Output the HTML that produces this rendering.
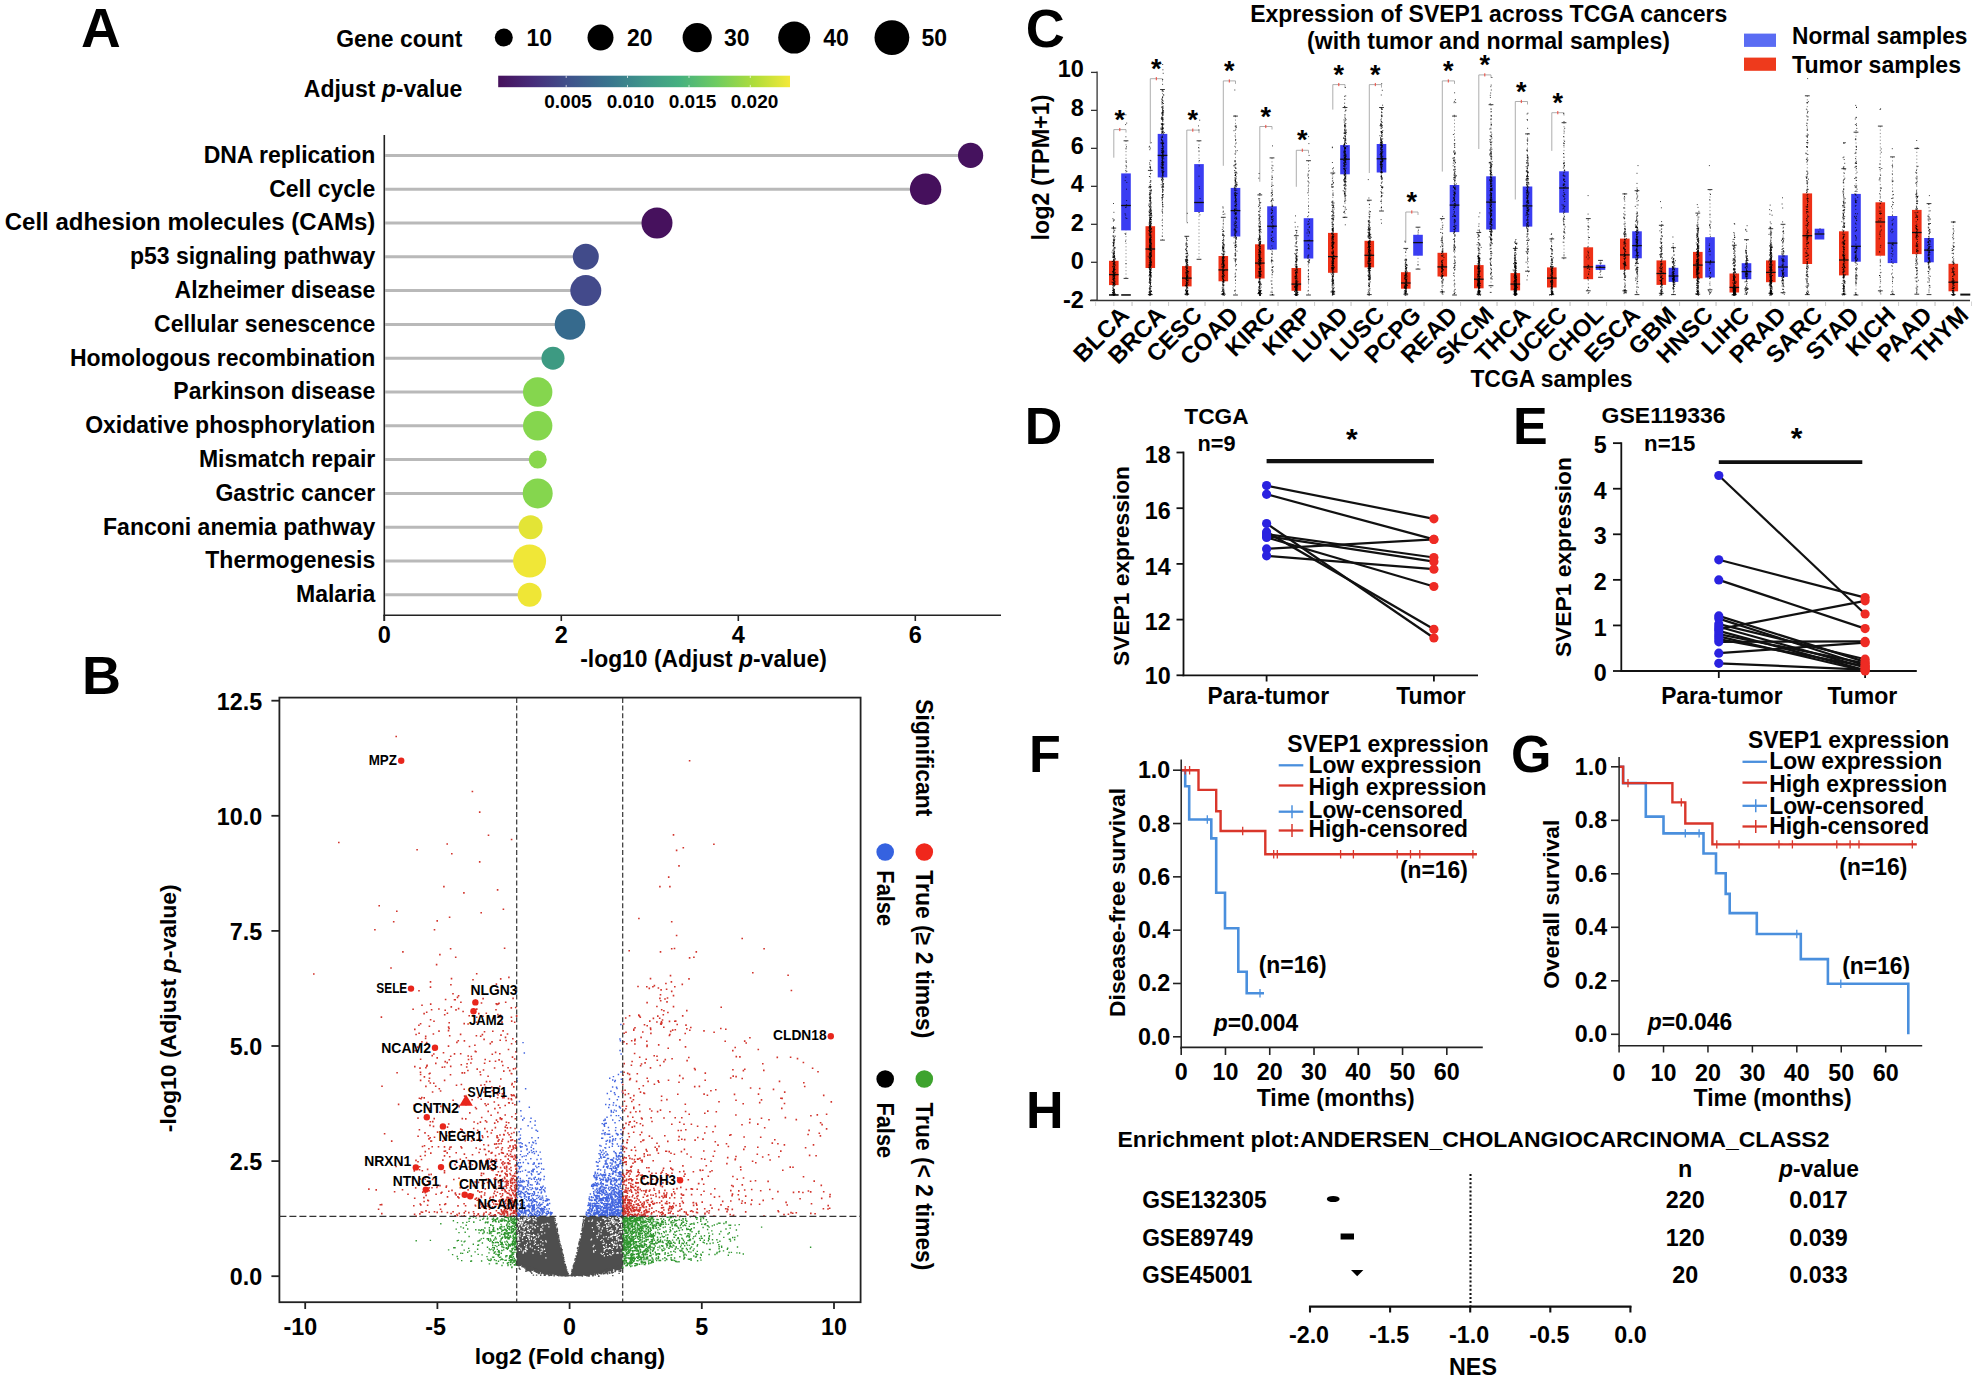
<!DOCTYPE html>
<html><head><meta charset="utf-8"><title>Figure</title>
<style>
html,body{margin:0;padding:0;background:#fff}
svg{display:block}
text{font-family:"Liberation Sans",sans-serif;font-weight:bold;fill:#000}
</style></head><body>
<svg width="1975" height="1380" viewBox="0 0 1975 1380">
<rect width="1975" height="1380" fill="#fff"/>
<text x="81" y="46.6" font-size="55">A</text>
<text x="462.3" y="47.3" font-size="23" text-anchor="end" textLength="126" lengthAdjust="spacingAndGlyphs">Gene count</text>
<circle cx="503.8" cy="37.6" r="9" fill="#000"/>
<text x="526.5" y="46" font-size="23">10</text>
<circle cx="600.5" cy="37.6" r="13" fill="#000"/>
<text x="627" y="46" font-size="23">20</text>
<circle cx="697.2" cy="37.6" r="14.6" fill="#000"/>
<text x="724" y="46" font-size="23">30</text>
<circle cx="794.2" cy="37.6" r="16" fill="#000"/>
<text x="823.3" y="46" font-size="23">40</text>
<circle cx="891.9" cy="37.6" r="17.4" fill="#000"/>
<text x="921.5" y="46" font-size="23">50</text>
<text x="462.3" y="97.2" font-size="23" text-anchor="end" textLength="158.5" lengthAdjust="spacingAndGlyphs">Adjust <tspan font-style="italic">p</tspan>-value</text>
<defs><linearGradient id="vir" x1="0" x2="1" y1="0" y2="0"><stop offset="0" stop-color="#46115c"/><stop offset="0.12" stop-color="#472d7b"/><stop offset="0.25" stop-color="#3f548c"/><stop offset="0.38" stop-color="#38758e"/><stop offset="0.5" stop-color="#3f958a"/><stop offset="0.62" stop-color="#45b080"/><stop offset="0.75" stop-color="#6fcc60"/><stop offset="0.88" stop-color="#b0dd3a"/><stop offset="1" stop-color="#f4e93a"/></linearGradient></defs>
<rect x="498.2" y="75.7" width="291.8" height="11.5" fill="url(#vir)"/>
<line x1="566.2" y1="75.7" x2="566.2" y2="78" stroke="#fff" stroke-width="1" stroke-opacity="0.7"/>
<line x1="566.2" y1="84.9" x2="566.2" y2="87.2" stroke="#fff" stroke-width="1" stroke-opacity="0.7"/>
<line x1="627.5" y1="75.7" x2="627.5" y2="78" stroke="#fff" stroke-width="1" stroke-opacity="0.7"/>
<line x1="627.5" y1="84.9" x2="627.5" y2="87.2" stroke="#fff" stroke-width="1" stroke-opacity="0.7"/>
<line x1="689" y1="75.7" x2="689" y2="78" stroke="#fff" stroke-width="1" stroke-opacity="0.7"/>
<line x1="689" y1="84.9" x2="689" y2="87.2" stroke="#fff" stroke-width="1" stroke-opacity="0.7"/>
<line x1="750.3" y1="75.7" x2="750.3" y2="78" stroke="#fff" stroke-width="1" stroke-opacity="0.7"/>
<line x1="750.3" y1="84.9" x2="750.3" y2="87.2" stroke="#fff" stroke-width="1" stroke-opacity="0.7"/>
<text x="568" y="108" font-size="19" text-anchor="middle">0.005</text>
<text x="630.5" y="108" font-size="19" text-anchor="middle">0.010</text>
<text x="692.5" y="108" font-size="19" text-anchor="middle">0.015</text>
<text x="754.5" y="108" font-size="19" text-anchor="middle">0.020</text>
<line x1="384.3" y1="135" x2="384.3" y2="621" stroke="#222" stroke-width="1.6"/>
<line x1="383.5" y1="615.3" x2="1001" y2="615.3" stroke="#222" stroke-width="1.6"/>
<line x1="384.3" y1="615" x2="384.3" y2="621" stroke="#222" stroke-width="1.6"/>
<text x="384.3" y="643" font-size="23.5" text-anchor="middle">0</text>
<line x1="561.3" y1="615" x2="561.3" y2="621" stroke="#222" stroke-width="1.6"/>
<text x="561.3" y="643" font-size="23.5" text-anchor="middle">2</text>
<line x1="738.3" y1="615" x2="738.3" y2="621" stroke="#222" stroke-width="1.6"/>
<text x="738.3" y="643" font-size="23.5" text-anchor="middle">4</text>
<line x1="915.3" y1="615" x2="915.3" y2="621" stroke="#222" stroke-width="1.6"/>
<text x="915.3" y="643" font-size="23.5" text-anchor="middle">6</text>
<text x="703.5" y="666.7" font-size="23" text-anchor="middle" textLength="246.6" lengthAdjust="spacingAndGlyphs">-log10 (Adjust <tspan font-style="italic">p</tspan>-value)</text>
<line x1="385" y1="155.4" x2="970.6" y2="155.4" stroke="#b9b9b9" stroke-width="3"/>
<circle cx="970.6" cy="155.4" r="12.6" fill="#45125e"/>
<text x="375.3" y="162.70000000000002" font-size="23" text-anchor="end">DNA replication</text>
<line x1="385" y1="189.2" x2="925.6" y2="189.2" stroke="#b9b9b9" stroke-width="3"/>
<circle cx="925.6" cy="189.2" r="15.7" fill="#45105c"/>
<text x="375.3" y="196.5" font-size="23" text-anchor="end">Cell cycle</text>
<line x1="385" y1="223.0" x2="657" y2="223.0" stroke="#b9b9b9" stroke-width="3"/>
<circle cx="657" cy="223.0" r="15.5" fill="#46115d"/>
<text x="375.3" y="230.3" font-size="23" text-anchor="end" textLength="370.5" lengthAdjust="spacingAndGlyphs">Cell adhesion molecules (CAMs)</text>
<line x1="385" y1="256.8" x2="585.8" y2="256.8" stroke="#b9b9b9" stroke-width="3"/>
<circle cx="585.8" cy="256.8" r="13" fill="#414b8a"/>
<text x="375.3" y="264.1" font-size="23" text-anchor="end">p53 signaling pathway</text>
<line x1="385" y1="290.6" x2="585.8" y2="290.6" stroke="#b9b9b9" stroke-width="3"/>
<circle cx="585.8" cy="290.6" r="15.5" fill="#434a8b"/>
<text x="375.3" y="297.90000000000003" font-size="23" text-anchor="end">Alzheimer disease</text>
<line x1="385" y1="324.4" x2="570" y2="324.4" stroke="#b9b9b9" stroke-width="3"/>
<circle cx="570" cy="324.4" r="15.3" fill="#366a8d"/>
<text x="375.3" y="331.7" font-size="23" text-anchor="end">Cellular senescence</text>
<line x1="385" y1="358.2" x2="553" y2="358.2" stroke="#b9b9b9" stroke-width="3"/>
<circle cx="553" cy="358.2" r="11.5" fill="#3d9a82"/>
<text x="375.3" y="365.5" font-size="23" text-anchor="end">Homologous recombination</text>
<line x1="385" y1="392.0" x2="537.7" y2="392.0" stroke="#b9b9b9" stroke-width="3"/>
<circle cx="537.7" cy="392.0" r="14.7" fill="#85d64e"/>
<text x="375.3" y="399.3" font-size="23" text-anchor="end">Parkinson disease</text>
<line x1="385" y1="425.79999999999995" x2="537.7" y2="425.79999999999995" stroke="#b9b9b9" stroke-width="3"/>
<circle cx="537.7" cy="425.79999999999995" r="14.7" fill="#85d64e"/>
<text x="375.3" y="433.09999999999997" font-size="23" text-anchor="end">Oxidative phosphorylation</text>
<line x1="385" y1="459.6" x2="537.7" y2="459.6" stroke="#b9b9b9" stroke-width="3"/>
<circle cx="537.7" cy="459.6" r="9" fill="#88d74c"/>
<text x="375.3" y="466.90000000000003" font-size="23" text-anchor="end">Mismatch repair</text>
<line x1="385" y1="493.4" x2="537.7" y2="493.4" stroke="#b9b9b9" stroke-width="3"/>
<circle cx="537.7" cy="493.4" r="15" fill="#85d64e"/>
<text x="375.3" y="500.7" font-size="23" text-anchor="end">Gastric cancer</text>
<line x1="385" y1="527.1999999999999" x2="530.6" y2="527.1999999999999" stroke="#b9b9b9" stroke-width="3"/>
<circle cx="530.6" cy="527.1999999999999" r="12" fill="#e3e436"/>
<text x="375.3" y="534.4999999999999" font-size="23" text-anchor="end">Fanconi anemia pathway</text>
<line x1="385" y1="561.0" x2="529.6" y2="561.0" stroke="#b9b9b9" stroke-width="3"/>
<circle cx="529.6" cy="561.0" r="16.5" fill="#f0e737"/>
<text x="375.3" y="568.3" font-size="23" text-anchor="end">Thermogenesis</text>
<line x1="385" y1="594.8" x2="529.6" y2="594.8" stroke="#b9b9b9" stroke-width="3"/>
<circle cx="529.6" cy="594.8" r="12" fill="#efe636"/>
<text x="375.3" y="602.0999999999999" font-size="23" text-anchor="end">Malaria</text>
<text x="82" y="693.5" font-size="54">B</text>
<path d="M569.6 1276.2L570.9 1273.9L572.2 1270.5L573.6 1266.5L574.9 1262.1L576.2 1257.3L577.5 1252.1L578.9 1246.7L580.2 1241.1L581.5 1235.2L582.8 1229.1L584.1 1222.9L585.5 1216.4L622.5 1216.3L622.5 1265.6L618.1 1267.1L613.7 1268.5L609.3 1269.8L604.9 1271.0L600.4 1272.0L596.0 1273.0L591.6 1273.8L587.2 1274.5L582.8 1275.1L578.4 1275.6L574.0 1276.0L569.6 1276.2z" fill="#4e4e4e"/>
<path d="M569.6 1276.2L568.3 1273.9L567.0 1270.5L565.6 1266.5L564.3 1262.1L563.0 1257.3L561.7 1252.1L560.3 1246.7L559.0 1241.1L557.7 1235.2L556.4 1229.1L555.1 1222.9L553.7 1216.4L516.7 1216.3L516.7 1265.6L521.1 1264.8L525.5 1266.6L529.9 1268.3L534.3 1269.8L538.8 1271.1L543.2 1272.3L547.6 1273.3L552.0 1274.2L556.4 1274.9L560.8 1275.5L565.2 1275.9L569.6 1276.2z" fill="#4e4e4e"/>
<path d="M605.6 1236.6h1.2M619.2 1245.2h1.2M615.6 1217.1h1.2M612.0 1218.1h1.2M605.8 1244.3h1.2M617.6 1236.3h1.2M611.7 1221.4h1.2M619.8 1219.4h1.2M604.0 1220.0h1.2M588.2 1221.2h1.2M620.6 1229.0h1.2M607.8 1248.8h1.2M614.1 1241.8h1.2M620.3 1222.5h1.2M620.5 1253.0h1.2M593.0 1231.3h1.2M617.1 1252.5h1.2M616.0 1239.1h1.2M619.0 1219.4h1.2M618.3 1239.8h1.2M616.6 1234.6h1.2M611.7 1221.7h1.2M605.4 1219.1h1.2M603.2 1218.2h1.2M612.8 1247.3h1.2M611.5 1218.9h1.2M602.4 1243.7h1.2M612.6 1221.8h1.2M609.8 1237.0h1.2M613.6 1235.1h1.2M596.3 1225.0h1.2M600.6 1253.3h1.2M611.4 1232.1h1.2M601.3 1239.5h1.2M615.1 1233.9h1.2M609.9 1225.8h1.2M606.2 1227.3h1.2M612.0 1243.4h1.2M609.9 1230.2h1.2M619.7 1240.3h1.2M611.5 1249.4h1.2M600.1 1221.6h1.2M610.8 1236.7h1.2M608.2 1222.7h1.2M611.1 1219.9h1.2M600.4 1233.8h1.2M596.7 1237.6h1.2M602.7 1216.5h1.2M621.8 1232.2h1.2M614.3 1222.9h1.2M620.6 1240.1h1.2M620.0 1229.3h1.2M603.6 1243.1h1.2M593.2 1252.2h1.2M619.6 1217.8h1.2M609.2 1254.4h1.2M616.2 1229.2h1.2M609.9 1232.9h1.2M601.6 1228.9h1.2M615.8 1225.9h1.2M621.2 1240.3h1.2M609.0 1244.5h1.2M621.2 1224.9h1.2M614.9 1234.6h1.2M612.2 1222.2h1.2M594.9 1250.4h1.2M603.8 1255.9h1.2M616.8 1245.0h1.2M621.3 1221.2h1.2M619.8 1219.1h1.2M601.6 1254.5h1.2M591.8 1227.6h1.2M604.7 1223.4h1.2M620.4 1216.3h1.2M606.6 1229.7h1.2M616.4 1236.8h1.2M618.9 1235.7h1.2M611.7 1242.2h1.2M613.0 1253.0h1.2M621.7 1232.8h1.2M615.1 1222.0h1.2M608.1 1237.3h1.2M597.2 1224.7h1.2M611.8 1223.2h1.2M607.1 1255.5h1.2M607.3 1226.8h1.2M612.0 1231.6h1.2M605.6 1222.3h1.2M597.6 1226.6h1.2M602.2 1218.1h1.2M615.2 1226.1h1.2M618.3 1217.5h1.2M615.8 1237.7h1.2M618.9 1245.4h1.2M612.0 1218.0h1.2M606.4 1252.5h1.2M615.2 1235.4h1.2M617.5 1253.2h1.2M611.5 1235.8h1.2M609.1 1247.6h1.2M603.7 1249.7h1.2M604.7 1219.5h1.2M603.0 1246.7h1.2M591.0 1239.1h1.2M619.9 1245.8h1.2M620.5 1219.7h1.2M616.3 1237.5h1.2M610.4 1255.2h1.2M606.2 1248.4h1.2M611.0 1242.7h1.2M612.0 1253.6h1.2M590.4 1239.9h1.2M596.3 1235.6h1.2M598.2 1233.0h1.2M612.2 1235.3h1.2M591.3 1221.3h1.2M621.1 1232.1h1.2M603.7 1247.3h1.2M620.0 1220.9h1.2M603.5 1226.5h1.2M615.3 1245.1h1.2M611.3 1230.5h1.2M620.5 1247.8h1.2M601.9 1228.2h1.2M611.8 1232.6h1.2M621.6 1221.5h1.2M613.3 1224.3h1.2M611.0 1220.6h1.2M615.3 1218.1h1.2M616.2 1227.2h1.2M612.6 1218.2h1.2M605.6 1246.1h1.2M598.4 1228.8h1.2M617.8 1240.8h1.2M602.9 1253.6h1.2M613.9 1220.9h1.2M602.9 1241.2h1.2M621.0 1231.6h1.2M620.9 1224.7h1.2M609.2 1219.6h1.2M617.4 1238.8h1.2M616.2 1248.2h1.2M616.5 1218.5h1.2M616.4 1228.2h1.2M619.7 1222.3h1.2M602.9 1218.4h1.2M611.8 1238.1h1.2M616.8 1247.0h1.2M614.6 1245.5h1.2M610.2 1232.7h1.2M609.6 1221.8h1.2M612.0 1251.6h1.2M612.1 1221.1h1.2M618.8 1222.5h1.2M621.3 1218.6h1.2M611.1 1228.9h1.2M604.8 1249.2h1.2M608.6 1216.8h1.2M593.4 1245.4h1.2M621.5 1219.8h1.2M621.2 1226.1h1.2M607.8 1219.0h1.2M606.2 1222.5h1.2M612.8 1220.0h1.2M598.0 1223.1h1.2M614.3 1235.5h1.2M608.2 1224.4h1.2M598.6 1223.8h1.2M616.2 1253.1h1.2M616.5 1222.1h1.2M621.0 1227.0h1.2M609.8 1217.4h1.2M619.7 1222.2h1.2M608.7 1248.3h1.2M613.6 1244.7h1.2M600.7 1231.1h1.2M612.6 1231.1h1.2M607.4 1231.4h1.2M613.3 1244.0h1.2M615.9 1242.0h1.2M606.2 1226.2h1.2M608.5 1226.0h1.2M621.7 1247.2h1.2M599.1 1227.1h1.2M610.6 1236.3h1.2M619.5 1231.8h1.2M597.8 1234.9h1.2M611.5 1221.1h1.2M610.3 1236.2h1.2M600.3 1240.5h1.2M591.9 1220.2h1.2M609.9 1248.3h1.2M619.0 1229.3h1.2M612.8 1222.6h1.2M609.0 1230.6h1.2M617.5 1227.2h1.2M592.6 1246.7h1.2M618.9 1224.6h1.2M615.1 1230.8h1.2M596.8 1222.1h1.2M593.1 1250.8h1.2M604.3 1219.1h1.2M612.9 1245.2h1.2M617.7 1223.4h1.2M621.4 1229.5h1.2M607.4 1239.1h1.2M618.1 1233.0h1.2M606.1 1225.2h1.2M603.6 1250.8h1.2M614.8 1216.6h1.2M603.1 1237.1h1.2M518.3 1240.1h1.2M534.7 1227.9h1.2M518.8 1216.6h1.2M524.1 1219.8h1.2M532.8 1219.6h1.2M520.3 1248.4h1.2M517.6 1221.6h1.2M542.2 1227.1h1.2M541.6 1230.2h1.2M531.9 1216.8h1.2M525.5 1225.8h1.2M520.0 1222.5h1.2M516.4 1227.7h1.2M534.1 1242.0h1.2M517.3 1235.3h1.2M528.5 1236.8h1.2M523.5 1221.0h1.2M534.3 1238.8h1.2M517.9 1234.7h1.2M518.8 1217.3h1.2M524.2 1224.5h1.2M543.9 1249.3h1.2M540.3 1230.0h1.2M516.6 1240.4h1.2M525.1 1248.3h1.2M528.1 1234.6h1.2M525.8 1248.9h1.2M516.4 1235.7h1.2M525.8 1239.5h1.2M516.3 1231.2h1.2M521.8 1222.0h1.2M525.0 1250.6h1.2M528.8 1231.6h1.2M542.2 1241.7h1.2M530.0 1229.4h1.2M527.6 1217.8h1.2M545.1 1240.9h1.2M535.0 1217.6h1.2M531.6 1247.9h1.2M516.4 1228.5h1.2M540.0 1230.3h1.2M525.3 1217.3h1.2M516.3 1240.4h1.2M519.1 1216.4h1.2M529.6 1247.0h1.2M521.0 1225.9h1.2M544.6 1224.2h1.2M524.7 1226.3h1.2M541.1 1225.2h1.2M525.2 1217.2h1.2M527.8 1230.7h1.2M530.9 1239.2h1.2M541.3 1248.9h1.2M523.6 1234.5h1.2M545.3 1257.9h1.2M525.2 1217.8h1.2M538.0 1247.5h1.2M518.0 1238.8h1.2M537.9 1245.0h1.2M519.2 1220.6h1.2M517.9 1244.3h1.2M518.5 1222.3h1.2M529.0 1230.0h1.2M523.9 1227.5h1.2M517.9 1217.6h1.2M517.8 1242.7h1.2M517.6 1232.7h1.2M519.4 1236.2h1.2M518.0 1217.5h1.2M527.1 1230.6h1.2M527.9 1219.7h1.2M529.1 1217.0h1.2M532.4 1253.1h1.2M517.5 1236.8h1.2M526.8 1243.2h1.2M518.0 1225.9h1.2M523.7 1217.2h1.2M518.9 1229.4h1.2M522.9 1235.6h1.2M523.2 1220.8h1.2M535.1 1224.6h1.2M523.5 1250.9h1.2M522.2 1240.7h1.2M525.2 1251.6h1.2M544.1 1233.0h1.2M525.3 1223.6h1.2M534.9 1220.0h1.2M527.7 1229.0h1.2M529.6 1218.5h1.2M518.7 1219.2h1.2M531.8 1227.2h1.2M523.7 1235.0h1.2M522.5 1231.3h1.2M520.7 1219.7h1.2M542.1 1224.3h1.2M521.4 1223.2h1.2M523.9 1216.5h1.2M526.5 1234.4h1.2M532.4 1217.8h1.2M519.0 1228.2h1.2M527.1 1236.3h1.2M521.2 1225.3h1.2M528.3 1238.1h1.2M517.9 1224.5h1.2M529.7 1224.9h1.2M516.7 1245.8h1.2M529.1 1219.6h1.2M524.0 1245.3h1.2M532.9 1235.9h1.2M521.3 1220.5h1.2M540.5 1249.0h1.2M548.2 1224.0h1.2M533.9 1219.9h1.2M538.5 1235.8h1.2M524.9 1250.3h1.2M522.4 1227.4h1.2M535.8 1237.1h1.2M523.2 1233.1h1.2M516.7 1239.4h1.2M519.8 1234.0h1.2M535.0 1240.7h1.2M548.3 1226.8h1.2M530.8 1238.0h1.2M522.7 1252.2h1.2M516.5 1217.5h1.2M546.7 1223.3h1.2M516.9 1222.2h1.2M521.4 1224.7h1.2M516.3 1220.9h1.2M528.8 1239.7h1.2M529.2 1219.7h1.2M526.9 1218.2h1.2M526.7 1220.5h1.2M539.7 1252.0h1.2M533.7 1244.3h1.2M517.6 1238.1h1.2M525.7 1246.8h1.2M531.3 1225.1h1.2M529.2 1234.9h1.2M518.8 1250.3h1.2M537.8 1237.2h1.2M520.3 1220.8h1.2M522.0 1237.3h1.2M524.6 1231.6h1.2M532.1 1231.1h1.2M542.3 1245.2h1.2M537.7 1250.4h1.2M524.2 1235.4h1.2M529.5 1242.1h1.2M522.4 1222.8h1.2M521.0 1216.7h1.2M535.5 1217.9h1.2M533.0 1235.5h1.2M516.8 1239.1h1.2M537.4 1234.2h1.2M516.3 1237.8h1.2M533.0 1234.7h1.2M523.7 1227.4h1.2M527.6 1226.3h1.2M540.4 1240.3h1.2M529.8 1246.0h1.2M525.9 1244.6h1.2M534.3 1227.7h1.2M518.6 1247.3h1.2M534.8 1243.5h1.2M534.2 1235.5h1.2M540.4 1228.6h1.2M519.2 1242.6h1.2M516.5 1230.6h1.2M516.7 1223.3h1.2M523.5 1228.9h1.2M522.5 1253.2h1.2M542.1 1249.9h1.2M545.7 1242.0h1.2M526.6 1249.4h1.2M543.9 1249.0h1.2M524.2 1219.2h1.2M531.4 1235.5h1.2M535.6 1220.8h1.2M540.2 1254.0h1.2M541.2 1251.4h1.2M524.1 1232.3h1.2M524.4 1219.0h1.2M533.3 1239.7h1.2M526.9 1227.7h1.2M527.7 1237.0h1.2M534.2 1249.7h1.2M523.1 1219.2h1.2M524.9 1219.3h1.2M525.8 1248.9h1.2M527.8 1220.6h1.2M533.5 1226.6h1.2M524.3 1232.3h1.2M519.6 1223.3h1.2M521.8 1238.0h1.2M520.7 1249.9h1.2M537.2 1226.3h1.2M532.7 1222.0h1.2M520.4 1230.8h1.2M518.0 1235.1h1.2M517.8 1217.4h1.2M527.4 1225.8h1.2M519.2 1224.6h1.2M527.5 1225.1h1.2M541.2 1233.8h1.2M540.0 1244.0h1.2M522.4 1231.3h1.2M544.7 1252.5h1.2M536.4 1245.3h1.2M516.3 1217.7h1.2" stroke="#fff" stroke-width="1.2" fill="none"/>
<path d="M618.9 1267.0h1.4M605.3 1270.8h1.4M579.0 1274.6h1.4M574.6 1258.7h1.4M606.6 1269.5h1.4M602.7 1270.7h1.4M588.5 1273.9h1.4M610.4 1268.8h1.4M591.1 1274.4h1.4M616.0 1267.1h1.4M618.4 1273.4h1.4M596.6 1273.0h1.4M613.3 1267.7h1.4M612.5 1268.2h1.4M579.5 1275.6h1.4M599.0 1273.0h1.4M581.6 1228.6h1.4M614.3 1271.1h1.4M586.7 1275.4h1.4M586.8 1275.0h1.4M593.2 1272.6h1.4M578.7 1242.6h1.4M620.3 1266.9h1.4M616.7 1266.7h1.4M588.9 1274.6h1.4M619.6 1271.3h1.4M597.8 1271.6h1.4M620.4 1267.6h1.4M605.7 1270.0h1.4M610.9 1268.7h1.4M606.5 1273.3h1.4M586.3 1273.9h1.4M598.9 1271.6h1.4M581.7 1276.0h1.4M582.3 1274.2h1.4M620.4 1267.2h1.4M577.5 1247.5h1.4M607.0 1270.7h1.4M606.3 1271.1h1.4M611.3 1270.4h1.4M605.1 1272.6h1.4M578.2 1243.3h1.4M600.6 1272.6h1.4M618.8 1265.7h1.4M586.2 1275.8h1.4M608.4 1272.5h1.4M586.0 1275.2h1.4M592.5 1273.4h1.4M590.4 1273.6h1.4M590.3 1273.5h1.4M607.0 1269.9h1.4M599.3 1271.3h1.4M617.0 1268.6h1.4M604.6 1272.3h1.4M572.2 1275.4h1.4M572.9 1266.3h1.4M588.2 1273.4h1.4M607.1 1270.8h1.4M586.0 1273.8h1.4M571.1 1275.8h1.4M584.8 1274.2h1.4M618.3 1271.1h1.4M611.0 1269.2h1.4M619.7 1267.5h1.4M610.8 1272.1h1.4M616.3 1266.7h1.4M612.9 1267.7h1.4M614.5 1270.0h1.4M584.4 1275.3h1.4M582.3 1274.8h1.4M578.4 1275.1h1.4M592.3 1274.7h1.4M618.0 1269.6h1.4M604.7 1271.1h1.4M573.2 1264.3h1.4M602.2 1272.8h1.4M604.3 1271.8h1.4M576.8 1248.2h1.4M618.9 1266.9h1.4M581.4 1275.6h1.4M618.0 1266.7h1.4M619.0 1268.6h1.4M572.6 1275.2h1.4M609.6 1269.3h1.4M606.7 1271.4h1.4M581.1 1233.9h1.4M602.8 1271.1h1.4M583.5 1274.9h1.4M616.4 1269.0h1.4M592.5 1275.5h1.4M617.5 1266.7h1.4M611.2 1268.3h1.4M615.4 1269.7h1.4M581.3 1275.2h1.4M572.0 1275.7h1.4M580.6 1236.1h1.4M609.5 1268.7h1.4M579.9 1275.0h1.4M582.7 1274.3h1.4M619.0 1265.8h1.4M620.0 1268.2h1.4M593.1 1273.3h1.4M571.5 1270.2h1.4M615.9 1267.8h1.4M611.7 1268.4h1.4M614.3 1271.5h1.4M614.7 1271.1h1.4M577.2 1275.1h1.4M571.1 1275.6h1.4M606.9 1273.9h1.4M608.7 1270.6h1.4M572.7 1267.1h1.4M611.7 1268.9h1.4M575.4 1275.2h1.4M614.5 1268.8h1.4M612.5 1272.4h1.4M583.6 1274.2h1.4M576.2 1253.0h1.4M605.8 1270.2h1.4M591.5 1273.1h1.4M574.7 1275.7h1.4M612.1 1275.6h1.4M619.7 1270.0h1.4M598.2 1276.2h1.4M580.5 1234.3h1.4M575.6 1256.7h1.4M581.2 1275.2h1.4M599.4 1272.4h1.4M588.3 1275.5h1.4M594.7 1273.6h1.4M574.4 1275.1h1.4M579.6 1239.3h1.4M607.2 1270.3h1.4M586.7 1274.9h1.4M615.6 1267.0h1.4M612.9 1268.6h1.4M621.4 1266.4h1.4M598.1 1271.6h1.4M617.1 1266.5h1.4M604.3 1271.7h1.4M577.6 1275.4h1.4M578.1 1275.5h1.4M609.8 1268.8h1.4M595.1 1273.6h1.4M591.9 1273.3h1.4M588.8 1273.7h1.4M594.9 1272.7h1.4M572.6 1267.0h1.4M614.3 1268.6h1.4M613.7 1267.5h1.4M578.3 1243.7h1.4M608.0 1269.5h1.4M612.7 1268.4h1.4M618.6 1269.2h1.4M597.8 1271.8h1.4M595.5 1272.3h1.4M597.9 1276.0h1.4M576.2 1274.9h1.4M584.8 1274.4h1.4M574.1 1275.1h1.4M587.1 1274.7h1.4M605.7 1270.0h1.4M590.6 1274.4h1.4M614.8 1267.6h1.4M620.2 1265.7h1.4M575.4 1255.9h1.4M614.2 1268.6h1.4M608.3 1269.0h1.4M600.2 1273.2h1.4M583.4 1274.4h1.4M621.5 1266.3h1.4M583.0 1217.6h1.4M578.1 1275.5h1.4M579.2 1275.0h1.4M616.4 1269.4h1.4M578.8 1244.1h1.4M615.4 1267.5h1.4M577.6 1275.1h1.4M610.7 1270.2h1.4M579.9 1274.9h1.4M608.2 1269.8h1.4M610.5 1269.7h1.4M614.1 1269.0h1.4M591.2 1273.7h1.4M591.6 1273.3h1.4M608.7 1269.2h1.4M611.4 1273.0h1.4M578.9 1274.6h1.4M584.8 1275.4h1.4M605.6 1270.1h1.4M583.4 1274.5h1.4M577.3 1249.9h1.4M615.0 1267.7h1.4M597.3 1272.3h1.4M606.3 1270.1h1.4M579.9 1275.0h1.4M606.4 1271.7h1.4M582.4 1223.3h1.4M607.0 1269.4h1.4M619.1 1266.8h1.4M581.2 1230.7h1.4M582.0 1225.3h1.4M604.2 1273.6h1.4M605.9 1272.3h1.4M615.3 1268.3h1.4M577.6 1274.8h1.4M608.4 1270.7h1.4M611.6 1269.5h1.4M614.3 1267.6h1.4M600.0 1271.7h1.4M604.6 1271.1h1.4M574.2 1260.1h1.4M605.9 1270.4h1.4M597.2 1272.7h1.4M602.6 1273.8h1.4M592.8 1274.0h1.4M577.1 1275.1h1.4M601.6 1270.8h1.4M588.3 1273.8h1.4M588.1 1275.7h1.4M616.7 1269.5h1.4M579.3 1239.2h1.4M620.0 1265.9h1.4M591.6 1272.8h1.4M596.6 1272.9h1.4M592.1 1275.7h1.4M620.9 1265.4h1.4M617.9 1269.5h1.4M594.5 1272.5h1.4M611.2 1272.0h1.4M581.9 1229.6h1.4M619.5 1265.7h1.4M587.4 1274.7h1.4M585.8 1273.9h1.4M587.7 1276.0h1.4M608.7 1270.5h1.4M578.7 1241.5h1.4M602.8 1271.7h1.4M590.8 1274.6h1.4M578.5 1275.6h1.4M588.7 1274.1h1.4M621.3 1266.1h1.4M612.2 1272.4h1.4M601.4 1271.9h1.4M607.8 1270.8h1.4M620.0 1268.3h1.4M583.9 1220.2h1.4M613.8 1268.5h1.4M601.4 1272.0h1.4M617.0 1266.6h1.4M572.1 1275.4h1.4M598.7 1273.4h1.4M577.3 1247.8h1.4M613.8 1267.6h1.4M592.2 1273.1h1.4M578.6 1243.6h1.4M584.3 1274.1h1.4M613.6 1268.3h1.4M574.7 1275.8h1.4M621.3 1266.1h1.4M611.9 1268.4h1.4M617.6 1267.1h1.4M591.6 1272.9h1.4M573.9 1263.0h1.4M587.8 1274.2h1.4M588.5 1276.0h1.4M606.4 1270.3h1.4M608.0 1269.7h1.4M599.7 1273.6h1.4M587.0 1273.7h1.4M603.7 1270.5h1.4M586.9 1273.9h1.4M586.3 1273.7h1.4M609.7 1269.1h1.4M572.1 1275.3h1.4M610.7 1269.0h1.4M583.1 1217.6h1.4M572.4 1275.3h1.4M578.2 1244.8h1.4M602.3 1271.2h1.4M588.3 1273.5h1.4M605.7 1270.2h1.4M582.0 1224.1h1.4M608.7 1269.2h1.4M597.0 1274.2h1.4M587.6 1273.8h1.4M587.0 1273.5h1.4M618.7 1268.0h1.4M616.8 1268.3h1.4M578.7 1274.9h1.4M576.3 1275.0h1.4M601.3 1271.0h1.4M596.9 1272.0h1.4M608.7 1269.0h1.4M593.8 1272.5h1.4M572.7 1275.3h1.4M576.5 1274.8h1.4M600.0 1271.4h1.4M604.4 1271.6h1.4M585.2 1274.6h1.4M620.1 1267.0h1.4M597.3 1272.1h1.4M574.3 1275.4h1.4M582.9 1274.3h1.4M609.3 1268.7h1.4M603.4 1270.6h1.4M620.6 1265.9h1.4M617.5 1268.5h1.4M583.5 1216.9h1.4M595.2 1273.7h1.4M603.0 1270.8h1.4M593.0 1273.3h1.4M581.3 1274.3h1.4M579.6 1240.3h1.4M580.4 1275.5h1.4M600.6 1273.7h1.4M616.9 1266.9h1.4M593.1 1274.1h1.4M604.5 1271.8h1.4M614.2 1268.1h1.4M608.8 1269.1h1.4M571.5 1269.4h1.4M581.8 1227.0h1.4M621.4 1267.3h1.4M580.8 1274.6h1.4M580.9 1274.4h1.4M603.4 1270.9h1.4M615.7 1267.7h1.4M621.1 1267.3h1.4M582.7 1274.2h1.4M619.3 1266.9h1.4M580.9 1274.3h1.4M604.4 1271.5h1.4M590.3 1273.7h1.4M595.1 1272.2h1.4M576.7 1252.6h1.4M600.7 1273.1h1.4M596.5 1272.8h1.4M611.1 1268.2h1.4M584.1 1274.0h1.4M571.2 1271.3h1.4M611.5 1270.8h1.4M621.3 1270.9h1.4M572.7 1265.7h1.4M587.6 1273.9h1.4M594.5 1275.0h1.4M592.8 1273.0h1.4M611.8 1270.3h1.4M584.7 1274.0h1.4M594.3 1272.3h1.4M601.6 1271.2h1.4M580.1 1234.0h1.4M587.2 1274.7h1.4M584.7 1274.9h1.4M619.8 1265.8h1.4M582.8 1221.8h1.4M604.5 1272.7h1.4M609.7 1270.4h1.4M597.7 1271.9h1.4M602.1 1272.0h1.4M611.6 1270.3h1.4M621.4 1268.9h1.4M581.4 1230.2h1.4M621.5 1268.9h1.4M610.6 1271.1h1.4M616.7 1267.0h1.4M607.7 1270.4h1.4M613.6 1267.9h1.4M583.0 1274.2h1.4M574.1 1276.1h1.4M615.5 1267.2h1.4M577.3 1250.3h1.4M598.2 1272.0h1.4M609.9 1268.7h1.4M609.8 1268.8h1.4M580.6 1233.7h1.4M594.8 1272.8h1.4M582.7 1220.0h1.4M597.2 1272.6h1.4M619.6 1267.8h1.4M609.1 1273.2h1.4M605.9 1269.7h1.4M597.7 1272.3h1.4M620.1 1267.6h1.4M608.9 1269.6h1.4M581.7 1230.9h1.4M603.5 1273.5h1.4M578.6 1274.9h1.4M619.9 1267.3h1.4M600.0 1271.9h1.4M621.7 1266.0h1.4M586.6 1273.7h1.4M578.2 1275.3h1.4M580.9 1274.3h1.4M617.9 1266.9h1.4M557.5 1236.4h1.4M556.6 1229.5h1.4M556.2 1274.7h1.4M549.0 1272.9h1.4M550.7 1274.0h1.4M558.0 1235.5h1.4M535.2 1270.7h1.4M540.4 1271.0h1.4M527.2 1267.9h1.4M564.5 1275.2h1.4M521.8 1265.5h1.4M560.0 1274.7h1.4M519.1 1264.6h1.4M541.3 1272.7h1.4M548.4 1273.3h1.4M537.4 1270.8h1.4M538.6 1272.7h1.4M561.4 1249.8h1.4M534.2 1269.4h1.4M558.4 1274.7h1.4M537.1 1271.8h1.4M536.9 1270.6h1.4M517.3 1264.3h1.4M517.5 1264.4h1.4M542.6 1272.5h1.4M532.4 1269.5h1.4M562.1 1275.0h1.4M540.9 1272.4h1.4M559.4 1244.8h1.4M561.8 1254.1h1.4M562.6 1255.3h1.4M530.3 1272.0h1.4M567.5 1273.6h1.4M560.3 1246.0h1.4M542.1 1272.0h1.4M557.1 1275.2h1.4M560.6 1275.8h1.4M557.4 1274.5h1.4M518.9 1264.3h1.4M556.7 1231.7h1.4M537.6 1270.8h1.4M518.7 1265.4h1.4M558.0 1237.6h1.4M551.6 1273.5h1.4M535.4 1270.6h1.4M522.0 1266.2h1.4M549.8 1274.3h1.4M533.0 1268.7h1.4M522.7 1267.1h1.4M519.4 1264.7h1.4M558.2 1275.7h1.4M563.8 1261.6h1.4M544.4 1275.3h1.4M558.5 1240.5h1.4M550.7 1273.9h1.4M531.5 1270.4h1.4M526.9 1269.8h1.4M526.6 1266.9h1.4M565.4 1268.1h1.4M548.7 1273.5h1.4M547.6 1272.9h1.4M554.2 1218.7h1.4M548.3 1275.6h1.4M549.8 1273.5h1.4M543.6 1275.2h1.4M557.6 1237.3h1.4M519.7 1265.2h1.4M556.9 1233.8h1.4M561.4 1253.4h1.4M560.1 1248.4h1.4M540.2 1270.9h1.4M555.9 1274.4h1.4M518.5 1264.3h1.4M518.5 1264.5h1.4M517.5 1262.8h1.4M565.0 1276.0h1.4M523.4 1265.2h1.4M522.4 1265.4h1.4M543.7 1273.4h1.4M535.2 1270.9h1.4M538.4 1273.1h1.4M553.2 1273.9h1.4M544.4 1273.1h1.4M552.7 1273.9h1.4M534.5 1271.2h1.4M549.2 1273.4h1.4M516.4 1263.0h1.4M541.7 1273.1h1.4M524.4 1268.3h1.4M542.1 1272.4h1.4M526.0 1269.1h1.4M566.3 1275.4h1.4M561.1 1251.8h1.4M518.6 1268.3h1.4M555.4 1225.9h1.4M518.1 1263.1h1.4M538.5 1270.5h1.4M560.5 1274.9h1.4M562.5 1275.0h1.4M556.7 1229.7h1.4M518.0 1263.3h1.4M560.1 1275.6h1.4M554.2 1274.5h1.4M517.0 1264.2h1.4M521.9 1264.9h1.4M565.0 1266.4h1.4M541.0 1271.2h1.4M553.4 1218.0h1.4M538.0 1270.2h1.4M545.9 1272.5h1.4M531.1 1269.0h1.4M530.9 1268.6h1.4M538.2 1273.5h1.4M516.6 1262.6h1.4M526.7 1267.9h1.4M554.4 1222.6h1.4M528.2 1268.3h1.4M535.7 1269.5h1.4M536.5 1270.9h1.4M530.6 1267.9h1.4M536.5 1271.1h1.4M517.1 1263.6h1.4M559.5 1245.1h1.4M518.0 1264.1h1.4M536.2 1269.9h1.4M519.0 1264.7h1.4M561.1 1251.5h1.4M557.7 1236.4h1.4M530.9 1270.0h1.4M561.6 1254.4h1.4M536.7 1270.4h1.4M565.1 1275.9h1.4M535.6 1269.9h1.4M519.3 1269.2h1.4M524.7 1266.2h1.4M535.3 1269.4h1.4M548.9 1273.7h1.4M549.4 1273.0h1.4M562.2 1275.3h1.4M540.4 1271.2h1.4M556.8 1275.1h1.4M519.7 1265.0h1.4M561.8 1275.3h1.4M526.6 1268.8h1.4M538.4 1270.4h1.4M520.2 1263.9h1.4M539.2 1271.2h1.4M562.7 1258.6h1.4M537.6 1270.1h1.4M541.5 1271.3h1.4M556.9 1274.4h1.4M540.5 1273.6h1.4M527.4 1267.4h1.4M539.3 1271.0h1.4M530.9 1268.5h1.4M524.8 1266.8h1.4M520.6 1264.8h1.4M524.2 1267.4h1.4M526.0 1268.4h1.4M529.0 1269.0h1.4M565.9 1275.8h1.4M516.5 1265.2h1.4M517.9 1264.4h1.4M535.1 1269.5h1.4M529.2 1270.0h1.4M540.1 1271.9h1.4M517.8 1265.5h1.4M560.2 1275.4h1.4M542.0 1271.8h1.4M534.7 1269.8h1.4M529.5 1268.0h1.4M548.9 1273.0h1.4M559.4 1244.6h1.4M526.1 1267.3h1.4M527.9 1269.7h1.4M521.3 1266.5h1.4M527.7 1270.3h1.4M550.7 1273.5h1.4M516.5 1262.7h1.4M531.1 1273.2h1.4M544.0 1272.4h1.4M528.7 1267.8h1.4M527.4 1270.3h1.4M520.8 1264.9h1.4M561.3 1252.6h1.4M558.7 1274.7h1.4M521.2 1264.4h1.4M565.4 1267.7h1.4M545.0 1272.4h1.4M533.6 1269.5h1.4M548.9 1273.1h1.4M565.9 1275.6h1.4M547.8 1274.6h1.4M536.3 1270.4h1.4M536.2 1270.7h1.4M520.1 1263.8h1.4M546.1 1274.0h1.4M531.0 1268.3h1.4M525.9 1267.0h1.4M522.3 1265.2h1.4M535.7 1272.3h1.4M560.2 1247.6h1.4M566.3 1275.4h1.4M530.2 1269.0h1.4M518.3 1265.7h1.4M553.4 1275.7h1.4M528.8 1268.1h1.4M534.4 1270.3h1.4M530.6 1268.2h1.4M529.5 1267.6h1.4M525.2 1271.3h1.4M533.7 1270.3h1.4M561.8 1275.8h1.4M555.5 1274.0h1.4M545.0 1274.0h1.4M563.0 1257.8h1.4M549.4 1275.4h1.4M528.8 1267.5h1.4M549.6 1274.8h1.4M536.6 1270.7h1.4M542.5 1271.6h1.4M533.4 1269.1h1.4M526.7 1269.8h1.4M564.0 1275.3h1.4M526.8 1269.4h1.4M555.0 1273.9h1.4M564.5 1265.2h1.4M542.0 1271.3h1.4M519.2 1263.6h1.4M546.8 1272.5h1.4M534.7 1269.4h1.4M541.6 1271.2h1.4M531.3 1268.7h1.4M566.9 1272.1h1.4M532.5 1269.6h1.4M518.3 1263.9h1.4M527.4 1268.7h1.4M519.5 1264.1h1.4M518.8 1264.2h1.4M557.4 1236.8h1.4M555.3 1274.6h1.4M556.1 1223.9h1.4M561.3 1253.3h1.4M531.6 1269.1h1.4M548.2 1273.9h1.4M568.5 1275.4h1.4M530.3 1269.7h1.4M549.9 1274.3h1.4M540.0 1271.4h1.4M554.8 1224.6h1.4M517.3 1264.4h1.4M554.1 1274.2h1.4M517.2 1262.7h1.4M563.8 1275.9h1.4M521.5 1264.5h1.4M530.1 1268.1h1.4M564.4 1275.0h1.4M534.9 1270.6h1.4M522.7 1265.1h1.4M530.5 1267.8h1.4M537.4 1271.2h1.4M561.6 1275.3h1.4M524.0 1266.4h1.4M537.1 1270.8h1.4M562.7 1274.9h1.4M528.6 1267.4h1.4M525.1 1266.4h1.4M551.0 1275.3h1.4M537.1 1270.1h1.4M561.1 1251.6h1.4M550.9 1274.1h1.4M562.3 1257.0h1.4M524.5 1265.6h1.4M529.7 1271.2h1.4M524.0 1265.5h1.4M531.8 1268.8h1.4M519.1 1265.3h1.4M560.4 1248.8h1.4M563.3 1259.9h1.4M545.2 1273.6h1.4M525.3 1266.8h1.4M538.0 1270.3h1.4M542.8 1271.7h1.4M556.3 1228.1h1.4M542.3 1271.9h1.4M529.9 1268.3h1.4M548.8 1272.9h1.4M546.0 1272.3h1.4M555.4 1224.7h1.4M520.1 1264.3h1.4M525.3 1269.5h1.4M543.4 1271.9h1.4M546.6 1272.7h1.4M526.5 1268.1h1.4M523.6 1265.6h1.4M556.9 1275.4h1.4M531.8 1269.1h1.4M532.0 1268.3h1.4M540.0 1275.3h1.4M556.5 1229.2h1.4M558.6 1274.8h1.4M554.5 1220.5h1.4M530.0 1270.0h1.4M529.0 1268.5h1.4M522.7 1265.1h1.4M545.6 1272.8h1.4M533.5 1271.0h1.4M523.5 1266.6h1.4M558.9 1241.6h1.4M529.1 1268.5h1.4M551.6 1273.6h1.4M528.7 1267.4h1.4M532.7 1275.1h1.4M522.3 1265.0h1.4M551.2 1273.4h1.4M519.4 1263.7h1.4M543.4 1272.8h1.4M539.3 1271.3h1.4M542.5 1272.8h1.4M527.2 1268.0h1.4M555.2 1274.3h1.4M543.1 1271.6h1.4M522.2 1265.3h1.4M542.6 1271.6h1.4M542.0 1271.4h1.4M566.1 1269.9h1.4M524.0 1265.7h1.4M526.2 1267.2h1.4M543.3 1273.4h1.4M528.5 1270.8h1.4M562.3 1275.0h1.4M560.6 1275.5h1.4M544.0 1271.8h1.4M562.3 1275.3h1.4M546.6 1273.6h1.4M544.3 1272.4h1.4M547.8 1273.0h1.4M546.2 1272.3h1.4M537.2 1272.8h1.4M543.0 1272.4h1.4M565.0 1275.9h1.4M533.8 1269.5h1.4M528.8 1268.4h1.4M562.2 1256.1h1.4M519.5 1264.7h1.4M567.3 1275.8h1.4M547.5 1273.8h1.4M526.4 1270.9h1.4M535.1 1270.2h1.4M544.1 1274.3h1.4M518.5 1264.2h1.4M557.6 1274.7h1.4M537.6 1271.3h1.4M550.1 1273.7h1.4M545.5 1272.2h1.4M522.1 1265.1h1.4M558.2 1239.1h1.4M529.3 1269.0h1.4M555.1 1225.7h1.4M533.4 1270.7h1.4M563.0 1275.6h1.4M516.4 1264.3h1.4M560.9 1250.3h1.4M538.1 1271.0h1.4M557.7 1274.7h1.4M549.2 1273.1h1.4M565.4 1267.1h1.4M531.3 1268.7h1.4M560.6 1248.4h1.4M562.0 1254.3h1.4M516.4 1262.1h1.4M542.9 1273.6h1.4M541.2 1271.5h1.4M541.3 1272.5h1.4M558.6 1274.8h1.4M556.6 1230.7h1.4M546.6 1273.1h1.4M561.1 1274.9h1.4M561.9 1275.6h1.4M524.7 1267.1h1.4M555.9 1229.6h1.4M535.9 1275.1h1.4M541.8 1272.6h1.4M548.3 1273.1h1.4M531.6 1269.8h1.4M559.1 1243.5h1.4M517.9 1265.3h1.4M535.1 1271.6h1.4M561.5 1253.7h1.4M522.9 1266.0h1.4M564.6 1264.4h1.4M557.2 1235.0h1.4" stroke="#4e4e4e" stroke-width="1.4" fill="none"/>
<path d="M651.9 1251.2h1.4M645.2 1248.9h1.4M701.1 1224.2h1.4M625.3 1232.3h1.4M655.9 1225.6h1.4M627.0 1235.4h1.4M625.6 1243.1h1.4M636.6 1245.5h1.4M639.1 1237.7h1.4M625.7 1238.1h1.4M624.4 1229.9h1.4M623.0 1240.4h1.4M621.9 1226.3h1.4M716.2 1239.7h1.4M642.3 1226.7h1.4M624.4 1246.8h1.4M643.4 1254.1h1.4M642.0 1245.2h1.4M626.7 1235.1h1.4M640.7 1257.1h1.4M647.1 1250.9h1.4M649.6 1246.0h1.4M663.6 1232.5h1.4M621.9 1248.0h1.4M668.8 1243.8h1.4M670.4 1221.8h1.4M707.7 1240.8h1.4M643.4 1259.0h1.4M633.3 1250.7h1.4M674.6 1224.8h1.4M654.7 1225.9h1.4M640.4 1231.9h1.4M636.3 1265.0h1.4M646.2 1221.4h1.4M644.5 1220.4h1.4M637.9 1250.5h1.4M627.5 1242.7h1.4M634.0 1259.0h1.4M634.2 1218.4h1.4M671.9 1240.1h1.4M630.6 1239.2h1.4M635.2 1233.1h1.4M632.7 1233.2h1.4M669.9 1246.5h1.4M630.1 1235.9h1.4M649.9 1221.2h1.4M677.1 1238.3h1.4M644.3 1225.3h1.4M650.1 1256.0h1.4M637.7 1258.1h1.4M658.4 1225.1h1.4M655.2 1259.1h1.4M638.9 1264.3h1.4M659.8 1226.2h1.4M629.2 1229.0h1.4M623.5 1258.4h1.4M708.1 1233.1h1.4M711.8 1239.7h1.4M640.3 1242.9h1.4M627.3 1225.9h1.4M646.1 1226.2h1.4M643.4 1250.8h1.4M631.7 1258.8h1.4M663.8 1236.6h1.4M637.9 1217.4h1.4M636.8 1245.5h1.4M630.1 1250.2h1.4M631.2 1238.4h1.4M639.8 1239.7h1.4M681.4 1243.2h1.4M652.6 1236.8h1.4M719.2 1223.3h1.4M636.6 1253.9h1.4M629.5 1224.3h1.4M625.8 1250.0h1.4M684.0 1257.6h1.4M661.9 1241.3h1.4M630.1 1218.7h1.4M686.6 1249.7h1.4M626.5 1236.7h1.4M624.3 1218.8h1.4M634.9 1247.7h1.4M623.7 1240.1h1.4M649.0 1255.8h1.4M661.6 1236.1h1.4M678.6 1219.5h1.4M689.4 1239.3h1.4M635.9 1232.3h1.4M639.1 1240.5h1.4M631.2 1257.1h1.4M625.4 1233.0h1.4M702.2 1217.0h1.4M632.0 1253.9h1.4M624.8 1260.7h1.4M678.6 1243.4h1.4M637.0 1253.7h1.4M661.6 1250.8h1.4M723.2 1223.5h1.4M639.2 1241.0h1.4M644.8 1250.5h1.4M703.8 1235.8h1.4M647.8 1221.6h1.4M657.5 1222.8h1.4M626.0 1249.5h1.4M629.7 1238.5h1.4M631.8 1220.8h1.4M629.5 1244.6h1.4M638.9 1247.2h1.4M662.6 1237.0h1.4M674.3 1243.2h1.4M681.6 1222.9h1.4M638.8 1219.0h1.4M708.6 1236.5h1.4M689.5 1248.9h1.4M688.7 1245.4h1.4M678.6 1242.0h1.4M717.1 1242.4h1.4M622.2 1233.9h1.4M649.4 1247.1h1.4M703.6 1240.2h1.4M646.7 1250.9h1.4M665.2 1235.1h1.4M627.0 1219.0h1.4M632.5 1257.6h1.4M664.2 1240.1h1.4M675.9 1239.9h1.4M648.5 1228.0h1.4M690.3 1252.1h1.4M625.7 1240.4h1.4M627.3 1225.5h1.4M635.6 1245.6h1.4M624.7 1251.1h1.4M636.7 1250.1h1.4M629.6 1250.0h1.4M664.3 1254.3h1.4M645.0 1231.2h1.4M622.5 1224.5h1.4M668.6 1248.1h1.4M623.8 1262.9h1.4M690.3 1258.8h1.4M652.7 1233.6h1.4M657.3 1239.2h1.4M641.6 1239.9h1.4M668.5 1255.4h1.4M632.1 1239.2h1.4M639.5 1233.2h1.4M638.3 1217.7h1.4M629.7 1219.8h1.4M622.3 1224.8h1.4M625.4 1250.2h1.4M640.1 1220.2h1.4M626.5 1238.9h1.4M673.5 1237.2h1.4M664.1 1216.4h1.4M675.4 1247.9h1.4M634.8 1236.4h1.4M667.6 1217.1h1.4M684.0 1225.0h1.4M652.9 1228.2h1.4M689.6 1224.2h1.4M628.0 1253.2h1.4M639.0 1217.8h1.4M634.2 1224.4h1.4M633.3 1229.2h1.4M689.7 1216.8h1.4M649.8 1233.3h1.4M627.9 1222.9h1.4M629.6 1258.7h1.4M687.0 1235.7h1.4M642.2 1253.3h1.4M706.6 1225.6h1.4M638.1 1239.3h1.4M645.5 1258.4h1.4M622.4 1235.1h1.4M636.4 1223.1h1.4M669.4 1229.6h1.4M650.0 1249.7h1.4M650.6 1230.2h1.4M631.6 1240.6h1.4M624.2 1231.2h1.4M640.5 1252.1h1.4M662.7 1224.3h1.4M629.9 1266.6h1.4M650.8 1218.3h1.4M624.8 1225.2h1.4M652.6 1228.5h1.4M622.2 1244.9h1.4M623.2 1218.7h1.4M651.6 1225.6h1.4M626.4 1217.0h1.4M637.9 1241.8h1.4M622.2 1262.6h1.4M708.0 1238.1h1.4M664.5 1227.0h1.4M641.0 1229.6h1.4M681.2 1250.2h1.4M637.9 1234.9h1.4M660.8 1233.8h1.4M622.8 1252.9h1.4M636.4 1222.1h1.4M653.5 1247.8h1.4M649.4 1247.1h1.4M734.4 1225.1h1.4M638.2 1257.2h1.4M673.1 1251.3h1.4M685.0 1225.5h1.4M687.7 1233.6h1.4M655.9 1260.6h1.4M632.6 1258.6h1.4M623.9 1238.0h1.4M623.9 1239.8h1.4M627.4 1255.4h1.4M675.1 1216.9h1.4M654.8 1232.2h1.4M628.3 1242.9h1.4M694.8 1257.1h1.4M637.5 1251.2h1.4M630.1 1257.2h1.4M665.4 1243.8h1.4M662.4 1242.6h1.4M670.4 1257.8h1.4M666.3 1244.5h1.4M622.4 1237.8h1.4M626.2 1226.1h1.4M629.8 1263.5h1.4M647.4 1233.9h1.4M655.7 1228.0h1.4M623.5 1220.6h1.4M676.3 1226.4h1.4M622.0 1250.4h1.4M629.4 1221.5h1.4M632.2 1243.9h1.4M629.5 1228.3h1.4M626.0 1241.1h1.4M668.1 1242.7h1.4M630.3 1238.5h1.4M628.7 1228.5h1.4M677.3 1248.6h1.4M623.5 1246.0h1.4M622.2 1223.2h1.4M723.1 1237.4h1.4M651.1 1243.8h1.4M647.5 1232.6h1.4M684.0 1245.7h1.4M627.0 1242.0h1.4M623.4 1249.2h1.4M645.4 1222.4h1.4M651.1 1216.9h1.4M672.6 1216.9h1.4M692.4 1244.2h1.4M628.3 1229.9h1.4M666.2 1240.7h1.4M678.6 1230.5h1.4M678.2 1261.7h1.4M682.2 1221.1h1.4M630.6 1223.4h1.4M631.9 1222.9h1.4M681.0 1223.0h1.4M625.1 1255.3h1.4M648.0 1250.1h1.4M637.6 1218.1h1.4M702.1 1252.2h1.4M627.9 1226.2h1.4M649.6 1263.1h1.4M728.4 1252.5h1.4M693.2 1223.2h1.4M625.3 1235.7h1.4M716.4 1224.1h1.4M682.2 1218.8h1.4M638.6 1228.8h1.4M685.7 1223.4h1.4M651.8 1222.9h1.4M668.6 1219.4h1.4M700.1 1221.3h1.4M628.6 1247.2h1.4M644.3 1264.5h1.4M632.8 1221.9h1.4M645.8 1257.2h1.4M647.2 1219.1h1.4M634.0 1231.5h1.4M677.8 1238.6h1.4M640.5 1228.6h1.4M628.2 1247.3h1.4M630.5 1262.4h1.4M631.0 1223.7h1.4M667.4 1240.9h1.4M625.8 1238.8h1.4M632.9 1232.8h1.4M685.9 1242.8h1.4M634.9 1223.8h1.4M686.0 1228.5h1.4M635.3 1219.5h1.4M624.0 1216.9h1.4M664.1 1257.7h1.4M627.9 1225.4h1.4M711.9 1234.1h1.4M686.2 1229.6h1.4M708.8 1249.4h1.4M624.7 1221.1h1.4M631.1 1221.7h1.4M725.3 1229.0h1.4M629.6 1238.6h1.4M626.1 1233.3h1.4M626.9 1243.0h1.4M622.6 1217.3h1.4M653.4 1244.6h1.4M630.2 1225.9h1.4M644.1 1235.0h1.4M623.2 1246.4h1.4M642.5 1223.1h1.4M629.3 1263.6h1.4M647.3 1251.3h1.4M623.1 1260.7h1.4M643.4 1241.4h1.4M632.0 1229.4h1.4M623.5 1250.1h1.4M644.4 1250.2h1.4M733.9 1239.7h1.4M721.0 1247.4h1.4M643.2 1216.7h1.4M680.6 1245.1h1.4M624.3 1219.7h1.4M633.5 1260.8h1.4M639.8 1226.5h1.4M637.1 1224.8h1.4M713.6 1225.0h1.4M651.2 1257.9h1.4M659.2 1247.9h1.4M676.4 1220.4h1.4M642.5 1228.9h1.4M623.4 1235.9h1.4M657.4 1219.6h1.4M624.2 1255.4h1.4M669.1 1231.9h1.4M641.5 1217.5h1.4M624.2 1222.1h1.4M625.7 1252.6h1.4M657.2 1258.9h1.4M669.7 1245.2h1.4M674.3 1232.4h1.4M631.5 1225.5h1.4M704.5 1224.6h1.4M625.0 1242.3h1.4M624.1 1242.1h1.4M632.7 1237.5h1.4M688.6 1226.4h1.4M673.9 1258.0h1.4M643.7 1241.9h1.4M664.5 1220.8h1.4M622.0 1222.5h1.4M635.1 1263.8h1.4M653.7 1235.7h1.4M728.7 1239.3h1.4M671.8 1220.6h1.4M645.8 1246.4h1.4M656.8 1222.3h1.4M662.9 1231.6h1.4M627.7 1228.5h1.4M652.0 1227.7h1.4M642.1 1262.3h1.4M631.5 1234.6h1.4M627.4 1248.0h1.4M639.2 1256.4h1.4M632.7 1241.3h1.4M702.4 1227.5h1.4M625.3 1244.9h1.4M676.5 1261.9h1.4M662.5 1227.5h1.4M631.3 1265.9h1.4M634.0 1247.2h1.4M657.9 1257.4h1.4M627.8 1228.8h1.4M623.1 1235.0h1.4M637.1 1246.5h1.4M639.1 1246.0h1.4M674.0 1219.7h1.4M649.7 1229.5h1.4M683.2 1255.0h1.4M642.7 1262.9h1.4M668.3 1220.5h1.4M626.6 1243.2h1.4M653.9 1235.8h1.4M623.6 1244.1h1.4M635.4 1233.9h1.4M695.6 1256.7h1.4M647.5 1239.5h1.4M637.9 1253.8h1.4M641.6 1257.4h1.4M658.9 1246.1h1.4M689.7 1248.2h1.4M629.6 1255.1h1.4M664.7 1222.6h1.4M688.9 1236.0h1.4M655.4 1243.6h1.4M647.1 1256.9h1.4M689.8 1239.9h1.4M643.4 1258.0h1.4M645.6 1252.6h1.4M636.2 1260.6h1.4M629.2 1239.0h1.4M624.1 1233.1h1.4M652.0 1225.9h1.4M635.6 1232.4h1.4M635.4 1230.0h1.4M659.6 1224.4h1.4M631.2 1263.2h1.4M645.5 1237.4h1.4M653.0 1226.1h1.4M635.2 1224.7h1.4M663.0 1248.1h1.4M630.5 1241.3h1.4M686.2 1221.2h1.4M646.8 1236.5h1.4M644.4 1227.0h1.4M622.5 1229.7h1.4M645.8 1235.0h1.4M685.6 1255.1h1.4M645.5 1218.4h1.4M631.1 1233.5h1.4M632.5 1226.5h1.4M655.5 1254.2h1.4M626.7 1247.0h1.4M641.2 1224.9h1.4M716.4 1252.4h1.4M642.1 1218.7h1.4M624.5 1242.4h1.4M632.0 1232.1h1.4M629.6 1263.8h1.4M628.6 1238.0h1.4M639.9 1223.0h1.4M629.7 1232.0h1.4M708.1 1238.5h1.4M629.5 1244.7h1.4M631.7 1227.0h1.4M631.6 1217.1h1.4M629.4 1249.4h1.4M655.4 1255.1h1.4M628.0 1247.5h1.4M657.8 1223.5h1.4M651.2 1247.3h1.4M649.2 1217.1h1.4M637.0 1258.3h1.4M623.1 1242.0h1.4M720.2 1231.5h1.4M630.5 1245.1h1.4M629.7 1242.1h1.4M670.5 1259.5h1.4M646.1 1251.5h1.4M653.7 1224.9h1.4M669.7 1243.4h1.4M696.9 1260.7h1.4M633.3 1256.9h1.4M659.8 1237.5h1.4M652.3 1259.4h1.4M625.4 1227.6h1.4M656.3 1219.5h1.4M640.6 1233.8h1.4M640.3 1221.6h1.4M633.4 1239.2h1.4M673.0 1242.2h1.4M640.6 1258.7h1.4M729.4 1239.2h1.4M627.7 1243.7h1.4M636.1 1254.3h1.4M636.7 1245.6h1.4M655.7 1257.9h1.4M622.1 1242.0h1.4M665.6 1258.9h1.4M695.0 1217.6h1.4M624.1 1248.5h1.4M735.7 1230.0h1.4M675.3 1261.5h1.4M643.3 1246.1h1.4M679.2 1256.7h1.4M658.4 1260.5h1.4M652.7 1238.4h1.4M708.4 1227.1h1.4M661.4 1242.0h1.4M651.4 1240.8h1.4M666.6 1217.3h1.4M657.3 1253.6h1.4M648.3 1236.2h1.4M696.9 1244.6h1.4M638.5 1229.6h1.4M652.4 1237.6h1.4M652.2 1250.1h1.4M624.9 1242.6h1.4M646.7 1227.7h1.4M638.5 1246.3h1.4M727.0 1248.3h1.4M685.6 1243.6h1.4M623.5 1225.5h1.4M646.5 1219.2h1.4M640.6 1262.3h1.4M638.2 1229.5h1.4M630.6 1231.6h1.4M630.3 1231.1h1.4M622.2 1229.7h1.4M629.3 1244.7h1.4M736.2 1252.9h1.4M736.9 1235.9h1.4M646.4 1239.6h1.4M655.9 1223.7h1.4M626.6 1246.5h1.4M644.9 1254.7h1.4M625.6 1232.5h1.4M634.4 1246.7h1.4M651.7 1258.1h1.4M626.4 1227.6h1.4M636.9 1231.1h1.4M627.7 1230.5h1.4M645.6 1257.3h1.4M626.3 1252.2h1.4M638.3 1236.6h1.4M718.4 1248.8h1.4M646.8 1251.0h1.4M622.0 1239.4h1.4M639.3 1231.4h1.4M645.3 1259.5h1.4M641.0 1259.0h1.4M624.4 1222.7h1.4M700.2 1218.0h1.4M665.4 1231.9h1.4M644.9 1236.9h1.4M634.4 1221.8h1.4M642.4 1220.0h1.4M636.6 1250.9h1.4M655.4 1228.4h1.4M643.8 1251.6h1.4M624.7 1233.2h1.4M626.6 1223.2h1.4M642.1 1228.1h1.4M632.2 1220.4h1.4M630.9 1216.7h1.4M624.0 1228.3h1.4M633.5 1219.0h1.4M652.4 1227.3h1.4M647.9 1226.1h1.4M632.8 1244.8h1.4M657.7 1258.3h1.4M633.0 1254.2h1.4M628.2 1251.7h1.4M622.6 1236.9h1.4M639.8 1227.5h1.4M728.6 1232.8h1.4M696.4 1217.8h1.4M641.1 1222.1h1.4M640.1 1240.1h1.4M631.5 1227.6h1.4M631.4 1248.1h1.4M641.2 1263.9h1.4M678.3 1261.8h1.4M626.5 1220.9h1.4M671.0 1260.2h1.4M630.0 1243.3h1.4M622.4 1253.5h1.4M635.8 1217.2h1.4M623.5 1230.1h1.4M629.6 1233.1h1.4M622.2 1227.6h1.4M706.9 1221.9h1.4M686.7 1245.1h1.4M643.6 1264.5h1.4M628.4 1263.2h1.4M635.7 1251.0h1.4M624.2 1263.5h1.4M628.5 1263.1h1.4M626.6 1223.6h1.4M640.1 1259.4h1.4M688.2 1251.7h1.4M630.2 1263.8h1.4M681.8 1238.9h1.4M650.5 1237.0h1.4M685.1 1220.2h1.4M675.2 1235.3h1.4M661.2 1249.5h1.4M687.5 1235.9h1.4M622.6 1248.3h1.4M719.0 1251.3h1.4M650.0 1243.9h1.4M631.7 1247.7h1.4M711.1 1230.9h1.4M653.3 1249.1h1.4M700.0 1219.6h1.4M626.7 1264.0h1.4M664.5 1252.8h1.4M688.5 1237.2h1.4M645.8 1248.5h1.4M648.6 1246.4h1.4M622.3 1238.0h1.4M689.9 1229.7h1.4M642.5 1222.7h1.4M623.4 1254.5h1.4M636.9 1264.2h1.4M624.9 1225.3h1.4M642.8 1231.1h1.4M628.5 1220.3h1.4M706.1 1243.8h1.4M629.1 1246.8h1.4M632.9 1244.5h1.4M659.9 1225.6h1.4M697.8 1231.8h1.4M678.8 1230.4h1.4M624.5 1256.7h1.4M630.7 1259.6h1.4M631.7 1231.0h1.4M666.7 1238.8h1.4M647.9 1231.4h1.4M659.9 1239.9h1.4M636.7 1237.6h1.4M650.5 1255.1h1.4M642.1 1238.1h1.4M669.1 1246.2h1.4M727.3 1234.0h1.4M644.8 1254.0h1.4M635.5 1247.9h1.4M643.2 1259.8h1.4M622.5 1216.5h1.4M622.1 1249.9h1.4M638.8 1216.9h1.4M635.6 1249.0h1.4M643.7 1232.2h1.4M690.7 1228.7h1.4M624.4 1220.7h1.4M700.6 1255.3h1.4M678.4 1219.7h1.4M682.6 1219.0h1.4M633.9 1232.4h1.4M671.6 1222.9h1.4M652.3 1221.0h1.4M657.5 1242.2h1.4M718.4 1251.9h1.4M702.5 1242.3h1.4M674.1 1220.8h1.4M672.1 1228.7h1.4M634.8 1238.3h1.4M638.3 1224.5h1.4M634.2 1241.6h1.4M671.1 1254.8h1.4M673.0 1234.3h1.4M659.2 1229.2h1.4M631.0 1221.2h1.4M653.8 1243.7h1.4M625.5 1254.7h1.4M623.0 1250.3h1.4M626.6 1265.4h1.4M623.6 1261.0h1.4M629.9 1260.5h1.4M634.0 1259.2h1.4M627.5 1235.4h1.4M637.3 1230.1h1.4M630.5 1231.9h1.4M632.7 1242.3h1.4M631.4 1260.5h1.4M621.9 1234.1h1.4M623.7 1261.0h1.4M630.3 1254.2h1.4M637.2 1246.5h1.4M634.0 1226.0h1.4M637.6 1220.6h1.4M661.8 1220.9h1.4M640.5 1246.0h1.4M650.5 1216.4h1.4M624.5 1230.8h1.4M679.4 1234.4h1.4M626.2 1216.4h1.4M634.9 1219.7h1.4M643.1 1257.2h1.4M647.0 1247.4h1.4M634.0 1221.1h1.4M698.2 1233.4h1.4M657.1 1229.9h1.4M641.5 1226.2h1.4M652.7 1216.6h1.4M675.4 1220.8h1.4M623.0 1241.2h1.4M627.2 1249.1h1.4M624.3 1222.2h1.4M641.9 1235.5h1.4M679.7 1225.5h1.4M688.7 1259.2h1.4M625.3 1240.7h1.4M650.9 1217.0h1.4M636.1 1257.1h1.4M631.1 1258.5h1.4M667.2 1234.7h1.4M631.3 1227.1h1.4M637.7 1253.6h1.4M624.3 1226.4h1.4M680.3 1227.8h1.4M727.6 1255.3h1.4M626.5 1239.2h1.4M645.8 1244.7h1.4M629.8 1250.9h1.4M639.8 1227.5h1.4M665.3 1224.2h1.4M672.4 1245.2h1.4M631.1 1238.9h1.4M666.2 1247.0h1.4M700.2 1254.3h1.4M630.5 1244.6h1.4M628.2 1258.5h1.4M634.1 1265.8h1.4M652.2 1235.2h1.4M626.9 1228.0h1.4M639.3 1236.2h1.4M693.1 1236.6h1.4M625.6 1247.8h1.4M627.3 1221.3h1.4M630.7 1261.9h1.4M641.6 1246.0h1.4M672.2 1260.1h1.4M630.1 1248.3h1.4M625.6 1238.8h1.4M696.1 1219.4h1.4M650.9 1262.7h1.4M655.3 1253.7h1.4M647.1 1232.4h1.4M718.5 1246.7h1.4M624.7 1227.5h1.4M636.2 1247.7h1.4M647.6 1230.1h1.4M652.5 1262.4h1.4M681.7 1229.8h1.4M689.1 1229.6h1.4M657.2 1247.4h1.4M635.8 1219.2h1.4M634.3 1220.2h1.4M631.7 1241.0h1.4M732.0 1237.5h1.4M622.1 1245.0h1.4M626.4 1236.2h1.4M709.4 1249.5h1.4M693.4 1227.8h1.4M627.8 1257.9h1.4M653.2 1221.6h1.4M633.7 1226.4h1.4M655.6 1254.9h1.4M662.2 1246.0h1.4M627.9 1241.3h1.4M623.0 1222.0h1.4M623.0 1217.0h1.4M651.7 1216.9h1.4M623.3 1246.1h1.4M643.0 1254.7h1.4M660.2 1223.5h1.4M641.3 1261.2h1.4M635.1 1222.5h1.4M622.2 1222.2h1.4M662.1 1258.9h1.4M644.7 1244.3h1.4M709.4 1243.5h1.4M646.7 1258.3h1.4M638.9 1247.3h1.4M628.2 1223.6h1.4M650.0 1228.0h1.4M652.5 1250.2h1.4M632.6 1254.9h1.4M654.5 1246.0h1.4M626.4 1224.3h1.4M626.4 1217.4h1.4M634.9 1230.7h1.4M691.5 1244.1h1.4M647.1 1239.9h1.4M647.5 1229.6h1.4M670.0 1241.9h1.4M661.0 1221.2h1.4M645.3 1239.3h1.4M642.4 1253.7h1.4M652.7 1248.3h1.4M637.2 1219.3h1.4M633.0 1247.0h1.4M657.2 1232.5h1.4M684.3 1254.1h1.4M631.8 1255.5h1.4M626.8 1244.6h1.4M670.2 1222.9h1.4M629.1 1229.3h1.4M628.7 1241.5h1.4M626.3 1252.8h1.4M677.4 1227.5h1.4M644.3 1221.1h1.4M625.7 1249.7h1.4M658.9 1254.3h1.4M641.4 1241.6h1.4M628.2 1250.5h1.4M631.8 1236.9h1.4M635.5 1235.4h1.4M635.0 1228.5h1.4M691.3 1231.7h1.4M681.2 1238.2h1.4M624.7 1221.0h1.4M629.1 1261.9h1.4M667.1 1255.8h1.4M645.4 1241.2h1.4M623.5 1241.9h1.4M625.8 1229.9h1.4M682.8 1240.2h1.4M648.8 1242.5h1.4M651.9 1217.6h1.4M630.7 1234.5h1.4M622.2 1220.1h1.4M623.7 1243.2h1.4M636.9 1236.4h1.4M631.3 1255.3h1.4M646.5 1224.0h1.4M736.8 1247.0h1.4M634.6 1258.4h1.4M690.1 1224.1h1.4M626.7 1220.3h1.4M644.5 1233.7h1.4M654.7 1226.5h1.4M629.7 1246.3h1.4M648.2 1231.9h1.4M664.2 1249.1h1.4M629.0 1230.9h1.4M640.1 1217.4h1.4M725.4 1221.6h1.4M693.4 1224.4h1.4M623.6 1225.5h1.4M682.3 1251.8h1.4M625.7 1220.7h1.4M628.1 1263.8h1.4M636.3 1245.9h1.4M633.7 1254.6h1.4M641.9 1222.9h1.4M623.0 1240.6h1.4M714.3 1254.5h1.4M649.6 1252.2h1.4M627.3 1222.3h1.4M703.2 1216.5h1.4M622.3 1267.2h1.4M635.4 1244.7h1.4M625.6 1220.2h1.4M642.5 1216.9h1.4M623.3 1241.2h1.4M625.4 1217.6h1.4M696.9 1254.6h1.4M636.2 1217.5h1.4M651.6 1242.0h1.4M652.9 1238.6h1.4M683.3 1256.0h1.4M650.0 1219.9h1.4M622.8 1249.3h1.4M639.6 1233.8h1.4M680.8 1234.9h1.4M624.7 1218.4h1.4M628.6 1224.9h1.4M625.7 1260.5h1.4M657.9 1241.4h1.4M683.7 1257.7h1.4M625.5 1262.0h1.4M641.4 1254.7h1.4M627.6 1241.5h1.4M671.4 1224.6h1.4M638.7 1245.7h1.4M631.7 1230.0h1.4M637.2 1229.2h1.4M625.8 1253.7h1.4M648.0 1263.7h1.4M696.9 1222.6h1.4M640.7 1258.6h1.4M637.5 1245.9h1.4M636.2 1241.6h1.4M626.9 1263.1h1.4M624.4 1258.5h1.4M629.0 1243.3h1.4M627.0 1257.9h1.4M650.5 1234.6h1.4M632.6 1229.3h1.4M646.9 1251.8h1.4M687.4 1233.7h1.4M626.8 1239.4h1.4M623.4 1249.4h1.4M693.8 1241.4h1.4M644.7 1262.2h1.4M641.0 1221.7h1.4M701.5 1238.4h1.4M760.9 1227.1h1.4M631.2 1234.1h1.4M643.2 1251.6h1.4M629.0 1217.0h1.4M689.1 1240.5h1.4M678.0 1228.3h1.4M637.3 1224.3h1.4M682.8 1243.7h1.4M703.7 1242.9h1.4M629.9 1221.2h1.4M674.5 1249.3h1.4M646.5 1254.5h1.4M670.4 1255.1h1.4M636.7 1220.1h1.4M641.7 1233.3h1.4M700.3 1260.1h1.4M622.0 1249.3h1.4M647.4 1227.3h1.4M629.2 1262.2h1.4M621.9 1268.3h1.4M629.4 1218.8h1.4M639.8 1249.7h1.4M628.5 1242.1h1.4M631.0 1253.6h1.4M641.8 1242.0h1.4M742.6 1254.0h1.4M623.8 1229.3h1.4M646.6 1233.6h1.4M726.6 1249.3h1.4M639.3 1218.3h1.4M695.6 1233.8h1.4M666.8 1245.3h1.4M642.0 1252.3h1.4M652.0 1225.2h1.4M648.9 1222.2h1.4M630.8 1225.6h1.4M662.4 1221.6h1.4M648.2 1246.8h1.4M637.8 1228.5h1.4M633.2 1217.5h1.4M661.7 1216.5h1.4M639.8 1237.8h1.4M670.8 1217.5h1.4M625.3 1221.6h1.4M712.4 1243.0h1.4M625.4 1231.1h1.4M640.4 1244.4h1.4M629.2 1223.2h1.4M623.1 1219.7h1.4M626.6 1242.3h1.4M632.0 1262.4h1.4M624.1 1260.2h1.4M622.4 1252.9h1.4M634.2 1236.1h1.4M700.5 1236.2h1.4M687.4 1240.6h1.4M682.2 1248.5h1.4M637.7 1252.0h1.4M637.4 1238.9h1.4M639.0 1248.9h1.4M665.3 1230.9h1.4M738.9 1253.0h1.4M695.8 1256.1h1.4M634.4 1248.3h1.4M630.6 1244.7h1.4M629.7 1240.1h1.4M632.3 1237.6h1.4M625.3 1257.3h1.4M629.7 1218.0h1.4M677.6 1237.8h1.4M623.2 1256.5h1.4M675.4 1223.6h1.4M635.5 1220.8h1.4M638.6 1234.0h1.4M671.5 1225.9h1.4M649.1 1245.2h1.4M627.8 1243.4h1.4M728.4 1225.2h1.4M664.4 1260.6h1.4M643.8 1217.0h1.4M645.4 1231.4h1.4M652.7 1234.6h1.4M656.8 1237.3h1.4M639.6 1218.5h1.4M637.6 1232.9h1.4M722.8 1250.9h1.4M622.1 1260.8h1.4M630.4 1239.7h1.4M622.6 1220.7h1.4M649.6 1231.3h1.4M729.8 1241.0h1.4M729.5 1228.1h1.4M632.7 1220.7h1.4M622.4 1260.4h1.4M647.8 1261.0h1.4M625.9 1217.4h1.4M635.9 1257.3h1.4M687.9 1251.6h1.4M683.6 1242.0h1.4M631.9 1224.2h1.4M630.5 1218.0h1.4M624.3 1263.6h1.4M626.9 1218.6h1.4M632.1 1252.0h1.4M636.8 1263.9h1.4M651.9 1241.1h1.4M682.9 1222.4h1.4M645.5 1233.1h1.4M717.9 1223.1h1.4M647.2 1259.1h1.4M628.1 1226.9h1.4M626.9 1226.3h1.4M682.9 1252.8h1.4M637.8 1234.0h1.4M650.4 1241.7h1.4M650.4 1218.8h1.4M696.5 1246.0h1.4M634.8 1241.6h1.4M683.5 1258.4h1.4M703.8 1224.3h1.4M643.9 1240.9h1.4M667.8 1224.4h1.4M652.3 1260.0h1.4M641.6 1247.3h1.4M642.4 1220.8h1.4M628.4 1218.3h1.4M638.3 1228.5h1.4M659.1 1225.5h1.4M668.1 1248.3h1.4M656.7 1243.1h1.4M730.7 1252.4h1.4M626.4 1265.2h1.4M625.6 1243.8h1.4M652.0 1239.6h1.4M623.9 1259.5h1.4M622.8 1234.2h1.4M632.9 1236.7h1.4M635.5 1222.1h1.4M642.5 1251.6h1.4M673.8 1237.2h1.4M653.0 1219.5h1.4M624.3 1247.4h1.4M635.9 1248.7h1.4M623.2 1246.6h1.4M666.9 1217.1h1.4M686.1 1221.4h1.4M628.9 1263.1h1.4M651.3 1217.5h1.4M623.0 1241.9h1.4M637.0 1225.6h1.4M674.4 1225.7h1.4M673.8 1260.5h1.4M662.4 1222.2h1.4M634.4 1263.6h1.4M680.7 1220.4h1.4M622.4 1236.7h1.4M633.6 1229.0h1.4M644.0 1222.5h1.4M679.2 1250.5h1.4M652.4 1254.1h1.4M625.7 1230.3h1.4M639.5 1220.8h1.4M705.0 1223.6h1.4M643.0 1256.1h1.4M634.9 1265.6h1.4M645.4 1224.9h1.4M623.0 1218.3h1.4M621.9 1217.5h1.4M634.1 1250.6h1.4M708.4 1239.3h1.4M708.4 1254.5h1.4M657.7 1256.5h1.4M649.6 1241.9h1.4M669.5 1227.5h1.4M656.5 1223.2h1.4M641.4 1247.3h1.4M624.0 1243.7h1.4M666.1 1259.5h1.4M632.7 1216.6h1.4M636.5 1218.0h1.4M663.1 1250.4h1.4M631.6 1224.9h1.4M661.6 1246.3h1.4M645.5 1229.0h1.4M658.1 1223.2h1.4M639.1 1219.2h1.4M654.8 1233.9h1.4M734.1 1237.5h1.4M623.5 1264.0h1.4M694.8 1236.0h1.4M637.9 1255.3h1.4M627.7 1244.7h1.4M643.2 1231.2h1.4M626.7 1253.9h1.4M637.3 1260.9h1.4M650.8 1222.8h1.4M698.3 1231.2h1.4M630.2 1220.2h1.4M651.1 1223.9h1.4M628.2 1263.1h1.4M626.3 1265.5h1.4M647.3 1237.1h1.4M689.6 1230.8h1.4M644.9 1263.4h1.4M698.9 1238.4h1.4M623.0 1234.6h1.4M699.7 1257.8h1.4M658.6 1233.9h1.4M621.8 1252.4h1.4M625.9 1240.8h1.4M643.0 1247.4h1.4M661.2 1222.7h1.4M622.4 1245.3h1.4M630.6 1237.9h1.4M637.1 1228.6h1.4M638.4 1255.5h1.4M670.2 1246.7h1.4M638.5 1225.8h1.4M637.3 1256.5h1.4M639.7 1257.7h1.4M648.0 1262.9h1.4M628.1 1224.5h1.4M650.7 1239.7h1.4M695.8 1254.4h1.4M631.8 1250.7h1.4M668.0 1241.7h1.4M622.9 1248.3h1.4M623.7 1260.1h1.4M638.9 1220.4h1.4M635.4 1234.2h1.4M643.7 1238.1h1.4M680.2 1251.2h1.4M626.7 1253.4h1.4M636.3 1249.1h1.4M630.1 1254.5h1.4M652.3 1243.7h1.4M654.6 1252.2h1.4M635.6 1253.9h1.4M679.9 1246.8h1.4M633.6 1258.1h1.4M649.3 1248.2h1.4M659.5 1241.5h1.4M652.1 1236.2h1.4M707.4 1226.0h1.4M628.7 1236.6h1.4M659.8 1260.5h1.4M633.9 1243.2h1.4M627.4 1227.5h1.4M625.7 1243.3h1.4M628.8 1229.4h1.4M661.0 1224.6h1.4M646.5 1233.1h1.4M699.6 1240.3h1.4M719.2 1241.2h1.4M693.1 1256.0h1.4M641.2 1228.3h1.4M651.0 1261.6h1.4M637.4 1223.8h1.4M640.8 1246.5h1.4M631.3 1227.4h1.4M623.3 1227.3h1.4M632.8 1239.7h1.4M680.6 1224.2h1.4M670.2 1251.7h1.4M626.8 1222.0h1.4M649.1 1247.6h1.4M638.8 1243.8h1.4M682.4 1225.7h1.4M640.7 1227.0h1.4M675.5 1246.7h1.4M628.8 1238.3h1.4M623.7 1228.7h1.4M635.7 1242.7h1.4M693.4 1248.9h1.4M626.0 1221.6h1.4M622.2 1220.2h1.4M650.2 1260.1h1.4M671.6 1247.1h1.4M636.2 1220.3h1.4M624.8 1247.4h1.4M708.8 1235.6h1.4M623.2 1216.6h1.4M655.2 1221.9h1.4M625.7 1258.1h1.4M632.1 1226.0h1.4M623.7 1219.4h1.4M693.8 1242.5h1.4M638.3 1232.8h1.4M649.9 1253.2h1.4M640.3 1258.0h1.4M686.5 1236.0h1.4M643.7 1243.8h1.4M688.7 1239.7h1.4M627.2 1244.6h1.4M624.7 1249.3h1.4M631.6 1218.2h1.4M642.2 1226.7h1.4M622.5 1248.9h1.4M674.2 1231.6h1.4M729.9 1225.3h1.4M627.8 1237.1h1.4M645.6 1240.1h1.4M702.8 1218.5h1.4M651.7 1218.8h1.4M633.4 1246.5h1.4M633.2 1232.7h1.4M690.4 1260.3h1.4M629.2 1265.4h1.4M628.4 1238.3h1.4M630.7 1259.1h1.4M658.8 1253.7h1.4M738.5 1224.6h1.4M705.7 1219.7h1.4M690.8 1247.0h1.4M622.1 1262.0h1.4M621.9 1247.1h1.4M640.5 1228.7h1.4M638.6 1259.8h1.4M639.0 1230.3h1.4M652.3 1261.4h1.4M639.8 1228.4h1.4M628.1 1246.5h1.4M673.1 1222.5h1.4M632.9 1261.3h1.4M630.5 1226.5h1.4M667.4 1253.2h1.4M635.2 1242.5h1.4M644.0 1245.2h1.4M623.3 1245.1h1.4M647.8 1219.8h1.4M621.9 1225.2h1.4M639.3 1252.9h1.4M675.0 1261.3h1.4M629.5 1241.4h1.4M634.2 1227.2h1.4M622.8 1238.7h1.4M625.3 1265.8h1.4M629.7 1260.1h1.4M626.1 1245.7h1.4M809.9 1247.2h1.4M638.3 1253.8h1.4M666.8 1237.6h1.4M653.7 1240.3h1.4M629.8 1257.9h1.4M627.6 1244.8h1.4M643.6 1262.3h1.4M639.8 1251.4h1.4M660.3 1218.8h1.4M640.5 1260.9h1.4M649.9 1233.5h1.4M639.5 1235.4h1.4M681.4 1248.5h1.4M636.7 1227.3h1.4M624.1 1230.6h1.4M628.0 1250.1h1.4M676.0 1225.4h1.4M639.5 1227.5h1.4M628.2 1234.1h1.4M649.1 1219.1h1.4M687.0 1235.7h1.4M630.9 1255.7h1.4M720.9 1246.1h1.4M649.2 1260.3h1.4M711.6 1225.9h1.4M641.7 1230.6h1.4M622.1 1224.2h1.4M685.9 1236.9h1.4M657.3 1249.9h1.4M633.2 1243.8h1.4M669.4 1217.8h1.4M628.4 1218.7h1.4M658.6 1253.7h1.4M673.2 1245.9h1.4M622.9 1244.3h1.4M625.5 1220.9h1.4M628.8 1252.3h1.4M624.4 1240.4h1.4M645.2 1250.8h1.4M662.9 1219.2h1.4M627.5 1251.4h1.4M629.1 1243.1h1.4M640.5 1245.3h1.4M648.5 1220.1h1.4M649.8 1255.9h1.4M644.8 1236.3h1.4M644.6 1249.7h1.4M637.6 1246.9h1.4M651.0 1216.8h1.4M641.2 1245.3h1.4M624.1 1258.7h1.4M631.2 1236.4h1.4M655.1 1242.2h1.4M678.9 1216.9h1.4M636.4 1222.9h1.4M645.9 1250.6h1.4M626.7 1240.0h1.4M659.1 1242.0h1.4M657.8 1227.6h1.4M623.3 1246.1h1.4M655.4 1224.2h1.4M626.3 1232.1h1.4M634.8 1218.4h1.4M647.7 1217.5h1.4M674.7 1235.2h1.4M634.5 1250.3h1.4M632.0 1259.7h1.4M657.1 1254.0h1.4M718.8 1234.0h1.4M629.9 1220.1h1.4M623.0 1244.1h1.4M640.2 1218.5h1.4M649.2 1235.3h1.4M640.5 1230.7h1.4M622.6 1222.2h1.4M700.8 1238.2h1.4M641.6 1237.3h1.4M649.7 1224.5h1.4M670.9 1243.3h1.4M629.7 1219.2h1.4M627.6 1227.4h1.4M646.7 1249.4h1.4M631.2 1257.5h1.4M650.8 1235.5h1.4M625.0 1237.1h1.4M626.0 1218.6h1.4M685.8 1248.5h1.4M656.7 1240.2h1.4M626.6 1233.3h1.4M725.3 1222.9h1.4M653.0 1225.4h1.4M626.0 1262.6h1.4M626.8 1227.1h1.4M696.6 1251.4h1.4M641.5 1222.2h1.4M659.6 1241.0h1.4M716.2 1253.6h1.4M651.3 1236.5h1.4M651.2 1234.9h1.4M674.0 1225.1h1.4M625.4 1220.7h1.4M643.3 1225.9h1.4M629.8 1245.6h1.4M640.7 1216.5h1.4M718.1 1244.8h1.4M639.6 1252.2h1.4M676.0 1231.2h1.4M668.9 1240.7h1.4M622.4 1247.2h1.4M632.6 1244.6h1.4M634.4 1246.3h1.4M687.7 1259.1h1.4M635.4 1235.9h1.4M633.5 1231.5h1.4M666.9 1242.9h1.4M661.0 1245.6h1.4M640.4 1224.4h1.4M625.5 1237.3h1.4M644.7 1226.3h1.4M630.3 1231.6h1.4M647.8 1221.7h1.4M691.2 1223.7h1.4M647.5 1248.0h1.4M678.8 1240.5h1.4M634.4 1246.7h1.4M695.0 1253.5h1.4M687.6 1229.2h1.4M670.0 1230.8h1.4M683.1 1259.1h1.4M645.6 1228.6h1.4M633.2 1220.1h1.4M626.0 1243.0h1.4M627.6 1232.1h1.4M674.7 1252.1h1.4M692.3 1238.5h1.4M689.1 1234.1h1.4M666.0 1245.0h1.4M639.1 1243.7h1.4M706.9 1229.5h1.4M660.4 1218.9h1.4M684.4 1233.6h1.4M622.6 1218.3h1.4M690.2 1229.8h1.4M635.4 1263.7h1.4M652.2 1219.1h1.4M629.3 1257.9h1.4M633.1 1221.6h1.4M684.9 1218.5h1.4M658.5 1233.2h1.4M649.3 1236.2h1.4M642.9 1221.7h1.4M626.4 1224.3h1.4M643.1 1225.5h1.4M692.5 1250.5h1.4M623.8 1224.0h1.4M622.3 1236.0h1.4M513.5 1244.4h1.4M498.2 1222.2h1.4M493.0 1242.7h1.4M483.4 1231.2h1.4M489.2 1232.4h1.4M515.7 1222.4h1.4M504.6 1237.2h1.4M492.8 1218.2h1.4M506.1 1237.9h1.4M502.5 1244.9h1.4M514.1 1223.7h1.4M512.4 1260.7h1.4M515.4 1227.9h1.4M505.4 1229.5h1.4M501.5 1230.2h1.4M488.7 1263.9h1.4M510.7 1251.4h1.4M508.0 1262.6h1.4M477.8 1245.0h1.4M499.8 1259.9h1.4M501.1 1231.5h1.4M515.4 1261.8h1.4M506.8 1227.2h1.4M513.4 1239.4h1.4M515.7 1238.1h1.4M467.0 1252.2h1.4M504.2 1242.0h1.4M514.5 1260.0h1.4M499.8 1244.4h1.4M501.4 1250.6h1.4M509.2 1255.8h1.4M494.0 1220.0h1.4M477.1 1245.4h1.4M513.9 1217.6h1.4M460.8 1241.1h1.4M494.1 1231.3h1.4M467.0 1229.0h1.4M515.0 1242.9h1.4M515.7 1223.7h1.4M493.0 1257.2h1.4M505.9 1225.5h1.4M508.9 1237.3h1.4M515.4 1238.0h1.4M515.6 1219.3h1.4M480.6 1238.9h1.4M447.9 1249.9h1.4M429.7 1240.4h1.4M468.4 1221.4h1.4M493.5 1249.1h1.4M514.7 1222.5h1.4M503.8 1234.8h1.4M508.5 1232.6h1.4M511.1 1226.5h1.4M500.3 1224.4h1.4M507.2 1232.6h1.4M510.0 1264.9h1.4M510.7 1243.9h1.4M512.4 1241.1h1.4M506.7 1263.2h1.4M515.8 1241.8h1.4M500.8 1259.3h1.4M512.3 1248.5h1.4M505.5 1260.2h1.4M476.9 1249.2h1.4M492.2 1229.7h1.4M486.7 1232.9h1.4M506.1 1237.4h1.4M512.5 1221.9h1.4M514.5 1237.3h1.4M506.3 1224.2h1.4M506.4 1236.7h1.4M496.7 1249.4h1.4M512.6 1231.3h1.4M511.8 1255.0h1.4M473.1 1222.0h1.4M511.9 1252.8h1.4M458.3 1232.6h1.4M505.9 1233.7h1.4M512.4 1236.3h1.4M461.4 1245.0h1.4M510.4 1233.0h1.4M496.9 1228.8h1.4M500.5 1238.6h1.4M485.0 1222.3h1.4M513.6 1258.5h1.4M512.5 1218.5h1.4M510.7 1222.3h1.4M511.4 1253.9h1.4M509.9 1264.5h1.4M490.6 1231.8h1.4M511.6 1244.0h1.4M499.6 1220.1h1.4M499.2 1236.0h1.4M514.1 1234.3h1.4M485.4 1222.2h1.4M510.2 1261.1h1.4M512.3 1219.5h1.4M496.9 1218.3h1.4M498.2 1250.6h1.4M502.6 1230.3h1.4M503.3 1219.3h1.4M511.4 1244.8h1.4M481.7 1243.0h1.4M507.0 1228.2h1.4M510.9 1227.1h1.4M500.6 1221.3h1.4M497.9 1250.6h1.4M468.4 1236.5h1.4M515.5 1246.5h1.4M481.4 1254.9h1.4M515.2 1237.6h1.4M497.1 1229.6h1.4M514.3 1229.9h1.4M472.6 1244.3h1.4M468.7 1250.9h1.4M509.3 1245.4h1.4M490.3 1233.5h1.4M512.7 1221.5h1.4M515.7 1223.8h1.4M503.5 1226.7h1.4M504.6 1220.4h1.4M451.9 1254.6h1.4M488.7 1233.5h1.4M515.3 1249.7h1.4M514.0 1260.6h1.4M511.8 1263.0h1.4M510.5 1244.0h1.4M506.4 1231.1h1.4M503.9 1220.2h1.4M514.7 1241.9h1.4M454.3 1247.8h1.4M514.4 1238.3h1.4M501.6 1237.7h1.4M512.6 1221.3h1.4M498.9 1232.8h1.4M513.4 1226.2h1.4M494.7 1221.4h1.4M509.8 1259.7h1.4M488.7 1230.0h1.4M511.8 1231.8h1.4M510.1 1256.0h1.4M478.5 1232.9h1.4M497.2 1254.7h1.4M515.5 1225.4h1.4M501.4 1219.2h1.4M510.1 1218.8h1.4M512.7 1243.9h1.4M492.9 1229.5h1.4M512.8 1237.2h1.4M498.8 1257.4h1.4M492.5 1220.9h1.4M509.5 1256.6h1.4M515.5 1235.4h1.4M511.8 1226.0h1.4M508.3 1229.2h1.4M505.2 1233.9h1.4M510.3 1257.2h1.4M512.4 1240.6h1.4M511.7 1223.3h1.4M460.2 1226.9h1.4M497.8 1261.2h1.4M502.2 1259.6h1.4M513.3 1244.3h1.4M482.2 1233.5h1.4M515.1 1240.0h1.4M497.4 1232.8h1.4M472.8 1217.0h1.4M470.7 1256.0h1.4M456.8 1222.6h1.4M470.1 1261.2h1.4M493.6 1247.8h1.4M477.5 1254.4h1.4M504.3 1236.7h1.4M505.5 1217.3h1.4M512.6 1240.1h1.4M484.2 1228.0h1.4M515.2 1223.8h1.4M513.0 1222.8h1.4M477.3 1241.1h1.4M509.0 1256.6h1.4M487.3 1222.0h1.4M495.9 1219.0h1.4M508.5 1260.5h1.4M492.2 1235.6h1.4M509.0 1226.5h1.4M504.0 1236.9h1.4M495.3 1254.2h1.4M495.5 1260.6h1.4M514.0 1249.8h1.4M499.5 1241.2h1.4M497.7 1256.1h1.4M490.7 1231.7h1.4M502.6 1247.3h1.4M509.7 1217.0h1.4M514.3 1216.6h1.4M509.2 1250.9h1.4M491.8 1242.8h1.4M514.1 1244.3h1.4M509.7 1246.0h1.4M508.7 1237.9h1.4M515.5 1265.0h1.4M468.4 1218.7h1.4M507.5 1248.3h1.4M509.9 1262.2h1.4M508.7 1224.0h1.4M468.0 1248.4h1.4M505.4 1255.8h1.4M501.5 1242.5h1.4M506.4 1230.8h1.4M490.5 1259.9h1.4M486.8 1219.0h1.4M492.9 1227.7h1.4M512.1 1219.3h1.4M500.8 1234.3h1.4M512.0 1232.5h1.4M510.7 1220.2h1.4M478.5 1230.1h1.4M494.8 1220.7h1.4M498.6 1254.7h1.4M494.7 1251.9h1.4M486.8 1247.3h1.4M462.2 1222.7h1.4M492.8 1219.9h1.4M511.8 1221.4h1.4M484.7 1222.8h1.4M490.0 1224.6h1.4M489.6 1238.9h1.4M463.4 1241.9h1.4M492.4 1225.8h1.4M512.7 1256.8h1.4M478.1 1230.0h1.4M510.5 1227.2h1.4M504.8 1230.0h1.4M505.9 1220.7h1.4M486.3 1256.6h1.4M491.3 1235.7h1.4M515.1 1247.8h1.4M487.8 1240.2h1.4M513.0 1239.7h1.4M514.2 1260.6h1.4M511.1 1267.5h1.4M506.1 1224.9h1.4M492.8 1228.3h1.4M486.6 1216.4h1.4M509.5 1235.8h1.4M498.5 1252.7h1.4M497.6 1242.7h1.4M512.5 1248.1h1.4M456.6 1240.7h1.4M499.1 1228.3h1.4M510.6 1256.9h1.4M470.8 1261.0h1.4M508.1 1220.1h1.4M504.2 1229.7h1.4M503.9 1234.3h1.4M513.6 1226.0h1.4M511.0 1229.0h1.4M456.5 1256.5h1.4M489.7 1260.6h1.4M513.7 1233.5h1.4M488.8 1231.1h1.4M512.5 1223.6h1.4M511.7 1241.6h1.4M464.3 1241.1h1.4M511.6 1250.0h1.4M511.8 1221.1h1.4M510.0 1264.7h1.4M515.5 1227.6h1.4M501.3 1238.3h1.4M512.2 1228.7h1.4M479.1 1216.5h1.4M511.2 1229.9h1.4M508.3 1239.1h1.4M510.9 1259.8h1.4M489.4 1249.7h1.4M516.0 1254.9h1.4M510.8 1260.2h1.4M501.1 1250.5h1.4M507.6 1235.2h1.4M474.4 1251.9h1.4M509.3 1246.0h1.4M503.5 1234.3h1.4M515.3 1229.1h1.4M514.1 1219.2h1.4M505.9 1245.1h1.4M507.2 1238.7h1.4M504.9 1237.6h1.4M510.2 1237.1h1.4M494.1 1238.9h1.4M492.0 1225.9h1.4M507.4 1235.0h1.4M492.0 1245.3h1.4M492.0 1221.6h1.4M507.1 1262.9h1.4M510.9 1232.3h1.4M481.0 1229.8h1.4M496.8 1233.5h1.4M507.6 1226.3h1.4M487.0 1218.1h1.4M483.4 1232.5h1.4M501.0 1244.7h1.4M497.2 1229.5h1.4M457.7 1240.4h1.4M508.3 1238.4h1.4M504.3 1260.4h1.4M496.5 1242.3h1.4M499.5 1227.6h1.4M514.7 1219.0h1.4M479.4 1220.2h1.4M510.7 1231.1h1.4M493.8 1259.8h1.4M513.9 1219.8h1.4M486.6 1218.9h1.4M500.4 1239.7h1.4M501.2 1218.7h1.4M509.2 1257.3h1.4M480.9 1261.0h1.4M496.2 1246.5h1.4M487.0 1222.8h1.4M513.9 1242.6h1.4M502.6 1262.9h1.4M486.5 1238.7h1.4M508.3 1245.5h1.4M513.2 1221.8h1.4M466.1 1222.4h1.4M514.1 1223.0h1.4M514.3 1247.2h1.4M492.6 1231.3h1.4M513.5 1261.2h1.4M502.1 1220.6h1.4M503.2 1247.5h1.4M511.3 1231.7h1.4M502.7 1234.4h1.4M504.2 1235.7h1.4M494.5 1245.6h1.4M507.8 1237.5h1.4M505.9 1231.0h1.4M507.5 1238.2h1.4M504.9 1216.7h1.4M513.0 1244.6h1.4M490.2 1225.2h1.4M515.8 1237.5h1.4M496.3 1263.5h1.4M488.6 1248.9h1.4M483.0 1218.1h1.4M503.8 1232.8h1.4M500.4 1229.0h1.4M511.9 1223.2h1.4M507.2 1222.7h1.4M495.0 1242.5h1.4M482.8 1238.4h1.4M507.3 1264.6h1.4M513.3 1262.2h1.4M501.2 1227.0h1.4M516.0 1216.5h1.4M501.4 1258.9h1.4M505.1 1244.2h1.4M510.5 1218.6h1.4M440.1 1223.7h1.4M475.1 1229.8h1.4M513.7 1264.7h1.4M513.8 1233.8h1.4M488.7 1227.8h1.4M511.8 1242.6h1.4M515.4 1252.4h1.4M500.0 1257.1h1.4M514.3 1247.9h1.4M495.5 1263.5h1.4M505.6 1247.8h1.4M514.4 1260.3h1.4M498.0 1245.3h1.4M506.8 1227.5h1.4M511.9 1248.7h1.4M510.5 1217.7h1.4M487.6 1238.7h1.4M513.7 1230.0h1.4M500.1 1221.0h1.4M495.6 1238.9h1.4M515.0 1249.9h1.4M511.3 1232.6h1.4M491.6 1219.3h1.4M515.3 1244.0h1.4M500.9 1226.2h1.4M493.4 1253.4h1.4M513.6 1222.2h1.4M507.4 1234.8h1.4M515.5 1223.6h1.4M509.1 1229.8h1.4M514.7 1229.1h1.4M510.4 1255.2h1.4M508.0 1217.0h1.4M501.3 1265.5h1.4M515.0 1225.3h1.4M505.1 1244.2h1.4M475.4 1218.1h1.4M457.1 1258.7h1.4M508.9 1221.2h1.4M492.6 1250.5h1.4M482.1 1219.3h1.4M465.5 1225.3h1.4M515.2 1263.7h1.4M478.6 1240.9h1.4M509.0 1228.1h1.4M501.2 1246.8h1.4M507.8 1244.0h1.4M461.9 1253.4h1.4M506.0 1241.1h1.4M482.6 1229.9h1.4M490.2 1240.2h1.4M510.3 1251.9h1.4M460.1 1253.2h1.4M488.2 1260.3h1.4M511.5 1252.5h1.4M462.7 1228.0h1.4M504.2 1217.2h1.4M514.1 1227.3h1.4M502.0 1237.2h1.4M510.7 1244.5h1.4M514.0 1265.1h1.4M498.0 1221.1h1.4M513.3 1241.3h1.4M499.5 1227.0h1.4M512.1 1245.5h1.4M506.6 1217.5h1.4M513.1 1224.1h1.4M491.1 1249.1h1.4M500.8 1243.3h1.4M514.6 1247.2h1.4M514.6 1232.2h1.4M490.3 1258.9h1.4M507.7 1221.8h1.4M501.0 1220.8h1.4M515.3 1235.2h1.4M463.5 1250.1h1.4M492.1 1247.4h1.4M491.6 1241.6h1.4M504.0 1229.3h1.4M504.0 1221.0h1.4M506.3 1255.8h1.4M508.0 1233.1h1.4M508.2 1233.6h1.4M515.8 1264.5h1.4M486.6 1238.9h1.4M512.5 1235.3h1.4M515.6 1262.5h1.4M506.4 1248.3h1.4M510.4 1261.8h1.4M505.5 1248.4h1.4M494.9 1219.8h1.4M491.9 1257.1h1.4M505.1 1256.9h1.4M509.6 1232.9h1.4M515.1 1260.1h1.4M461.0 1260.6h1.4M511.3 1257.5h1.4M493.7 1252.2h1.4M514.0 1220.4h1.4M493.0 1240.3h1.4M496.8 1218.0h1.4M495.3 1221.7h1.4M512.9 1228.6h1.4M515.9 1221.0h1.4M455.5 1229.1h1.4M498.7 1251.9h1.4M480.0 1230.5h1.4M415.5 1240.7h1.4M515.9 1227.9h1.4M515.1 1241.2h1.4M514.6 1234.6h1.4M512.0 1259.2h1.4M508.6 1258.2h1.4M497.5 1251.9h1.4M486.9 1259.1h1.4M513.3 1243.3h1.4M469.3 1218.2h1.4M514.3 1238.1h1.4M494.8 1237.2h1.4M507.7 1218.7h1.4M515.3 1233.3h1.4M515.6 1219.5h1.4M473.1 1222.4h1.4M506.7 1249.3h1.4M504.6 1238.3h1.4M507.6 1246.1h1.4M488.3 1252.9h1.4M510.5 1251.3h1.4M506.8 1242.2h1.4M500.1 1242.4h1.4M464.5 1232.2h1.4M511.3 1216.5h1.4M501.2 1221.3h1.4M511.2 1248.7h1.4M506.6 1233.7h1.4M510.1 1219.9h1.4M512.3 1238.4h1.4M496.8 1219.1h1.4M489.2 1241.4h1.4M491.0 1231.7h1.4M511.3 1267.0h1.4M479.2 1240.3h1.4M503.0 1249.9h1.4M452.7 1220.7h1.4M513.9 1237.8h1.4M514.0 1245.9h1.4M507.4 1221.6h1.4M453.1 1247.7h1.4M513.4 1252.3h1.4M507.3 1265.6h1.4M507.7 1247.1h1.4M504.5 1233.2h1.4M508.9 1244.8h1.4M515.3 1236.1h1.4M512.9 1254.0h1.4M505.4 1232.1h1.4M505.4 1237.4h1.4M500.6 1253.3h1.4M513.0 1230.1h1.4M501.6 1243.6h1.4" stroke="#309730" stroke-width="1.4" fill="none"/>
<path d="M605.7 1180.4h1.45M611.5 1216.0h1.45M590.8 1196.7h1.45M605.6 1191.5h1.45M610.6 1188.0h1.45M597.7 1212.0h1.45M610.8 1196.4h1.45M615.0 1162.8h1.45M605.5 1123.2h1.45M617.3 1202.8h1.45M610.9 1181.5h1.45M618.1 1179.0h1.45M611.3 1164.6h1.45M598.1 1184.4h1.45M600.7 1207.0h1.45M616.4 1206.7h1.45M614.6 1152.7h1.45M595.5 1177.0h1.45M621.5 1213.0h1.45M602.8 1157.2h1.45M593.1 1175.8h1.45M618.8 1215.3h1.45M597.8 1175.4h1.45M620.2 1211.2h1.45M592.4 1203.5h1.45M602.6 1212.2h1.45M596.1 1206.0h1.45M612.2 1208.7h1.45M621.5 1203.1h1.45M602.9 1192.2h1.45M588.1 1216.3h1.45M604.0 1172.2h1.45M607.8 1179.0h1.45M606.5 1185.1h1.45M621.4 1192.5h1.45M591.6 1205.7h1.45M602.1 1198.8h1.45M595.7 1195.5h1.45M617.9 1189.0h1.45M605.5 1141.2h1.45M600.8 1203.3h1.45M589.7 1208.8h1.45M612.7 1076.6h1.45M611.0 1168.8h1.45M595.1 1185.4h1.45M594.5 1173.2h1.45M601.6 1200.0h1.45M615.1 1127.6h1.45M589.5 1215.8h1.45M614.7 1161.6h1.45M618.6 1213.4h1.45M609.2 1215.8h1.45M611.3 1196.3h1.45M611.0 1170.3h1.45M617.9 1212.3h1.45M590.2 1214.5h1.45M609.5 1194.9h1.45M587.9 1202.9h1.45M591.6 1210.3h1.45M606.8 1203.5h1.45M615.5 1111.0h1.45M617.8 1146.3h1.45M611.5 1215.9h1.45M604.5 1132.8h1.45M610.3 1184.0h1.45M595.7 1205.4h1.45M599.5 1155.1h1.45M607.4 1201.8h1.45M613.3 1178.2h1.45M604.1 1205.8h1.45M604.2 1206.6h1.45M612.9 1157.9h1.45M607.7 1127.5h1.45M616.6 1159.9h1.45M620.1 1024.4h1.45M618.4 1210.4h1.45M612.8 1191.0h1.45M620.9 1191.2h1.45M614.3 1166.3h1.45M591.8 1208.2h1.45M611.6 1203.0h1.45M604.1 1169.9h1.45M619.5 1156.5h1.45M617.5 1167.1h1.45M617.4 1134.5h1.45M588.0 1212.1h1.45M614.3 1187.3h1.45M595.6 1208.4h1.45M616.4 1207.6h1.45M608.5 1209.5h1.45M611.0 1198.3h1.45M619.8 1191.0h1.45M611.8 1160.2h1.45M614.5 1162.5h1.45M619.8 1201.8h1.45M616.5 1134.0h1.45M615.8 1213.7h1.45M589.8 1205.3h1.45M616.8 1196.6h1.45M609.7 1197.6h1.45M616.4 1211.3h1.45M598.4 1189.2h1.45M599.9 1183.8h1.45M617.7 1209.5h1.45M614.9 1172.1h1.45M614.8 1130.5h1.45M607.5 1166.0h1.45M592.4 1188.6h1.45M607.7 1188.7h1.45M596.5 1185.9h1.45M608.0 1178.2h1.45M611.4 1159.4h1.45M606.8 1158.5h1.45M595.0 1197.1h1.45M595.1 1213.4h1.45M604.4 1195.1h1.45M589.4 1203.7h1.45M609.9 1205.2h1.45M595.9 1201.4h1.45M606.2 1203.7h1.45M620.4 1203.2h1.45M617.9 1166.0h1.45M610.6 1111.9h1.45M599.6 1150.5h1.45M596.1 1205.6h1.45M605.4 1192.7h1.45M603.3 1156.9h1.45M588.8 1199.9h1.45M621.3 1199.6h1.45M618.5 1194.9h1.45M600.7 1158.1h1.45M603.7 1211.3h1.45M615.8 1180.6h1.45M587.9 1210.0h1.45M614.4 1196.5h1.45M601.8 1176.0h1.45M618.6 1196.3h1.45M613.1 1178.4h1.45M585.9 1215.6h1.45M598.1 1215.8h1.45M600.6 1174.9h1.45M617.6 1164.6h1.45M597.6 1212.9h1.45M614.3 1122.7h1.45M593.8 1200.2h1.45M601.4 1202.8h1.45M599.4 1208.3h1.45M592.1 1184.4h1.45M607.4 1180.5h1.45M613.6 1206.0h1.45M619.3 1198.7h1.45M590.2 1216.3h1.45M610.4 1193.3h1.45M620.3 1174.5h1.45M597.1 1183.3h1.45M595.9 1209.6h1.45M621.1 1180.3h1.45M601.8 1198.1h1.45M599.8 1154.3h1.45M608.4 1130.6h1.45M596.1 1211.2h1.45M604.9 1198.9h1.45M613.3 1192.7h1.45M604.2 1201.6h1.45M621.8 1196.1h1.45M595.1 1203.6h1.45M608.6 1173.8h1.45M602.8 1208.5h1.45M603.6 1208.5h1.45M612.0 1144.1h1.45M600.5 1213.5h1.45M593.9 1184.4h1.45M595.1 1212.7h1.45M603.2 1216.3h1.45M614.3 1183.1h1.45M599.8 1202.1h1.45M599.8 1209.4h1.45M594.3 1204.5h1.45M595.7 1161.7h1.45M598.5 1191.9h1.45M596.9 1190.7h1.45M618.6 1173.7h1.45M604.7 1207.7h1.45M606.1 1206.8h1.45M601.9 1212.8h1.45M606.6 1093.5h1.45M618.7 1191.8h1.45M602.2 1187.0h1.45M607.8 1207.1h1.45M614.5 1200.7h1.45M595.9 1201.6h1.45M596.7 1203.0h1.45M603.8 1215.2h1.45M620.2 1193.4h1.45M613.2 1202.5h1.45M609.5 1206.0h1.45M614.0 1209.6h1.45M596.2 1179.3h1.45M613.4 1209.6h1.45M602.4 1130.4h1.45M612.3 1205.7h1.45M608.6 1204.2h1.45M593.2 1214.6h1.45M606.4 1134.1h1.45M598.3 1153.6h1.45M596.3 1185.0h1.45M617.1 1166.8h1.45M606.2 1166.6h1.45M618.9 1153.3h1.45M607.1 1154.7h1.45M608.9 1134.2h1.45M616.7 1210.6h1.45M590.9 1186.3h1.45M603.4 1133.5h1.45M594.5 1172.3h1.45M611.1 1211.8h1.45M602.3 1150.3h1.45M604.9 1180.3h1.45M611.9 1201.7h1.45M621.4 1149.0h1.45M615.0 1202.7h1.45M612.3 1200.7h1.45M615.8 1207.0h1.45M620.4 1054.0h1.45M596.6 1208.6h1.45M587.3 1213.0h1.45M603.3 1189.5h1.45M618.1 1173.0h1.45M600.3 1191.6h1.45M604.9 1185.1h1.45M601.5 1123.6h1.45M609.2 1209.4h1.45M619.5 1178.8h1.45M614.7 1188.5h1.45M602.7 1167.2h1.45M620.1 1183.0h1.45M612.6 1161.4h1.45M610.2 1091.2h1.45M611.1 1199.1h1.45M612.5 1173.6h1.45M593.0 1193.4h1.45M620.5 1181.0h1.45M610.0 1196.8h1.45M611.8 1141.1h1.45M617.2 1176.2h1.45M604.5 1120.1h1.45M615.6 1215.2h1.45M613.8 1177.9h1.45M610.9 1181.2h1.45M609.3 1141.1h1.45M608.8 1193.7h1.45M612.5 1105.1h1.45M614.6 1197.1h1.45M615.8 1213.7h1.45M620.9 1198.0h1.45M616.1 1204.6h1.45M613.4 1171.7h1.45M589.8 1203.1h1.45M615.6 1155.1h1.45M619.3 1050.4h1.45M614.0 1215.7h1.45M618.5 1155.5h1.45M598.9 1193.4h1.45M619.7 1200.1h1.45M620.6 1079.3h1.45M611.3 1163.2h1.45M620.5 1205.2h1.45M620.6 1200.0h1.45M611.6 1143.5h1.45M588.4 1198.7h1.45M593.6 1195.3h1.45M608.5 1209.6h1.45M609.0 1078.2h1.45M607.9 1195.4h1.45M601.0 1215.0h1.45M615.3 1199.7h1.45M620.3 1133.8h1.45M608.5 1175.7h1.45M614.8 1211.4h1.45M615.5 1214.6h1.45M609.3 1137.3h1.45M592.9 1191.6h1.45M606.4 1199.6h1.45M599.9 1174.0h1.45M590.8 1197.4h1.45M612.1 1140.0h1.45M598.6 1196.0h1.45M618.9 1201.3h1.45M609.3 1168.5h1.45M615.3 1153.4h1.45M599.5 1188.7h1.45M606.5 1153.9h1.45M594.3 1177.7h1.45M607.3 1194.9h1.45M608.0 1107.4h1.45M621.2 1207.5h1.45M615.2 1195.4h1.45M602.3 1150.4h1.45M611.9 1178.3h1.45M606.7 1215.9h1.45M587.1 1210.2h1.45M598.1 1196.5h1.45M615.7 1181.9h1.45M587.2 1205.4h1.45M614.7 1207.4h1.45M610.1 1159.6h1.45M614.6 1080.5h1.45M607.8 1198.7h1.45M591.4 1200.2h1.45M620.3 1190.8h1.45M605.2 1200.3h1.45M599.6 1199.1h1.45M609.6 1216.0h1.45M611.7 1197.8h1.45M604.5 1216.2h1.45M588.1 1204.8h1.45M595.6 1178.5h1.45M592.2 1186.8h1.45M610.2 1187.0h1.45M615.0 1170.7h1.45M606.5 1213.2h1.45M608.0 1207.5h1.45M620.4 1172.3h1.45M606.1 1211.5h1.45M604.1 1157.3h1.45M593.8 1213.4h1.45M602.5 1178.0h1.45M605.2 1155.2h1.45M616.9 1135.1h1.45M590.9 1209.1h1.45M605.6 1180.9h1.45M601.8 1215.9h1.45M602.9 1203.7h1.45M590.2 1199.9h1.45M618.5 1206.4h1.45M614.6 1185.4h1.45M611.6 1200.2h1.45M613.2 1209.3h1.45M617.6 1201.5h1.45M621.7 1182.1h1.45M613.7 1193.4h1.45M605.8 1160.1h1.45M611.9 1184.9h1.45M603.0 1207.6h1.45M600.1 1156.8h1.45M613.7 1110.1h1.45M620.0 1163.4h1.45M617.8 1184.3h1.45M600.9 1185.9h1.45M614.4 1191.6h1.45M605.3 1179.3h1.45M604.3 1177.4h1.45M619.9 1202.9h1.45M600.6 1212.9h1.45M620.3 1210.1h1.45M595.9 1178.9h1.45M621.0 1215.9h1.45M611.8 1214.7h1.45M597.2 1211.0h1.45M606.5 1216.3h1.45M605.4 1208.1h1.45M618.6 1120.6h1.45M607.2 1194.6h1.45M614.4 1195.0h1.45M611.3 1213.8h1.45M613.4 1202.2h1.45M606.7 1197.9h1.45M601.6 1213.8h1.45M610.2 1215.4h1.45M597.2 1195.7h1.45M586.0 1215.0h1.45M607.0 1204.8h1.45M617.2 1215.0h1.45M606.0 1207.1h1.45M598.5 1212.2h1.45M620.0 1174.8h1.45M609.8 1206.7h1.45M588.7 1205.4h1.45M603.8 1126.3h1.45M614.4 1094.4h1.45M615.3 1196.3h1.45M620.0 1206.3h1.45M606.8 1203.6h1.45M602.3 1174.8h1.45M592.4 1184.5h1.45M597.6 1208.3h1.45M608.9 1141.9h1.45M603.9 1214.2h1.45M621.6 1143.8h1.45M588.4 1209.5h1.45M599.0 1178.3h1.45M611.5 1214.4h1.45M599.6 1187.4h1.45M594.5 1214.1h1.45M602.5 1210.1h1.45M609.2 1210.8h1.45M591.1 1210.7h1.45M587.9 1213.5h1.45M610.8 1198.0h1.45M619.5 1212.6h1.45M614.0 1180.0h1.45M612.0 1210.2h1.45M592.7 1213.4h1.45M621.6 1206.4h1.45M603.1 1120.4h1.45M615.1 1167.7h1.45M594.2 1210.6h1.45M595.8 1161.9h1.45M616.3 1185.7h1.45M600.5 1184.0h1.45M603.4 1153.2h1.45M616.8 1213.5h1.45M607.7 1197.2h1.45M609.8 1194.6h1.45M599.9 1169.9h1.45M594.8 1213.0h1.45M617.1 1210.6h1.45M605.4 1205.7h1.45M601.4 1194.5h1.45M616.7 1211.7h1.45M621.1 1190.5h1.45M613.7 1092.8h1.45M609.5 1207.2h1.45M608.3 1207.8h1.45M604.4 1164.0h1.45M608.7 1190.3h1.45M618.2 1192.0h1.45M590.6 1211.8h1.45M614.5 1140.1h1.45M609.0 1199.0h1.45M596.2 1203.4h1.45M619.3 1213.2h1.45M620.4 1194.4h1.45M615.1 1207.1h1.45M609.0 1215.5h1.45M609.7 1209.3h1.45M620.4 1196.6h1.45M605.4 1210.0h1.45M620.2 1207.4h1.45M605.4 1187.8h1.45M597.7 1192.9h1.45M599.6 1180.2h1.45M612.2 1201.8h1.45M608.3 1214.7h1.45M621.3 1215.1h1.45M604.6 1160.9h1.45M604.1 1177.3h1.45M587.5 1216.3h1.45M601.9 1210.2h1.45M612.0 1080.0h1.45M597.2 1166.0h1.45M600.4 1215.3h1.45M606.7 1181.7h1.45M598.0 1201.1h1.45M617.9 1209.8h1.45M599.4 1206.3h1.45M604.8 1190.4h1.45M590.4 1212.1h1.45M611.7 1212.4h1.45M615.0 1180.3h1.45M599.8 1216.2h1.45M592.7 1186.0h1.45M613.6 1189.9h1.45M606.5 1209.5h1.45M620.1 1161.0h1.45M611.4 1194.1h1.45M595.1 1205.7h1.45M591.4 1209.5h1.45M618.3 1194.3h1.45M601.0 1210.1h1.45M586.1 1214.3h1.45M618.9 1196.6h1.45M611.9 1086.9h1.45M613.0 1168.1h1.45M611.4 1212.8h1.45M611.6 1215.9h1.45M613.3 1215.6h1.45M610.1 1208.1h1.45M617.9 1115.6h1.45M599.4 1215.2h1.45M605.2 1151.7h1.45M598.1 1203.6h1.45M606.0 1204.0h1.45M603.4 1203.9h1.45M605.8 1163.9h1.45M605.6 1203.6h1.45M598.4 1216.3h1.45M593.8 1185.4h1.45M589.5 1213.7h1.45M606.0 1215.8h1.45M617.5 1192.3h1.45M601.0 1138.2h1.45M596.5 1210.2h1.45M614.0 1081.4h1.45M590.8 1200.4h1.45M598.6 1188.3h1.45M605.2 1210.9h1.45M607.0 1167.9h1.45M596.1 1189.5h1.45M610.3 1115.4h1.45M600.2 1208.2h1.45M602.7 1200.3h1.45M594.1 1174.9h1.45M603.1 1166.2h1.45M614.6 1168.4h1.45M608.7 1098.9h1.45M615.8 1165.0h1.45M604.8 1174.3h1.45M604.3 1188.2h1.45M612.2 1199.5h1.45M609.5 1163.0h1.45M598.9 1214.9h1.45M599.1 1200.2h1.45M611.9 1174.3h1.45M605.4 1161.9h1.45M613.6 1215.1h1.45M618.9 1174.4h1.45M604.8 1213.0h1.45M618.1 1195.0h1.45M606.9 1203.8h1.45M613.0 1198.9h1.45M588.9 1209.9h1.45M593.5 1176.8h1.45M612.8 1194.5h1.45M620.2 1149.1h1.45M621.1 1165.8h1.45M610.2 1195.3h1.45M618.9 1190.8h1.45M606.0 1196.5h1.45M621.3 1206.2h1.45M593.7 1215.2h1.45M605.7 1181.7h1.45M598.8 1161.3h1.45M596.5 1208.9h1.45M620.2 1160.3h1.45M603.2 1174.4h1.45M600.8 1152.3h1.45M610.2 1206.8h1.45M614.0 1200.1h1.45M618.3 1207.0h1.45M616.6 1144.0h1.45M599.2 1211.2h1.45M600.6 1190.1h1.45M592.1 1207.2h1.45M615.8 1168.3h1.45M611.4 1187.3h1.45M596.0 1201.7h1.45M617.2 1212.9h1.45M621.2 1119.2h1.45M621.3 1213.1h1.45M593.9 1203.3h1.45M601.5 1192.3h1.45M609.2 1174.1h1.45M618.9 1215.5h1.45M601.1 1195.0h1.45M615.3 1201.4h1.45M605.4 1144.0h1.45M611.9 1204.2h1.45M602.7 1211.9h1.45M589.0 1210.9h1.45M591.8 1215.5h1.45M594.4 1195.7h1.45M619.7 1040.8h1.45M612.9 1102.7h1.45M613.6 1212.9h1.45M612.1 1213.3h1.45M618.4 1193.1h1.45M618.4 1190.5h1.45M616.6 1099.8h1.45M615.9 1181.1h1.45M611.1 1192.4h1.45M600.7 1200.6h1.45M610.0 1166.0h1.45M607.2 1203.9h1.45M597.2 1166.3h1.45M605.5 1181.8h1.45M620.3 1072.0h1.45M599.6 1208.1h1.45M597.5 1205.8h1.45M610.0 1176.5h1.45M605.2 1203.7h1.45M589.7 1194.0h1.45M617.4 1156.9h1.45M615.5 1179.2h1.45M620.3 1149.3h1.45M621.4 1110.6h1.45M618.9 1163.4h1.45M601.7 1214.4h1.45M606.8 1167.2h1.45M602.6 1193.0h1.45M620.4 1152.2h1.45M621.4 1215.1h1.45M608.7 1104.7h1.45M601.3 1199.4h1.45M619.5 1203.2h1.45M592.5 1207.7h1.45M609.9 1183.8h1.45M621.4 1167.9h1.45M594.3 1185.3h1.45M612.0 1204.8h1.45M619.1 1171.8h1.45M607.4 1201.8h1.45M621.6 1163.2h1.45M594.3 1214.4h1.45M611.7 1136.2h1.45M600.3 1179.3h1.45M607.0 1197.2h1.45M615.6 1133.4h1.45M588.6 1213.2h1.45M619.6 1214.1h1.45M603.1 1124.5h1.45M604.9 1148.0h1.45M598.4 1200.1h1.45M615.2 1210.3h1.45M620.8 1197.9h1.45M602.2 1189.2h1.45M614.1 1211.7h1.45M607.3 1177.8h1.45M611.6 1146.2h1.45M602.8 1215.7h1.45M615.5 1192.2h1.45M600.0 1188.0h1.45M618.4 1179.8h1.45M596.3 1213.9h1.45M601.1 1199.2h1.45M619.0 1159.1h1.45M588.8 1210.3h1.45M611.2 1206.0h1.45M610.6 1192.2h1.45M612.7 1112.3h1.45M606.6 1210.5h1.45M592.9 1183.9h1.45M602.5 1190.2h1.45M615.8 1156.7h1.45M603.8 1198.0h1.45M593.7 1195.0h1.45M603.3 1216.1h1.45M608.7 1213.8h1.45M595.7 1207.3h1.45M617.0 1186.4h1.45M621.0 1181.5h1.45M601.0 1191.1h1.45M619.1 1192.3h1.45M617.3 1214.1h1.45M604.4 1197.6h1.45M595.5 1192.0h1.45M610.6 1203.0h1.45M609.9 1189.1h1.45M603.2 1197.9h1.45M607.0 1208.8h1.45M601.7 1206.7h1.45M603.5 1175.4h1.45M610.1 1210.1h1.45M611.3 1202.4h1.45M616.1 1210.0h1.45M598.4 1208.0h1.45M609.3 1213.3h1.45M610.0 1179.1h1.45M602.5 1184.4h1.45M598.5 1158.6h1.45M613.4 1151.5h1.45M617.5 1172.6h1.45M613.1 1180.9h1.45M611.2 1201.1h1.45M621.5 1092.1h1.45M618.8 1176.6h1.45M620.2 1129.8h1.45M617.8 1194.9h1.45M605.9 1167.1h1.45M616.1 1169.7h1.45M615.9 1210.5h1.45M618.9 1195.2h1.45M602.4 1183.6h1.45M613.2 1151.5h1.45M613.5 1203.6h1.45M620.4 1146.8h1.45M596.2 1188.5h1.45M598.4 1175.1h1.45M605.1 1212.2h1.45M614.8 1213.1h1.45M612.2 1172.0h1.45M616.0 1188.9h1.45M610.3 1168.4h1.45M619.6 1186.3h1.45M620.0 1204.4h1.45M617.2 1207.5h1.45M600.3 1186.8h1.45M606.5 1212.4h1.45M607.2 1180.2h1.45M611.1 1210.7h1.45M589.8 1206.8h1.45M613.0 1216.3h1.45M593.9 1199.5h1.45M615.6 1115.6h1.45M597.6 1192.5h1.45M614.3 1194.1h1.45M599.3 1188.4h1.45M598.2 1214.8h1.45M613.5 1189.6h1.45M609.4 1179.7h1.45M594.0 1210.1h1.45M593.7 1210.6h1.45M598.6 1197.9h1.45M599.1 1145.4h1.45M608.8 1212.7h1.45M603.9 1171.9h1.45M615.5 1159.0h1.45M615.2 1185.3h1.45M620.7 1210.0h1.45M614.4 1208.2h1.45M591.0 1185.1h1.45M608.2 1187.3h1.45M608.5 1209.9h1.45M610.4 1209.4h1.45M602.0 1183.6h1.45M610.5 1203.0h1.45M601.6 1203.1h1.45M596.7 1193.5h1.45M607.8 1158.5h1.45M592.9 1213.7h1.45M604.7 1215.0h1.45M599.1 1190.6h1.45M600.0 1157.5h1.45M619.2 1153.0h1.45M618.2 1195.0h1.45M602.4 1179.7h1.45M621.5 1210.9h1.45M617.5 1199.9h1.45M606.0 1200.9h1.45M610.1 1204.4h1.45M588.3 1216.2h1.45M595.3 1206.5h1.45M621.3 1216.1h1.45M595.2 1212.8h1.45M617.0 1193.7h1.45M590.7 1212.1h1.45M611.5 1190.7h1.45M621.0 1191.7h1.45M615.2 1172.4h1.45M606.4 1208.0h1.45M620.4 1175.8h1.45M617.7 1074.5h1.45M612.0 1120.0h1.45M605.5 1197.9h1.45M606.6 1163.9h1.45M603.6 1124.8h1.45M610.7 1213.0h1.45M620.7 1156.2h1.45M613.7 1215.8h1.45M591.5 1204.0h1.45M597.3 1207.3h1.45M609.4 1210.6h1.45M619.6 1108.0h1.45M606.6 1215.8h1.45M596.0 1175.1h1.45M612.9 1187.7h1.45M620.9 1196.5h1.45M620.6 1210.7h1.45M619.1 1197.6h1.45M593.0 1203.6h1.45M618.2 1203.0h1.45M597.6 1212.5h1.45M619.2 1173.2h1.45M591.0 1211.2h1.45M612.2 1204.7h1.45M620.2 1188.2h1.45M594.9 1200.6h1.45M614.3 1191.8h1.45M601.3 1133.7h1.45M615.6 1207.5h1.45M621.4 1176.9h1.45M614.0 1207.0h1.45M606.6 1214.3h1.45M607.5 1134.3h1.45M604.4 1119.3h1.45M610.5 1160.1h1.45M599.4 1200.0h1.45M597.1 1212.0h1.45M593.3 1212.2h1.45M594.6 1200.6h1.45M599.2 1198.4h1.45M604.0 1203.8h1.45M601.2 1210.2h1.45M602.8 1204.7h1.45M612.4 1167.0h1.45M608.9 1203.9h1.45M613.6 1205.4h1.45M619.4 1206.1h1.45M614.9 1138.6h1.45M597.4 1162.6h1.45M619.6 1138.7h1.45M600.4 1146.1h1.45M600.0 1214.1h1.45M595.5 1208.1h1.45M611.4 1187.9h1.45M601.5 1179.7h1.45M608.4 1204.5h1.45M606.9 1193.1h1.45M606.5 1199.1h1.45M599.0 1214.6h1.45M606.3 1117.2h1.45M616.3 1088.5h1.45M617.9 1216.3h1.45M618.2 1199.8h1.45M589.5 1215.6h1.45M620.2 1176.6h1.45M620.8 1206.4h1.45M611.7 1199.4h1.45M596.3 1198.7h1.45M595.9 1198.1h1.45M597.1 1210.5h1.45M601.8 1213.8h1.45M609.9 1182.5h1.45M605.7 1194.6h1.45M612.7 1189.4h1.45M621.5 1215.0h1.45M608.4 1200.8h1.45M606.5 1215.2h1.45M605.2 1185.5h1.45M615.3 1175.1h1.45M616.5 1210.2h1.45M621.4 1137.6h1.45M612.4 1214.9h1.45M611.0 1199.4h1.45M615.4 1214.4h1.45M617.2 1204.3h1.45M619.9 1197.0h1.45M604.6 1194.7h1.45M621.6 1193.9h1.45M616.9 1214.5h1.45M613.9 1184.3h1.45M616.5 1165.1h1.45M605.6 1192.1h1.45M621.6 1156.3h1.45M617.6 1197.4h1.45M610.6 1184.2h1.45M606.6 1205.5h1.45M620.2 1194.7h1.45M603.2 1207.8h1.45M601.8 1215.0h1.45M620.4 1145.9h1.45M605.7 1203.9h1.45M597.5 1211.8h1.45M610.9 1202.0h1.45M595.8 1183.8h1.45M616.3 1193.2h1.45M611.1 1207.5h1.45M609.5 1214.2h1.45M604.5 1194.4h1.45M618.6 1202.4h1.45M603.7 1193.4h1.45M606.8 1212.0h1.45M594.7 1182.8h1.45M611.7 1173.7h1.45M620.2 1174.4h1.45M608.0 1175.6h1.45M616.4 1203.0h1.45M617.9 1158.9h1.45M592.5 1197.5h1.45M601.9 1138.3h1.45M616.7 1180.1h1.45M603.9 1211.3h1.45M620.1 1190.7h1.45M601.0 1200.7h1.45M615.5 1204.9h1.45M600.5 1214.6h1.45M606.6 1200.6h1.45M606.2 1198.4h1.45M620.9 1082.4h1.45M601.1 1186.0h1.45M619.2 1038.9h1.45M621.2 1134.6h1.45M602.1 1154.8h1.45M596.4 1177.3h1.45M615.5 1195.4h1.45M619.2 1163.8h1.45M598.4 1212.4h1.45M602.8 1191.6h1.45M617.4 1165.3h1.45M612.2 1212.5h1.45M619.1 1184.5h1.45M612.9 1171.1h1.45M595.2 1199.2h1.45M616.0 1189.6h1.45M588.3 1212.9h1.45M610.2 1181.5h1.45M616.1 1215.1h1.45M597.1 1192.5h1.45M621.0 1205.2h1.45M604.2 1123.4h1.45M618.7 1206.5h1.45M600.6 1213.8h1.45M595.1 1199.7h1.45M606.7 1140.5h1.45M608.6 1147.3h1.45M593.1 1191.8h1.45M599.9 1193.6h1.45M618.6 1106.4h1.45M599.7 1199.3h1.45M617.8 1204.0h1.45M597.8 1213.5h1.45M602.7 1180.0h1.45M613.0 1168.1h1.45M618.5 1174.7h1.45M593.7 1206.2h1.45M602.6 1214.6h1.45M596.9 1213.3h1.45M617.8 1096.7h1.45M604.2 1147.6h1.45M615.8 1155.9h1.45M609.9 1210.6h1.45M595.4 1179.8h1.45M600.6 1198.8h1.45M615.4 1105.4h1.45M600.1 1182.8h1.45M614.7 1204.6h1.45M590.9 1210.3h1.45M596.8 1173.3h1.45M620.5 1206.7h1.45M600.3 1210.0h1.45M596.4 1196.9h1.45M596.2 1206.2h1.45M617.8 1205.7h1.45M616.7 1209.8h1.45M606.4 1197.1h1.45M612.5 1139.0h1.45M621.2 1153.4h1.45M585.7 1212.2h1.45M597.7 1207.9h1.45M619.8 1117.8h1.45M611.0 1180.2h1.45M610.5 1110.5h1.45M618.8 1107.0h1.45M617.6 1199.4h1.45M588.7 1197.0h1.45M612.9 1212.0h1.45M589.0 1207.8h1.45M617.9 1187.2h1.45M604.2 1134.6h1.45M621.7 1206.1h1.45M604.7 1208.2h1.45M621.3 1165.8h1.45M617.8 1203.4h1.45M601.9 1216.1h1.45M605.3 1198.5h1.45M605.0 1104.4h1.45M599.2 1205.5h1.45M607.8 1196.5h1.45M613.2 1213.9h1.45M618.8 1197.0h1.45M601.6 1211.9h1.45M617.0 1198.8h1.45M593.3 1205.8h1.45M596.9 1169.6h1.45M600.6 1182.0h1.45M612.2 1160.1h1.45M613.9 1179.8h1.45M619.5 1156.7h1.45M603.2 1208.6h1.45M585.4 1214.0h1.45M605.8 1204.3h1.45M617.9 1155.8h1.45M596.8 1198.7h1.45M595.8 1212.3h1.45M604.8 1175.2h1.45M594.4 1190.1h1.45M620.4 1184.3h1.45M596.4 1165.9h1.45M604.2 1212.5h1.45M606.7 1185.3h1.45M597.9 1169.2h1.45M617.6 1199.4h1.45M609.1 1140.3h1.45M619.1 1191.3h1.45M619.7 1201.2h1.45M591.1 1186.2h1.45M602.8 1211.6h1.45M619.5 1161.7h1.45M603.6 1187.4h1.45M603.9 1210.9h1.45M614.9 1200.3h1.45M615.8 1087.3h1.45M605.2 1163.0h1.45M613.2 1213.4h1.45M609.9 1183.0h1.45M596.5 1213.0h1.45M595.7 1212.5h1.45M600.1 1187.2h1.45M604.7 1161.0h1.45M602.7 1197.5h1.45M619.0 1216.2h1.45M616.6 1198.4h1.45M539.2 1206.0h1.45M525.7 1196.9h1.45M517.4 1212.4h1.45M531.5 1211.5h1.45M542.9 1208.6h1.45M539.5 1152.1h1.45M522.0 1119.9h1.45M518.6 1168.7h1.45M544.6 1200.7h1.45M523.7 1194.3h1.45M530.0 1215.7h1.45M543.6 1176.5h1.45M532.9 1200.1h1.45M517.5 1209.5h1.45M538.5 1212.2h1.45M532.3 1171.8h1.45M538.0 1204.4h1.45M516.9 1172.6h1.45M531.8 1198.3h1.45M531.7 1206.8h1.45M528.3 1210.8h1.45M533.4 1194.5h1.45M547.3 1205.0h1.45M524.8 1186.7h1.45M520.5 1181.8h1.45M538.7 1214.2h1.45M523.6 1052.9h1.45M516.3 1197.7h1.45M546.1 1205.2h1.45M526.4 1206.1h1.45M530.7 1213.2h1.45M528.5 1142.7h1.45M521.4 1206.9h1.45M533.8 1193.5h1.45M524.6 1216.3h1.45M548.9 1203.5h1.45M543.8 1190.5h1.45M518.1 1139.3h1.45M533.5 1163.7h1.45M517.3 1214.4h1.45M533.5 1205.5h1.45M528.6 1211.2h1.45M542.5 1200.3h1.45M537.9 1197.5h1.45M530.8 1203.2h1.45M520.7 1166.4h1.45M520.4 1206.7h1.45M539.9 1205.1h1.45M516.0 1160.6h1.45M520.7 1191.4h1.45M520.6 1199.5h1.45M547.5 1211.3h1.45M530.4 1189.6h1.45M543.0 1169.3h1.45M535.3 1143.5h1.45M519.1 1182.4h1.45M524.5 1207.8h1.45M547.7 1213.3h1.45M540.5 1193.0h1.45M527.8 1196.9h1.45M518.8 1214.4h1.45M537.5 1192.4h1.45M530.7 1150.5h1.45M541.2 1204.3h1.45M545.4 1213.2h1.45M521.0 1212.9h1.45M526.4 1210.7h1.45M518.8 1167.0h1.45M529.1 1213.5h1.45M523.4 1211.9h1.45M528.1 1178.4h1.45M519.0 1216.2h1.45M536.3 1159.5h1.45M519.6 1212.0h1.45M527.7 1214.8h1.45M536.8 1216.3h1.45M539.5 1213.1h1.45M544.2 1191.8h1.45M532.8 1142.7h1.45M527.4 1125.8h1.45M527.0 1153.8h1.45M535.8 1204.1h1.45M519.6 1138.3h1.45M529.5 1212.5h1.45M536.9 1182.1h1.45M539.9 1172.5h1.45M539.4 1180.5h1.45M549.8 1212.1h1.45M536.3 1205.6h1.45M520.2 1184.9h1.45M524.2 1208.8h1.45M527.9 1183.0h1.45M542.8 1210.7h1.45M536.4 1213.2h1.45M536.2 1167.5h1.45M523.1 1208.1h1.45M524.6 1192.0h1.45M541.7 1196.1h1.45M536.7 1216.2h1.45M540.8 1192.0h1.45M527.5 1205.4h1.45M531.5 1193.8h1.45M530.5 1199.8h1.45M531.2 1137.7h1.45M535.4 1201.6h1.45M518.5 1131.7h1.45M538.6 1184.1h1.45M533.7 1193.0h1.45M543.8 1207.7h1.45M546.9 1204.3h1.45M545.6 1200.8h1.45M528.6 1196.8h1.45M519.7 1135.1h1.45M551.3 1212.6h1.45M532.4 1164.2h1.45M531.4 1215.4h1.45M518.7 1139.4h1.45M537.1 1210.4h1.45M535.1 1214.5h1.45M524.9 1088.7h1.45M532.2 1201.9h1.45M518.7 1101.4h1.45M536.6 1211.3h1.45M518.7 1214.8h1.45M542.0 1198.0h1.45M537.9 1178.5h1.45M521.7 1202.4h1.45M545.4 1215.4h1.45M541.2 1214.3h1.45M528.2 1204.4h1.45M542.8 1209.1h1.45M517.7 1176.8h1.45M519.1 1191.2h1.45M547.0 1203.9h1.45M525.2 1210.8h1.45M525.1 1212.5h1.45M519.1 1196.2h1.45M532.0 1142.1h1.45M535.2 1212.1h1.45M546.4 1211.5h1.45M533.4 1162.8h1.45M536.1 1215.9h1.45M540.0 1178.9h1.45M538.1 1204.9h1.45M546.2 1213.8h1.45M541.6 1187.2h1.45M531.2 1145.1h1.45M523.9 1198.3h1.45M527.8 1198.4h1.45M523.4 1118.2h1.45M526.9 1184.5h1.45M530.9 1203.5h1.45M536.8 1131.2h1.45M516.3 1183.6h1.45M531.0 1174.7h1.45M517.6 1194.5h1.45M532.8 1206.3h1.45M516.2 1208.5h1.45M524.4 1194.6h1.45M538.0 1179.0h1.45M523.3 1207.6h1.45M547.2 1211.3h1.45M543.5 1216.1h1.45M530.1 1158.7h1.45M534.4 1199.8h1.45M549.7 1213.3h1.45M516.5 1192.3h1.45M516.2 1078.2h1.45M533.4 1211.1h1.45M529.4 1206.9h1.45M517.6 1184.8h1.45M531.1 1203.7h1.45M533.0 1191.6h1.45M533.0 1151.6h1.45M521.3 1212.1h1.45M545.5 1196.1h1.45M522.3 1189.6h1.45M536.1 1198.5h1.45M518.6 1214.2h1.45M523.9 1210.5h1.45M534.7 1215.1h1.45M520.2 1211.0h1.45M540.4 1197.9h1.45M517.7 1171.4h1.45M521.3 1146.8h1.45M525.1 1214.0h1.45M532.6 1215.4h1.45M539.0 1212.0h1.45M527.2 1163.1h1.45M533.7 1153.4h1.45M517.7 1181.8h1.45M528.6 1172.0h1.45M548.3 1199.8h1.45M534.6 1177.2h1.45M537.9 1163.8h1.45M537.6 1137.7h1.45M524.9 1213.2h1.45M516.8 1213.5h1.45M523.4 1156.1h1.45M525.8 1146.1h1.45M516.7 1178.5h1.45M526.7 1193.5h1.45M543.5 1206.8h1.45M527.7 1163.6h1.45M525.5 1155.7h1.45M541.0 1208.3h1.45M547.1 1199.2h1.45M518.4 1209.6h1.45M521.3 1207.9h1.45M541.0 1169.0h1.45M531.5 1188.0h1.45M530.8 1179.3h1.45M519.9 1147.3h1.45M533.0 1208.8h1.45M532.8 1148.8h1.45M535.6 1151.4h1.45M534.1 1209.5h1.45M524.8 1207.5h1.45M518.8 1211.0h1.45M530.7 1214.9h1.45M517.0 1203.8h1.45M551.1 1213.2h1.45M545.8 1199.0h1.45M532.4 1206.5h1.45M546.7 1200.6h1.45M519.8 1186.0h1.45M518.2 1194.0h1.45M530.9 1170.9h1.45M521.4 1211.0h1.45M534.8 1187.9h1.45M521.7 1171.1h1.45M524.8 1170.2h1.45M519.7 1211.6h1.45M522.0 1119.8h1.45M518.4 1142.9h1.45M538.4 1215.3h1.45M539.0 1196.1h1.45M527.0 1193.6h1.45M537.6 1155.3h1.45M521.6 1192.6h1.45M519.2 1201.1h1.45M542.0 1208.7h1.45M519.9 1196.7h1.45M541.2 1210.2h1.45M542.8 1189.8h1.45M540.0 1187.2h1.45M542.5 1186.1h1.45M529.7 1121.8h1.45M519.5 1214.4h1.45M532.5 1170.4h1.45M533.6 1204.6h1.45M519.9 1196.5h1.45M538.9 1202.9h1.45M528.6 1152.3h1.45M534.7 1140.8h1.45M520.5 1116.1h1.45M531.3 1185.0h1.45M525.1 1159.6h1.45M517.6 1216.3h1.45M545.0 1200.9h1.45M528.0 1209.8h1.45M518.8 1191.1h1.45M531.4 1152.5h1.45M522.6 1162.5h1.45M526.9 1210.4h1.45M542.1 1213.4h1.45M550.4 1214.2h1.45M524.5 1207.3h1.45M541.9 1213.6h1.45M517.9 1191.3h1.45M528.1 1216.3h1.45M537.6 1215.3h1.45M531.3 1209.9h1.45M516.3 1172.5h1.45M521.5 1143.8h1.45M540.2 1189.8h1.45M516.7 1163.9h1.45M528.2 1204.0h1.45M526.2 1149.8h1.45M534.7 1181.6h1.45M540.0 1204.8h1.45M520.5 1181.9h1.45M538.4 1163.5h1.45M538.6 1174.0h1.45M539.1 1212.0h1.45M539.0 1189.8h1.45M533.1 1205.3h1.45M519.6 1162.7h1.45M537.3 1211.5h1.45M523.9 1208.4h1.45M531.2 1128.1h1.45M519.5 1146.2h1.45M519.1 1215.1h1.45M527.7 1181.0h1.45M543.2 1179.4h1.45M529.2 1187.6h1.45M533.2 1200.3h1.45M523.4 1212.4h1.45M537.3 1207.3h1.45M522.8 1187.0h1.45M518.2 1187.9h1.45M531.7 1201.3h1.45M546.4 1214.6h1.45M526.4 1149.0h1.45M544.0 1209.6h1.45M523.1 1213.2h1.45M527.4 1182.0h1.45M542.4 1202.4h1.45M519.6 1193.9h1.45M537.0 1195.5h1.45M529.7 1184.8h1.45M520.8 1197.3h1.45M530.9 1195.7h1.45M535.4 1195.6h1.45M540.6 1163.5h1.45M516.3 1213.6h1.45M516.2 1157.2h1.45M546.0 1209.1h1.45M532.2 1209.2h1.45M521.8 1209.6h1.45M533.6 1206.0h1.45M523.2 1189.1h1.45M527.7 1206.6h1.45M540.4 1199.6h1.45M518.9 1167.9h1.45M517.3 1204.8h1.45M519.7 1154.6h1.45M534.7 1214.7h1.45M526.5 1210.2h1.45M519.3 1167.1h1.45M539.2 1199.2h1.45M523.6 1181.4h1.45M533.8 1214.4h1.45M518.9 1186.0h1.45M549.8 1215.0h1.45M534.0 1201.3h1.45M528.8 1200.7h1.45M519.7 1205.2h1.45M532.8 1208.0h1.45M534.0 1214.5h1.45M531.0 1205.4h1.45M516.3 1080.9h1.45M531.1 1203.0h1.45M520.9 1206.6h1.45M522.3 1042.6h1.45M518.3 1185.0h1.45M523.1 1188.2h1.45M519.0 1159.8h1.45M519.6 1178.4h1.45M529.2 1205.7h1.45M518.8 1191.1h1.45M522.2 1180.5h1.45M536.0 1184.2h1.45M516.7 1197.6h1.45M520.5 1204.5h1.45M520.1 1128.9h1.45M548.0 1212.7h1.45M529.2 1178.1h1.45M536.7 1182.5h1.45M521.6 1202.3h1.45M541.4 1208.9h1.45M535.6 1215.4h1.45M516.0 1163.7h1.45M516.8 1214.0h1.45M526.3 1188.8h1.45M519.9 1193.0h1.45M530.6 1173.5h1.45M521.0 1212.4h1.45M534.3 1125.2h1.45M535.0 1166.1h1.45M523.6 1205.3h1.45M533.4 1169.2h1.45M528.6 1207.5h1.45M541.7 1209.6h1.45M536.3 1171.8h1.45M517.3 1189.8h1.45M522.4 1188.0h1.45M537.5 1174.3h1.45M532.7 1195.2h1.45M522.0 1182.0h1.45M520.1 1142.7h1.45M521.5 1156.8h1.45M533.6 1213.3h1.45M519.9 1203.7h1.45M530.5 1147.3h1.45M527.6 1210.6h1.45M520.1 1110.7h1.45M536.9 1183.6h1.45M525.8 1180.6h1.45M523.5 1202.4h1.45M517.0 1178.0h1.45M523.1 1187.4h1.45M527.2 1186.0h1.45M522.0 1207.7h1.45M535.4 1130.2h1.45M517.7 1162.7h1.45M526.3 1200.8h1.45M524.8 1212.1h1.45M544.4 1187.9h1.45M541.2 1211.6h1.45M520.4 1151.2h1.45M548.5 1208.8h1.45M517.5 1185.5h1.45M530.0 1200.2h1.45M517.8 1216.3h1.45M524.2 1196.0h1.45M533.6 1207.8h1.45M527.9 1199.7h1.45M539.7 1208.7h1.45M532.2 1205.8h1.45M520.0 1208.2h1.45M540.9 1188.6h1.45M527.6 1193.8h1.45M527.6 1215.9h1.45M516.4 1182.3h1.45M536.8 1188.9h1.45M525.5 1199.6h1.45M538.0 1166.6h1.45M530.3 1200.4h1.45M540.2 1159.0h1.45M532.2 1169.4h1.45M533.2 1178.1h1.45M544.5 1207.0h1.45M522.9 1193.3h1.45M541.7 1216.2h1.45M543.4 1212.2h1.45M527.8 1189.7h1.45M530.3 1118.3h1.45M519.0 1208.5h1.45M531.3 1208.4h1.45M526.6 1205.6h1.45M516.5 1164.8h1.45M536.0 1208.5h1.45M532.0 1208.0h1.45M538.2 1208.0h1.45M523.9 1209.4h1.45M535.4 1189.5h1.45M519.6 1171.8h1.45M526.9 1192.9h1.45M520.0 1194.1h1.45M536.1 1179.8h1.45M536.7 1188.2h1.45M540.0 1209.9h1.45M532.6 1199.2h1.45M528.5 1194.3h1.45M519.9 1180.5h1.45M539.3 1208.6h1.45M531.5 1214.5h1.45M517.6 1192.0h1.45M525.7 1191.4h1.45M529.3 1193.6h1.45M521.5 1212.6h1.45M533.7 1179.2h1.45M531.8 1216.3h1.45M536.3 1202.2h1.45M526.1 1175.5h1.45M533.9 1201.1h1.45M517.2 1215.7h1.45M517.8 1166.3h1.45M524.8 1145.2h1.45M533.7 1191.9h1.45M533.2 1210.2h1.45M541.7 1212.3h1.45M523.6 1196.2h1.45M519.6 1211.5h1.45M527.4 1172.1h1.45M521.3 1186.0h1.45M522.5 1215.1h1.45M517.9 1181.0h1.45M528.4 1198.6h1.45M517.2 1189.0h1.45M518.4 1213.6h1.45M528.6 1107.2h1.45M534.5 1121.0h1.45M531.9 1188.6h1.45M539.9 1215.7h1.45" stroke="#4366e0" stroke-width="1.45" fill="none"/>
<path d="M636.0 1209.4h1.6M645.8 1210.2h1.6M622.2 1075.3h1.6M635.8 1176.2h1.6M690.9 1210.8h1.6M640.8 1190.8h1.6M642.6 1214.6h1.6M667.9 1210.4h1.6M662.1 1182.9h1.6M711.2 1208.1h1.6M688.0 1057.5h1.6M720.2 1204.9h1.6M636.4 1210.5h1.6M748.9 1122.6h1.6M674.0 1021.3h1.6M623.4 1063.6h1.6M631.8 1179.8h1.6M672.7 1189.2h1.6M657.4 1080.9h1.6M661.2 1205.2h1.6M692.6 1171.8h1.6M700.4 1194.8h1.6M622.1 1206.3h1.6M684.8 1111.5h1.6M647.3 1184.1h1.6M633.0 1029.4h1.6M633.4 1207.4h1.6M629.1 1200.1h1.6M670.6 1208.3h1.6M635.5 1204.3h1.6M635.1 1111.7h1.6M751.0 1200.1h1.6M622.6 1215.2h1.6M659.6 1212.8h1.6M670.5 1206.7h1.6M655.3 1173.2h1.6M624.3 1090.3h1.6M712.2 1131.7h1.6M755.0 1162.7h1.6M729.9 1078.0h1.6M637.2 1205.1h1.6M646.9 1195.6h1.6M630.3 1178.9h1.6M624.4 1190.1h1.6M640.2 1175.2h1.6M651.0 1212.9h1.6M665.3 1195.9h1.6M656.1 1022.0h1.6M669.4 1212.9h1.6M726.7 1209.0h1.6M624.1 1162.1h1.6M646.1 1196.2h1.6M714.5 1126.4h1.6M622.4 1210.4h1.6M623.7 1180.9h1.6M680.6 1151.6h1.6M732.0 1050.6h1.6M658.9 1018.2h1.6M624.1 1192.1h1.6M639.4 1189.4h1.6M657.9 1211.7h1.6M629.7 1208.9h1.6M643.0 1093.0h1.6M627.2 1209.5h1.6M643.1 1207.4h1.6M645.3 1212.6h1.6M625.9 1170.4h1.6M708.1 1213.0h1.6M769.3 1160.0h1.6M640.1 1141.7h1.6M629.5 1178.9h1.6M655.8 1180.4h1.6M670.5 1208.7h1.6M680.0 1187.4h1.6M642.5 1085.7h1.6M632.0 1184.5h1.6M738.4 1199.4h1.6M626.9 1202.9h1.6M703.3 1094.1h1.6M732.4 1076.1h1.6M717.2 1145.1h1.6M625.2 1191.7h1.6M731.5 1209.4h1.6M808.3 1130.4h1.6M657.9 1044.9h1.6M632.6 1099.8h1.6M820.5 1185.4h1.6M637.0 1214.8h1.6M729.4 1214.5h1.6M674.9 1021.1h1.6M628.5 1190.7h1.6M639.8 1065.8h1.6M739.1 1056.9h1.6M706.6 1095.2h1.6M627.6 1200.1h1.6M637.0 1192.1h1.6M648.6 1209.0h1.6M706.3 1211.6h1.6M808.8 1155.4h1.6M623.6 1200.5h1.6M626.0 1204.8h1.6M704.5 1073.1h1.6M632.0 1117.2h1.6M682.1 1165.9h1.6M777.8 1211.8h1.6M730.0 1201.0h1.6M659.9 1000.8h1.6M630.3 1187.1h1.6M643.5 1156.4h1.6M646.4 1078.2h1.6M643.4 1202.9h1.6M634.0 1040.6h1.6M758.9 1102.6h1.6M622.8 1024.0h1.6M643.8 1175.7h1.6M783.9 1092.1h1.6M637.1 1189.6h1.6M628.7 1201.8h1.6M624.9 1018.0h1.6M733.7 1094.4h1.6M670.0 1168.1h1.6M646.0 1041.2h1.6M651.9 1179.2h1.6M759.9 1137.3h1.6M685.4 1212.4h1.6M744.9 1196.1h1.6M622.0 1206.9h1.6M628.4 1212.1h1.6M626.8 1200.1h1.6M623.0 1214.5h1.6M689.8 1211.3h1.6M622.0 1201.7h1.6M698.6 1086.4h1.6M652.0 1203.6h1.6M741.5 1201.0h1.6M625.6 1180.7h1.6M623.2 1041.8h1.6M643.3 1177.0h1.6M661.0 1214.8h1.6M697.8 1183.6h1.6M637.5 1213.7h1.6M649.9 1029.4h1.6M815.3 1155.8h1.6M631.0 1186.9h1.6M629.1 1158.4h1.6M638.4 1211.8h1.6M625.4 1197.6h1.6M621.9 1066.2h1.6M625.7 1204.6h1.6M811.8 1068.3h1.6M786.4 1205.0h1.6M658.2 1146.4h1.6M646.6 1216.3h1.6M625.1 1198.0h1.6M676.9 1177.9h1.6M791.9 1213.2h1.6M622.0 1198.5h1.6M656.2 1143.2h1.6M622.6 1174.3h1.6M625.8 1179.3h1.6M649.7 1067.9h1.6M622.2 1179.1h1.6M802.7 1176.8h1.6M673.0 1203.4h1.6M627.1 1199.5h1.6M665.5 1173.7h1.6M767.8 1154.8h1.6M639.5 1017.2h1.6M659.4 1065.5h1.6M698.0 1183.5h1.6M667.6 1175.4h1.6M657.6 988.0h1.6M783.6 1144.9h1.6M639.4 1210.0h1.6M681.9 1015.9h1.6M626.8 1215.1h1.6M696.0 1205.1h1.6M632.8 1187.6h1.6M666.6 1174.9h1.6M667.0 1182.0h1.6M630.5 1171.7h1.6M763.0 1070.4h1.6M656.1 1202.8h1.6M744.4 1202.9h1.6M731.7 1216.3h1.6M662.6 1207.5h1.6M769.0 1189.5h1.6M641.3 1161.9h1.6M738.0 1190.9h1.6M656.4 1216.0h1.6M690.6 1124.3h1.6M807.3 1134.5h1.6M749.1 1119.3h1.6M626.9 1073.4h1.6M622.4 1174.9h1.6M629.5 1170.8h1.6M663.2 1118.0h1.6M783.7 1103.5h1.6M649.2 1190.0h1.6M634.5 1210.1h1.6M630.5 1210.4h1.6M750.9 1189.5h1.6M626.6 1211.1h1.6M825.8 1114.2h1.6M760.7 1099.9h1.6M626.5 1205.9h1.6M760.7 1118.3h1.6M643.4 1153.9h1.6M689.0 1030.2h1.6M652.6 1018.4h1.6M812.7 1144.9h1.6M672.0 1206.1h1.6M624.7 1196.3h1.6M713.8 1151.2h1.6M705.5 1165.7h1.6M623.8 1176.9h1.6M819.6 1135.9h1.6M743.9 1190.0h1.6M634.6 1214.2h1.6M683.6 1149.4h1.6M650.5 1198.5h1.6M677.5 1130.5h1.6M637.7 1159.0h1.6M784.6 1117.6h1.6M732.1 1069.7h1.6M628.8 1015.8h1.6M707.0 1111.1h1.6M697.0 1137.5h1.6M679.0 1210.4h1.6M664.1 1190.4h1.6M650.1 1033.4h1.6M735.1 1115.0h1.6M628.6 1197.0h1.6M632.9 1132.3h1.6M713.7 1197.1h1.6M777.1 1143.8h1.6M634.0 1147.3h1.6M816.5 1114.9h1.6M625.1 1108.8h1.6M750.3 1204.4h1.6M623.9 1199.3h1.6M703.0 1151.0h1.6M767.3 1181.4h1.6M713.8 1216.2h1.6M734.4 1047.5h1.6M778.1 1156.8h1.6M684.2 1174.1h1.6M694.4 1069.6h1.6M749.8 1088.0h1.6M702.0 1170.3h1.6M649.8 1174.9h1.6M680.7 1209.1h1.6M643.9 1210.8h1.6M656.1 1006.5h1.6M637.6 1211.1h1.6M735.2 1156.5h1.6M809.9 1191.9h1.6M628.1 1182.9h1.6M621.8 1042.5h1.6M660.8 1207.9h1.6M721.9 1201.4h1.6M624.3 1212.5h1.6M626.7 1193.2h1.6M681.6 1201.4h1.6M627.7 1093.8h1.6M702.2 1139.1h1.6M621.8 1090.9h1.6M635.4 1200.8h1.6M645.1 1209.6h1.6M644.3 1062.9h1.6M640.9 1215.0h1.6M742.6 1070.6h1.6M622.1 1124.9h1.6M822.9 1095.4h1.6M625.4 1164.4h1.6M631.5 1214.9h1.6M658.5 1192.7h1.6M727.1 1209.8h1.6M757.5 1049.5h1.6M626.7 1215.8h1.6M810.0 1213.4h1.6M668.9 1206.4h1.6M645.4 1149.6h1.6M621.8 1189.3h1.6M741.2 1124.7h1.6M633.7 1211.4h1.6M635.2 1190.5h1.6M633.0 1030.3h1.6M623.1 1205.6h1.6M708.5 1210.7h1.6M669.1 1034.5h1.6M656.5 1060.3h1.6M751.8 1161.2h1.6M626.4 1142.7h1.6M635.0 1182.6h1.6M630.9 1040.8h1.6M626.2 1207.8h1.6M796.7 1058.6h1.6M627.1 1213.9h1.6M661.0 1022.9h1.6M622.7 1128.8h1.6M742.7 1178.0h1.6M704.4 1080.3h1.6M679.7 1216.3h1.6M638.6 1205.5h1.6M653.1 1211.9h1.6M745.4 1043.0h1.6M633.8 1053.5h1.6M636.7 1175.7h1.6M627.5 1209.5h1.6M642.5 1197.3h1.6M623.9 1180.5h1.6M622.5 1140.9h1.6M654.4 1147.2h1.6M632.7 1216.0h1.6M678.9 1122.2h1.6M656.2 1056.2h1.6M635.9 1207.4h1.6M625.3 1205.4h1.6M648.2 1211.6h1.6M648.6 1136.1h1.6M663.6 1195.3h1.6M677.3 1211.2h1.6M762.0 1063.8h1.6M629.7 1112.4h1.6M744.9 1211.9h1.6M639.7 1207.9h1.6M744.0 1069.2h1.6M648.5 1191.1h1.6M632.4 1207.3h1.6M715.5 1111.8h1.6M631.6 1187.2h1.6M624.9 1196.4h1.6M822.9 1191.8h1.6M622.7 1205.4h1.6M776.5 1057.4h1.6M652.4 1160.8h1.6M660.7 1100.5h1.6M625.4 1161.9h1.6M633.8 1198.2h1.6M656.2 1150.4h1.6M644.3 1215.8h1.6M631.7 1216.1h1.6M632.9 1204.9h1.6M726.9 1157.6h1.6M660.8 1201.1h1.6M633.9 1162.0h1.6M621.9 1206.4h1.6M631.9 1179.7h1.6M666.0 1201.6h1.6M695.5 1203.4h1.6M781.0 1108.4h1.6M633.6 1214.2h1.6M655.0 1184.9h1.6M631.3 1180.7h1.6M718.2 1101.8h1.6M628.5 1203.9h1.6M634.4 1155.5h1.6M645.0 1191.1h1.6M714.5 1141.8h1.6M646.0 1167.8h1.6M814.3 1213.8h1.6M660.2 1173.4h1.6M636.5 1073.7h1.6M691.6 1189.1h1.6M661.1 1212.4h1.6M621.8 1212.9h1.6M692.7 1202.6h1.6M622.2 1203.5h1.6M640.6 1182.4h1.6M626.2 1191.0h1.6M630.6 1065.2h1.6M622.1 1160.2h1.6M671.0 1195.4h1.6M626.9 1199.5h1.6M643.1 1190.7h1.6M686.3 1154.0h1.6M680.6 1194.1h1.6M639.0 1111.4h1.6M621.8 1213.0h1.6M659.8 1185.8h1.6M661.9 1213.6h1.6M710.2 1161.2h1.6M629.3 1174.0h1.6M665.6 1194.8h1.6M666.1 1099.6h1.6M643.5 1213.1h1.6M731.7 1194.1h1.6M622.4 1196.9h1.6M634.5 1161.7h1.6M710.1 1090.8h1.6M621.8 1106.2h1.6M672.3 1213.7h1.6M653.6 1184.1h1.6M633.7 1209.9h1.6M654.9 1193.8h1.6M777.3 1210.8h1.6M661.2 1196.3h1.6M731.3 1195.6h1.6M647.0 1211.8h1.6M664.4 1214.9h1.6M671.0 1124.2h1.6M681.6 1195.3h1.6M640.7 1064.0h1.6M623.0 1202.1h1.6M759.9 1190.8h1.6M704.2 1213.4h1.6M628.6 1122.3h1.6M679.0 1203.7h1.6M772.7 1089.4h1.6M666.2 1001.9h1.6M646.7 1202.5h1.6M830.5 1101.9h1.6M622.6 1202.5h1.6M688.4 1114.2h1.6M622.7 1162.7h1.6M787.6 1214.2h1.6M643.3 1202.0h1.6M658.4 1191.0h1.6M692.2 1211.8h1.6M724.4 1041.2h1.6M735.3 1076.6h1.6M715.0 1089.7h1.6M795.5 1212.7h1.6M627.1 1116.4h1.6M637.9 1211.3h1.6M652.1 986.7h1.6M683.9 1139.6h1.6M661.6 1186.6h1.6M634.3 1039.4h1.6M641.5 1175.0h1.6M628.2 1155.7h1.6M646.1 1216.2h1.6M633.6 1121.2h1.6M637.5 1182.9h1.6M622.6 1158.6h1.6M762.4 1200.4h1.6M783.2 1214.6h1.6M641.4 1160.4h1.6M630.9 1166.2h1.6M729.0 1135.2h1.6M623.7 1211.9h1.6M709.3 1171.7h1.6M651.6 1201.3h1.6M638.2 1200.1h1.6M631.0 1192.3h1.6M633.7 1126.4h1.6M735.2 1100.2h1.6M637.2 1195.6h1.6M703.9 1208.7h1.6M668.6 1208.2h1.6M725.0 1029.3h1.6M634.1 1189.7h1.6M640.3 1037.4h1.6M828.9 1208.3h1.6M626.1 1142.5h1.6M802.6 1062.5h1.6M628.3 1199.8h1.6M699.3 1170.0h1.6M639.2 1158.2h1.6M659.9 1024.0h1.6M735.5 1056.6h1.6M631.6 1207.0h1.6M774.0 1139.8h1.6M640.9 1132.4h1.6M660.5 1024.1h1.6M627.6 1213.1h1.6M623.6 1209.6h1.6M668.4 1151.6h1.6M701.4 1179.5h1.6M754.7 1180.7h1.6M625.3 1196.9h1.6M643.5 1178.4h1.6M638.4 1088.8h1.6M625.3 1206.3h1.6M643.2 1204.5h1.6M635.2 1193.4h1.6M704.0 1133.0h1.6M624.5 1212.5h1.6M622.5 1213.7h1.6M727.5 1206.8h1.6M639.6 1202.1h1.6M780.0 1151.1h1.6M633.1 1095.6h1.6M692.4 1202.7h1.6M628.5 1136.8h1.6M696.8 1126.3h1.6M758.9 1088.5h1.6M627.3 1202.2h1.6M658.9 1216.2h1.6M631.0 1101.5h1.6M625.6 1106.3h1.6M633.6 1159.6h1.6M653.4 1055.7h1.6M684.5 1104.3h1.6M636.1 1196.6h1.6M668.6 1202.9h1.6M781.3 1098.4h1.6M829.3 1194.5h1.6M681.0 1139.2h1.6M625.7 1192.3h1.6M699.7 1170.5h1.6M625.3 1157.9h1.6M810.1 1115.7h1.6M625.9 1197.6h1.6M653.6 1190.2h1.6M792.7 1192.4h1.6M650.6 1213.9h1.6M631.4 1206.4h1.6M677.0 1094.2h1.6M628.7 1074.4h1.6M700.8 1158.8h1.6M627.8 1172.0h1.6M622.3 1212.2h1.6M636.5 1182.9h1.6M649.2 1155.0h1.6M626.2 1209.3h1.6M651.2 1121.5h1.6M671.9 1030.1h1.6M667.8 1209.2h1.6M631.5 1196.8h1.6M630.4 1203.2h1.6M634.1 1044.0h1.6M643.2 1211.2h1.6M655.5 1210.7h1.6M634.8 1186.3h1.6M664.5 1059.6h1.6M757.0 1147.2h1.6M648.2 1204.5h1.6M622.2 1210.9h1.6M647.3 1081.4h1.6M622.8 1202.7h1.6M631.0 1180.6h1.6M725.7 1143.8h1.6M683.0 1171.4h1.6M643.9 1214.0h1.6M622.5 1205.7h1.6M643.8 1194.4h1.6M822.6 1208.8h1.6M789.4 1167.1h1.6M627.3 1211.1h1.6M649.3 1204.9h1.6M686.0 1028.7h1.6M634.9 1150.5h1.6M636.1 1179.1h1.6M623.2 1191.8h1.6M672.5 1207.4h1.6M813.4 1181.1h1.6M687.5 1179.7h1.6M679.3 1206.1h1.6M621.8 1173.4h1.6M628.9 1079.6h1.6M631.3 1061.5h1.6M660.2 1023.4h1.6M622.3 1215.7h1.6M677.0 1215.6h1.6M644.3 1184.5h1.6M645.4 1059.3h1.6M625.0 1212.1h1.6M761.9 1157.0h1.6M639.1 1215.0h1.6M625.7 1148.4h1.6M820.9 1198.4h1.6M640.7 1118.0h1.6M740.0 1169.8h1.6M641.3 1118.9h1.6M742.4 1103.8h1.6M630.0 1189.5h1.6M626.0 1043.7h1.6M637.6 1187.4h1.6M676.4 1024.5h1.6M658.1 1082.2h1.6M714.0 1188.8h1.6M623.0 1200.8h1.6M671.2 1173.3h1.6M644.4 1215.3h1.6M642.2 1205.7h1.6M632.1 1208.1h1.6M639.7 1092.1h1.6M790.2 1212.6h1.6M635.3 1215.6h1.6M623.7 1101.2h1.6M664.7 1203.4h1.6M628.7 1212.3h1.6M626.9 1215.9h1.6M678.2 1082.3h1.6M626.4 1170.5h1.6M737.5 1194.8h1.6M625.7 1207.0h1.6M632.2 1163.3h1.6M651.1 1208.1h1.6M635.8 1081.4h1.6M631.4 1207.1h1.6M646.3 1045.4h1.6M702.9 1184.2h1.6M679.1 1039.9h1.6M650.5 1184.1h1.6M624.5 1094.6h1.6M668.7 1021.4h1.6M632.1 1195.3h1.6M635.5 1183.2h1.6M624.5 1196.1h1.6M709.8 1205.1h1.6M768.2 1119.8h1.6M650.9 1111.0h1.6M628.2 1206.7h1.6M703.2 1191.2h1.6M690.2 1157.0h1.6M629.9 1203.4h1.6M727.6 1146.5h1.6M756.5 1154.3h1.6M625.2 1187.9h1.6M641.6 1206.6h1.6M720.0 1028.5h1.6M624.4 1213.8h1.6M734.6 1159.0h1.6M701.4 1202.1h1.6M649.0 1021.1h1.6M658.6 1197.4h1.6M659.7 1110.1h1.6M630.9 1214.5h1.6M669.4 1161.2h1.6M625.3 1185.4h1.6M630.0 1170.2h1.6M636.5 1198.7h1.6M628.0 1124.6h1.6M639.4 1134.8h1.6M690.4 1188.9h1.6M649.1 1109.0h1.6M623.5 1181.7h1.6M683.2 1124.3h1.6M637.5 1170.0h1.6M622.4 1215.3h1.6M743.9 1041.1h1.6M685.5 1189.5h1.6M630.1 1200.1h1.6M653.1 1188.5h1.6M758.8 1204.2h1.6M646.4 1025.8h1.6M704.0 1113.3h1.6M622.3 1149.0h1.6M667.4 1048.2h1.6M684.4 1033.5h1.6M645.5 1206.9h1.6M678.9 1075.6h1.6M639.6 1123.7h1.6M629.4 1214.3h1.6M671.3 1058.7h1.6M648.5 988.4h1.6M652.4 1195.3h1.6M718.6 1196.5h1.6M632.3 1208.2h1.6M633.0 1211.3h1.6M636.6 1215.9h1.6M635.4 1215.4h1.6M804.8 1147.8h1.6M730.1 1134.7h1.6M694.3 1140.1h1.6M622.2 1146.4h1.6M662.4 1197.8h1.6M707.5 1176.2h1.6M651.2 1138.3h1.6M686.0 1010.6h1.6M646.2 1151.2h1.6M643.7 1093.5h1.6M778.7 1081.4h1.6M626.4 1195.8h1.6M629.4 1205.8h1.6M638.7 1016.1h1.6M674.4 1117.7h1.6M829.1 1196.6h1.6M666.2 1203.8h1.6M642.1 1215.2h1.6M653.8 1203.3h1.6M628.8 1202.6h1.6M638.9 1057.2h1.6M695.8 1212.4h1.6M682.2 1078.4h1.6M732.4 1186.4h1.6M780.1 1098.2h1.6M627.9 1179.6h1.6M631.9 1207.9h1.6M640.9 1204.7h1.6M663.1 1061.6h1.6M637.8 1174.8h1.6M704.0 1159.3h1.6M704.1 1213.9h1.6M678.9 1171.8h1.6M713.3 1032.2h1.6M741.5 1184.9h1.6M624.9 1197.8h1.6M724.9 1208.7h1.6M684.7 1046.9h1.6M669.9 1031.4h1.6M629.1 1199.7h1.6M678.3 1136.6h1.6M624.5 1200.4h1.6M726.2 1211.6h1.6M638.1 1209.9h1.6M638.7 1210.3h1.6M665.7 1151.3h1.6M648.1 1183.4h1.6M621.8 1133.6h1.6M634.2 1027.8h1.6M740.9 1203.2h1.6M627.2 1213.5h1.6M629.7 1097.9h1.6M732.1 1176.5h1.6M655.3 1196.4h1.6M623.6 1127.9h1.6M637.4 1171.9h1.6M683.6 1211.9h1.6M741.4 1078.5h1.6M701.3 1178.8h1.6M629.1 1208.5h1.6M625.1 1198.2h1.6M736.4 1179.3h1.6M623.6 1110.6h1.6M662.2 1170.3h1.6M671.1 1169.3h1.6M680.3 1130.5h1.6M674.5 1029.8h1.6M661.4 1212.1h1.6M665.4 1197.1h1.6M622.9 1206.7h1.6M771.8 1198.8h1.6M630.0 1185.8h1.6M669.1 1111.7h1.6M625.5 1190.4h1.6M622.0 1084.5h1.6M648.9 1206.3h1.6M668.6 1035.5h1.6M628.4 1215.5h1.6M623.8 1147.4h1.6M696.4 1209.1h1.6M798.1 1191.9h1.6M622.4 1184.2h1.6M648.3 1171.5h1.6M642.1 1140.4h1.6M632.5 1210.1h1.6M637.3 1203.7h1.6M641.9 1178.7h1.6M630.4 1167.3h1.6M671.5 1208.6h1.6M622.2 1093.1h1.6M685.2 1025.1h1.6M807.6 1191.0h1.6M682.5 1202.9h1.6M681.0 1117.8h1.6M771.5 1143.1h1.6M628.3 1176.3h1.6M672.7 1006.6h1.6M645.6 1200.6h1.6M624.3 1208.3h1.6M653.6 1084.3h1.6M670.9 1194.0h1.6M692.8 1205.4h1.6M657.0 1016.1h1.6M686.3 1060.6h1.6M726.1 1163.6h1.6M757.7 1094.1h1.6M638.8 1208.0h1.6M661.7 1020.0h1.6M717.9 1209.6h1.6M623.6 1151.7h1.6M630.5 1191.1h1.6M631.3 1159.0h1.6M647.1 1216.1h1.6M710.1 1090.8h1.6M711.2 1170.8h1.6M661.5 1207.8h1.6M703.2 1030.9h1.6M646.0 1211.5h1.6M629.4 1121.8h1.6M627.2 1188.8h1.6M645.1 1192.1h1.6M673.8 1197.7h1.6M622.4 1214.8h1.6M645.6 1190.3h1.6M636.8 1187.8h1.6M789.8 1057.3h1.6M647.3 1200.1h1.6M763.2 1216.0h1.6M670.2 1153.2h1.6M623.5 1175.8h1.6M663.1 1010.7h1.6M660.8 1096.3h1.6M662.8 1168.3h1.6M673.6 1154.3h1.6M782.0 1170.2h1.6M696.4 1189.2h1.6M660.7 1021.8h1.6M636.8 1159.1h1.6M646.7 1212.4h1.6M663.1 1210.0h1.6M648.1 1167.7h1.6M622.0 1196.1h1.6M675.3 1205.5h1.6M650.0 1195.0h1.6M625.9 1208.2h1.6M821.3 1124.6h1.6M663.5 1216.3h1.6M642.0 1032.0h1.6M803.9 1086.5h1.6M640.3 1160.3h1.6M732.8 1215.3h1.6M622.2 1131.6h1.6M665.0 1151.2h1.6M662.4 1213.4h1.6M623.3 1072.3h1.6M825.8 1128.9h1.6M626.9 1208.1h1.6M656.1 1148.7h1.6M690.0 1027.5h1.6M634.0 1202.0h1.6M634.1 1207.5h1.6M763.9 1127.8h1.6M666.0 1193.0h1.6M629.9 1209.4h1.6M690.8 1194.6h1.6M651.1 1173.4h1.6M631.3 1201.1h1.6M637.5 1192.8h1.6M628.0 1215.4h1.6M638.0 1015.1h1.6M685.0 1129.7h1.6M673.0 1191.8h1.6M627.0 1202.8h1.6M626.3 1172.7h1.6M687.0 1214.9h1.6M818.5 1133.2h1.6M705.8 1126.8h1.6M630.7 1150.1h1.6M664.0 1135.8h1.6M734.4 1159.7h1.6M757.0 1124.1h1.6M663.0 1027.2h1.6M710.1 1194.0h1.6M629.9 1167.0h1.6M657.6 1153.2h1.6M660.3 989.9h1.6M730.0 1190.6h1.6M633.0 1108.4h1.6M739.8 1167.1h1.6M638.6 1104.7h1.6M637.2 1172.1h1.6M670.3 1211.3h1.6M624.2 1210.6h1.6M621.8 1174.4h1.6M658.9 1202.7h1.6M743.3 1137.0h1.6M696.7 1212.7h1.6M819.8 1122.7h1.6M624.5 1199.9h1.6M642.0 1125.5h1.6M683.3 1176.3h1.6M628.3 1207.2h1.6M633.0 1107.2h1.6M802.1 1192.5h1.6M730.9 1185.5h1.6M810.7 1203.8h1.6M712.5 1156.3h1.6M663.2 1193.4h1.6M827.2 1209.0h1.6M749.8 1181.2h1.6M657.1 1179.1h1.6M660.8 1177.9h1.6M712.8 1216.3h1.6M676.2 1188.6h1.6M626.9 1205.2h1.6M656.8 1111.6h1.6M685.6 1213.9h1.6M641.7 1183.3h1.6M661.2 1172.1h1.6M667.7 1080.3h1.6M623.1 1202.7h1.6M633.5 1216.2h1.6M693.0 1216.0h1.6M777.1 1191.6h1.6M623.1 1208.4h1.6M631.4 1127.1h1.6M682.7 1195.1h1.6M635.9 1122.8h1.6M631.1 1211.6h1.6M693.7 1068.5h1.6M663.6 1196.9h1.6M669.0 1198.0h1.6M660.9 1009.7h1.6M649.7 1028.0h1.6M626.8 1205.3h1.6M799.3 1198.7h1.6M827.4 1205.6h1.6M643.7 1024.7h1.6M625.2 1213.3h1.6M645.5 1190.4h1.6M744.3 1146.8h1.6M662.5 1014.7h1.6M629.6 1078.6h1.6M621.9 1177.8h1.6M622.1 1182.1h1.6M643.0 1140.0h1.6M621.8 1197.2h1.6M646.2 1046.4h1.6M641.4 1203.5h1.6M625.2 1032.3h1.6M623.5 1157.4h1.6M625.6 1174.3h1.6M667.1 1012.5h1.6M633.1 1215.7h1.6M680.5 1198.0h1.6M626.7 1139.9h1.6M629.2 1179.0h1.6M649.0 1205.1h1.6M630.1 1183.6h1.6M667.7 1213.1h1.6M625.2 1123.4h1.6M659.7 994.7h1.6M817.2 1071.8h1.6M640.6 1212.6h1.6M627.7 1133.5h1.6M650.3 1117.8h1.6M795.5 1119.6h1.6M647.0 1155.1h1.6M792.2 1167.3h1.6M641.0 1215.9h1.6M629.9 1209.9h1.6M667.0 1141.4h1.6M650.7 1202.2h1.6M652.9 1204.3h1.6M627.5 1188.4h1.6M677.8 1140.2h1.6M749.1 1037.7h1.6M693.9 1086.6h1.6M628.1 1170.7h1.6M674.0 1193.6h1.6M803.0 1082.8h1.6M785.3 1202.4h1.6M638.5 1172.7h1.6M623.3 1184.5h1.6M623.1 1199.3h1.6M624.4 1202.6h1.6M671.9 1169.6h1.6M630.3 1205.3h1.6M623.3 1033.2h1.6M743.0 1149.4h1.6M471.6 1164.8h1.6M505.8 1188.0h1.6M490.3 1215.7h1.6M507.2 1216.0h1.6M436.9 1185.7h1.6M467.1 1070.5h1.6M438.5 1088.7h1.6M512.0 1038.8h1.6M514.0 1176.2h1.6M492.5 1196.6h1.6M463.4 1215.9h1.6M511.1 1084.7h1.6M515.0 1189.9h1.6M453.4 1135.5h1.6M514.0 1187.5h1.6M511.1 1116.7h1.6M462.3 1011.5h1.6M459.5 1139.5h1.6M510.4 1170.5h1.6M443.5 1151.2h1.6M509.8 1181.6h1.6M476.9 1123.5h1.6M483.7 1031.7h1.6M505.3 1181.5h1.6M432.7 1126.4h1.6M477.4 1097.5h1.6M503.7 1209.8h1.6M439.8 1209.3h1.6M460.2 1146.8h1.6M419.8 1080.4h1.6M516.0 1173.2h1.6M433.7 1137.2h1.6M498.2 1201.0h1.6M393.8 1191.7h1.6M443.7 1155.9h1.6M501.2 1022.1h1.6M514.5 1180.7h1.6M506.1 1171.1h1.6M495.0 1216.1h1.6M443.8 1080.4h1.6M497.0 1121.7h1.6M483.8 1063.3h1.6M510.8 1099.7h1.6M504.9 1156.4h1.6M511.0 1156.2h1.6M501.7 1198.9h1.6M465.5 1157.8h1.6M495.3 1148.0h1.6M510.0 1198.4h1.6M499.0 1053.7h1.6M494.1 1169.2h1.6M480.9 1117.5h1.6M508.5 1190.5h1.6M505.1 1208.6h1.6M512.2 1202.7h1.6M448.5 1059.8h1.6M507.7 1049.5h1.6M513.4 1213.2h1.6M510.5 1094.8h1.6M472.6 1185.8h1.6M512.5 1178.3h1.6M432.0 1121.6h1.6M437.7 1146.7h1.6M480.4 1175.2h1.6M448.7 1149.1h1.6M492.8 1184.8h1.6M498.3 1154.0h1.6M478.0 1013.6h1.6M417.2 1161.7h1.6M497.6 1182.2h1.6M467.6 1160.5h1.6M501.6 1212.4h1.6M506.5 1127.9h1.6M514.6 1157.8h1.6M507.6 1141.6h1.6M505.6 1212.8h1.6M512.7 1201.2h1.6M513.0 1147.8h1.6M448.0 1191.3h1.6M489.1 1168.8h1.6M464.8 1205.8h1.6M504.9 1207.4h1.6M426.8 1169.4h1.6M443.8 1067.0h1.6M449.7 1074.7h1.6M500.7 1214.6h1.6M509.6 1214.5h1.6M506.4 1174.6h1.6M515.6 1199.2h1.6M489.1 1165.9h1.6M507.5 1203.9h1.6M497.3 1141.1h1.6M467.4 1056.0h1.6M479.9 1036.2h1.6M454.3 1215.9h1.6M491.8 1202.2h1.6M420.0 1204.9h1.6M423.3 1013.6h1.6M439.2 1185.6h1.6M485.9 1122.0h1.6M444.4 1010.3h1.6M430.8 1009.7h1.6M418.9 1166.8h1.6M507.3 1204.8h1.6M500.8 1171.6h1.6M424.5 1151.6h1.6M442.7 1052.7h1.6M458.7 1194.1h1.6M498.1 1213.0h1.6M479.3 1149.3h1.6M475.9 1017.3h1.6M511.8 1202.4h1.6M506.6 1211.6h1.6M464.4 1140.6h1.6M471.7 1154.7h1.6M426.3 1065.4h1.6M515.1 1041.7h1.6M472.7 1211.8h1.6M428.1 1081.0h1.6M482.3 998.6h1.6M458.4 1213.4h1.6M515.1 1169.1h1.6M424.2 1132.9h1.6M496.8 1204.2h1.6M493.5 1102.0h1.6M443.9 1204.5h1.6M463.3 1203.8h1.6M484.2 1088.8h1.6M474.5 1051.4h1.6M483.1 1092.1h1.6M429.2 1073.2h1.6M448.4 1022.7h1.6M479.4 1208.2h1.6M445.4 1187.1h1.6M510.1 1140.4h1.6M428.4 1212.2h1.6M504.9 1203.4h1.6M476.0 1009.1h1.6M501.2 1163.1h1.6M493.9 1123.1h1.6M491.3 1164.1h1.6M510.2 1185.9h1.6M424.8 1038.5h1.6M484.8 1087.3h1.6M500.2 1035.1h1.6M457.0 1196.8h1.6M510.3 1213.5h1.6M465.9 1067.0h1.6M431.4 1146.7h1.6M495.7 1161.2h1.6M473.3 1122.0h1.6M427.0 1200.3h1.6M413.5 1170.9h1.6M477.1 1190.9h1.6M507.9 1122.8h1.6M504.4 1191.6h1.6M423.7 1145.8h1.6M447.8 1108.3h1.6M507.7 1162.7h1.6M480.3 1204.6h1.6M510.9 1021.1h1.6M494.7 1186.9h1.6M423.1 1197.6h1.6M510.3 1151.5h1.6M502.1 1164.8h1.6M480.4 1099.3h1.6M512.7 1095.1h1.6M501.7 1179.0h1.6M508.4 1207.9h1.6M459.9 1129.1h1.6M447.7 1030.6h1.6M489.1 1081.5h1.6M494.8 1052.4h1.6M485.0 1154.6h1.6M469.4 1193.7h1.6M483.3 1039.4h1.6M459.8 1034.4h1.6M487.0 1136.8h1.6M446.6 1013.3h1.6M500.8 1211.4h1.6M513.9 1059.0h1.6M496.2 1137.4h1.6M512.3 1212.7h1.6M502.4 1180.8h1.6M503.5 1163.5h1.6M489.0 1096.0h1.6M505.4 1211.1h1.6M454.5 1193.6h1.6M509.9 1137.1h1.6M440.3 1193.1h1.6M498.6 1093.2h1.6M511.4 1198.3h1.6M491.5 1184.7h1.6M412.3 1009.2h1.6M509.5 1209.2h1.6M495.6 1159.5h1.6M484.4 1059.5h1.6M515.5 1200.1h1.6M514.4 1188.9h1.6M512.8 1211.6h1.6M430.4 1174.4h1.6M503.2 1092.9h1.6M496.4 1174.9h1.6M479.8 1074.8h1.6M499.9 1204.4h1.6M478.9 1192.1h1.6M493.8 1068.0h1.6M510.1 1209.8h1.6M416.8 1047.1h1.6M446.6 1212.5h1.6M467.0 1186.1h1.6M503.6 1201.7h1.6M426.8 1205.2h1.6M513.5 1095.6h1.6M504.5 1211.6h1.6M461.2 1181.1h1.6M429.2 1125.4h1.6M510.4 1195.8h1.6M515.0 1190.4h1.6M428.2 1138.9h1.6M423.3 1201.5h1.6M507.1 1185.2h1.6M501.1 1118.7h1.6M486.7 1182.5h1.6M515.3 1171.9h1.6M510.0 1208.4h1.6M436.4 1212.4h1.6M514.8 1068.4h1.6M507.4 1183.5h1.6M474.5 1205.3h1.6M468.0 1212.6h1.6M503.0 1071.1h1.6M438.2 1031.1h1.6M511.3 1200.6h1.6M483.5 1183.5h1.6M428.8 1108.4h1.6M508.0 1193.4h1.6M506.8 1209.3h1.6M514.4 1206.0h1.6M468.7 1046.5h1.6M419.7 1072.2h1.6M501.7 1152.9h1.6M475.6 1035.7h1.6M458.8 1166.0h1.6M443.9 1151.2h1.6M489.8 1197.3h1.6M381.2 1086.3h1.6M429.5 1083.0h1.6M472.3 1194.6h1.6M487.4 1111.4h1.6M450.3 1213.5h1.6M478.3 1152.5h1.6M489.4 1097.1h1.6M484.3 1103.7h1.6M448.3 1028.5h1.6M456.7 1215.8h1.6M507.3 1067.7h1.6M496.5 1166.7h1.6M497.8 1182.6h1.6M502.3 1030.9h1.6M500.4 1143.5h1.6M472.8 1002.2h1.6M508.9 1160.7h1.6M513.1 1205.3h1.6M419.7 1156.3h1.6M512.3 1208.5h1.6M515.6 1207.7h1.6M467.3 1024.0h1.6M486.2 1206.1h1.6M472.9 1128.5h1.6M509.2 1163.8h1.6M470.2 1132.2h1.6M515.2 1097.8h1.6M512.7 1148.8h1.6M506.1 1180.4h1.6M502.0 1065.5h1.6M501.2 1141.1h1.6M474.8 1000.2h1.6M510.7 1203.2h1.6M509.5 1202.3h1.6M457.2 1196.9h1.6M484.5 1188.9h1.6M485.7 1081.6h1.6M428.7 1078.2h1.6M463.6 1040.9h1.6M487.9 1167.6h1.6M506.2 1216.0h1.6M418.6 1129.8h1.6M515.3 1213.9h1.6M444.8 1203.9h1.6M431.8 1179.5h1.6M504.7 1207.0h1.6M514.7 1165.0h1.6M420.2 1098.7h1.6M445.7 1186.0h1.6M461.3 1130.4h1.6M490.9 1170.0h1.6M497.1 1014.6h1.6M425.9 1012.3h1.6M483.4 1207.3h1.6M428.2 1174.6h1.6M507.4 1181.5h1.6M458.1 1197.9h1.6M479.6 1122.1h1.6M438.1 1009.0h1.6M510.8 1043.8h1.6M507.1 1133.0h1.6M463.8 1096.1h1.6M483.2 1213.4h1.6M503.5 1189.8h1.6M449.2 1147.3h1.6M503.3 1134.9h1.6M425.1 1086.4h1.6M461.0 1216.3h1.6M470.8 1141.0h1.6M497.6 1003.9h1.6M504.4 1190.3h1.6M485.4 1208.8h1.6M375.4 1189.9h1.6M380.9 1204.6h1.6M511.7 1176.0h1.6M515.4 1146.1h1.6M450.3 1147.0h1.6M515.8 1185.1h1.6M511.6 1139.9h1.6M513.5 1182.5h1.6M505.6 1199.5h1.6M497.7 1105.1h1.6M505.3 1040.5h1.6M481.7 1203.2h1.6M504.3 1173.3h1.6M514.2 1140.9h1.6M456.1 1042.4h1.6M514.1 1155.4h1.6M487.6 1145.4h1.6M480.9 1090.1h1.6M514.9 1199.7h1.6M470.1 1063.0h1.6M511.1 1198.8h1.6M509.6 1214.9h1.6M428.3 1190.6h1.6M494.4 1214.8h1.6M461.3 1129.8h1.6M501.8 1213.7h1.6M494.0 1191.2h1.6M494.1 1108.6h1.6M431.4 1055.6h1.6M492.9 1204.0h1.6M463.7 1072.9h1.6M451.2 1190.4h1.6M509.7 1180.0h1.6M451.4 1131.4h1.6M510.5 1007.9h1.6M513.1 1205.9h1.6M505.9 1167.1h1.6M482.8 1173.6h1.6M478.0 1198.5h1.6M443.7 1146.9h1.6M424.3 1155.5h1.6M476.0 1215.8h1.6M425.9 1042.5h1.6M478.6 1139.2h1.6M513.0 1086.9h1.6M506.3 1197.6h1.6M497.3 1095.0h1.6M488.9 1061.3h1.6M429.9 1004.1h1.6M504.4 1115.0h1.6M481.5 1135.8h1.6M509.8 1174.7h1.6M470.9 1059.0h1.6M415.4 1216.2h1.6M507.8 1164.0h1.6M492.2 1170.4h1.6M503.0 1212.3h1.6M514.9 1198.1h1.6M419.8 1074.5h1.6M515.9 1186.4h1.6M463.5 1212.9h1.6M499.0 1086.3h1.6M499.9 1159.7h1.6M505.7 1169.0h1.6M424.5 1192.7h1.6M499.8 1167.6h1.6M487.7 1178.8h1.6M422.0 1192.1h1.6M502.5 1199.2h1.6M454.6 1193.1h1.6M515.0 1184.7h1.6M497.0 1137.8h1.6M478.0 1139.2h1.6M494.7 1061.3h1.6M430.0 1153.1h1.6M477.6 1213.9h1.6M508.1 1150.7h1.6M471.0 1194.7h1.6M486.4 1159.5h1.6M475.4 1148.0h1.6M379.5 1204.7h1.6M512.5 1193.9h1.6M498.5 1201.3h1.6M474.4 1199.1h1.6M414.0 1066.6h1.6M514.1 1180.0h1.6M510.5 1098.9h1.6M486.0 1163.8h1.6M499.3 1193.7h1.6M513.5 1206.4h1.6M480.9 1191.8h1.6M466.3 1063.7h1.6M428.1 1148.8h1.6M435.0 1063.4h1.6M502.5 1212.9h1.6M465.2 1104.6h1.6M503.6 1210.3h1.6M495.1 1195.5h1.6M494.7 1155.6h1.6M475.7 1198.1h1.6M487.9 1151.4h1.6M491.7 1206.7h1.6M495.6 1204.6h1.6M478.7 1207.7h1.6M505.0 1174.4h1.6M501.3 1205.3h1.6M511.1 1190.7h1.6M484.0 1193.0h1.6M499.2 1107.8h1.6M500.8 1152.6h1.6M512.1 1204.9h1.6M509.2 1146.8h1.6M449.9 1066.4h1.6M439.0 1204.8h1.6M443.7 1172.7h1.6M464.7 1211.3h1.6M454.3 1164.6h1.6M497.3 1212.8h1.6M491.7 1200.7h1.6M452.3 1100.2h1.6M431.8 1092.0h1.6M479.2 1141.1h1.6M441.1 1192.3h1.6M514.8 1209.9h1.6M515.6 1208.6h1.6M513.7 1195.1h1.6M515.1 1193.7h1.6M499.4 1040.2h1.6M506.1 1181.6h1.6M434.9 1086.3h1.6M423.6 1076.9h1.6M515.5 1096.7h1.6M421.2 1005.3h1.6M498.4 1185.7h1.6M514.6 1156.4h1.6M507.5 1201.0h1.6M499.6 1175.5h1.6M508.0 1155.7h1.6M461.4 1072.9h1.6M420.7 1159.5h1.6M474.3 1182.0h1.6M496.8 1097.8h1.6M488.2 1151.2h1.6M421.7 1146.5h1.6M500.2 1196.7h1.6M418.3 1033.2h1.6M499.6 1015.3h1.6M495.1 1204.1h1.6M444.7 1151.0h1.6M499.5 1117.7h1.6M491.2 1152.6h1.6M480.7 1003.0h1.6M480.7 1173.3h1.6M515.2 1051.9h1.6M433.2 1021.2h1.6M499.2 1135.0h1.6M418.7 1169.7h1.6M515.7 1210.9h1.6M515.7 1210.6h1.6M439.8 1091.0h1.6M475.6 1022.3h1.6M485.5 1013.3h1.6M488.4 1166.1h1.6M488.7 1209.2h1.6M501.9 1139.2h1.6M395.3 1166.5h1.6M463.4 1089.2h1.6M470.5 1056.5h1.6M511.5 1190.4h1.6M492.4 1197.4h1.6M494.1 1162.7h1.6M494.1 1214.9h1.6M504.4 1156.5h1.6M476.8 1132.8h1.6M487.3 1076.2h1.6M424.9 1036.4h1.6M516.0 1178.8h1.6M489.5 1043.6h1.6M421.5 1170.7h1.6M421.0 1097.5h1.6M444.8 999.5h1.6M468.4 1015.8h1.6M513.1 1202.2h1.6M455.7 1085.2h1.6M506.8 1163.0h1.6M512.5 1216.1h1.6M513.2 1190.6h1.6M455.4 1195.0h1.6M498.2 1143.7h1.6M501.9 1097.6h1.6M419.8 1023.7h1.6M424.5 1179.2h1.6M509.1 1194.6h1.6M509.2 1145.9h1.6M467.3 1189.9h1.6M414.4 1050.7h1.6M514.4 1191.7h1.6M505.5 1184.4h1.6M448.6 1136.6h1.6M461.5 1118.6h1.6M489.0 1198.4h1.6M515.6 1186.4h1.6M490.4 1153.1h1.6M413.4 1105.4h1.6M515.8 1215.1h1.6M499.4 1118.6h1.6M485.0 1161.4h1.6M510.2 1156.5h1.6M449.9 1056.2h1.6M498.3 1059.9h1.6M490.5 1133.0h1.6M491.2 1041.9h1.6M428.6 1026.2h1.6M515.7 1168.3h1.6M498.8 1200.1h1.6M514.1 1173.5h1.6M481.2 1206.8h1.6M513.2 1132.5h1.6M417.3 1136.3h1.6M506.5 1154.1h1.6M510.9 1073.8h1.6M515.2 1212.8h1.6M509.9 1208.6h1.6M433.4 1118.6h1.6M514.5 1118.8h1.6M515.5 1182.7h1.6M501.5 1171.0h1.6M504.5 1127.1h1.6M495.0 1200.7h1.6M468.7 1163.3h1.6M433.0 1054.0h1.6M415.3 1034.5h1.6M515.0 1148.1h1.6M458.4 1106.8h1.6M510.8 1133.5h1.6M502.9 1134.5h1.6M502.3 1187.0h1.6M501.8 1193.7h1.6M507.2 1197.9h1.6M495.2 1009.7h1.6M495.4 1003.7h1.6M510.3 1200.3h1.6M500.0 1079.0h1.6M429.6 1121.7h1.6M448.9 1156.7h1.6M417.2 1118.1h1.6M513.1 1159.1h1.6M433.0 1083.2h1.6M498.2 1003.2h1.6M390.9 1141.1h1.6M396.3 1072.8h1.6M439.1 1112.3h1.6M453.7 1053.9h1.6M513.8 1185.5h1.6M501.6 1147.7h1.6M506.7 1213.1h1.6M444.4 1061.6h1.6M511.7 1207.2h1.6M504.7 1037.4h1.6M510.0 1183.0h1.6M421.1 1041.9h1.6M453.0 1179.5h1.6M501.1 1061.6h1.6M483.6 1149.4h1.6M495.3 1195.7h1.6M452.3 1211.7h1.6M483.0 1144.7h1.6M505.5 1125.2h1.6M426.4 1185.1h1.6M474.8 1206.0h1.6M494.7 1159.5h1.6M511.3 1180.0h1.6M464.0 1136.3h1.6M509.7 1154.3h1.6M455.2 1009.9h1.6M502.3 1161.7h1.6M509.6 1207.6h1.6M506.8 1208.5h1.6M501.6 1181.3h1.6M435.3 1178.8h1.6M515.8 1211.2h1.6M514.7 1211.1h1.6M503.2 1215.6h1.6M491.0 1087.0h1.6M381.0 1213.6h1.6M474.1 1045.2h1.6M495.6 1210.8h1.6M368.1 1189.1h1.6M504.3 1186.2h1.6M480.7 1175.5h1.6M485.7 1179.2h1.6M484.0 1128.6h1.6M511.1 1149.8h1.6M502.6 1211.3h1.6M511.8 1103.2h1.6M505.0 1200.6h1.6M502.1 1213.0h1.6M428.5 1073.7h1.6M516.0 1203.7h1.6M480.3 1160.4h1.6M415.2 1160.4h1.6M513.4 1212.0h1.6M446.4 1062.6h1.6M515.8 1016.1h1.6M504.2 1201.3h1.6M476.4 1069.1h1.6M486.7 1203.8h1.6M506.5 1197.3h1.6M482.0 1137.4h1.6M511.7 1178.7h1.6M491.5 1090.8h1.6M447.7 1046.1h1.6M477.7 1182.4h1.6M477.3 1214.3h1.6M446.7 1127.1h1.6M514.9 1007.5h1.6M506.3 1182.7h1.6M495.7 1120.1h1.6M495.8 1179.5h1.6M491.9 1161.2h1.6M512.2 1213.5h1.6M492.4 1169.3h1.6M425.1 1067.8h1.6M500.8 1149.6h1.6M419.1 1213.9h1.6M465.6 1180.0h1.6M481.6 1034.6h1.6M475.2 1051.8h1.6M515.8 1214.8h1.6M440.9 1211.6h1.6M433.0 1049.7h1.6M512.8 1211.2h1.6M510.1 1167.5h1.6M505.0 1173.8h1.6M505.3 1191.7h1.6M427.9 1182.9h1.6M505.8 1166.3h1.6M492.6 1018.4h1.6M497.6 1171.7h1.6M414.9 1187.9h1.6M515.3 1160.2h1.6M515.6 1188.9h1.6M440.0 1106.4h1.6M418.1 1025.2h1.6M427.6 1200.7h1.6M483.8 1084.8h1.6M488.3 1214.5h1.6M511.6 1157.0h1.6M498.2 1139.8h1.6M455.7 1160.5h1.6M513.9 1187.3h1.6M383.8 1133.8h1.6M485.4 1105.5h1.6M506.3 1176.2h1.6M492.5 1215.5h1.6M448.9 1035.7h1.6M511.4 1083.5h1.6M512.7 1068.9h1.6M448.1 1132.7h1.6M496.4 1093.7h1.6M419.2 1068.1h1.6M488.9 1205.2h1.6M431.2 1187.7h1.6M514.3 1128.5h1.6M506.9 1214.2h1.6M436.4 1057.9h1.6M490.3 1115.2h1.6M427.4 1102.2h1.6M503.8 1177.4h1.6M481.8 1165.9h1.6M436.1 1187.4h1.6M478.5 1216.0h1.6M482.2 1016.2h1.6M506.7 1034.0h1.6M459.5 1159.3h1.6M507.7 1098.6h1.6M512.5 1147.5h1.6M510.6 1210.4h1.6M507.4 1159.1h1.6M498.3 1088.4h1.6M446.7 1196.9h1.6M512.4 1204.7h1.6M430.7 1141.0h1.6M473.4 1138.9h1.6M446.4 1152.9h1.6M510.7 1186.1h1.6M511.2 1202.8h1.6M491.5 1054.2h1.6M428.3 1187.9h1.6M476.9 1130.3h1.6M508.7 1169.0h1.6M501.6 1195.5h1.6M465.0 1118.9h1.6M430.1 1141.1h1.6M503.9 1168.2h1.6M467.7 1059.5h1.6M496.3 1135.8h1.6M377.8 1209.3h1.6M427.6 1135.8h1.6M441.5 1067.3h1.6M509.8 1127.8h1.6M494.5 1177.9h1.6M482.7 1070.0h1.6M509.8 1207.4h1.6M503.6 1213.9h1.6M506.1 1185.3h1.6M499.0 1175.9h1.6M460.6 1084.5h1.6M463.6 1154.1h1.6M513.4 1195.5h1.6M471.3 1099.7h1.6M401.7 1189.8h1.6M508.3 1198.8h1.6M502.5 1153.2h1.6M514.5 1197.0h1.6M484.2 1149.5h1.6M508.3 1134.7h1.6M454.4 999.7h1.6M473.3 1213.7h1.6M512.0 1192.8h1.6M513.5 1205.7h1.6M479.3 1072.0h1.6M510.5 1189.1h1.6M463.4 1023.6h1.6M420.5 1212.0h1.6M470.9 1135.7h1.6M465.7 1099.9h1.6M503.7 1167.0h1.6M495.6 1189.0h1.6M513.8 1179.8h1.6M514.2 1145.0h1.6M490.2 1161.2h1.6M511.1 1207.2h1.6M513.1 1175.6h1.6M486.4 1131.6h1.6M507.6 1148.0h1.6M515.1 1195.2h1.6M472.1 1195.4h1.6M504.4 1181.7h1.6M380.6 1017.1h1.6M497.1 1112.6h1.6M493.2 1161.4h1.6M511.7 1057.1h1.6M453.7 999.8h1.6M465.4 1195.8h1.6M458.2 1105.6h1.6M508.7 1203.6h1.6M498.0 1212.7h1.6M468.5 1167.0h1.6M499.4 1202.8h1.6M506.2 1205.6h1.6M481.7 1185.5h1.6M459.5 1187.8h1.6M501.3 1190.1h1.6M500.4 1209.8h1.6M504.9 1002.2h1.6M513.0 1215.9h1.6M493.9 1144.1h1.6M490.8 1159.5h1.6M421.7 1212.3h1.6M457.8 995.7h1.6M496.6 1192.2h1.6M425.9 1066.2h1.6M510.5 1073.5h1.6M515.1 1145.1h1.6M445.9 1135.7h1.6M413.9 1198.2h1.6M495.7 1143.9h1.6M423.5 1183.8h1.6M476.4 1200.2h1.6M505.6 1122.2h1.6M484.7 1120.8h1.6M457.5 1040.7h1.6M443.8 1137.6h1.6M450.5 1006.9h1.6M443.9 1014.8h1.6M479.3 1202.8h1.6M507.9 1197.6h1.6M425.3 1195.4h1.6M432.6 1034.0h1.6M514.3 1166.0h1.6M499.4 1214.0h1.6M474.7 1107.5h1.6M506.5 1193.1h1.6M458.2 1178.2h1.6M504.1 1178.8h1.6M508.4 1102.9h1.6M509.2 1173.5h1.6M499.2 1017.3h1.6M513.2 1205.0h1.6M482.8 1215.1h1.6M491.4 1130.3h1.6M460.5 1064.7h1.6M498.9 1185.7h1.6M443.7 1170.9h1.6M511.7 1183.6h1.6M482.0 1205.2h1.6M485.3 1212.1h1.6M447.8 1027.1h1.6M447.9 1124.0h1.6M512.3 1146.0h1.6M429.8 1019.7h1.6M508.9 1070.6h1.6M500.7 1119.5h1.6M419.4 1204.0h1.6M423.4 1097.9h1.6M509.2 1209.6h1.6M493.5 1178.7h1.6M514.1 1104.7h1.6M493.8 1216.3h1.6M425.2 1210.9h1.6M435.3 1194.2h1.6M407.2 1194.2h1.6M495.4 1201.3h1.6M475.6 1108.7h1.6M464.3 1192.9h1.6M504.1 1163.0h1.6M480.6 1197.4h1.6M442.1 1160.1h1.6M487.3 1104.3h1.6M457.8 1008.6h1.6M469.0 1112.9h1.6M457.2 1205.9h1.6M513.0 1210.9h1.6M483.7 1195.0h1.6M515.9 1015.9h1.6M509.6 1187.8h1.6M510.6 1178.3h1.6M473.1 1215.8h1.6M510.7 1208.0h1.6M413.8 1214.4h1.6M506.5 1215.5h1.6M512.7 1202.5h1.6M510.2 1195.3h1.6M514.9 1176.2h1.6M480.4 1196.0h1.6M414.0 1029.4h1.6M507.9 1102.8h1.6M510.6 1017.3h1.6M436.8 1132.1h1.6M489.7 1213.4h1.6M433.7 1211.7h1.6M495.4 1174.7h1.6M489.6 1212.7h1.6M480.2 1085.3h1.6M501.6 1093.9h1.6M514.4 1199.9h1.6M513.9 1022.3h1.6M442.1 1141.1h1.6M511.9 1156.6h1.6M494.6 1127.6h1.6M479.0 1201.5h1.6M497.2 1147.3h1.6M511.7 1182.6h1.6M505.4 1186.2h1.6M493.3 1193.4h1.6M504.4 1105.5h1.6M397.8 1104.4h1.6M511.4 1206.9h1.6M502.8 1206.9h1.6M456.2 1214.5h1.6M503.2 1097.7h1.6M459.9 1053.8h1.6M460.9 1147.9h1.6M429.4 1137.8h1.6M504.5 1130.6h1.6M418.6 1098.2h1.6M419.8 1059.2h1.6M496.5 989.7h1.6M484.2 1208.3h1.6M419.4 1179.0h1.6M455.4 1152.7h1.6M514.9 1113.8h1.6M488.3 1159.0h1.6M465.2 1135.5h1.6M492.0 1031.3h1.6M511.1 1095.6h1.6M413.0 1205.7h1.6M514.1 1081.7h1.6M395.4 736.5h1.6M471.6 791.5h1.6M478.9 812.1h1.6M487.7 835.2h1.6M510.8 839.5h1.6M338.0 842.5h1.6M416.3 849.8h1.6M446.4 844.0h1.6M451.0 853.7h1.6M478.9 861.9h1.6M443.1 886.6h1.6M463.1 892.9h1.6M496.8 889.9h1.6M378.4 905.7h1.6M396.0 911.2h1.6M502.6 909.3h1.6M480.4 912.7h1.6M448.8 917.2h1.6M436.4 920.9h1.6M392.9 921.8h1.6M374.1 929.7h1.6M433.7 929.7h1.6M503.8 948.2h1.6M449.8 948.8h1.6M402.1 951.9h1.6M439.1 954.6h1.6M454.9 957.3h1.6M435.8 964.6h1.6M390.2 968.0h1.6M313.0 974.0h1.6M475.9 973.7h1.6M450.7 978.6h1.6M472.2 979.8h1.6M508.1 977.4h1.6M499.9 978.9h1.6M495.6 984.1h1.6M429.7 981.9h1.6M450.1 984.7h1.6M418.2 990.8h1.6M429.7 987.1h1.6M452.2 993.8h1.6M456.7 997.4h1.6M460.1 1002.3h1.6M512.3 998.4h1.6M496.2 1004.4h1.6M688.8 760.8h1.6M672.7 834.9h1.6M682.5 847.7h1.6M713.1 844.3h1.6M675.8 850.4h1.6M678.2 865.9h1.6M667.9 877.1h1.6M659.1 886.6h1.6M669.1 886.6h1.6M638.1 918.5h1.6M670.9 921.8h1.6M675.8 935.5h1.6M741.4 938.5h1.6M763.3 948.8h1.6M628.4 950.7h1.6M659.7 951.9h1.6M670.9 948.8h1.6M673.7 948.5h1.6M695.5 951.9h1.6M688.8 957.9h1.6M693.1 957.3h1.6M752.0 972.8h1.6M787.3 975.3h1.6M649.7 978.6h1.6M669.7 975.6h1.6M688.2 978.9h1.6M665.1 983.5h1.6M670.6 981.9h1.6M681.5 984.4h1.6M637.2 986.5h1.6M646.0 986.8h1.6M653.6 985.6h1.6M674.0 986.8h1.6M665.8 989.2h1.6M670.9 991.4h1.6M790.6 990.5h1.6M672.7 995.6h1.6M659.1 998.4h1.6M664.2 999.0h1.6M666.7 998.0h1.6M646.3 1002.6h1.6M720.4 1007.2h1.6" stroke="#d2342c" stroke-width="1.6" fill="none"/>
<rect x="279.4" y="697.6" width="581.2" height="604.6" fill="none" stroke="#222" stroke-width="1.8"/>
<line x1="516.7" y1="698" x2="516.7" y2="1302" stroke="#333" stroke-width="1.2" stroke-dasharray="5 2.6"/>
<line x1="622.7" y1="698" x2="622.7" y2="1302" stroke="#333" stroke-width="1.2" stroke-dasharray="5 2.6"/>
<line x1="279.4" y1="1216.3" x2="860.6" y2="1216.3" stroke="#333" stroke-width="1.2" stroke-dasharray="7 3"/>
<line x1="271.4" y1="700.7" x2="279.4" y2="700.7" stroke="#222" stroke-width="1.8"/>
<text x="262.2" y="709.9000000000001" font-size="23.3" text-anchor="end">12.5</text>
<line x1="271.4" y1="815.8000000000001" x2="279.4" y2="815.8000000000001" stroke="#222" stroke-width="1.8"/>
<text x="262.2" y="825.0000000000001" font-size="23.3" text-anchor="end">10.0</text>
<line x1="271.4" y1="930.9000000000001" x2="279.4" y2="930.9000000000001" stroke="#222" stroke-width="1.8"/>
<text x="262.2" y="940.1000000000001" font-size="23.3" text-anchor="end">7.5</text>
<line x1="271.4" y1="1046.0" x2="279.4" y2="1046.0" stroke="#222" stroke-width="1.8"/>
<text x="262.2" y="1055.2" font-size="23.3" text-anchor="end">5.0</text>
<line x1="271.4" y1="1161.1000000000001" x2="279.4" y2="1161.1000000000001" stroke="#222" stroke-width="1.8"/>
<text x="262.2" y="1170.3000000000002" font-size="23.3" text-anchor="end">2.5</text>
<line x1="271.4" y1="1276.2" x2="279.4" y2="1276.2" stroke="#222" stroke-width="1.8"/>
<text x="262.2" y="1285.4" font-size="23.3" text-anchor="end">0.0</text>
<line x1="305.2" y1="1302" x2="305.2" y2="1309" stroke="#222" stroke-width="1.8"/>
<text x="300.4" y="1334.5" font-size="23.3" text-anchor="middle">-10</text>
<line x1="437.4" y1="1302" x2="437.4" y2="1309" stroke="#222" stroke-width="1.8"/>
<text x="435.5" y="1334.5" font-size="23.3" text-anchor="middle">-5</text>
<line x1="569.6" y1="1302" x2="569.6" y2="1309" stroke="#222" stroke-width="1.8"/>
<text x="569.6" y="1334.5" font-size="23.3" text-anchor="middle">0</text>
<line x1="701.8000000000001" y1="1302" x2="701.8000000000001" y2="1309" stroke="#222" stroke-width="1.8"/>
<text x="701.8000000000001" y="1334.5" font-size="23.3" text-anchor="middle">5</text>
<line x1="834.0" y1="1302" x2="834.0" y2="1309" stroke="#222" stroke-width="1.8"/>
<text x="834.0" y="1334.5" font-size="23.3" text-anchor="middle">10</text>
<text x="570" y="1363.5" font-size="22.5" text-anchor="middle" textLength="190.4" lengthAdjust="spacingAndGlyphs">log2 (Fold chang)</text>
<text x="0" y="0" font-size="22.5" text-anchor="middle" textLength="248" lengthAdjust="spacingAndGlyphs" transform="translate(176,1008.2) rotate(-90)">-log10 (Adjust <tspan font-style="italic">p</tspan>-value)</text>
<circle cx="401.2" cy="760.8" r="3.2" fill="#e8261c"/>
<circle cx="411" cy="988.6" r="3.2" fill="#e8261c"/>
<circle cx="475.4" cy="1002.4" r="3.2" fill="#e8261c"/>
<circle cx="473.5" cy="1011.2" r="3.2" fill="#e8261c"/>
<circle cx="435" cy="1047.7" r="3.2" fill="#e8261c"/>
<circle cx="426.8" cy="1117.3" r="3.2" fill="#e8261c"/>
<circle cx="442.9" cy="1126.4" r="3.2" fill="#e8261c"/>
<circle cx="415.8" cy="1167.4" r="3.2" fill="#e8261c"/>
<circle cx="441" cy="1167.1" r="3.2" fill="#e8261c"/>
<circle cx="425.8" cy="1189.6" r="3.2" fill="#e8261c"/>
<circle cx="464.7" cy="1194.7" r="3.2" fill="#e8261c"/>
<circle cx="470.2" cy="1196.3" r="3.2" fill="#e8261c"/>
<circle cx="680.1" cy="1180.2" r="3.2" fill="#e8261c"/>
<circle cx="830.8" cy="1036.2" r="3.2" fill="#e8261c"/>
<path d="M466 1094.6L459.4 1105.8H472.8z" fill="#e8261c"/>
<text x="368.7" y="765.3" font-size="14" textLength="28.3" lengthAdjust="spacingAndGlyphs">MPZ</text>
<text x="376.3" y="993.2" font-size="14" textLength="31" lengthAdjust="spacingAndGlyphs">SELE</text>
<text x="470.5" y="995.3" font-size="14" textLength="47.1" lengthAdjust="spacingAndGlyphs">NLGN3</text>
<text x="469" y="1024.9" font-size="14" textLength="34.9" lengthAdjust="spacingAndGlyphs">JAM2</text>
<text x="381.2" y="1052.6" font-size="14" textLength="49.8" lengthAdjust="spacingAndGlyphs">NCAM2</text>
<text x="412.8" y="1113" font-size="14" textLength="46.2" lengthAdjust="spacingAndGlyphs">CNTN2</text>
<text x="438.6" y="1140.7" font-size="14" textLength="44.1" lengthAdjust="spacingAndGlyphs">NEGR1</text>
<text x="364.2" y="1165.6" font-size="14" textLength="47.1" lengthAdjust="spacingAndGlyphs">NRXN1</text>
<text x="448.6" y="1169.5" font-size="14" textLength="48.6" lengthAdjust="spacingAndGlyphs">CADM3</text>
<text x="392.7" y="1185.9" font-size="14" textLength="46.8" lengthAdjust="spacingAndGlyphs">NTNG1</text>
<text x="459" y="1189" font-size="14" textLength="45.5" lengthAdjust="spacingAndGlyphs">CNTN1</text>
<text x="477.2" y="1209" font-size="14" textLength="48.6" lengthAdjust="spacingAndGlyphs">NCAM1</text>
<text x="639.7" y="1184.7" font-size="14" textLength="36.2" lengthAdjust="spacingAndGlyphs">CDH3</text>
<text x="773.1" y="1040.4" font-size="14" textLength="53.5" lengthAdjust="spacingAndGlyphs">CLDN18</text>
<text x="467.5" y="1096.6" font-size="14" textLength="39.5" lengthAdjust="spacingAndGlyphs">SVEP1</text>
<text x="0" y="0" font-size="23.5" textLength="117.4" lengthAdjust="spacingAndGlyphs" transform="translate(915.5,699.1) rotate(90)">Significant</text>
<text x="0" y="0" font-size="23.5" textLength="168" lengthAdjust="spacingAndGlyphs" transform="translate(915.5,870.3) rotate(90)">True (≥ 2 times)</text>
<text x="0" y="0" font-size="23.5" textLength="55.8" lengthAdjust="spacingAndGlyphs" transform="translate(877.4,870.3) rotate(90)">False</text>
<text x="0" y="0" font-size="23.5" textLength="168" lengthAdjust="spacingAndGlyphs" transform="translate(915.5,1102.4) rotate(90)">True (&lt; 2 times)</text>
<text x="0" y="0" font-size="23.5" textLength="55.8" lengthAdjust="spacingAndGlyphs" transform="translate(877.4,1102.4) rotate(90)">False</text>
<circle cx="924.3" cy="852" r="8.8" fill="#f0271c"/>
<circle cx="885.2" cy="852" r="8.8" fill="#3562e0"/>
<circle cx="924.3" cy="1079" r="8.8" fill="#3ea32e"/>
<circle cx="885.2" cy="1079" r="8.8" fill="#000"/>
<text x="1025.8" y="46.8" font-size="54">C</text>
<text x="1488.7" y="21.7" font-size="23.5" text-anchor="middle" textLength="477" lengthAdjust="spacingAndGlyphs">Expression of SVEP1 across TCGA cancers</text>
<text x="1488.5" y="49.4" font-size="23.5" text-anchor="middle" textLength="363" lengthAdjust="spacingAndGlyphs">(with tumor and normal samples)</text>
<rect x="1744" y="33.6" width="32" height="13.3" fill="#5a6cf3"/>
<rect x="1744" y="57.6" width="32" height="13.2" fill="#ee3a1c"/>
<text x="1792" y="44.4" font-size="24" textLength="175.5" lengthAdjust="spacingAndGlyphs">Normal samples</text>
<text x="1792" y="73.4" font-size="24" textLength="169" lengthAdjust="spacingAndGlyphs">Tumor samples</text>
<line x1="1097.1" y1="71.5" x2="1097.1" y2="301" stroke="#333" stroke-width="1.3"/>
<line x1="1090" y1="300.6" x2="1970" y2="300.6" stroke="#333" stroke-width="1.5"/>
<line x1="1091" y1="72.4" x2="1097" y2="72.4" stroke="#333" stroke-width="1.3"/>
<text x="1083.8" y="77.10000000000001" font-size="23.5" text-anchor="end">10</text>
<line x1="1091" y1="110.38" x2="1097" y2="110.38" stroke="#333" stroke-width="1.3"/>
<text x="1083.8" y="115.49999999999999" font-size="23.5" text-anchor="end">8</text>
<line x1="1091" y1="148.36" x2="1097" y2="148.36" stroke="#333" stroke-width="1.3"/>
<text x="1083.8" y="153.9" font-size="23.5" text-anchor="end">6</text>
<line x1="1091" y1="186.34" x2="1097" y2="186.34" stroke="#333" stroke-width="1.3"/>
<text x="1083.8" y="192.29999999999998" font-size="23.5" text-anchor="end">4</text>
<line x1="1091" y1="224.32" x2="1097" y2="224.32" stroke="#333" stroke-width="1.3"/>
<text x="1083.8" y="230.7" font-size="23.5" text-anchor="end">2</text>
<line x1="1091" y1="262.29999999999995" x2="1097" y2="262.29999999999995" stroke="#333" stroke-width="1.3"/>
<text x="1083.8" y="269.09999999999997" font-size="23.5" text-anchor="end">0</text>
<line x1="1091" y1="300.28" x2="1097" y2="300.28" stroke="#333" stroke-width="1.3"/>
<text x="1083.8" y="307.5" font-size="23.5" text-anchor="end">-2</text>
<text x="0" y="0" font-size="23.5" text-anchor="middle" textLength="146" lengthAdjust="spacingAndGlyphs" transform="translate(1049.4,167.5) rotate(-90)">log2 (TPM+1)</text>
<text x="1551.4" y="386.5" font-size="23.5" text-anchor="middle" textLength="162" lengthAdjust="spacingAndGlyphs">TCGA samples</text>
<line x1="1113.8" y1="228.1" x2="1113.8" y2="294.6" stroke="#777" stroke-width="0.8" stroke-dasharray="1.2 2.2"/>
<line x1="1111.3999999999999" y1="228.1" x2="1116.2" y2="228.1" stroke="#222" stroke-width="0.9"/>
<line x1="1111.3999999999999" y1="294.6" x2="1116.2" y2="294.6" stroke="#222" stroke-width="0.9"/>
<rect x="1109.0" y="260.8" width="9.6" height="24.3" fill="#ee3016"/>
<line x1="1109.0" y1="274.6" x2="1118.6" y2="274.6" stroke="#111" stroke-width="1.3"/>
<line x1="1126.0" y1="140.8" x2="1126.0" y2="278.4" stroke="#777" stroke-width="0.8" stroke-dasharray="1.2 2.2"/>
<line x1="1123.6" y1="140.8" x2="1128.4" y2="140.8" stroke="#222" stroke-width="0.9"/>
<line x1="1123.6" y1="278.4" x2="1128.4" y2="278.4" stroke="#222" stroke-width="0.9"/>
<rect x="1121.2" y="173.4" width="9.6" height="57.0" fill="#3a3df2"/>
<line x1="1121.2" y1="205.5" x2="1130.8" y2="205.5" stroke="#111" stroke-width="1.3"/>
<line x1="1121.2" y1="294.9628" x2="1130.8" y2="294.9628" stroke="#111" stroke-width="1.6"/>
<line x1="1109.0" y1="294.9628" x2="1118.6" y2="294.9628" stroke="#111" stroke-width="1.6"/>
<path d="M1113.8 157.7V129.6H1126.0V132.6" fill="none" stroke="#999" stroke-width="0.8"/>
<line x1="1119.8" y1="127.9599" x2="1119.8" y2="131.1599" stroke="#f0453a" stroke-width="1"/>
<text x="1119.8" y="128.6599" font-size="27" text-anchor="middle">*</text>
<line x1="1095.6" y1="301.5" x2="1095.6" y2="306" stroke="#ccc" stroke-width="0.8"/>
<line x1="1113.8" y1="301.5" x2="1113.8" y2="306" stroke="#ccc" stroke-width="0.8"/>
<line x1="1132.0" y1="301.5" x2="1132.0" y2="306" stroke="#ccc" stroke-width="0.8"/>
<text font-size="24" text-anchor="end" transform="translate(1130.4,316.6) rotate(-45)">BLCA</text>
<line x1="1150.3" y1="170.4" x2="1150.3" y2="294.6" stroke="#777" stroke-width="0.8" stroke-dasharray="1.2 2.2"/>
<line x1="1147.8999999999999" y1="170.4" x2="1152.7" y2="170.4" stroke="#222" stroke-width="0.9"/>
<line x1="1147.8999999999999" y1="294.6" x2="1152.7" y2="294.6" stroke="#222" stroke-width="0.9"/>
<rect x="1145.5" y="226.2" width="9.6" height="41.8" fill="#ee3016"/>
<line x1="1145.5" y1="249.0" x2="1155.1" y2="249.0" stroke="#111" stroke-width="1.3"/>
<line x1="1162.5" y1="89.5" x2="1162.5" y2="240.1" stroke="#777" stroke-width="0.8" stroke-dasharray="1.2 2.2"/>
<line x1="1160.1" y1="89.5" x2="1164.9" y2="89.5" stroke="#222" stroke-width="0.9"/>
<line x1="1160.1" y1="240.1" x2="1164.9" y2="240.1" stroke="#222" stroke-width="0.9"/>
<rect x="1157.7" y="133.9" width="9.6" height="43.5" fill="#3a3df2"/>
<line x1="1157.7" y1="155.4" x2="1167.3" y2="155.4" stroke="#111" stroke-width="1.3"/>
<path d="M1150.3 143.8V78.7H1162.5V81.7" fill="none" stroke="#999" stroke-width="0.8"/>
<line x1="1156.3" y1="77.06670000000001" x2="1156.3" y2="80.2667" stroke="#f0453a" stroke-width="1"/>
<text x="1156.3" y="77.7667" font-size="27" text-anchor="middle">*</text>
<line x1="1132.1" y1="301.5" x2="1132.1" y2="306" stroke="#ccc" stroke-width="0.8"/>
<line x1="1150.3" y1="301.5" x2="1150.3" y2="306" stroke="#ccc" stroke-width="0.8"/>
<line x1="1168.5" y1="301.5" x2="1168.5" y2="306" stroke="#ccc" stroke-width="0.8"/>
<text font-size="24" text-anchor="end" transform="translate(1166.9,316.6) rotate(-45)">BRCA</text>
<line x1="1186.8" y1="236.3" x2="1186.8" y2="294.2" stroke="#777" stroke-width="0.8" stroke-dasharray="1.2 2.2"/>
<line x1="1184.3999999999999" y1="236.3" x2="1189.2" y2="236.3" stroke="#222" stroke-width="0.9"/>
<line x1="1184.3999999999999" y1="294.2" x2="1189.2" y2="294.2" stroke="#222" stroke-width="0.9"/>
<rect x="1182.0" y="266.1" width="9.6" height="20.3" fill="#ee3016"/>
<line x1="1182.0" y1="278.1" x2="1191.6" y2="278.1" stroke="#111" stroke-width="1.3"/>
<line x1="1199.0" y1="140.8" x2="1199.0" y2="259.3" stroke="#777" stroke-width="0.8" stroke-dasharray="1.2 2.2"/>
<line x1="1196.6" y1="140.8" x2="1201.4" y2="140.8" stroke="#222" stroke-width="0.9"/>
<line x1="1196.6" y1="259.3" x2="1201.4" y2="259.3" stroke="#222" stroke-width="0.9"/>
<rect x="1194.2" y="164.1" width="9.6" height="47.9" fill="#3a3df2"/>
<line x1="1194.2" y1="202.5" x2="1203.8" y2="202.5" stroke="#111" stroke-width="1.3"/>
<path d="M1186.8 222.0V130.1H1199.0V133.1" fill="none" stroke="#999" stroke-width="0.8"/>
<line x1="1192.8" y1="128.52960000000002" x2="1192.8" y2="131.7296" stroke="#f0453a" stroke-width="1"/>
<text x="1192.8" y="129.2296" font-size="27" text-anchor="middle">*</text>
<line x1="1168.6" y1="301.5" x2="1168.6" y2="306" stroke="#ccc" stroke-width="0.8"/>
<line x1="1186.8" y1="301.5" x2="1186.8" y2="306" stroke="#ccc" stroke-width="0.8"/>
<line x1="1205.0" y1="301.5" x2="1205.0" y2="306" stroke="#ccc" stroke-width="0.8"/>
<text font-size="24" text-anchor="end" transform="translate(1203.4,316.6) rotate(-45)">CESC</text>
<line x1="1223.3" y1="217.3" x2="1223.3" y2="294.2" stroke="#777" stroke-width="0.8" stroke-dasharray="1.2 2.2"/>
<line x1="1220.8999999999999" y1="217.3" x2="1225.7" y2="217.3" stroke="#222" stroke-width="0.9"/>
<line x1="1220.8999999999999" y1="294.2" x2="1225.7" y2="294.2" stroke="#222" stroke-width="0.9"/>
<rect x="1218.5" y="256.0" width="9.6" height="25.3" fill="#ee3016"/>
<line x1="1218.5" y1="269.9" x2="1228.1" y2="269.9" stroke="#111" stroke-width="1.3"/>
<line x1="1235.5" y1="116.1" x2="1235.5" y2="295.0" stroke="#777" stroke-width="0.8" stroke-dasharray="1.2 2.2"/>
<line x1="1233.1" y1="116.1" x2="1237.9" y2="116.1" stroke="#222" stroke-width="0.9"/>
<line x1="1233.1" y1="295.0" x2="1237.9" y2="295.0" stroke="#222" stroke-width="0.9"/>
<rect x="1230.7" y="187.9" width="9.6" height="48.6" fill="#3a3df2"/>
<line x1="1230.7" y1="210.6" x2="1240.3" y2="210.6" stroke="#111" stroke-width="1.3"/>
<path d="M1223.3 165.8V80.9H1235.5V83.9" fill="none" stroke="#999" stroke-width="0.8"/>
<line x1="1229.3" y1="79.3455" x2="1229.3" y2="82.54549999999999" stroke="#f0453a" stroke-width="1"/>
<text x="1229.3" y="80.04549999999999" font-size="27" text-anchor="middle">*</text>
<line x1="1205.1" y1="301.5" x2="1205.1" y2="306" stroke="#ccc" stroke-width="0.8"/>
<line x1="1223.3" y1="301.5" x2="1223.3" y2="306" stroke="#ccc" stroke-width="0.8"/>
<line x1="1241.5" y1="301.5" x2="1241.5" y2="306" stroke="#ccc" stroke-width="0.8"/>
<text font-size="24" text-anchor="end" transform="translate(1239.9,316.6) rotate(-45)">COAD</text>
<line x1="1259.8" y1="194.9" x2="1259.8" y2="293.6" stroke="#777" stroke-width="0.8" stroke-dasharray="1.2 2.2"/>
<line x1="1257.3999999999999" y1="194.9" x2="1262.2" y2="194.9" stroke="#222" stroke-width="0.9"/>
<line x1="1257.3999999999999" y1="293.6" x2="1262.2" y2="293.6" stroke="#222" stroke-width="0.9"/>
<rect x="1255.0" y="244.3" width="9.6" height="34.2" fill="#ee3016"/>
<line x1="1255.0" y1="263.1" x2="1264.6" y2="263.1" stroke="#111" stroke-width="1.3"/>
<line x1="1272.0" y1="157.9" x2="1272.0" y2="295.0" stroke="#777" stroke-width="0.8" stroke-dasharray="1.2 2.2"/>
<line x1="1269.6" y1="157.9" x2="1274.4" y2="157.9" stroke="#222" stroke-width="0.9"/>
<line x1="1269.6" y1="295.0" x2="1274.4" y2="295.0" stroke="#222" stroke-width="0.9"/>
<rect x="1267.2" y="206.3" width="9.6" height="43.3" fill="#3a3df2"/>
<line x1="1267.2" y1="226.2" x2="1276.8" y2="226.2" stroke="#111" stroke-width="1.3"/>
<path d="M1259.8 181.8V126.5H1272.0V129.5" fill="none" stroke="#999" stroke-width="0.8"/>
<line x1="1265.8" y1="124.92150000000001" x2="1265.8" y2="128.1215" stroke="#f0453a" stroke-width="1"/>
<text x="1265.8" y="125.6215" font-size="27" text-anchor="middle">*</text>
<line x1="1241.6" y1="301.5" x2="1241.6" y2="306" stroke="#ccc" stroke-width="0.8"/>
<line x1="1259.8" y1="301.5" x2="1259.8" y2="306" stroke="#ccc" stroke-width="0.8"/>
<line x1="1278.0" y1="301.5" x2="1278.0" y2="306" stroke="#ccc" stroke-width="0.8"/>
<text font-size="24" text-anchor="end" transform="translate(1276.4,316.6) rotate(-45)">KIRC</text>
<line x1="1296.3" y1="235.7" x2="1296.3" y2="294.6" stroke="#777" stroke-width="0.8" stroke-dasharray="1.2 2.2"/>
<line x1="1293.8999999999999" y1="235.7" x2="1298.7" y2="235.7" stroke="#222" stroke-width="0.9"/>
<line x1="1293.8999999999999" y1="294.6" x2="1298.7" y2="294.6" stroke="#222" stroke-width="0.9"/>
<rect x="1291.5" y="268.0" width="9.6" height="22.8" fill="#ee3016"/>
<line x1="1291.5" y1="284.1" x2="1301.1" y2="284.1" stroke="#111" stroke-width="1.3"/>
<line x1="1308.5" y1="160.7" x2="1308.5" y2="295.0" stroke="#777" stroke-width="0.8" stroke-dasharray="1.2 2.2"/>
<line x1="1306.1" y1="160.7" x2="1310.9" y2="160.7" stroke="#222" stroke-width="0.9"/>
<line x1="1306.1" y1="295.0" x2="1310.9" y2="295.0" stroke="#222" stroke-width="0.9"/>
<rect x="1303.7" y="218.2" width="9.6" height="40.3" fill="#3a3df2"/>
<line x1="1303.7" y1="240.8" x2="1313.3" y2="240.8" stroke="#111" stroke-width="1.3"/>
<path d="M1296.3 186.8V150.3H1308.5V153.3" fill="none" stroke="#999" stroke-width="0.8"/>
<line x1="1302.3" y1="148.659" x2="1302.3" y2="151.85899999999998" stroke="#f0453a" stroke-width="1"/>
<text x="1302.3" y="149.35899999999998" font-size="27" text-anchor="middle">*</text>
<line x1="1278.1" y1="301.5" x2="1278.1" y2="306" stroke="#ccc" stroke-width="0.8"/>
<line x1="1296.3" y1="301.5" x2="1296.3" y2="306" stroke="#ccc" stroke-width="0.8"/>
<line x1="1314.5" y1="301.5" x2="1314.5" y2="306" stroke="#ccc" stroke-width="0.8"/>
<text font-size="24" text-anchor="end" transform="translate(1312.9,316.6) rotate(-45)">KIRP</text>
<line x1="1332.8" y1="173.0" x2="1332.8" y2="291.9" stroke="#777" stroke-width="0.8" stroke-dasharray="1.2 2.2"/>
<line x1="1330.3999999999999" y1="173.0" x2="1335.2" y2="173.0" stroke="#222" stroke-width="0.9"/>
<line x1="1330.3999999999999" y1="291.9" x2="1335.2" y2="291.9" stroke="#222" stroke-width="0.9"/>
<rect x="1328.0" y="232.9" width="9.6" height="39.9" fill="#ee3016"/>
<line x1="1328.0" y1="256.6" x2="1337.6" y2="256.6" stroke="#111" stroke-width="1.3"/>
<line x1="1345.0" y1="107.5" x2="1345.0" y2="217.3" stroke="#777" stroke-width="0.8" stroke-dasharray="1.2 2.2"/>
<line x1="1342.6" y1="107.5" x2="1347.4" y2="107.5" stroke="#222" stroke-width="0.9"/>
<line x1="1342.6" y1="217.3" x2="1347.4" y2="217.3" stroke="#222" stroke-width="0.9"/>
<rect x="1340.2" y="145.1" width="9.6" height="29.2" fill="#3a3df2"/>
<line x1="1340.2" y1="159.2" x2="1349.8" y2="159.2" stroke="#111" stroke-width="1.3"/>
<path d="M1332.8 109.6V84.6H1345.0V87.6" fill="none" stroke="#999" stroke-width="0.8"/>
<line x1="1338.8" y1="82.95360000000002" x2="1338.8" y2="86.15360000000001" stroke="#f0453a" stroke-width="1"/>
<text x="1338.8" y="83.65360000000001" font-size="27" text-anchor="middle">*</text>
<line x1="1314.6" y1="301.5" x2="1314.6" y2="306" stroke="#ccc" stroke-width="0.8"/>
<line x1="1332.8" y1="301.5" x2="1332.8" y2="306" stroke="#ccc" stroke-width="0.8"/>
<line x1="1351.0" y1="301.5" x2="1351.0" y2="306" stroke="#ccc" stroke-width="0.8"/>
<text font-size="24" text-anchor="end" transform="translate(1349.4,316.6) rotate(-45)">LUAD</text>
<line x1="1369.3" y1="200.2" x2="1369.3" y2="294.6" stroke="#777" stroke-width="0.8" stroke-dasharray="1.2 2.2"/>
<line x1="1366.8999999999999" y1="200.2" x2="1371.7" y2="200.2" stroke="#222" stroke-width="0.9"/>
<line x1="1366.8999999999999" y1="294.6" x2="1371.7" y2="294.6" stroke="#222" stroke-width="0.9"/>
<rect x="1364.5" y="240.8" width="9.6" height="26.6" fill="#ee3016"/>
<line x1="1364.5" y1="255.3" x2="1374.1" y2="255.3" stroke="#111" stroke-width="1.3"/>
<line x1="1381.5" y1="107.5" x2="1381.5" y2="211.0" stroke="#777" stroke-width="0.8" stroke-dasharray="1.2 2.2"/>
<line x1="1379.1" y1="107.5" x2="1383.9" y2="107.5" stroke="#222" stroke-width="0.9"/>
<line x1="1379.1" y1="211.0" x2="1383.9" y2="211.0" stroke="#222" stroke-width="0.9"/>
<rect x="1376.7" y="144.0" width="9.6" height="28.5" fill="#3a3df2"/>
<line x1="1376.7" y1="158.8" x2="1386.3" y2="158.8" stroke="#111" stroke-width="1.3"/>
<path d="M1369.3 173.0V84.6H1381.5V87.6" fill="none" stroke="#999" stroke-width="0.8"/>
<line x1="1375.3" y1="82.95360000000002" x2="1375.3" y2="86.15360000000001" stroke="#f0453a" stroke-width="1"/>
<text x="1375.3" y="83.65360000000001" font-size="27" text-anchor="middle">*</text>
<line x1="1351.1" y1="301.5" x2="1351.1" y2="306" stroke="#ccc" stroke-width="0.8"/>
<line x1="1369.3" y1="301.5" x2="1369.3" y2="306" stroke="#ccc" stroke-width="0.8"/>
<line x1="1387.5" y1="301.5" x2="1387.5" y2="306" stroke="#ccc" stroke-width="0.8"/>
<text font-size="24" text-anchor="end" transform="translate(1385.9,316.6) rotate(-45)">LUSC</text>
<line x1="1405.8" y1="248.4" x2="1405.8" y2="294.2" stroke="#777" stroke-width="0.8" stroke-dasharray="1.2 2.2"/>
<line x1="1403.3999999999999" y1="248.4" x2="1408.2" y2="248.4" stroke="#222" stroke-width="0.9"/>
<line x1="1403.3999999999999" y1="294.2" x2="1408.2" y2="294.2" stroke="#222" stroke-width="0.9"/>
<rect x="1401.0" y="272.2" width="9.6" height="16.5" fill="#ee3016"/>
<line x1="1401.0" y1="283.0" x2="1410.6" y2="283.0" stroke="#111" stroke-width="1.3"/>
<line x1="1418.0" y1="227.2" x2="1418.0" y2="269.1" stroke="#777" stroke-width="0.8" stroke-dasharray="1.2 2.2"/>
<line x1="1415.6" y1="227.2" x2="1420.4" y2="227.2" stroke="#222" stroke-width="0.9"/>
<line x1="1415.6" y1="269.1" x2="1420.4" y2="269.1" stroke="#222" stroke-width="0.9"/>
<rect x="1413.2" y="234.8" width="9.6" height="20.9" fill="#3a3df2"/>
<line x1="1413.2" y1="242.6" x2="1422.8" y2="242.6" stroke="#111" stroke-width="1.3"/>
<path d="M1405.8 242.5V212.0H1418.0V215.0" fill="none" stroke="#999" stroke-width="0.8"/>
<line x1="1411.8" y1="210.3765" x2="1411.8" y2="213.57649999999998" stroke="#f0453a" stroke-width="1"/>
<text x="1411.8" y="211.07649999999998" font-size="27" text-anchor="middle">*</text>
<line x1="1387.6" y1="301.5" x2="1387.6" y2="306" stroke="#ccc" stroke-width="0.8"/>
<line x1="1405.8" y1="301.5" x2="1405.8" y2="306" stroke="#ccc" stroke-width="0.8"/>
<line x1="1424.0" y1="301.5" x2="1424.0" y2="306" stroke="#ccc" stroke-width="0.8"/>
<text font-size="24" text-anchor="end" transform="translate(1422.4,316.6) rotate(-45)">PCPG</text>
<line x1="1442.3" y1="218.6" x2="1442.3" y2="291.9" stroke="#777" stroke-width="0.8" stroke-dasharray="1.2 2.2"/>
<line x1="1439.8999999999999" y1="218.6" x2="1444.7" y2="218.6" stroke="#222" stroke-width="0.9"/>
<line x1="1439.8999999999999" y1="291.9" x2="1444.7" y2="291.9" stroke="#222" stroke-width="0.9"/>
<rect x="1437.5" y="252.8" width="9.6" height="23.7" fill="#ee3016"/>
<line x1="1437.5" y1="266.9" x2="1447.1" y2="266.9" stroke="#111" stroke-width="1.3"/>
<line x1="1454.5" y1="116.1" x2="1454.5" y2="295.0" stroke="#777" stroke-width="0.8" stroke-dasharray="1.2 2.2"/>
<line x1="1452.1" y1="116.1" x2="1456.9" y2="116.1" stroke="#222" stroke-width="0.9"/>
<line x1="1452.1" y1="295.0" x2="1456.9" y2="295.0" stroke="#222" stroke-width="0.9"/>
<rect x="1449.7" y="185.0" width="9.6" height="47.1" fill="#3a3df2"/>
<line x1="1449.7" y1="205.1" x2="1459.3" y2="205.1" stroke="#111" stroke-width="1.3"/>
<path d="M1442.3 171.6V80.9H1454.5V83.9" fill="none" stroke="#999" stroke-width="0.8"/>
<line x1="1448.3" y1="79.3455" x2="1448.3" y2="82.54549999999999" stroke="#f0453a" stroke-width="1"/>
<text x="1448.3" y="80.04549999999999" font-size="27" text-anchor="middle">*</text>
<line x1="1424.1" y1="301.5" x2="1424.1" y2="306" stroke="#ccc" stroke-width="0.8"/>
<line x1="1442.3" y1="301.5" x2="1442.3" y2="306" stroke="#ccc" stroke-width="0.8"/>
<line x1="1460.5" y1="301.5" x2="1460.5" y2="306" stroke="#ccc" stroke-width="0.8"/>
<text font-size="24" text-anchor="end" transform="translate(1458.9,316.6) rotate(-45)">READ</text>
<line x1="1478.8" y1="232.5" x2="1478.8" y2="294.2" stroke="#777" stroke-width="0.8" stroke-dasharray="1.2 2.2"/>
<line x1="1476.3999999999999" y1="232.5" x2="1481.2" y2="232.5" stroke="#222" stroke-width="0.9"/>
<line x1="1476.3999999999999" y1="294.2" x2="1481.2" y2="294.2" stroke="#222" stroke-width="0.9"/>
<rect x="1474.0" y="265.1" width="9.6" height="23.2" fill="#ee3016"/>
<line x1="1474.0" y1="279.2" x2="1483.6" y2="279.2" stroke="#111" stroke-width="1.3"/>
<line x1="1491.0" y1="104.7" x2="1491.0" y2="285.7" stroke="#777" stroke-width="0.8" stroke-dasharray="1.2 2.2"/>
<line x1="1488.6" y1="104.7" x2="1493.4" y2="104.7" stroke="#222" stroke-width="0.9"/>
<line x1="1488.6" y1="285.7" x2="1493.4" y2="285.7" stroke="#222" stroke-width="0.9"/>
<rect x="1486.2" y="176.3" width="9.6" height="53.2" fill="#3a3df2"/>
<line x1="1486.2" y1="202.1" x2="1495.8" y2="202.1" stroke="#111" stroke-width="1.3"/>
<path d="M1478.8 149.0V74.9H1491.0V77.9" fill="none" stroke="#999" stroke-width="0.8"/>
<line x1="1484.8" y1="73.26870000000002" x2="1484.8" y2="76.46870000000001" stroke="#f0453a" stroke-width="1"/>
<text x="1484.8" y="73.96870000000001" font-size="27" text-anchor="middle">*</text>
<line x1="1460.6" y1="301.5" x2="1460.6" y2="306" stroke="#ccc" stroke-width="0.8"/>
<line x1="1478.8" y1="301.5" x2="1478.8" y2="306" stroke="#ccc" stroke-width="0.8"/>
<line x1="1497.0" y1="301.5" x2="1497.0" y2="306" stroke="#ccc" stroke-width="0.8"/>
<text font-size="24" text-anchor="end" transform="translate(1495.4,316.6) rotate(-45)">SKCM</text>
<line x1="1515.3" y1="248.4" x2="1515.3" y2="294.2" stroke="#777" stroke-width="0.8" stroke-dasharray="1.2 2.2"/>
<line x1="1512.8999999999999" y1="248.4" x2="1517.7" y2="248.4" stroke="#222" stroke-width="0.9"/>
<line x1="1512.8999999999999" y1="294.2" x2="1517.7" y2="294.2" stroke="#222" stroke-width="0.9"/>
<rect x="1510.5" y="273.1" width="9.6" height="17.3" fill="#ee3016"/>
<line x1="1510.5" y1="284.1" x2="1520.1" y2="284.1" stroke="#111" stroke-width="1.3"/>
<line x1="1527.5" y1="133.9" x2="1527.5" y2="271.2" stroke="#777" stroke-width="0.8" stroke-dasharray="1.2 2.2"/>
<line x1="1525.1" y1="133.9" x2="1529.9" y2="133.9" stroke="#222" stroke-width="0.9"/>
<line x1="1525.1" y1="271.2" x2="1529.9" y2="271.2" stroke="#222" stroke-width="0.9"/>
<rect x="1522.7" y="186.5" width="9.6" height="40.1" fill="#3a3df2"/>
<line x1="1522.7" y1="205.9" x2="1532.3" y2="205.9" stroke="#111" stroke-width="1.3"/>
<path d="M1515.3 199.5V101.5H1527.5V104.5" fill="none" stroke="#999" stroke-width="0.8"/>
<line x1="1521.3" y1="99.8547" x2="1521.3" y2="103.05469999999998" stroke="#f0453a" stroke-width="1"/>
<text x="1521.3" y="100.55469999999998" font-size="27" text-anchor="middle">*</text>
<line x1="1497.1" y1="301.5" x2="1497.1" y2="306" stroke="#ccc" stroke-width="0.8"/>
<line x1="1515.3" y1="301.5" x2="1515.3" y2="306" stroke="#ccc" stroke-width="0.8"/>
<line x1="1533.5" y1="301.5" x2="1533.5" y2="306" stroke="#ccc" stroke-width="0.8"/>
<text font-size="24" text-anchor="end" transform="translate(1531.9,316.6) rotate(-45)">THCA</text>
<line x1="1551.8" y1="238.9" x2="1551.8" y2="294.6" stroke="#777" stroke-width="0.8" stroke-dasharray="1.2 2.2"/>
<line x1="1549.3999999999999" y1="238.9" x2="1554.2" y2="238.9" stroke="#222" stroke-width="0.9"/>
<line x1="1549.3999999999999" y1="294.6" x2="1554.2" y2="294.6" stroke="#222" stroke-width="0.9"/>
<rect x="1547.0" y="267.4" width="9.6" height="20.1" fill="#ee3016"/>
<line x1="1547.0" y1="278.1" x2="1556.6" y2="278.1" stroke="#111" stroke-width="1.3"/>
<line x1="1564.0" y1="122.7" x2="1564.0" y2="257.9" stroke="#777" stroke-width="0.8" stroke-dasharray="1.2 2.2"/>
<line x1="1561.6" y1="122.7" x2="1566.4" y2="122.7" stroke="#222" stroke-width="0.9"/>
<line x1="1561.6" y1="257.9" x2="1566.4" y2="257.9" stroke="#222" stroke-width="0.9"/>
<rect x="1559.2" y="171.3" width="9.6" height="41.4" fill="#3a3df2"/>
<line x1="1559.2" y1="188.0" x2="1568.8" y2="188.0" stroke="#111" stroke-width="1.3"/>
<path d="M1551.8 150.9V112.7H1564.0V115.7" fill="none" stroke="#999" stroke-width="0.8"/>
<line x1="1557.8" y1="111.05880000000002" x2="1557.8" y2="114.25880000000001" stroke="#f0453a" stroke-width="1"/>
<text x="1557.8" y="111.75880000000001" font-size="27" text-anchor="middle">*</text>
<line x1="1533.6" y1="301.5" x2="1533.6" y2="306" stroke="#ccc" stroke-width="0.8"/>
<line x1="1551.8" y1="301.5" x2="1551.8" y2="306" stroke="#ccc" stroke-width="0.8"/>
<line x1="1570.0" y1="301.5" x2="1570.0" y2="306" stroke="#ccc" stroke-width="0.8"/>
<text font-size="24" text-anchor="end" transform="translate(1568.4,316.6) rotate(-45)">UCEC</text>
<line x1="1588.3" y1="218.6" x2="1588.3" y2="290.8" stroke="#777" stroke-width="0.8" stroke-dasharray="1.2 2.2"/>
<line x1="1585.8999999999999" y1="218.6" x2="1590.7" y2="218.6" stroke="#222" stroke-width="0.9"/>
<line x1="1585.8999999999999" y1="290.8" x2="1590.7" y2="290.8" stroke="#222" stroke-width="0.9"/>
<rect x="1583.5" y="247.3" width="9.6" height="31.9" fill="#ee3016"/>
<line x1="1583.5" y1="266.9" x2="1593.1" y2="266.9" stroke="#111" stroke-width="1.3"/>
<line x1="1600.5" y1="260.4" x2="1600.5" y2="277.3" stroke="#777" stroke-width="0.8" stroke-dasharray="1.2 2.2"/>
<line x1="1598.1" y1="260.4" x2="1602.9" y2="260.4" stroke="#222" stroke-width="0.9"/>
<line x1="1598.1" y1="277.3" x2="1602.9" y2="277.3" stroke="#222" stroke-width="0.9"/>
<rect x="1595.7" y="264.8" width="9.6" height="5.1" fill="#3a3df2"/>
<line x1="1595.7" y1="267.4" x2="1605.3" y2="267.4" stroke="#111" stroke-width="1.3"/>
<line x1="1570.1" y1="301.5" x2="1570.1" y2="306" stroke="#ccc" stroke-width="0.8"/>
<line x1="1588.3" y1="301.5" x2="1588.3" y2="306" stroke="#ccc" stroke-width="0.8"/>
<line x1="1606.5" y1="301.5" x2="1606.5" y2="306" stroke="#ccc" stroke-width="0.8"/>
<text font-size="24" text-anchor="end" transform="translate(1604.9,316.6) rotate(-45)">CHOL</text>
<line x1="1624.8" y1="193.9" x2="1624.8" y2="290.8" stroke="#777" stroke-width="0.8" stroke-dasharray="1.2 2.2"/>
<line x1="1622.3999999999999" y1="193.9" x2="1627.2" y2="193.9" stroke="#222" stroke-width="0.9"/>
<line x1="1622.3999999999999" y1="290.8" x2="1627.2" y2="290.8" stroke="#222" stroke-width="0.9"/>
<rect x="1620.0" y="238.6" width="9.6" height="31.1" fill="#ee3016"/>
<line x1="1620.0" y1="254.9" x2="1629.6" y2="254.9" stroke="#111" stroke-width="1.3"/>
<line x1="1637.0" y1="190.7" x2="1637.0" y2="294.6" stroke="#777" stroke-width="0.8" stroke-dasharray="1.2 2.2"/>
<line x1="1634.6" y1="190.7" x2="1639.4" y2="190.7" stroke="#222" stroke-width="0.9"/>
<line x1="1634.6" y1="294.6" x2="1639.4" y2="294.6" stroke="#222" stroke-width="0.9"/>
<rect x="1632.2" y="231.3" width="9.6" height="27.0" fill="#3a3df2"/>
<line x1="1632.2" y1="245.6" x2="1641.8" y2="245.6" stroke="#111" stroke-width="1.3"/>
<line x1="1606.6" y1="301.5" x2="1606.6" y2="306" stroke="#ccc" stroke-width="0.8"/>
<line x1="1624.8" y1="301.5" x2="1624.8" y2="306" stroke="#ccc" stroke-width="0.8"/>
<line x1="1643.0" y1="301.5" x2="1643.0" y2="306" stroke="#ccc" stroke-width="0.8"/>
<text font-size="24" text-anchor="end" transform="translate(1641.4,316.6) rotate(-45)">ESCA</text>
<line x1="1661.3" y1="225.3" x2="1661.3" y2="293.3" stroke="#777" stroke-width="0.8" stroke-dasharray="1.2 2.2"/>
<line x1="1658.8999999999999" y1="225.3" x2="1663.7" y2="225.3" stroke="#222" stroke-width="0.9"/>
<line x1="1658.8999999999999" y1="293.3" x2="1663.7" y2="293.3" stroke="#222" stroke-width="0.9"/>
<rect x="1656.5" y="260.4" width="9.6" height="24.5" fill="#ee3016"/>
<line x1="1656.5" y1="273.5" x2="1666.1" y2="273.5" stroke="#111" stroke-width="1.3"/>
<line x1="1673.5" y1="247.7" x2="1673.5" y2="294.6" stroke="#777" stroke-width="0.8" stroke-dasharray="1.2 2.2"/>
<line x1="1671.1" y1="247.7" x2="1675.9" y2="247.7" stroke="#222" stroke-width="0.9"/>
<line x1="1671.1" y1="294.6" x2="1675.9" y2="294.6" stroke="#222" stroke-width="0.9"/>
<rect x="1668.7" y="267.8" width="9.6" height="14.1" fill="#3a3df2"/>
<line x1="1668.7" y1="276.0" x2="1678.3" y2="276.0" stroke="#111" stroke-width="1.3"/>
<line x1="1643.1" y1="301.5" x2="1643.1" y2="306" stroke="#ccc" stroke-width="0.8"/>
<line x1="1661.3" y1="301.5" x2="1661.3" y2="306" stroke="#ccc" stroke-width="0.8"/>
<line x1="1679.5" y1="301.5" x2="1679.5" y2="306" stroke="#ccc" stroke-width="0.8"/>
<text font-size="24" text-anchor="end" transform="translate(1677.9,316.6) rotate(-45)">GBM</text>
<line x1="1697.8" y1="213.1" x2="1697.8" y2="294.2" stroke="#777" stroke-width="0.8" stroke-dasharray="1.2 2.2"/>
<line x1="1695.3999999999999" y1="213.1" x2="1700.2" y2="213.1" stroke="#222" stroke-width="0.9"/>
<line x1="1695.3999999999999" y1="294.2" x2="1700.2" y2="294.2" stroke="#222" stroke-width="0.9"/>
<rect x="1693.0" y="251.9" width="9.6" height="26.4" fill="#ee3016"/>
<line x1="1693.0" y1="265.1" x2="1702.6" y2="265.1" stroke="#111" stroke-width="1.3"/>
<line x1="1710.0" y1="189.6" x2="1710.0" y2="289.8" stroke="#777" stroke-width="0.8" stroke-dasharray="1.2 2.2"/>
<line x1="1707.6" y1="189.6" x2="1712.4" y2="189.6" stroke="#222" stroke-width="0.9"/>
<line x1="1707.6" y1="289.8" x2="1712.4" y2="289.8" stroke="#222" stroke-width="0.9"/>
<rect x="1705.2" y="237.2" width="9.6" height="40.3" fill="#3a3df2"/>
<line x1="1705.2" y1="262.1" x2="1714.8" y2="262.1" stroke="#111" stroke-width="1.3"/>
<line x1="1679.6" y1="301.5" x2="1679.6" y2="306" stroke="#ccc" stroke-width="0.8"/>
<line x1="1697.8" y1="301.5" x2="1697.8" y2="306" stroke="#ccc" stroke-width="0.8"/>
<line x1="1716.0" y1="301.5" x2="1716.0" y2="306" stroke="#ccc" stroke-width="0.8"/>
<text font-size="24" text-anchor="end" transform="translate(1714.4,316.6) rotate(-45)">HNSC</text>
<line x1="1734.3" y1="245.2" x2="1734.3" y2="294.6" stroke="#777" stroke-width="0.8" stroke-dasharray="1.2 2.2"/>
<line x1="1731.8999999999999" y1="245.2" x2="1736.7" y2="245.2" stroke="#222" stroke-width="0.9"/>
<line x1="1731.8999999999999" y1="294.6" x2="1736.7" y2="294.6" stroke="#222" stroke-width="0.9"/>
<rect x="1729.5" y="273.5" width="9.6" height="19.0" fill="#ee3016"/>
<line x1="1729.5" y1="287.4" x2="1739.1" y2="287.4" stroke="#111" stroke-width="1.3"/>
<line x1="1746.5" y1="239.7" x2="1746.5" y2="288.9" stroke="#777" stroke-width="0.8" stroke-dasharray="1.2 2.2"/>
<line x1="1744.1" y1="239.7" x2="1748.9" y2="239.7" stroke="#222" stroke-width="0.9"/>
<line x1="1744.1" y1="288.9" x2="1748.9" y2="288.9" stroke="#222" stroke-width="0.9"/>
<rect x="1741.7" y="263.2" width="9.6" height="16.0" fill="#3a3df2"/>
<line x1="1741.7" y1="271.6" x2="1751.3" y2="271.6" stroke="#111" stroke-width="1.3"/>
<line x1="1716.1" y1="301.5" x2="1716.1" y2="306" stroke="#ccc" stroke-width="0.8"/>
<line x1="1734.3" y1="301.5" x2="1734.3" y2="306" stroke="#ccc" stroke-width="0.8"/>
<line x1="1752.5" y1="301.5" x2="1752.5" y2="306" stroke="#ccc" stroke-width="0.8"/>
<text font-size="24" text-anchor="end" transform="translate(1750.9,316.6) rotate(-45)">LIHC</text>
<line x1="1770.8" y1="228.7" x2="1770.8" y2="293.3" stroke="#777" stroke-width="0.8" stroke-dasharray="1.2 2.2"/>
<line x1="1768.3999999999999" y1="228.7" x2="1773.2" y2="228.7" stroke="#222" stroke-width="0.9"/>
<line x1="1768.3999999999999" y1="293.3" x2="1773.2" y2="293.3" stroke="#222" stroke-width="0.9"/>
<rect x="1766.0" y="260.4" width="9.6" height="21.8" fill="#ee3016"/>
<line x1="1766.0" y1="272.4" x2="1775.6" y2="272.4" stroke="#111" stroke-width="1.3"/>
<line x1="1783.0" y1="224.3" x2="1783.0" y2="292.7" stroke="#777" stroke-width="0.8" stroke-dasharray="1.2 2.2"/>
<line x1="1780.6" y1="224.3" x2="1785.4" y2="224.3" stroke="#222" stroke-width="0.9"/>
<line x1="1780.6" y1="292.7" x2="1785.4" y2="292.7" stroke="#222" stroke-width="0.9"/>
<rect x="1778.2" y="255.3" width="9.6" height="21.6" fill="#3a3df2"/>
<line x1="1778.2" y1="267.0" x2="1787.8" y2="267.0" stroke="#111" stroke-width="1.3"/>
<line x1="1752.6" y1="301.5" x2="1752.6" y2="306" stroke="#ccc" stroke-width="0.8"/>
<line x1="1770.8" y1="301.5" x2="1770.8" y2="306" stroke="#ccc" stroke-width="0.8"/>
<line x1="1789.0" y1="301.5" x2="1789.0" y2="306" stroke="#ccc" stroke-width="0.8"/>
<text font-size="24" text-anchor="end" transform="translate(1787.4,316.6) rotate(-45)">PRAD</text>
<line x1="1807.3" y1="95.8" x2="1807.3" y2="294.6" stroke="#777" stroke-width="0.8" stroke-dasharray="1.2 2.2"/>
<line x1="1804.8999999999999" y1="95.8" x2="1809.7" y2="95.8" stroke="#222" stroke-width="0.9"/>
<line x1="1804.8999999999999" y1="294.6" x2="1809.7" y2="294.6" stroke="#222" stroke-width="0.9"/>
<rect x="1802.5" y="193.4" width="9.6" height="70.6" fill="#ee3016"/>
<line x1="1802.5" y1="235.7" x2="1812.1" y2="235.7" stroke="#111" stroke-width="1.3"/>
<rect x="1814.7" y="228.7" width="9.6" height="10.8" fill="#3a3df2"/>
<line x1="1814.7" y1="234.0" x2="1824.3" y2="234.0" stroke="#111" stroke-width="1.3"/>
<line x1="1789.1" y1="301.5" x2="1789.1" y2="306" stroke="#ccc" stroke-width="0.8"/>
<line x1="1807.3" y1="301.5" x2="1807.3" y2="306" stroke="#ccc" stroke-width="0.8"/>
<line x1="1825.5" y1="301.5" x2="1825.5" y2="306" stroke="#ccc" stroke-width="0.8"/>
<text font-size="24" text-anchor="end" transform="translate(1823.9,316.6) rotate(-45)">SARC</text>
<line x1="1843.8" y1="168.7" x2="1843.8" y2="294.2" stroke="#777" stroke-width="0.8" stroke-dasharray="1.2 2.2"/>
<line x1="1841.3999999999999" y1="168.7" x2="1846.2" y2="168.7" stroke="#222" stroke-width="0.9"/>
<line x1="1841.3999999999999" y1="294.2" x2="1846.2" y2="294.2" stroke="#222" stroke-width="0.9"/>
<rect x="1839.0" y="231.3" width="9.6" height="44.1" fill="#ee3016"/>
<line x1="1839.0" y1="260.0" x2="1848.6" y2="260.0" stroke="#111" stroke-width="1.3"/>
<line x1="1856.0" y1="132.2" x2="1856.0" y2="295.0" stroke="#777" stroke-width="0.8" stroke-dasharray="1.2 2.2"/>
<line x1="1853.6" y1="132.2" x2="1858.4" y2="132.2" stroke="#222" stroke-width="0.9"/>
<line x1="1853.6" y1="295.0" x2="1858.4" y2="295.0" stroke="#222" stroke-width="0.9"/>
<rect x="1851.2" y="193.9" width="9.6" height="67.8" fill="#3a3df2"/>
<line x1="1851.2" y1="246.3" x2="1860.8" y2="246.3" stroke="#111" stroke-width="1.3"/>
<line x1="1825.6" y1="301.5" x2="1825.6" y2="306" stroke="#ccc" stroke-width="0.8"/>
<line x1="1843.8" y1="301.5" x2="1843.8" y2="306" stroke="#ccc" stroke-width="0.8"/>
<line x1="1862.0" y1="301.5" x2="1862.0" y2="306" stroke="#ccc" stroke-width="0.8"/>
<text font-size="24" text-anchor="end" transform="translate(1860.4,316.6) rotate(-45)">STAD</text>
<line x1="1880.3" y1="126.1" x2="1880.3" y2="290.8" stroke="#777" stroke-width="0.8" stroke-dasharray="1.2 2.2"/>
<line x1="1877.8999999999999" y1="126.1" x2="1882.7" y2="126.1" stroke="#222" stroke-width="0.9"/>
<line x1="1877.8999999999999" y1="290.8" x2="1882.7" y2="290.8" stroke="#222" stroke-width="0.9"/>
<rect x="1875.5" y="202.3" width="9.6" height="53.4" fill="#ee3016"/>
<line x1="1875.5" y1="222.0" x2="1885.1" y2="222.0" stroke="#111" stroke-width="1.3"/>
<line x1="1892.5" y1="156.9" x2="1892.5" y2="294.6" stroke="#777" stroke-width="0.8" stroke-dasharray="1.2 2.2"/>
<line x1="1890.1" y1="156.9" x2="1894.9" y2="156.9" stroke="#222" stroke-width="0.9"/>
<line x1="1890.1" y1="294.6" x2="1894.9" y2="294.6" stroke="#222" stroke-width="0.9"/>
<rect x="1887.7" y="216.0" width="9.6" height="47.1" fill="#3a3df2"/>
<line x1="1887.7" y1="243.1" x2="1897.3" y2="243.1" stroke="#111" stroke-width="1.3"/>
<line x1="1862.1" y1="301.5" x2="1862.1" y2="306" stroke="#ccc" stroke-width="0.8"/>
<line x1="1880.3" y1="301.5" x2="1880.3" y2="306" stroke="#ccc" stroke-width="0.8"/>
<line x1="1898.5" y1="301.5" x2="1898.5" y2="306" stroke="#ccc" stroke-width="0.8"/>
<text font-size="24" text-anchor="end" transform="translate(1896.9,316.6) rotate(-45)">KICH</text>
<line x1="1916.8" y1="148.4" x2="1916.8" y2="294.2" stroke="#777" stroke-width="0.8" stroke-dasharray="1.2 2.2"/>
<line x1="1914.3999999999999" y1="148.4" x2="1919.2" y2="148.4" stroke="#222" stroke-width="0.9"/>
<line x1="1914.3999999999999" y1="294.2" x2="1919.2" y2="294.2" stroke="#222" stroke-width="0.9"/>
<rect x="1912.0" y="209.9" width="9.6" height="44.2" fill="#ee3016"/>
<line x1="1912.0" y1="232.5" x2="1921.6" y2="232.5" stroke="#111" stroke-width="1.3"/>
<line x1="1929.0" y1="203.6" x2="1929.0" y2="294.6" stroke="#777" stroke-width="0.8" stroke-dasharray="1.2 2.2"/>
<line x1="1926.6" y1="203.6" x2="1931.4" y2="203.6" stroke="#222" stroke-width="0.9"/>
<line x1="1926.6" y1="294.6" x2="1931.4" y2="294.6" stroke="#222" stroke-width="0.9"/>
<rect x="1924.2" y="238.0" width="9.6" height="24.3" fill="#3a3df2"/>
<line x1="1924.2" y1="250.1" x2="1933.8" y2="250.1" stroke="#111" stroke-width="1.3"/>
<line x1="1898.6" y1="301.5" x2="1898.6" y2="306" stroke="#ccc" stroke-width="0.8"/>
<line x1="1916.8" y1="301.5" x2="1916.8" y2="306" stroke="#ccc" stroke-width="0.8"/>
<line x1="1935.0" y1="301.5" x2="1935.0" y2="306" stroke="#ccc" stroke-width="0.8"/>
<text font-size="24" text-anchor="end" transform="translate(1933.4,316.6) rotate(-45)">PAAD</text>
<line x1="1953.3" y1="222.0" x2="1953.3" y2="294.6" stroke="#777" stroke-width="0.8" stroke-dasharray="1.2 2.2"/>
<line x1="1950.8999999999999" y1="222.0" x2="1955.7" y2="222.0" stroke="#222" stroke-width="0.9"/>
<line x1="1950.8999999999999" y1="294.6" x2="1955.7" y2="294.6" stroke="#222" stroke-width="0.9"/>
<rect x="1948.5" y="263.8" width="9.6" height="27.5" fill="#ee3016"/>
<line x1="1948.5" y1="282.2" x2="1958.1" y2="282.2" stroke="#111" stroke-width="1.3"/>
<line x1="1960.3" y1="294.58299999999997" x2="1970.3" y2="294.58299999999997" stroke="#111" stroke-width="2"/>
<line x1="1935.1" y1="301.5" x2="1935.1" y2="306" stroke="#ccc" stroke-width="0.8"/>
<line x1="1953.3" y1="301.5" x2="1953.3" y2="306" stroke="#ccc" stroke-width="0.8"/>
<line x1="1971.5" y1="301.5" x2="1971.5" y2="306" stroke="#ccc" stroke-width="0.8"/>
<text font-size="24" text-anchor="end" transform="translate(1969.9,316.6) rotate(-45)">THYM</text>
<path d="M1113.6 278.6h1M1113.6 251.8h1M1113.1 259.8h1M1112.3 271.5h1M1113.4 257.1h1M1112.7 246.1h1M1114.5 281.9h1M1113.5 262.9h1M1113.5 266.5h1M1112.9 283.6h1M1113.5 286.1h1M1113.0 271.9h1M1112.7 289.5h1M1113.6 283.4h1M1112.1 292.6h1M1112.9 279.6h1M1112.4 218.7h1M1113.1 257.6h1M1113.4 274.2h1M1112.9 294.8h1M1112.7 245.4h1M1114.0 282.9h1M1114.2 280.6h1M1114.5 262.7h1M1112.6 275.9h1M1113.4 254.1h1M1113.4 269.3h1M1113.6 264.0h1M1113.1 268.8h1M1112.9 291.2h1M1113.9 277.5h1M1112.3 236.0h1M1113.7 268.0h1M1113.4 295.2h1M1113.3 253.2h1M1112.7 292.9h1M1114.2 239.4h1M1113.5 290.6h1M1114.0 289.4h1M1113.5 252.9h1M1113.7 247.5h1M1113.2 274.6h1M1113.0 271.1h1M1113.0 280.4h1M1114.4 258.6h1M1113.5 293.0h1M1113.2 269.7h1M1114.8 236.2h1M1113.8 267.3h1M1113.0 203.5h1M1112.8 278.6h1M1114.2 257.0h1M1112.8 271.3h1M1111.6 252.2h1M1112.2 261.5h1M1114.0 271.0h1M1113.3 269.8h1M1114.3 276.0h1M1113.8 290.8h1M1113.6 281.9h1M1113.7 270.1h1M1112.6 242.7h1M1112.4 290.6h1M1112.1 292.8h1M1112.6 274.6h1M1112.8 270.1h1M1113.2 254.3h1M1113.0 243.4h1M1113.6 266.4h1M1113.0 270.6h1M1113.2 244.8h1M1114.2 269.1h1M1113.9 278.7h1M1113.5 281.3h1M1113.2 284.1h1M1113.3 259.9h1M1113.8 253.2h1M1112.1 282.4h1M1113.9 291.4h1M1113.2 283.7h1M1113.3 275.1h1M1113.6 273.0h1M1112.8 254.1h1M1112.3 279.4h1M1112.9 283.9h1M1113.4 279.0h1M1113.4 292.9h1M1112.6 292.4h1M1112.6 275.3h1M1114.2 267.2h1M1113.7 283.3h1M1114.4 278.9h1M1113.8 285.0h1M1113.5 273.8h1M1112.4 287.8h1M1114.1 256.2h1M1114.3 248.1h1M1114.8 265.0h1M1113.5 294.6h1M1113.6 291.6h1M1113.8 268.6h1M1113.4 248.7h1M1113.4 256.3h1M1113.3 280.3h1M1111.7 261.5h1M1113.5 275.1h1M1113.6 275.7h1M1112.7 242.4h1M1114.4 247.4h1M1113.1 260.3h1M1113.0 228.8h1M1113.1 271.9h1M1113.8 237.2h1M1114.0 285.1h1M1113.6 275.6h1M1113.6 273.9h1M1113.4 261.5h1M1114.3 283.5h1M1113.3 284.3h1M1113.2 271.6h1M1111.9 294.1h1M1113.6 267.1h1M1113.6 289.6h1M1112.6 288.0h1M1113.1 291.4h1M1113.6 293.7h1M1112.8 273.1h1M1113.5 270.2h1M1112.6 253.6h1M1113.8 273.8h1M1113.9 262.4h1M1112.9 221.1h1M1114.9 272.8h1M1113.3 275.1h1M1113.4 292.7h1M1113.3 276.2h1M1113.8 255.8h1M1112.6 272.2h1M1112.8 284.4h1M1112.9 295.2h1M1113.9 263.0h1M1114.4 248.0h1M1112.6 264.0h1M1113.8 292.7h1M1113.9 255.4h1M1114.0 292.6h1M1113.3 289.3h1M1113.1 269.5h1M1112.5 267.2h1M1113.0 282.5h1M1112.3 257.5h1M1113.3 293.8h1M1113.7 243.9h1M1113.5 260.2h1M1114.3 265.3h1M1113.3 289.9h1M1112.3 285.3h1M1113.1 278.5h1M1114.3 275.3h1M1113.2 272.4h1M1113.1 244.1h1M1112.6 286.1h1M1113.6 269.6h1M1113.4 281.0h1M1114.0 275.8h1M1113.7 294.1h1M1113.0 226.6h1M1113.6 278.8h1M1112.0 277.1h1M1113.5 276.4h1M1113.4 231.0h1M1112.8 274.4h1M1113.0 269.3h1M1114.3 259.7h1M1114.3 274.3h1M1113.7 242.5h1M1111.5 282.1h1M1112.9 227.6h1M1113.6 258.0h1M1113.0 271.8h1M1113.2 227.7h1M1112.2 250.2h1M1113.6 237.9h1M1114.0 294.9h1M1114.3 281.8h1M1113.3 264.4h1M1113.6 295.1h1M1113.0 278.2h1M1113.8 260.3h1M1113.1 276.4h1M1113.5 249.7h1M1113.9 264.0h1M1115.0 284.8h1M1113.4 294.7h1M1113.7 266.3h1M1112.1 266.4h1M1112.8 288.4h1M1112.9 263.6h1M1114.9 258.9h1M1113.8 257.5h1M1113.0 265.3h1M1113.9 274.4h1M1113.0 236.3h1M1113.3 269.4h1M1112.9 256.2h1M1113.3 254.1h1M1112.2 256.1h1M1113.6 274.5h1M1113.2 291.9h1M1112.5 290.5h1M1113.2 278.8h1M1114.7 269.6h1M1113.6 277.3h1M1112.6 290.4h1M1113.6 252.0h1M1113.6 283.1h1M1113.3 257.3h1M1113.1 246.0h1M1113.4 285.8h1M1113.1 243.5h1M1113.4 250.7h1M1113.5 285.1h1M1113.0 263.3h1M1113.7 256.4h1M1112.9 239.8h1M1112.9 275.0h1M1113.5 239.4h1M1114.0 240.4h1M1113.4 280.0h1M1113.6 253.6h1M1113.7 277.4h1M1113.5 220.5h1M1114.3 272.3h1M1114.7 293.8h1M1113.9 275.2h1M1114.2 230.3h1M1112.9 268.6h1M1113.8 261.5h1M1113.6 274.3h1M1113.5 276.8h1M1113.6 256.0h1M1113.4 241.4h1M1113.1 262.9h1M1113.2 270.6h1M1113.5 219.5h1M1113.3 273.0h1M1113.0 240.6h1M1112.9 260.7h1M1113.1 282.7h1M1111.9 271.9h1M1113.4 212.3h1M1113.9 251.4h1M1112.6 279.0h1M1113.8 264.4h1M1113.8 240.8h1M1113.1 293.8h1M1113.7 257.0h1M1113.3 268.1h1M1113.1 245.3h1M1113.1 232.3h1M1125.8 207.0h1M1125.5 263.6h1M1126.1 200.6h1M1124.6 233.6h1M1125.2 215.1h1M1126.3 218.5h1M1125.1 207.4h1M1125.9 204.7h1M1125.2 234.4h1M1125.5 148.9h1M1124.7 180.6h1M1125.9 162.3h1M1125.4 114.8h1M1126.3 182.4h1M1124.6 213.8h1M1125.4 136.8h1M1126.2 123.1h1M1125.6 166.0h1M1125.6 160.8h1M1125.3 170.5h1M1126.3 171.4h1M1126.0 189.2h1M1126.0 146.8h1M1125.3 177.1h1M1125.3 217.9h1M1125.0 241.2h1M1125.1 124.6h1M1126.1 166.9h1M1149.7 249.6h1M1149.4 198.6h1M1149.2 234.2h1M1149.0 240.5h1M1150.5 261.8h1M1149.5 224.0h1M1148.4 249.5h1M1148.7 257.5h1M1149.9 245.4h1M1150.5 232.4h1M1149.5 196.8h1M1149.3 210.2h1M1150.7 217.3h1M1150.5 294.0h1M1150.2 239.3h1M1149.7 276.5h1M1150.8 248.0h1M1150.0 207.0h1M1150.1 186.3h1M1149.3 277.9h1M1150.4 259.2h1M1150.2 285.9h1M1149.9 254.7h1M1149.8 269.6h1M1149.1 242.0h1M1149.8 262.2h1M1149.9 260.2h1M1149.8 257.1h1M1150.3 201.2h1M1149.8 258.4h1M1150.9 291.3h1M1149.8 194.1h1M1151.4 215.9h1M1149.4 176.5h1M1149.8 160.4h1M1149.6 265.6h1M1148.4 187.6h1M1149.7 249.9h1M1150.2 209.0h1M1150.7 244.1h1M1150.3 265.5h1M1148.9 197.3h1M1150.4 256.7h1M1150.0 274.7h1M1149.4 257.9h1M1149.6 269.5h1M1149.1 146.3h1M1150.3 204.8h1M1149.4 229.8h1M1148.4 292.2h1M1150.3 245.7h1M1148.5 211.3h1M1149.9 253.8h1M1149.8 193.8h1M1150.2 224.1h1M1149.4 281.5h1M1149.3 271.8h1M1149.6 225.7h1M1150.3 209.3h1M1149.2 242.1h1M1149.9 200.5h1M1150.5 272.9h1M1149.4 198.3h1M1149.7 240.7h1M1149.8 224.8h1M1150.1 253.4h1M1149.2 254.7h1M1149.9 270.1h1M1149.7 265.1h1M1150.0 238.9h1M1148.9 194.5h1M1150.0 294.3h1M1150.1 246.6h1M1149.9 219.3h1M1148.7 267.4h1M1150.6 252.6h1M1149.1 239.2h1M1148.5 294.8h1M1149.7 244.7h1M1150.8 244.1h1M1149.2 249.6h1M1150.2 258.9h1M1149.1 278.5h1M1149.7 211.3h1M1148.6 267.0h1M1149.0 254.8h1M1150.1 169.0h1M1150.7 142.7h1M1150.7 222.0h1M1149.5 235.6h1M1149.5 201.8h1M1148.8 223.2h1M1150.3 186.7h1M1149.7 233.9h1M1149.9 242.2h1M1149.0 230.8h1M1149.4 264.7h1M1150.4 202.5h1M1149.8 192.8h1M1149.4 221.5h1M1148.6 227.1h1M1150.4 250.3h1M1149.9 242.3h1M1149.4 274.7h1M1150.8 253.6h1M1150.2 215.2h1M1149.9 248.8h1M1148.7 249.4h1M1149.2 245.8h1M1149.7 247.9h1M1150.0 168.0h1M1150.5 197.9h1M1150.0 218.4h1M1149.4 291.3h1M1148.8 268.0h1M1149.9 205.3h1M1149.7 253.1h1M1148.9 176.5h1M1149.1 200.7h1M1149.8 238.9h1M1149.6 289.6h1M1149.3 231.6h1M1148.8 288.5h1M1150.3 227.2h1M1149.8 222.2h1M1149.5 227.0h1M1149.8 294.6h1M1150.1 218.9h1M1150.8 223.5h1M1150.1 256.1h1M1150.9 252.1h1M1149.4 254.1h1M1150.1 240.1h1M1150.4 234.7h1M1149.5 241.8h1M1149.5 280.1h1M1149.0 244.7h1M1149.1 217.7h1M1149.4 230.2h1M1150.6 237.4h1M1150.4 282.3h1M1149.3 283.0h1M1150.3 240.6h1M1149.6 228.7h1M1149.2 287.7h1M1149.0 231.8h1M1150.2 221.7h1M1149.2 204.0h1M1150.6 223.8h1M1150.1 239.0h1M1149.1 294.9h1M1148.9 264.9h1M1149.2 252.1h1M1150.0 252.9h1M1149.8 199.3h1M1149.7 263.4h1M1149.7 239.9h1M1149.0 245.7h1M1149.8 224.0h1M1150.5 225.0h1M1150.0 261.7h1M1150.5 275.7h1M1149.3 206.5h1M1150.0 272.7h1M1149.1 162.9h1M1149.3 288.9h1M1150.6 243.4h1M1150.1 203.7h1M1149.8 266.9h1M1150.8 213.4h1M1149.8 248.1h1M1149.0 220.4h1M1148.9 228.1h1M1150.9 189.9h1M1149.9 226.7h1M1149.7 264.2h1M1149.5 166.8h1M1150.1 249.0h1M1150.9 243.0h1M1150.9 207.0h1M1150.9 213.9h1M1148.9 239.2h1M1148.6 233.7h1M1149.1 261.2h1M1150.3 294.1h1M1150.1 247.2h1M1150.0 213.6h1M1149.8 282.0h1M1149.7 246.5h1M1150.0 284.5h1M1149.3 231.3h1M1149.7 236.0h1M1149.7 253.5h1M1148.5 275.8h1M1149.7 208.9h1M1149.7 241.9h1M1149.4 267.1h1M1150.3 270.3h1M1149.4 246.0h1M1150.2 280.6h1M1150.9 263.1h1M1149.8 271.4h1M1149.7 200.3h1M1150.3 261.0h1M1149.3 283.2h1M1150.0 196.6h1M1149.7 257.6h1M1149.8 227.1h1M1149.2 281.0h1M1149.3 209.8h1M1149.1 279.4h1M1149.4 257.2h1M1150.1 295.1h1M1150.0 245.1h1M1149.3 206.7h1M1148.8 222.8h1M1150.3 250.2h1M1150.4 261.5h1M1149.7 238.6h1M1149.9 232.5h1M1149.2 295.3h1M1150.3 277.6h1M1149.7 210.9h1M1150.3 210.0h1M1149.7 240.5h1M1150.9 262.1h1M1150.8 213.1h1M1149.8 243.0h1M1148.8 235.0h1M1149.0 215.4h1M1149.1 279.6h1M1149.6 225.4h1M1149.1 240.3h1M1150.7 213.3h1M1150.9 215.2h1M1150.0 218.9h1M1150.2 288.3h1M1149.2 239.6h1M1149.3 269.1h1M1148.3 230.6h1M1150.8 229.0h1M1149.4 256.2h1M1150.2 208.9h1M1148.6 282.3h1M1149.5 218.3h1M1150.0 284.1h1M1150.4 243.9h1M1149.2 293.4h1M1150.1 187.3h1M1149.2 219.4h1M1148.9 212.6h1M1149.5 222.3h1M1149.4 291.8h1M1149.6 226.6h1M1149.2 262.8h1M1150.8 250.4h1M1149.9 260.7h1M1149.4 245.6h1M1149.0 192.9h1M1149.9 286.2h1M1150.2 241.4h1M1150.4 272.7h1M1150.4 245.4h1M1149.1 249.5h1M1149.3 285.7h1M1150.0 263.9h1M1150.3 247.9h1M1149.7 273.3h1M1150.8 190.4h1M1150.3 264.9h1M1150.2 237.7h1M1149.9 239.5h1M1149.3 223.3h1M1149.7 238.6h1M1150.0 260.4h1M1150.6 250.6h1M1149.6 200.6h1M1149.9 264.8h1M1149.8 246.8h1M1150.8 217.5h1M1148.9 228.0h1M1149.8 166.3h1M1148.9 293.9h1M1149.6 274.8h1M1149.4 225.7h1M1150.4 246.6h1M1149.4 241.1h1M1150.1 173.5h1M1149.3 186.9h1M1150.3 225.5h1M1149.3 190.4h1M1150.0 273.5h1M1149.9 288.2h1M1150.0 247.0h1M1149.7 263.9h1M1150.4 252.0h1M1151.0 256.1h1M1150.4 229.6h1M1149.6 235.3h1M1150.3 181.8h1M1150.5 239.7h1M1150.2 249.9h1M1149.7 167.6h1M1149.3 149.7h1M1149.3 230.1h1M1149.8 247.7h1M1149.7 266.8h1M1149.6 228.8h1M1150.1 235.2h1M1150.5 211.1h1M1149.7 224.8h1M1149.5 226.3h1M1150.7 294.4h1M1149.8 227.0h1M1149.2 258.4h1M1149.7 193.2h1M1148.6 248.7h1M1150.3 239.0h1M1150.1 190.3h1M1150.6 221.1h1M1149.5 247.8h1M1150.3 250.4h1M1149.0 292.0h1M1148.7 147.0h1M1149.8 282.8h1M1149.8 254.6h1M1150.2 245.5h1M1149.7 167.6h1M1149.3 186.3h1M1149.7 292.4h1M1150.3 180.5h1M1149.7 221.5h1M1150.3 232.1h1M1150.3 214.7h1M1150.4 213.8h1M1149.3 194.7h1M1149.2 226.3h1M1149.9 253.5h1M1149.5 274.3h1M1150.3 217.9h1M1150.5 291.3h1M1150.2 235.5h1M1149.4 257.6h1M1150.4 268.9h1M1150.1 233.8h1M1150.0 246.6h1M1150.8 291.5h1M1149.4 219.8h1M1149.4 258.8h1M1149.4 207.1h1M1149.7 278.8h1M1150.3 254.6h1M1150.4 216.0h1M1149.8 271.2h1M1149.7 264.6h1M1150.2 229.9h1M1150.2 254.0h1M1149.5 292.6h1M1149.5 260.1h1M1150.0 283.4h1M1149.9 272.8h1M1150.5 241.8h1M1149.8 252.7h1M1149.5 232.9h1M1149.8 272.0h1M1150.8 262.7h1M1150.3 186.5h1M1150.0 218.0h1M1149.5 250.2h1M1149.5 195.4h1M1150.3 262.7h1M1149.0 289.9h1M1149.7 294.9h1M1149.1 246.7h1M1148.5 265.1h1M1149.8 246.8h1M1149.4 277.4h1M1149.5 275.4h1M1149.2 216.8h1M1150.0 278.8h1M1150.4 256.5h1M1150.2 267.6h1M1149.2 225.7h1M1150.3 237.4h1M1149.4 282.1h1M1149.5 222.8h1M1148.5 204.1h1M1150.6 191.2h1M1150.7 236.2h1M1150.5 272.3h1M1149.6 249.4h1M1149.3 274.7h1M1149.5 263.7h1M1149.4 279.8h1M1148.7 224.7h1M1149.1 275.0h1M1150.4 246.0h1M1150.0 249.6h1M1150.9 264.8h1M1150.8 256.1h1M1150.6 203.1h1M1150.1 293.3h1M1149.4 225.7h1M1149.2 249.6h1M1150.7 276.9h1M1150.4 160.9h1M1149.4 164.4h1M1149.6 187.8h1M1149.3 265.2h1M1147.7 256.3h1M1149.5 267.9h1M1149.8 239.9h1M1150.2 262.4h1M1148.9 212.9h1M1149.9 148.1h1M1150.7 268.7h1M1150.2 236.1h1M1149.3 212.2h1M1150.4 231.0h1M1149.0 272.7h1M1151.2 231.6h1M1149.3 227.7h1M1149.5 182.5h1M1148.3 205.7h1M1149.0 246.7h1M1149.3 214.6h1M1149.9 184.7h1M1149.5 269.3h1M1149.6 232.1h1M1149.2 207.0h1M1150.1 254.9h1M1149.5 242.1h1M1149.7 228.6h1M1149.3 221.4h1M1150.6 219.5h1M1151.0 255.6h1M1150.2 294.6h1M1150.6 276.2h1M1149.7 226.7h1M1149.8 269.2h1M1150.5 213.0h1M1149.3 212.7h1M1150.6 247.9h1M1149.6 237.0h1M1149.7 270.6h1M1150.4 279.9h1M1150.4 259.4h1M1150.9 219.8h1M1149.5 256.1h1M1150.4 270.4h1M1150.0 222.3h1M1150.5 211.3h1M1150.6 291.2h1M1149.5 237.4h1M1150.0 198.9h1M1150.3 266.3h1M1149.4 255.7h1M1150.5 272.7h1M1150.7 193.1h1M1150.0 232.5h1M1149.7 229.9h1M1149.5 242.5h1M1148.9 262.5h1M1148.9 268.1h1M1151.0 228.6h1M1149.8 248.6h1M1149.6 239.2h1M1150.6 254.5h1M1150.7 210.5h1M1149.6 273.0h1M1150.0 275.5h1M1150.4 269.2h1M1149.4 258.8h1M1149.3 292.1h1M1149.2 229.1h1M1149.7 291.7h1M1150.1 198.3h1M1150.6 251.5h1M1149.2 271.9h1M1150.0 219.4h1M1150.3 240.2h1M1148.9 260.2h1M1150.5 246.9h1M1149.6 220.1h1M1149.6 235.0h1M1150.8 275.0h1M1149.4 247.6h1M1149.4 274.5h1M1149.5 240.9h1M1149.7 218.2h1M1149.5 227.0h1M1149.2 243.7h1M1149.9 242.7h1M1149.8 246.8h1M1150.6 260.8h1M1149.1 253.5h1M1149.7 246.5h1M1149.3 250.0h1M1149.5 280.2h1M1149.9 266.6h1M1150.1 242.9h1M1149.0 269.0h1M1150.3 290.6h1M1149.8 197.4h1M1150.0 274.0h1M1149.2 271.0h1M1149.8 257.5h1M1149.0 239.2h1M1151.0 286.6h1M1149.4 287.1h1M1149.6 248.9h1M1150.1 254.6h1M1149.9 217.7h1M1150.2 243.9h1M1148.8 186.4h1M1149.2 240.8h1M1149.2 266.9h1M1150.4 265.0h1M1148.6 215.3h1M1150.4 257.6h1M1162.3 167.8h1M1162.6 171.6h1M1161.3 101.8h1M1161.8 112.4h1M1162.3 110.9h1M1162.8 167.8h1M1162.1 202.2h1M1162.4 69.8h1M1162.8 110.9h1M1161.4 131.5h1M1161.4 171.9h1M1162.6 168.4h1M1162.9 94.8h1M1162.6 114.3h1M1161.2 133.4h1M1161.7 152.7h1M1161.8 162.4h1M1162.6 162.4h1M1161.1 140.1h1M1163.4 171.6h1M1162.9 91.2h1M1162.7 119.5h1M1162.1 84.3h1M1162.4 172.9h1M1162.8 147.1h1M1161.7 151.3h1M1162.7 107.9h1M1160.7 184.7h1M1162.5 183.5h1M1162.1 109.6h1M1162.4 204.6h1M1162.9 133.9h1M1161.8 137.4h1M1161.7 211.5h1M1161.6 112.8h1M1162.6 143.3h1M1162.9 143.5h1M1161.5 118.8h1M1161.7 164.4h1M1161.1 143.3h1M1162.1 167.3h1M1162.4 157.1h1M1162.1 124.9h1M1162.4 163.7h1M1161.6 200.2h1M1161.0 152.6h1M1162.5 115.2h1M1162.7 142.3h1M1162.5 132.8h1M1162.2 197.4h1M1162.1 157.6h1M1162.1 158.7h1M1162.0 145.7h1M1161.6 167.8h1M1162.0 180.9h1M1161.7 236.1h1M1162.2 115.5h1M1161.2 117.2h1M1161.6 176.0h1M1160.8 137.2h1M1161.5 167.0h1M1161.3 157.9h1M1162.6 179.8h1M1162.2 128.6h1M1161.9 119.0h1M1162.5 154.4h1M1162.1 152.9h1M1162.2 189.4h1M1161.8 126.9h1M1160.6 129.5h1M1162.7 179.7h1M1162.4 175.9h1M1161.3 117.6h1M1162.2 112.4h1M1162.4 164.4h1M1162.4 170.9h1M1161.9 152.6h1M1162.3 177.4h1M1161.8 114.2h1M1162.8 172.7h1M1160.8 118.6h1M1162.3 165.0h1M1161.7 220.3h1M1161.8 135.9h1M1161.1 155.6h1M1161.8 114.9h1M1161.6 150.4h1M1162.0 123.3h1M1161.6 98.6h1M1162.0 144.6h1M1161.5 160.1h1M1162.3 145.6h1M1162.6 106.1h1M1161.8 197.7h1M1161.3 179.8h1M1161.5 156.8h1M1160.9 150.8h1M1160.3 143.0h1M1162.7 162.4h1M1162.1 152.5h1M1161.1 187.0h1M1162.0 132.5h1M1162.1 149.0h1M1162.3 120.5h1M1163.3 124.0h1M1162.3 143.6h1M1162.1 141.5h1M1161.1 179.4h1M1162.2 155.1h1M1162.2 189.9h1M1162.8 164.3h1M1162.1 137.1h1M1160.8 164.1h1M1161.7 117.1h1M1161.9 172.1h1M1162.3 121.5h1M1161.4 104.0h1M1162.7 73.3h1M1161.9 102.5h1M1161.9 102.6h1M1162.3 127.4h1M1161.4 167.7h1M1162.3 176.0h1M1161.3 170.4h1M1162.5 112.8h1M1162.0 97.5h1M1162.1 148.6h1M1162.6 156.1h1M1162.5 113.2h1M1161.3 113.3h1M1163.3 95.1h1M1163.1 146.9h1M1161.8 158.8h1M1162.7 151.5h1M1162.2 64.5h1M1162.5 128.6h1M1162.2 173.9h1M1162.8 124.2h1M1162.4 132.8h1M1161.7 129.6h1M1161.7 90.8h1M1162.4 158.3h1M1162.1 146.8h1M1162.4 190.3h1M1162.1 106.9h1M1161.8 195.1h1M1161.9 91.0h1M1162.3 178.5h1M1161.9 124.3h1M1162.2 170.7h1M1162.0 111.8h1M1162.9 156.7h1M1162.4 154.2h1M1161.1 124.6h1M1162.3 108.7h1M1161.4 180.4h1M1162.0 154.0h1M1161.4 132.4h1M1162.0 132.1h1M1161.4 156.7h1M1162.5 186.7h1M1161.5 168.1h1M1161.9 177.8h1M1163.4 162.1h1M1161.3 162.4h1M1162.3 152.2h1M1161.9 194.6h1M1161.6 146.3h1M1161.4 140.0h1M1160.8 123.8h1M1162.2 125.3h1M1161.7 148.6h1M1162.3 155.5h1M1161.3 142.7h1M1162.3 128.2h1M1161.4 167.5h1M1161.0 139.3h1M1161.5 168.7h1M1162.6 153.0h1M1162.1 159.9h1M1161.9 165.6h1M1161.5 160.6h1M1163.2 152.3h1M1161.1 197.8h1M1162.5 206.7h1M1162.1 162.2h1M1162.7 190.0h1M1162.5 194.9h1M1162.5 174.7h1M1161.8 136.9h1M1161.4 162.9h1M1162.2 161.4h1M1162.5 184.4h1M1161.4 107.1h1M1162.3 175.4h1M1162.5 184.0h1M1160.8 177.8h1M1162.0 159.9h1M1161.3 128.6h1M1160.9 148.8h1M1162.2 153.1h1M1162.2 144.4h1M1161.9 165.5h1M1161.8 100.3h1M1163.1 187.1h1M1162.3 156.1h1M1163.9 132.6h1M1162.0 151.8h1M1162.5 127.9h1M1161.8 187.6h1M1162.7 150.4h1M1162.0 199.1h1M1161.9 108.8h1M1162.2 192.3h1M1162.8 194.5h1M1161.7 124.8h1M1161.5 119.3h1M1162.1 166.9h1M1162.3 181.4h1M1162.6 196.8h1M1162.6 169.5h1M1163.2 143.3h1M1161.8 129.8h1M1161.6 119.3h1M1162.0 204.3h1M1162.4 161.6h1M1163.1 112.0h1M1162.2 143.9h1M1161.8 124.0h1M1163.3 158.8h1M1162.2 149.3h1M1162.3 96.9h1M1162.8 150.8h1M1161.9 172.9h1M1163.1 183.6h1M1160.3 128.2h1M1162.1 124.9h1M1162.8 148.7h1M1162.2 206.8h1M1161.7 162.3h1M1163.0 103.5h1M1161.7 119.2h1M1162.8 186.8h1M1161.9 142.7h1M1161.4 127.2h1M1162.2 140.5h1M1161.3 107.2h1M1161.9 148.1h1M1161.9 126.7h1M1161.8 161.2h1M1162.1 178.8h1M1163.0 131.2h1M1162.3 118.5h1M1161.7 210.0h1M1162.0 163.7h1M1162.5 117.8h1M1161.7 182.3h1M1161.7 165.5h1M1161.8 128.7h1M1161.5 129.9h1M1162.7 101.0h1M1162.0 195.9h1M1162.1 174.6h1M1162.0 186.6h1M1162.2 173.5h1M1163.3 151.3h1M1161.9 151.1h1M1162.1 213.1h1M1161.6 164.2h1M1161.4 123.6h1M1162.2 131.5h1M1162.1 164.1h1M1161.9 112.8h1M1160.6 166.7h1M1161.4 99.5h1M1161.5 143.9h1M1162.6 128.9h1M1162.4 167.7h1M1161.8 142.8h1M1162.3 172.3h1M1161.2 139.0h1M1162.2 79.5h1M1162.2 191.5h1M1161.7 225.6h1M1162.6 171.8h1M1161.9 202.8h1M1162.9 185.0h1M1162.8 165.8h1M1162.8 110.6h1M1162.3 185.8h1M1186.8 293.7h1M1187.0 293.9h1M1187.5 281.8h1M1186.3 247.0h1M1186.5 244.2h1M1184.9 259.5h1M1186.1 276.3h1M1186.6 290.0h1M1186.1 291.4h1M1186.6 273.9h1M1186.9 287.7h1M1186.3 272.4h1M1187.0 253.1h1M1185.9 288.9h1M1186.9 274.3h1M1185.9 285.6h1M1187.3 280.6h1M1185.3 290.0h1M1186.1 279.5h1M1186.8 272.4h1M1186.6 283.8h1M1185.5 293.0h1M1186.1 257.8h1M1187.4 265.6h1M1186.3 278.4h1M1186.1 259.7h1M1186.9 278.1h1M1185.9 293.6h1M1185.7 244.2h1M1186.7 256.0h1M1186.1 261.8h1M1185.9 286.2h1M1185.1 290.1h1M1186.8 213.3h1M1185.3 294.3h1M1186.2 268.5h1M1186.6 270.3h1M1185.9 242.3h1M1185.5 256.6h1M1186.1 259.6h1M1185.7 248.5h1M1185.6 281.6h1M1187.2 293.5h1M1186.2 282.6h1M1186.8 267.7h1M1185.0 294.7h1M1186.3 280.6h1M1186.8 285.6h1M1187.9 273.1h1M1185.8 284.6h1M1186.0 238.4h1M1186.3 260.9h1M1186.8 260.3h1M1186.9 280.3h1M1185.6 285.4h1M1186.9 294.4h1M1185.4 253.7h1M1186.2 284.7h1M1185.8 261.4h1M1186.2 279.9h1M1185.6 259.3h1M1187.5 294.2h1M1186.6 257.8h1M1185.7 283.6h1M1186.6 266.4h1M1186.1 253.4h1M1185.7 275.3h1M1185.7 278.6h1M1185.8 272.4h1M1185.7 262.9h1M1185.1 291.0h1M1186.5 280.5h1M1186.3 292.6h1M1186.8 291.4h1M1185.4 260.5h1M1187.1 262.6h1M1186.3 291.8h1M1185.5 267.0h1M1187.0 259.3h1M1185.4 261.8h1M1186.4 292.0h1M1185.5 265.8h1M1186.2 293.6h1M1186.3 282.6h1M1186.6 276.8h1M1186.6 240.5h1M1186.1 276.3h1M1186.6 268.3h1M1186.8 284.0h1M1187.4 271.7h1M1185.3 260.9h1M1185.6 267.7h1M1185.6 243.6h1M1186.0 288.9h1M1186.1 285.6h1M1186.3 246.0h1M1186.8 222.7h1M1186.1 263.5h1M1186.5 291.3h1M1186.6 261.3h1M1185.9 250.9h1M1186.5 273.6h1M1185.8 264.9h1M1187.2 290.8h1M1186.7 287.6h1M1185.5 245.2h1M1185.9 284.7h1M1187.1 265.1h1M1186.5 279.3h1M1187.3 294.4h1M1186.4 283.6h1M1187.2 260.6h1M1186.2 239.0h1M1186.5 294.8h1M1186.0 291.7h1M1186.4 278.1h1M1184.9 285.5h1M1186.7 291.5h1M1186.5 264.0h1M1187.5 255.1h1M1186.1 276.1h1M1186.1 276.9h1M1185.4 279.1h1M1186.4 292.3h1M1186.1 265.3h1M1186.6 272.5h1M1185.5 269.6h1M1186.1 287.1h1M1187.0 275.6h1M1185.8 271.4h1M1186.1 292.3h1M1187.0 291.1h1M1188.1 271.5h1M1186.9 275.7h1M1185.5 266.8h1M1186.4 270.4h1M1186.4 269.8h1M1185.6 237.1h1M1186.3 291.0h1M1186.0 277.4h1M1186.1 250.5h1M1186.0 274.3h1M1187.0 253.5h1M1186.3 277.0h1M1185.9 292.4h1M1187.0 246.6h1M1186.2 270.6h1M1187.5 276.7h1M1186.0 273.0h1M1186.5 275.7h1M1187.1 259.9h1M1187.1 280.4h1M1186.5 262.1h1M1186.0 282.7h1M1185.0 249.6h1M1186.6 295.3h1M1185.7 274.1h1M1185.6 286.8h1M1187.2 264.7h1M1187.3 288.2h1M1187.2 290.4h1M1185.1 272.9h1M1186.9 262.7h1M1186.3 282.8h1M1186.2 263.1h1M1187.2 271.0h1M1186.4 280.2h1M1186.2 291.8h1M1186.7 264.8h1M1186.8 276.4h1M1186.5 283.3h1M1187.2 292.8h1M1185.9 257.8h1M1186.7 286.6h1M1185.8 279.6h1M1185.2 290.5h1M1186.6 256.5h1M1186.0 279.2h1M1187.3 274.9h1M1186.3 267.0h1M1185.4 285.4h1M1185.8 277.8h1M1186.5 251.3h1M1187.9 280.0h1M1185.8 293.3h1M1186.4 253.0h1M1186.5 276.8h1M1187.2 271.3h1M1186.3 281.7h1M1186.1 285.8h1M1185.4 260.9h1M1186.8 268.3h1M1187.4 282.7h1M1187.0 271.7h1M1186.7 294.0h1M1186.8 277.4h1M1186.1 256.2h1M1187.7 284.7h1M1185.8 249.1h1M1186.4 291.2h1M1199.6 198.6h1M1199.2 120.2h1M1198.0 125.9h1M1198.5 150.9h1M1198.5 129.9h1M1198.6 212.5h1M1198.1 147.5h1M1199.4 214.8h1M1198.5 176.2h1M1199.0 188.6h1M1198.8 160.5h1M1198.7 186.7h1M1198.7 165.9h1M1221.4 264.7h1M1223.2 260.6h1M1221.6 263.6h1M1223.0 283.0h1M1222.3 276.3h1M1223.1 271.8h1M1222.7 278.7h1M1222.8 223.4h1M1222.6 276.5h1M1222.6 257.2h1M1222.4 261.9h1M1222.2 242.7h1M1222.9 247.0h1M1222.7 281.9h1M1222.2 289.3h1M1221.4 253.5h1M1222.3 257.6h1M1223.2 263.8h1M1222.7 263.0h1M1222.9 248.3h1M1223.8 257.6h1M1222.6 250.5h1M1222.9 220.0h1M1222.9 289.9h1M1222.9 294.3h1M1222.4 262.9h1M1222.9 281.6h1M1223.4 277.4h1M1222.7 271.7h1M1222.4 206.9h1M1221.9 278.1h1M1222.8 280.0h1M1223.0 259.5h1M1221.7 260.9h1M1223.2 267.5h1M1222.5 285.8h1M1222.2 246.8h1M1222.7 254.2h1M1222.9 274.5h1M1222.9 266.8h1M1224.4 280.6h1M1223.2 288.1h1M1222.0 259.4h1M1223.1 258.5h1M1222.2 290.8h1M1223.0 267.0h1M1222.6 279.6h1M1223.3 270.3h1M1222.8 261.0h1M1222.3 293.5h1M1222.9 211.2h1M1221.9 276.1h1M1222.5 235.0h1M1223.5 293.4h1M1222.5 227.0h1M1222.2 271.4h1M1222.5 268.8h1M1223.2 239.6h1M1223.5 254.1h1M1222.3 257.1h1M1222.4 277.3h1M1223.7 265.0h1M1221.7 266.5h1M1223.3 231.4h1M1222.3 290.7h1M1222.7 291.7h1M1221.8 254.9h1M1222.5 289.4h1M1222.6 208.0h1M1223.2 255.0h1M1223.3 266.0h1M1224.3 214.0h1M1222.4 287.8h1M1222.2 248.4h1M1223.0 258.2h1M1223.5 267.0h1M1222.7 254.3h1M1222.4 233.6h1M1223.5 249.8h1M1223.6 235.5h1M1223.5 290.1h1M1221.7 259.1h1M1222.6 279.3h1M1221.8 257.8h1M1223.3 244.6h1M1223.1 261.2h1M1223.4 247.2h1M1223.4 270.8h1M1222.6 270.6h1M1223.3 266.8h1M1222.0 278.3h1M1223.3 264.9h1M1223.2 270.6h1M1221.6 264.7h1M1222.5 234.5h1M1222.6 212.1h1M1222.8 247.4h1M1222.3 231.6h1M1223.1 266.5h1M1222.7 285.8h1M1222.6 295.0h1M1223.3 284.6h1M1222.4 275.8h1M1222.9 293.6h1M1223.3 292.4h1M1223.2 252.0h1M1223.0 270.7h1M1222.6 260.8h1M1222.8 247.2h1M1222.6 294.9h1M1223.3 264.2h1M1223.0 264.5h1M1223.5 244.9h1M1222.5 263.7h1M1222.1 267.9h1M1223.1 258.9h1M1223.1 258.1h1M1222.0 235.3h1M1222.6 242.9h1M1223.0 294.7h1M1224.3 251.9h1M1222.3 262.6h1M1223.5 270.5h1M1223.8 245.9h1M1223.7 254.0h1M1223.4 261.7h1M1222.9 230.8h1M1223.3 292.9h1M1223.0 274.4h1M1222.4 282.0h1M1223.1 256.3h1M1222.1 260.5h1M1222.8 254.3h1M1223.4 282.5h1M1223.0 291.8h1M1221.9 281.8h1M1222.3 243.1h1M1222.1 273.6h1M1223.0 237.2h1M1222.8 276.3h1M1224.0 295.3h1M1222.3 257.6h1M1223.1 264.8h1M1222.8 293.7h1M1223.9 260.4h1M1223.0 263.9h1M1223.0 266.6h1M1223.3 248.2h1M1223.4 292.3h1M1222.7 281.6h1M1222.5 284.4h1M1223.2 273.4h1M1221.7 287.9h1M1223.0 248.6h1M1223.7 251.1h1M1222.9 276.6h1M1221.9 272.2h1M1223.4 256.4h1M1222.9 256.2h1M1222.8 285.3h1M1223.5 291.2h1M1222.4 270.8h1M1222.3 293.9h1M1222.1 240.5h1M1223.8 275.7h1M1221.8 229.5h1M1223.5 281.2h1M1223.2 281.3h1M1222.8 281.7h1M1223.9 265.6h1M1221.4 291.5h1M1223.3 272.6h1M1222.1 247.1h1M1222.7 257.0h1M1222.5 248.7h1M1223.6 236.2h1M1222.3 270.0h1M1222.8 280.3h1M1222.6 258.5h1M1221.8 275.0h1M1222.3 273.2h1M1222.7 263.9h1M1223.1 264.0h1M1221.9 294.2h1M1222.3 262.6h1M1222.9 239.8h1M1222.4 258.3h1M1222.9 279.6h1M1222.5 261.4h1M1222.1 247.6h1M1221.3 267.1h1M1223.1 265.6h1M1222.9 243.8h1M1223.4 262.9h1M1222.3 273.4h1M1222.5 261.2h1M1222.7 262.5h1M1222.7 270.7h1M1223.4 285.6h1M1222.6 278.1h1M1222.7 244.9h1M1223.5 293.6h1M1222.6 293.9h1M1222.2 283.7h1M1223.8 275.1h1M1223.3 240.8h1M1222.2 266.9h1M1222.4 269.4h1M1222.3 249.4h1M1222.2 284.7h1M1222.8 251.5h1M1221.9 250.2h1M1222.7 235.4h1M1223.3 251.7h1M1223.0 265.1h1M1222.5 265.9h1M1223.0 254.8h1M1221.5 276.8h1M1222.4 291.0h1M1223.0 280.0h1M1222.3 257.1h1M1222.1 245.9h1M1222.9 268.3h1M1222.6 266.9h1M1223.2 275.9h1M1223.4 244.3h1M1222.2 272.9h1M1223.0 261.7h1M1222.7 214.5h1M1223.1 280.0h1M1235.7 185.0h1M1235.7 195.6h1M1234.4 203.0h1M1234.5 229.9h1M1236.2 231.2h1M1234.7 237.1h1M1234.3 218.6h1M1234.0 170.6h1M1235.0 214.7h1M1235.5 259.5h1M1234.4 216.0h1M1234.6 135.9h1M1235.6 225.7h1M1234.4 161.3h1M1233.3 165.8h1M1235.9 237.5h1M1234.8 227.9h1M1235.0 241.3h1M1235.7 143.0h1M1235.8 176.8h1M1234.5 173.1h1M1234.9 197.4h1M1235.3 188.9h1M1234.5 185.4h1M1236.0 213.2h1M1235.4 178.4h1M1235.9 199.7h1M1236.0 269.8h1M1235.0 175.0h1M1234.0 190.2h1M1234.5 188.2h1M1235.1 229.6h1M1235.8 126.1h1M1235.6 214.2h1M1235.0 175.3h1M1235.0 180.7h1M1234.3 90.0h1M1234.9 202.2h1M1235.1 245.5h1M1235.3 193.8h1M1234.8 195.8h1M1233.9 193.3h1M1235.4 201.0h1M1233.7 224.8h1M1234.5 277.1h1M1234.7 245.3h1M1235.3 205.3h1M1235.1 265.1h1M1236.4 173.2h1M1234.7 231.2h1M1235.2 255.2h1M1234.5 194.7h1M1234.0 209.5h1M1235.7 232.3h1M1236.7 150.6h1M1233.6 237.7h1M1234.5 260.1h1M1235.3 200.4h1M1235.9 222.2h1M1234.7 161.9h1M1234.7 165.1h1M1234.3 177.9h1M1234.7 236.3h1M1234.6 115.8h1M1235.9 219.2h1M1234.4 167.1h1M1234.6 290.9h1M1235.2 139.4h1M1234.9 181.9h1M1235.0 175.6h1M1235.1 140.1h1M1236.2 190.3h1M1235.5 163.9h1M1235.6 242.1h1M1236.1 218.8h1M1235.8 184.5h1M1235.4 174.8h1M1236.9 184.9h1M1234.4 245.9h1M1234.9 249.7h1M1235.4 258.6h1M1235.2 227.9h1M1235.1 194.5h1M1234.3 232.1h1M1234.9 232.8h1M1235.2 164.5h1M1234.5 209.6h1M1235.3 209.8h1M1235.4 237.0h1M1235.9 201.9h1M1235.2 254.0h1M1235.5 183.4h1M1234.6 195.7h1M1233.5 243.0h1M1235.3 217.5h1M1235.8 186.8h1M1235.1 242.8h1M1235.5 201.7h1M1234.8 256.0h1M1234.9 220.1h1M1234.8 197.1h1M1234.7 255.5h1M1236.1 246.4h1M1235.6 198.5h1M1235.3 206.0h1M1235.0 180.1h1M1234.6 223.6h1M1234.4 226.0h1M1235.3 172.4h1M1234.9 197.1h1M1235.0 235.7h1M1235.0 280.3h1M1234.5 153.9h1M1235.6 186.1h1M1234.1 233.9h1M1235.0 200.5h1M1234.7 205.4h1M1235.3 168.5h1M1235.8 244.8h1M1234.5 217.9h1M1235.0 213.7h1M1233.8 222.1h1M1236.0 172.2h1M1235.4 185.9h1M1235.0 200.7h1M1233.5 130.7h1M1234.4 160.7h1M1234.1 290.8h1M1234.8 233.9h1M1235.1 245.2h1M1234.9 261.6h1M1235.7 218.4h1M1235.4 260.0h1M1234.9 240.8h1M1234.0 229.8h1M1236.4 210.1h1M1235.4 233.1h1M1233.9 228.8h1M1234.6 213.8h1M1235.4 231.2h1M1234.0 209.0h1M1236.1 204.6h1M1234.2 235.0h1M1235.2 212.6h1M1235.3 126.0h1M1233.6 258.7h1M1235.6 206.7h1M1234.0 195.0h1M1235.4 231.3h1M1233.7 229.9h1M1234.5 186.1h1M1236.5 251.2h1M1235.4 195.6h1M1234.6 192.4h1M1234.6 183.0h1M1234.4 206.0h1M1234.6 180.8h1M1234.5 180.0h1M1235.8 127.5h1M1235.8 239.4h1M1235.1 208.1h1M1234.7 235.1h1M1233.9 165.1h1M1234.6 253.6h1M1235.1 181.4h1M1234.6 247.3h1M1235.5 203.9h1M1236.0 264.6h1M1235.0 185.7h1M1235.8 208.8h1M1235.3 152.0h1M1236.1 218.6h1M1235.0 199.4h1M1235.9 204.1h1M1234.3 187.3h1M1234.7 205.8h1M1234.3 210.0h1M1235.4 179.0h1M1235.0 195.7h1M1235.5 238.4h1M1235.9 225.2h1M1235.0 190.2h1M1235.0 247.6h1M1236.2 193.2h1M1235.7 237.7h1M1235.3 214.1h1M1235.2 223.5h1M1234.9 244.1h1M1234.5 193.4h1M1234.8 179.8h1M1235.8 184.5h1M1235.2 247.5h1M1234.3 201.4h1M1235.3 129.1h1M1234.7 126.2h1M1235.1 250.8h1M1234.8 190.9h1M1235.6 238.5h1M1234.5 175.5h1M1235.5 212.6h1M1235.4 181.7h1M1234.2 188.9h1M1234.6 225.8h1M1235.4 222.4h1M1234.6 254.1h1M1235.4 182.8h1M1234.9 260.8h1M1236.0 217.1h1M1235.2 221.5h1M1234.9 230.4h1M1233.9 211.5h1M1233.8 187.2h1M1235.5 226.2h1M1235.2 197.1h1M1235.4 168.1h1M1235.4 195.5h1M1234.4 146.3h1M1235.0 174.3h1M1236.4 227.6h1M1234.6 213.7h1M1234.6 172.5h1M1234.7 198.5h1M1235.2 276.2h1M1236.5 182.8h1M1233.8 213.0h1M1234.4 223.7h1M1236.5 193.5h1M1235.0 205.5h1M1234.7 274.0h1M1234.9 192.5h1M1260.1 292.9h1M1258.2 211.6h1M1259.2 264.8h1M1259.7 284.0h1M1258.7 250.5h1M1259.4 260.1h1M1258.8 251.3h1M1258.6 245.9h1M1259.1 271.4h1M1260.5 274.9h1M1258.3 281.4h1M1257.9 289.2h1M1259.7 239.9h1M1259.7 251.4h1M1259.5 272.9h1M1259.1 276.2h1M1259.1 286.9h1M1259.2 260.4h1M1259.5 260.6h1M1259.0 288.7h1M1258.8 258.4h1M1260.1 258.1h1M1258.7 220.9h1M1258.3 290.5h1M1260.0 274.7h1M1259.6 262.8h1M1259.6 263.2h1M1259.8 263.1h1M1260.1 290.9h1M1259.2 239.2h1M1259.7 251.3h1M1259.3 295.2h1M1258.9 286.5h1M1259.1 205.1h1M1259.5 285.8h1M1258.7 247.6h1M1260.0 292.2h1M1259.0 286.7h1M1260.1 262.0h1M1259.6 239.6h1M1259.3 258.5h1M1258.4 292.7h1M1259.7 247.0h1M1258.9 265.2h1M1258.8 200.7h1M1259.1 254.2h1M1259.0 250.6h1M1258.2 215.1h1M1259.3 274.8h1M1260.3 271.6h1M1259.6 256.0h1M1259.0 237.8h1M1258.8 255.8h1M1258.9 193.7h1M1258.9 255.1h1M1258.5 226.9h1M1259.4 234.0h1M1259.6 257.9h1M1259.3 274.0h1M1258.7 281.3h1M1259.7 266.0h1M1259.2 273.2h1M1259.8 259.4h1M1259.2 272.9h1M1259.7 271.0h1M1259.9 248.1h1M1259.2 259.8h1M1259.3 262.2h1M1259.6 251.7h1M1259.6 231.4h1M1259.4 284.4h1M1259.0 261.9h1M1259.1 236.2h1M1259.0 245.2h1M1259.2 291.5h1M1258.8 230.9h1M1259.1 254.3h1M1260.3 241.8h1M1259.3 237.4h1M1258.3 249.4h1M1258.2 263.9h1M1260.6 232.2h1M1259.7 268.8h1M1259.0 269.2h1M1258.6 273.0h1M1259.6 295.0h1M1259.0 273.8h1M1259.2 273.1h1M1259.9 273.0h1M1259.2 243.7h1M1259.9 269.3h1M1258.6 268.7h1M1258.9 232.5h1M1258.9 281.8h1M1260.3 264.5h1M1258.1 271.7h1M1259.3 251.6h1M1259.7 291.4h1M1258.8 275.4h1M1259.7 259.3h1M1259.5 292.2h1M1259.4 248.8h1M1259.9 238.5h1M1259.6 226.4h1M1259.1 279.7h1M1260.0 242.2h1M1260.5 260.8h1M1260.9 258.7h1M1259.3 262.9h1M1259.1 256.9h1M1259.3 292.2h1M1258.0 240.1h1M1260.2 202.5h1M1258.2 240.5h1M1258.6 272.7h1M1259.9 243.4h1M1259.5 275.0h1M1258.8 292.5h1M1258.8 218.0h1M1260.6 287.1h1M1259.6 242.9h1M1258.9 226.6h1M1258.9 218.4h1M1259.5 294.8h1M1258.5 293.4h1M1258.1 282.6h1M1259.8 241.7h1M1258.6 173.5h1M1258.5 252.5h1M1259.2 257.5h1M1258.0 261.5h1M1259.9 226.7h1M1259.3 295.2h1M1258.6 239.3h1M1258.9 238.5h1M1259.5 228.9h1M1259.4 248.7h1M1259.8 290.8h1M1258.6 243.8h1M1259.3 235.7h1M1259.1 269.2h1M1259.8 281.9h1M1259.9 226.8h1M1259.1 272.3h1M1258.0 206.6h1M1259.7 208.1h1M1260.7 271.6h1M1259.0 246.4h1M1259.7 276.9h1M1258.9 278.3h1M1259.0 230.6h1M1258.5 198.8h1M1260.1 254.3h1M1258.8 269.3h1M1259.4 284.1h1M1259.5 264.3h1M1260.2 268.7h1M1259.3 255.3h1M1259.1 235.8h1M1258.9 289.9h1M1259.6 230.1h1M1258.9 292.9h1M1259.7 246.1h1M1259.4 231.3h1M1257.8 264.8h1M1259.6 260.2h1M1259.5 282.4h1M1259.5 266.7h1M1259.1 250.7h1M1259.5 291.7h1M1259.8 288.8h1M1259.5 290.9h1M1258.4 198.8h1M1259.9 224.2h1M1258.4 291.8h1M1260.3 283.4h1M1260.2 276.5h1M1258.6 242.1h1M1260.1 263.4h1M1258.3 225.9h1M1258.4 274.2h1M1258.3 254.6h1M1259.6 244.5h1M1259.5 294.8h1M1260.3 290.4h1M1259.8 221.3h1M1259.1 267.8h1M1258.2 287.0h1M1259.3 268.5h1M1260.4 260.6h1M1258.6 255.7h1M1259.7 243.9h1M1260.3 270.6h1M1259.7 271.5h1M1258.8 279.9h1M1258.6 204.9h1M1258.8 294.1h1M1259.7 236.8h1M1259.8 246.6h1M1259.4 285.3h1M1258.9 242.0h1M1258.5 287.6h1M1258.9 273.5h1M1260.0 268.9h1M1258.6 211.4h1M1259.5 291.0h1M1258.3 292.5h1M1259.3 256.8h1M1258.8 251.6h1M1260.3 252.5h1M1259.5 275.9h1M1259.0 264.2h1M1259.9 258.2h1M1258.7 292.3h1M1258.5 244.8h1M1259.9 266.6h1M1259.0 265.7h1M1258.6 254.6h1M1259.3 278.5h1M1257.7 238.8h1M1259.4 237.3h1M1258.7 254.1h1M1259.4 222.9h1M1258.6 214.7h1M1259.7 193.6h1M1258.7 271.4h1M1258.4 223.8h1M1260.0 274.0h1M1258.4 257.1h1M1260.0 267.6h1M1259.7 256.1h1M1259.6 291.5h1M1258.8 290.5h1M1259.1 276.8h1M1258.6 276.3h1M1259.6 242.7h1M1259.2 260.6h1M1258.5 230.0h1M1259.7 268.3h1M1260.2 274.1h1M1258.5 260.6h1M1259.2 236.0h1M1258.7 256.5h1M1259.1 269.4h1M1258.3 245.6h1M1260.3 275.0h1M1259.3 252.1h1M1258.8 262.9h1M1259.2 293.2h1M1258.5 292.8h1M1259.1 284.3h1M1258.7 239.3h1M1259.8 226.3h1M1259.3 223.0h1M1259.3 276.0h1M1260.4 229.5h1M1259.0 291.8h1M1260.8 290.7h1M1259.8 241.4h1M1259.9 253.6h1M1259.5 210.6h1M1259.4 203.5h1M1259.6 259.8h1M1259.6 250.2h1M1259.0 284.9h1M1259.1 293.7h1M1258.8 220.1h1M1259.4 283.2h1M1258.7 234.3h1M1259.2 214.9h1M1259.6 279.1h1M1259.1 281.4h1M1257.7 275.9h1M1259.3 227.1h1M1259.6 269.5h1M1259.8 252.4h1M1258.4 218.9h1M1259.5 294.7h1M1259.8 216.6h1M1259.8 271.6h1M1259.6 268.6h1M1259.6 272.7h1M1259.5 267.2h1M1259.6 294.9h1M1259.2 265.8h1M1258.4 282.7h1M1259.1 217.0h1M1258.6 252.7h1M1259.0 202.2h1M1259.0 262.3h1M1260.8 284.6h1M1259.0 281.8h1M1259.9 295.3h1M1259.5 274.3h1M1259.1 227.1h1M1259.4 248.4h1M1258.9 264.1h1M1258.8 230.0h1M1259.8 243.5h1M1259.6 262.0h1M1259.8 263.2h1M1258.6 243.0h1M1259.3 275.8h1M1259.0 258.3h1M1259.5 278.8h1M1259.5 295.0h1M1258.8 237.3h1M1259.0 260.6h1M1259.2 241.8h1M1258.0 259.4h1M1259.2 257.4h1M1259.5 291.9h1M1259.4 228.9h1M1259.8 276.7h1M1259.4 294.8h1M1259.3 250.2h1M1258.0 292.9h1M1258.8 282.7h1M1259.3 288.3h1M1258.7 292.8h1M1258.8 250.0h1M1258.8 271.1h1M1259.4 251.1h1M1258.8 260.3h1M1259.0 244.4h1M1258.3 178.2h1M1260.0 268.8h1M1259.8 208.0h1M1259.8 261.9h1M1258.6 254.0h1M1272.6 220.8h1M1271.3 217.1h1M1271.4 179.5h1M1271.7 219.8h1M1272.0 177.3h1M1271.7 292.4h1M1272.0 194.3h1M1272.9 226.0h1M1271.8 210.8h1M1271.3 253.8h1M1271.1 219.0h1M1272.8 266.7h1M1272.2 248.3h1M1272.0 267.2h1M1271.6 231.2h1M1271.4 245.9h1M1270.6 281.0h1M1272.3 227.6h1M1271.1 222.7h1M1272.0 294.4h1M1271.8 212.3h1M1272.1 272.5h1M1271.6 260.6h1M1271.1 200.7h1M1273.2 226.6h1M1270.9 240.3h1M1272.5 185.5h1M1270.8 238.4h1M1271.9 221.3h1M1271.3 167.9h1M1271.9 224.0h1M1270.8 209.7h1M1272.0 226.0h1M1272.4 261.1h1M1270.3 249.3h1M1271.6 219.5h1M1272.3 228.4h1M1271.2 257.7h1M1271.4 177.0h1M1272.0 145.9h1M1271.2 217.7h1M1272.5 271.3h1M1271.7 210.3h1M1271.4 184.1h1M1272.0 231.8h1M1271.5 217.4h1M1271.8 239.3h1M1271.3 206.0h1M1270.8 261.1h1M1272.6 200.4h1M1271.9 216.1h1M1271.6 269.7h1M1271.6 190.6h1M1272.0 232.1h1M1271.9 194.8h1M1271.4 208.3h1M1271.7 241.6h1M1271.2 260.4h1M1271.8 251.8h1M1270.9 200.4h1M1270.6 201.5h1M1270.8 196.0h1M1272.4 165.8h1M1271.7 254.4h1M1271.5 270.1h1M1271.2 212.8h1M1272.3 199.0h1M1271.9 198.8h1M1272.1 294.7h1M1271.1 186.5h1M1271.8 206.6h1M1271.2 259.7h1M1271.5 204.2h1M1270.5 292.1h1M1270.9 192.8h1M1272.3 237.4h1M1271.9 267.4h1M1272.6 216.3h1M1270.8 213.1h1M1271.2 240.6h1M1271.8 231.5h1M1270.8 216.5h1M1271.7 274.8h1M1272.6 218.9h1M1272.1 205.3h1M1272.1 206.1h1M1270.9 226.8h1M1273.1 241.6h1M1271.0 238.7h1M1271.6 288.0h1M1270.9 193.2h1M1271.1 284.1h1M1271.5 222.8h1M1270.8 235.2h1M1272.0 210.3h1M1271.0 213.5h1M1271.3 232.5h1M1271.9 192.1h1M1272.5 170.5h1M1271.0 262.0h1M1294.8 277.1h1M1295.6 230.6h1M1296.2 260.3h1M1296.3 266.5h1M1294.4 253.5h1M1295.9 283.2h1M1296.1 256.6h1M1295.1 290.0h1M1296.8 289.1h1M1295.1 286.6h1M1296.0 284.8h1M1295.5 288.9h1M1295.0 250.1h1M1295.8 290.3h1M1294.0 286.4h1M1295.8 261.8h1M1295.6 288.1h1M1297.0 293.9h1M1297.2 256.2h1M1295.6 280.2h1M1294.0 287.2h1M1296.2 265.7h1M1295.5 295.2h1M1295.6 266.5h1M1296.4 292.4h1M1295.4 237.8h1M1295.7 282.1h1M1295.6 266.9h1M1295.6 290.4h1M1295.6 286.7h1M1296.2 250.8h1M1296.0 278.2h1M1295.1 276.0h1M1295.5 230.4h1M1296.5 286.0h1M1294.9 286.0h1M1296.2 294.7h1M1295.0 215.9h1M1296.4 287.1h1M1295.1 289.1h1M1296.1 267.2h1M1296.1 283.9h1M1296.6 270.6h1M1295.8 295.3h1M1295.4 295.3h1M1296.2 276.8h1M1295.5 278.2h1M1296.5 279.8h1M1296.3 288.0h1M1296.3 271.4h1M1296.8 292.0h1M1296.3 257.1h1M1295.7 274.3h1M1295.3 288.7h1M1295.1 293.1h1M1295.0 289.5h1M1296.4 273.7h1M1294.6 222.3h1M1296.2 287.5h1M1295.3 284.7h1M1295.8 260.3h1M1296.1 294.4h1M1294.8 227.0h1M1296.6 278.3h1M1295.9 275.2h1M1295.9 286.2h1M1295.5 288.6h1M1296.6 292.4h1M1295.7 291.6h1M1295.8 266.0h1M1295.5 255.3h1M1296.6 252.8h1M1295.2 257.8h1M1297.2 285.7h1M1295.7 285.5h1M1296.3 295.2h1M1295.7 293.9h1M1296.4 230.5h1M1297.4 281.4h1M1295.8 256.9h1M1296.6 285.0h1M1296.1 259.3h1M1296.8 295.3h1M1295.3 258.8h1M1296.2 284.9h1M1295.7 246.7h1M1294.7 278.4h1M1295.7 242.9h1M1295.7 274.5h1M1296.3 281.0h1M1295.8 275.7h1M1297.3 226.8h1M1295.1 287.7h1M1296.3 289.4h1M1294.6 290.2h1M1295.0 261.5h1M1296.2 258.5h1M1296.7 272.3h1M1295.5 272.7h1M1296.2 288.6h1M1295.4 292.7h1M1296.4 272.5h1M1296.0 294.6h1M1296.3 267.6h1M1294.4 276.8h1M1295.3 278.1h1M1295.8 294.1h1M1295.9 283.5h1M1296.0 289.1h1M1296.5 249.6h1M1296.4 282.1h1M1295.8 283.7h1M1296.3 283.3h1M1296.3 259.4h1M1295.9 295.3h1M1296.1 233.0h1M1296.3 241.5h1M1296.2 264.5h1M1295.4 270.0h1M1295.9 293.5h1M1296.7 282.3h1M1295.4 281.4h1M1296.1 287.9h1M1294.7 265.1h1M1295.6 267.0h1M1295.4 287.5h1M1296.5 249.6h1M1296.2 271.4h1M1295.2 292.0h1M1295.4 283.9h1M1296.2 275.5h1M1296.1 264.5h1M1295.6 286.5h1M1296.5 259.9h1M1296.7 266.9h1M1295.2 264.2h1M1296.4 290.6h1M1294.7 287.4h1M1295.9 288.9h1M1297.4 292.3h1M1296.0 290.8h1M1295.9 253.8h1M1295.6 242.7h1M1295.5 295.2h1M1295.9 290.6h1M1294.3 291.5h1M1295.7 282.5h1M1295.3 279.9h1M1295.6 285.9h1M1295.3 283.2h1M1295.2 276.5h1M1296.6 286.0h1M1295.7 280.6h1M1295.8 262.3h1M1296.1 295.3h1M1295.3 272.1h1M1295.0 270.2h1M1295.3 272.5h1M1295.7 294.5h1M1295.0 278.5h1M1295.2 283.0h1M1295.4 289.2h1M1296.2 289.5h1M1296.3 280.9h1M1295.8 272.4h1M1295.6 281.5h1M1294.8 276.3h1M1296.7 246.9h1M1295.2 273.5h1M1295.9 291.7h1M1295.8 287.3h1M1295.2 262.1h1M1296.4 268.2h1M1296.1 269.5h1M1295.1 286.1h1M1294.6 246.0h1M1296.2 238.0h1M1296.1 283.3h1M1295.5 293.6h1M1296.6 260.0h1M1296.9 290.9h1M1295.3 234.9h1M1295.7 267.3h1M1297.1 292.9h1M1296.3 288.3h1M1295.9 268.0h1M1295.9 290.3h1M1296.7 284.3h1M1296.2 261.7h1M1295.8 287.3h1M1296.3 276.7h1M1295.2 273.2h1M1295.7 239.1h1M1296.3 258.4h1M1296.8 292.8h1M1295.7 272.3h1M1297.0 250.2h1M1296.1 288.0h1M1295.5 290.6h1M1296.4 287.0h1M1295.9 260.2h1M1295.7 256.2h1M1297.0 285.9h1M1294.5 270.6h1M1295.8 285.0h1M1295.1 294.8h1M1296.2 232.1h1M1295.2 272.8h1M1295.4 286.8h1M1296.2 287.7h1M1294.2 291.6h1M1295.3 294.5h1M1295.8 288.4h1M1295.5 286.1h1M1294.9 254.4h1M1295.8 277.2h1M1296.0 255.6h1M1295.5 243.9h1M1297.0 269.7h1M1295.7 295.0h1M1307.8 245.2h1M1307.9 262.3h1M1308.2 255.0h1M1308.3 279.4h1M1308.9 226.7h1M1308.7 231.4h1M1307.3 256.1h1M1306.6 233.0h1M1308.6 223.3h1M1307.5 240.4h1M1308.9 262.7h1M1308.9 260.5h1M1307.6 230.9h1M1308.4 143.6h1M1308.1 224.2h1M1307.9 255.9h1M1307.4 181.1h1M1307.8 235.8h1M1307.5 229.5h1M1308.7 170.7h1M1307.1 224.2h1M1307.7 276.9h1M1308.4 248.5h1M1307.3 192.8h1M1308.5 182.9h1M1307.7 264.9h1M1308.8 240.1h1M1308.6 155.4h1M1307.5 258.4h1M1307.9 276.0h1M1308.0 206.3h1M1307.9 221.4h1M1308.5 249.0h1M1307.9 244.5h1M1308.7 227.5h1M1307.2 216.7h1M1308.1 279.3h1M1308.9 219.7h1M1309.1 259.6h1M1307.9 282.0h1M1307.9 190.1h1M1308.8 233.2h1M1308.3 261.7h1M1307.5 257.7h1M1307.9 269.9h1M1308.1 177.7h1M1307.5 290.9h1M1307.3 175.9h1M1308.0 273.7h1M1308.2 212.3h1M1307.8 270.8h1M1308.9 232.4h1M1307.5 174.1h1M1308.7 246.1h1M1308.2 247.4h1M1307.7 186.1h1M1308.1 136.6h1M1307.6 248.6h1M1307.4 261.5h1M1308.4 261.0h1M1331.4 240.4h1M1332.8 236.2h1M1332.7 270.2h1M1333.0 259.2h1M1332.9 239.6h1M1332.8 206.9h1M1332.1 294.2h1M1332.6 286.1h1M1332.5 288.2h1M1333.0 227.8h1M1332.5 289.0h1M1332.5 244.8h1M1332.1 225.0h1M1331.7 230.0h1M1332.6 281.3h1M1333.0 261.6h1M1332.6 244.1h1M1332.6 193.0h1M1333.2 261.8h1M1332.3 242.3h1M1331.7 219.8h1M1331.8 242.1h1M1332.4 259.1h1M1331.7 239.1h1M1331.8 230.1h1M1332.1 229.9h1M1333.0 268.8h1M1331.7 268.5h1M1333.0 263.4h1M1331.4 263.4h1M1332.5 241.9h1M1332.7 247.5h1M1333.4 284.9h1M1332.7 256.0h1M1331.6 269.6h1M1331.4 237.0h1M1331.7 283.9h1M1332.6 228.5h1M1332.9 280.5h1M1331.1 246.0h1M1332.8 276.5h1M1332.6 252.0h1M1332.2 291.2h1M1333.5 215.8h1M1331.7 186.7h1M1332.0 278.7h1M1332.3 247.6h1M1331.2 238.9h1M1331.9 278.7h1M1332.5 265.5h1M1332.2 207.4h1M1331.2 243.8h1M1332.5 263.0h1M1332.4 229.0h1M1332.8 171.1h1M1332.3 268.3h1M1332.1 223.9h1M1332.9 220.9h1M1332.2 277.8h1M1332.6 234.5h1M1331.9 276.2h1M1331.9 253.2h1M1332.8 252.0h1M1333.2 212.6h1M1333.9 258.6h1M1332.4 249.3h1M1331.9 262.1h1M1333.0 252.9h1M1332.2 235.5h1M1331.6 270.7h1M1332.0 282.0h1M1333.2 205.4h1M1331.9 284.2h1M1333.8 267.6h1M1332.7 268.0h1M1332.5 289.1h1M1332.6 281.6h1M1332.4 290.1h1M1332.4 228.9h1M1332.1 248.3h1M1332.6 253.7h1M1331.7 267.4h1M1331.8 292.8h1M1332.5 280.6h1M1332.9 215.3h1M1331.5 253.5h1M1332.5 243.9h1M1331.4 205.1h1M1331.2 256.8h1M1332.0 242.4h1M1332.2 295.0h1M1333.5 272.1h1M1332.5 271.5h1M1331.7 262.8h1M1332.3 260.3h1M1333.1 263.7h1M1332.5 253.2h1M1333.3 217.2h1M1332.4 229.5h1M1332.8 242.8h1M1332.5 273.0h1M1332.8 224.2h1M1332.7 218.9h1M1331.4 257.7h1M1332.1 268.5h1M1331.9 147.1h1M1332.9 242.3h1M1332.3 278.6h1M1331.8 275.8h1M1332.1 228.4h1M1332.6 269.2h1M1332.9 230.7h1M1333.8 258.7h1M1333.3 236.1h1M1332.3 243.6h1M1332.1 259.4h1M1331.7 245.1h1M1333.5 209.1h1M1333.4 266.6h1M1331.9 281.8h1M1332.4 259.1h1M1331.8 233.7h1M1332.4 202.9h1M1331.4 265.7h1M1332.1 258.2h1M1332.0 279.7h1M1332.3 263.2h1M1331.4 260.9h1M1331.6 267.3h1M1333.0 250.8h1M1331.9 238.0h1M1332.5 266.5h1M1333.0 182.4h1M1332.2 283.3h1M1332.1 257.7h1M1331.4 265.2h1M1333.0 255.0h1M1331.1 202.1h1M1333.2 269.2h1M1332.1 246.7h1M1333.4 255.9h1M1332.6 290.6h1M1332.1 212.2h1M1331.7 268.2h1M1332.3 273.3h1M1331.3 218.5h1M1331.6 267.4h1M1332.2 258.1h1M1332.2 233.1h1M1332.5 232.7h1M1332.5 194.9h1M1331.9 238.3h1M1332.8 274.7h1M1332.0 291.4h1M1332.3 229.0h1M1331.9 244.6h1M1331.9 263.4h1M1332.8 186.8h1M1332.1 293.2h1M1331.8 276.9h1M1332.6 205.1h1M1332.5 237.0h1M1333.2 255.6h1M1332.3 201.6h1M1333.2 292.8h1M1332.8 258.3h1M1332.1 259.4h1M1331.6 222.3h1M1333.3 294.5h1M1332.5 258.9h1M1332.5 265.8h1M1331.8 295.0h1M1331.8 252.8h1M1331.2 233.2h1M1332.2 283.1h1M1333.1 234.4h1M1333.3 293.6h1M1332.8 283.7h1M1333.0 256.4h1M1332.3 229.8h1M1332.0 262.4h1M1332.5 261.7h1M1333.0 206.3h1M1332.6 195.3h1M1331.9 268.4h1M1332.4 247.1h1M1333.7 242.6h1M1332.4 241.6h1M1333.0 224.9h1M1333.0 251.9h1M1331.7 222.3h1M1332.1 262.7h1M1331.6 248.8h1M1332.4 294.0h1M1331.1 252.2h1M1332.5 262.9h1M1331.7 216.0h1M1331.8 269.3h1M1332.2 291.6h1M1332.1 267.5h1M1331.7 226.3h1M1331.9 162.5h1M1332.9 292.4h1M1332.5 262.6h1M1332.5 276.4h1M1331.3 279.9h1M1333.2 243.8h1M1332.3 277.0h1M1332.1 253.6h1M1332.9 238.0h1M1332.3 218.9h1M1333.5 203.0h1M1332.7 246.6h1M1332.2 270.4h1M1331.9 269.3h1M1332.9 243.0h1M1332.3 237.0h1M1333.1 173.8h1M1331.3 234.2h1M1332.5 256.1h1M1332.5 236.7h1M1331.8 202.1h1M1332.2 236.2h1M1333.1 288.4h1M1331.5 245.9h1M1332.5 260.2h1M1331.6 261.4h1M1332.8 247.6h1M1331.5 224.1h1M1332.1 257.6h1M1333.4 258.4h1M1331.7 218.6h1M1331.2 186.1h1M1332.9 275.3h1M1331.9 211.0h1M1331.7 184.4h1M1332.0 263.9h1M1332.3 241.2h1M1332.8 291.3h1M1332.4 226.5h1M1333.1 279.9h1M1332.1 264.6h1M1331.2 242.4h1M1332.3 214.9h1M1333.7 287.7h1M1332.0 168.8h1M1332.0 265.5h1M1332.3 293.6h1M1331.4 215.9h1M1333.2 291.7h1M1332.9 252.5h1M1332.5 240.1h1M1332.4 263.7h1M1332.8 268.1h1M1332.6 264.8h1M1331.9 237.0h1M1331.5 290.8h1M1332.4 244.9h1M1333.1 213.4h1M1333.0 265.6h1M1332.4 239.9h1M1332.5 265.3h1M1333.0 167.9h1M1332.4 236.4h1M1331.2 268.1h1M1331.9 181.1h1M1331.7 267.8h1M1332.8 260.5h1M1331.7 236.9h1M1332.7 231.8h1M1332.2 292.8h1M1332.7 272.1h1M1331.7 254.3h1M1332.1 237.0h1M1331.8 174.8h1M1331.1 211.5h1M1332.2 250.8h1M1331.4 281.4h1M1332.7 219.5h1M1331.9 262.4h1M1332.2 230.2h1M1332.1 205.5h1M1332.6 280.0h1M1332.5 231.2h1M1332.0 229.6h1M1331.8 292.0h1M1332.4 273.6h1M1331.9 147.7h1M1330.6 273.1h1M1331.3 274.5h1M1331.5 187.5h1M1332.5 261.6h1M1333.1 283.4h1M1332.0 272.4h1M1332.7 260.4h1M1332.1 248.1h1M1333.1 243.6h1M1332.5 238.9h1M1333.3 207.5h1M1331.7 251.8h1M1332.9 211.1h1M1334.0 291.3h1M1331.3 233.3h1M1332.3 294.3h1M1332.4 215.8h1M1331.9 178.3h1M1332.3 267.9h1M1332.3 271.0h1M1332.4 234.4h1M1332.3 237.4h1M1331.8 248.5h1M1332.4 230.8h1M1332.1 247.1h1M1331.2 184.4h1M1332.5 218.2h1M1332.6 237.7h1M1332.2 267.9h1M1332.9 183.0h1M1332.6 294.4h1M1332.7 257.0h1M1331.9 280.5h1M1332.2 277.1h1M1332.2 245.9h1M1333.1 219.3h1M1331.5 228.8h1M1331.9 284.9h1M1331.8 246.1h1M1332.2 245.3h1M1331.9 209.2h1M1331.7 287.6h1M1332.5 254.1h1M1332.4 268.4h1M1332.8 258.4h1M1331.6 285.9h1M1332.6 280.8h1M1333.1 282.6h1M1333.2 267.8h1M1332.3 203.1h1M1334.1 294.1h1M1333.2 274.1h1M1345.6 130.0h1M1345.1 162.5h1M1343.8 153.7h1M1343.5 185.4h1M1344.6 154.1h1M1344.2 185.0h1M1345.8 158.7h1M1343.9 133.4h1M1344.2 201.1h1M1344.2 129.8h1M1345.3 130.3h1M1344.0 126.7h1M1343.9 158.5h1M1344.3 157.7h1M1344.1 191.8h1M1343.9 188.1h1M1343.3 179.5h1M1344.4 184.8h1M1345.0 161.5h1M1344.2 166.7h1M1344.5 195.7h1M1344.6 138.9h1M1345.4 110.0h1M1344.5 164.5h1M1345.3 176.2h1M1344.5 177.0h1M1343.8 169.5h1M1344.3 165.9h1M1344.6 197.0h1M1345.5 185.3h1M1344.4 160.6h1M1344.7 182.6h1M1344.8 170.5h1M1344.4 164.4h1M1344.3 143.7h1M1344.2 178.4h1M1344.5 148.3h1M1345.1 148.4h1M1344.8 87.5h1M1344.9 157.5h1M1344.3 142.7h1M1343.7 217.5h1M1343.5 144.9h1M1344.7 189.1h1M1344.2 149.5h1M1344.4 153.1h1M1343.4 162.5h1M1344.5 125.3h1M1344.1 174.8h1M1343.0 138.4h1M1346.5 146.5h1M1344.7 177.4h1M1344.4 135.9h1M1344.9 178.3h1M1344.3 124.8h1M1343.3 137.4h1M1343.9 151.6h1M1344.5 126.0h1M1344.5 155.8h1M1343.6 152.6h1M1344.5 169.0h1M1343.8 157.5h1M1343.8 151.1h1M1344.6 195.8h1M1345.4 179.0h1M1344.0 169.3h1M1344.1 125.6h1M1345.0 173.5h1M1344.7 133.6h1M1345.0 118.8h1M1344.5 125.8h1M1343.9 158.8h1M1343.5 133.1h1M1345.2 154.2h1M1345.0 176.4h1M1344.4 130.1h1M1344.3 148.3h1M1345.1 181.5h1M1344.0 160.4h1M1345.3 186.1h1M1342.9 206.3h1M1344.5 114.9h1M1343.6 185.0h1M1345.7 209.4h1M1343.3 165.4h1M1344.8 178.0h1M1345.6 119.7h1M1344.2 161.9h1M1344.9 174.0h1M1344.6 174.9h1M1344.1 143.6h1M1344.5 178.3h1M1344.1 157.5h1M1344.3 165.7h1M1343.8 144.7h1M1344.4 132.8h1M1343.7 155.5h1M1343.2 168.6h1M1344.3 106.6h1M1345.2 200.2h1M1344.5 161.8h1M1344.9 184.3h1M1345.4 132.0h1M1344.7 159.2h1M1345.3 162.3h1M1345.0 151.1h1M1344.1 172.6h1M1344.7 155.5h1M1344.4 138.7h1M1344.4 166.4h1M1344.7 171.6h1M1345.5 156.1h1M1344.0 193.6h1M1344.1 181.9h1M1344.8 181.1h1M1343.8 175.5h1M1343.9 211.7h1M1343.8 150.6h1M1344.0 130.1h1M1344.5 156.8h1M1344.8 170.2h1M1344.6 131.4h1M1343.9 144.3h1M1344.7 120.4h1M1344.7 181.0h1M1345.0 137.1h1M1344.8 147.9h1M1345.4 175.0h1M1344.8 148.9h1M1344.5 193.4h1M1345.9 143.4h1M1343.9 144.3h1M1344.1 96.3h1M1344.7 152.1h1M1344.7 198.4h1M1344.4 117.1h1M1344.3 188.4h1M1343.6 145.7h1M1345.2 159.7h1M1344.4 162.7h1M1344.6 171.7h1M1344.1 193.9h1M1344.3 99.4h1M1344.5 148.4h1M1344.9 154.3h1M1344.4 136.1h1M1344.5 158.5h1M1345.0 136.3h1M1345.1 147.6h1M1343.2 163.5h1M1345.2 110.6h1M1343.7 181.5h1M1344.3 150.1h1M1343.8 122.1h1M1344.8 184.0h1M1344.6 138.8h1M1344.3 148.2h1M1344.3 141.1h1M1344.2 181.6h1M1343.0 146.2h1M1345.8 132.4h1M1343.7 146.8h1M1345.6 168.2h1M1344.4 132.7h1M1344.2 140.8h1M1344.1 103.2h1M1344.7 194.5h1M1345.4 154.8h1M1345.5 134.1h1M1344.8 160.2h1M1345.3 139.1h1M1345.4 195.6h1M1343.8 154.7h1M1343.7 191.7h1M1345.4 188.9h1M1344.9 170.3h1M1345.0 133.2h1M1343.0 166.2h1M1345.3 160.4h1M1345.7 181.8h1M1344.3 174.7h1M1344.3 161.1h1M1344.1 168.3h1M1345.1 142.3h1M1342.7 190.7h1M1344.3 173.9h1M1344.8 164.9h1M1344.8 156.2h1M1345.2 126.3h1M1343.5 119.9h1M1343.4 212.5h1M1344.4 152.7h1M1344.3 168.1h1M1344.2 179.8h1M1345.3 156.1h1M1344.8 139.6h1M1344.2 163.4h1M1343.7 171.0h1M1343.3 168.7h1M1344.5 153.4h1M1345.2 140.4h1M1344.5 151.4h1M1344.9 158.5h1M1344.3 180.0h1M1345.0 157.1h1M1344.4 192.7h1M1343.5 151.6h1M1345.8 164.2h1M1344.8 224.8h1M1345.4 156.2h1M1345.2 95.9h1M1344.2 187.7h1M1345.0 170.3h1M1343.6 152.7h1M1344.8 207.9h1M1345.2 177.3h1M1344.7 127.6h1M1344.3 201.7h1M1344.2 175.2h1M1343.9 164.4h1M1343.5 156.2h1M1343.0 160.6h1M1343.5 174.3h1M1344.2 144.3h1M1343.7 211.8h1M1343.9 155.2h1M1343.9 194.0h1M1344.2 147.5h1M1344.8 151.4h1M1344.7 133.3h1M1345.2 191.1h1M1344.3 163.1h1M1344.5 147.0h1M1345.1 140.7h1M1343.4 180.5h1M1344.1 106.3h1M1344.4 123.9h1M1345.2 172.2h1M1345.3 123.5h1M1344.2 178.4h1M1369.3 279.0h1M1367.6 263.6h1M1369.0 204.6h1M1368.2 246.7h1M1368.9 232.7h1M1368.8 252.2h1M1368.1 229.1h1M1369.2 270.6h1M1369.4 259.0h1M1369.5 253.4h1M1368.8 261.4h1M1368.6 267.1h1M1368.6 271.3h1M1368.6 249.7h1M1369.2 232.8h1M1369.3 276.6h1M1369.0 257.9h1M1368.2 234.4h1M1369.2 267.5h1M1368.2 291.6h1M1369.6 270.6h1M1369.0 286.3h1M1368.4 265.6h1M1369.2 258.7h1M1367.8 260.0h1M1368.9 261.0h1M1369.8 256.4h1M1368.9 259.5h1M1368.1 255.5h1M1368.1 246.0h1M1368.8 233.6h1M1369.2 214.4h1M1368.6 267.8h1M1368.9 269.8h1M1368.0 267.9h1M1368.8 245.3h1M1369.4 258.6h1M1368.6 247.2h1M1368.5 265.2h1M1369.2 290.7h1M1368.8 262.0h1M1368.2 246.0h1M1368.7 258.6h1M1368.5 258.7h1M1368.4 245.0h1M1369.4 268.2h1M1370.0 278.1h1M1368.8 235.9h1M1369.7 279.3h1M1368.4 260.1h1M1370.2 260.2h1M1368.6 228.8h1M1368.3 294.8h1M1368.1 242.8h1M1369.7 229.5h1M1368.4 264.4h1M1368.7 270.9h1M1367.9 250.8h1M1368.2 261.2h1M1368.3 228.8h1M1368.8 260.8h1M1368.1 241.3h1M1368.7 253.8h1M1369.6 255.4h1M1368.0 285.4h1M1368.9 252.7h1M1368.8 246.5h1M1369.3 254.8h1M1368.4 249.7h1M1367.7 261.0h1M1368.7 295.3h1M1368.8 245.7h1M1368.6 250.1h1M1368.8 220.3h1M1369.3 259.2h1M1367.8 275.8h1M1368.4 237.3h1M1369.2 235.2h1M1368.7 225.7h1M1368.8 257.4h1M1368.5 264.8h1M1369.8 275.6h1M1368.2 251.7h1M1370.1 268.3h1M1369.1 217.9h1M1368.1 263.5h1M1367.5 232.3h1M1367.8 227.1h1M1369.2 248.3h1M1369.0 265.1h1M1368.8 246.6h1M1368.6 232.3h1M1368.9 284.4h1M1369.7 250.3h1M1369.8 238.6h1M1369.1 269.0h1M1369.7 274.2h1M1368.3 242.7h1M1369.3 271.2h1M1369.8 263.8h1M1369.5 264.5h1M1368.1 257.0h1M1368.9 254.1h1M1368.9 268.6h1M1368.9 238.3h1M1368.2 221.0h1M1369.5 242.2h1M1368.9 293.7h1M1368.8 251.2h1M1369.7 277.9h1M1368.6 257.4h1M1368.8 250.7h1M1367.5 271.0h1M1369.3 264.5h1M1369.0 240.8h1M1369.2 272.6h1M1369.3 265.8h1M1368.5 257.2h1M1367.8 268.4h1M1368.7 236.1h1M1368.5 278.6h1M1368.8 247.6h1M1368.1 252.0h1M1369.1 258.5h1M1370.0 250.8h1M1370.0 244.3h1M1368.4 262.6h1M1367.8 236.3h1M1368.8 247.1h1M1368.0 276.9h1M1370.5 254.2h1M1368.5 276.3h1M1369.2 258.3h1M1368.8 261.0h1M1367.9 221.4h1M1368.2 228.3h1M1369.3 254.6h1M1368.9 229.4h1M1368.9 225.1h1M1368.5 284.2h1M1368.5 260.7h1M1369.9 265.9h1M1369.6 211.5h1M1368.7 267.9h1M1368.4 280.0h1M1369.1 283.8h1M1367.5 200.8h1M1368.6 235.6h1M1368.5 243.7h1M1368.8 254.5h1M1368.0 258.8h1M1368.4 236.8h1M1368.4 229.3h1M1370.2 267.1h1M1368.7 264.9h1M1368.0 227.0h1M1369.4 240.0h1M1368.1 232.6h1M1368.3 230.5h1M1368.9 267.0h1M1368.8 266.6h1M1368.9 274.6h1M1368.3 244.0h1M1368.8 235.3h1M1368.5 242.6h1M1369.1 250.2h1M1367.8 242.5h1M1368.4 198.0h1M1368.2 244.3h1M1369.1 241.4h1M1370.1 263.7h1M1368.6 244.9h1M1368.3 246.0h1M1368.9 229.1h1M1369.3 251.3h1M1369.8 237.7h1M1369.0 263.6h1M1369.1 257.7h1M1368.6 268.6h1M1367.4 261.8h1M1368.6 266.2h1M1368.5 268.7h1M1368.8 260.5h1M1369.0 264.0h1M1368.3 276.3h1M1368.1 279.4h1M1367.8 220.8h1M1368.1 242.6h1M1369.4 242.2h1M1367.5 242.8h1M1368.1 241.8h1M1368.8 243.3h1M1369.2 250.5h1M1369.3 216.3h1M1369.1 235.7h1M1369.5 222.2h1M1368.0 266.2h1M1369.0 253.3h1M1369.3 266.1h1M1368.5 242.3h1M1368.6 268.7h1M1369.3 255.8h1M1367.9 263.7h1M1369.4 234.0h1M1369.9 236.4h1M1369.2 244.1h1M1369.1 247.3h1M1369.9 268.7h1M1367.8 179.6h1M1368.5 238.2h1M1368.5 241.2h1M1368.6 242.4h1M1368.0 251.7h1M1369.1 273.2h1M1370.0 260.9h1M1368.1 224.6h1M1368.8 255.6h1M1367.4 229.8h1M1370.2 263.3h1M1369.8 281.9h1M1368.3 261.7h1M1369.2 248.4h1M1368.6 269.4h1M1369.6 227.6h1M1368.8 246.5h1M1369.0 279.9h1M1370.0 246.6h1M1367.5 235.9h1M1369.4 270.5h1M1368.4 252.3h1M1369.0 276.8h1M1368.8 256.1h1M1368.6 248.4h1M1368.1 283.2h1M1367.8 290.0h1M1368.6 270.3h1M1367.9 258.6h1M1369.5 276.7h1M1369.1 254.2h1M1369.2 246.9h1M1369.3 268.2h1M1368.7 277.7h1M1368.5 286.9h1M1368.8 272.0h1M1369.1 253.1h1M1369.0 233.8h1M1369.5 228.2h1M1368.3 268.9h1M1368.5 259.2h1M1369.8 258.0h1M1369.0 254.4h1M1369.1 243.3h1M1369.0 234.4h1M1367.8 268.6h1M1369.0 258.4h1M1368.8 238.3h1M1368.6 247.6h1M1368.3 233.4h1M1368.9 248.7h1M1368.7 259.9h1M1368.8 254.7h1M1369.2 276.4h1M1368.2 263.6h1M1368.3 269.3h1M1368.7 278.8h1M1368.9 276.1h1M1367.5 293.0h1M1368.6 216.5h1M1369.2 259.1h1M1369.1 272.4h1M1368.9 278.6h1M1368.0 270.6h1M1369.0 255.2h1M1368.2 263.7h1M1367.4 247.6h1M1368.3 257.1h1M1368.2 249.7h1M1369.2 279.6h1M1368.9 246.5h1M1368.7 273.4h1M1369.5 252.3h1M1368.7 273.2h1M1370.2 234.4h1M1368.8 247.6h1M1369.7 249.9h1M1369.4 267.0h1M1369.6 234.9h1M1369.4 240.7h1M1367.6 275.3h1M1368.5 247.1h1M1369.3 264.8h1M1368.5 292.9h1M1370.8 237.3h1M1367.9 266.2h1M1367.5 253.2h1M1368.7 235.1h1M1369.0 235.5h1M1369.9 241.2h1M1369.1 226.2h1M1368.5 274.6h1M1369.1 273.2h1M1368.2 243.8h1M1368.9 230.7h1M1369.8 211.8h1M1367.6 268.2h1M1368.9 252.2h1M1369.3 230.9h1M1368.5 254.2h1M1368.2 272.3h1M1368.7 258.1h1M1368.9 286.3h1M1369.4 288.8h1M1368.6 212.9h1M1367.8 249.2h1M1368.7 261.9h1M1369.3 264.6h1M1368.0 244.1h1M1368.4 255.9h1M1368.2 279.6h1M1368.7 222.4h1M1368.4 274.9h1M1369.8 266.4h1M1368.6 223.4h1M1369.4 277.5h1M1368.4 222.0h1M1369.0 256.2h1M1367.5 237.1h1M1368.8 253.9h1M1368.4 285.7h1M1367.4 263.0h1M1380.2 185.6h1M1380.5 120.9h1M1381.5 132.1h1M1381.1 116.5h1M1381.1 172.2h1M1380.5 119.4h1M1381.2 145.4h1M1381.5 126.2h1M1381.6 145.6h1M1382.0 160.3h1M1380.6 164.5h1M1380.1 149.4h1M1380.6 153.4h1M1380.5 156.8h1M1380.5 131.8h1M1381.8 146.1h1M1380.7 154.6h1M1380.7 140.8h1M1380.5 167.3h1M1380.3 162.9h1M1380.9 168.1h1M1381.4 162.2h1M1380.3 166.1h1M1380.4 169.1h1M1381.1 158.2h1M1380.4 165.5h1M1381.4 167.1h1M1380.6 147.2h1M1381.1 169.2h1M1380.6 219.6h1M1380.7 144.7h1M1380.7 154.9h1M1382.1 105.2h1M1379.4 135.7h1M1381.1 140.8h1M1380.5 124.8h1M1380.8 154.5h1M1381.4 142.2h1M1381.4 172.9h1M1382.4 187.1h1M1380.4 172.5h1M1381.6 122.5h1M1379.6 154.6h1M1381.9 172.3h1M1381.0 207.5h1M1381.6 159.6h1M1381.8 145.2h1M1381.1 145.2h1M1380.9 142.5h1M1381.5 159.5h1M1379.8 164.4h1M1380.3 144.9h1M1381.2 124.8h1M1381.2 143.0h1M1381.1 145.4h1M1381.8 164.8h1M1381.7 164.3h1M1380.9 167.4h1M1381.0 109.1h1M1380.9 171.2h1M1381.9 161.4h1M1379.6 125.6h1M1380.8 176.8h1M1381.0 153.5h1M1380.9 176.7h1M1380.8 124.0h1M1381.8 90.3h1M1381.3 139.6h1M1381.3 109.3h1M1380.8 136.0h1M1380.8 165.8h1M1379.9 158.9h1M1380.7 163.3h1M1381.0 164.6h1M1381.5 136.1h1M1382.3 130.6h1M1380.2 161.8h1M1380.8 153.3h1M1381.8 153.1h1M1380.8 144.7h1M1380.5 128.3h1M1381.7 181.9h1M1380.6 161.4h1M1381.6 115.3h1M1381.1 146.0h1M1380.5 151.1h1M1380.8 172.2h1M1381.2 168.5h1M1380.5 161.9h1M1380.5 166.8h1M1380.7 207.9h1M1381.7 159.1h1M1381.0 156.0h1M1381.3 149.1h1M1381.0 223.2h1M1382.0 187.9h1M1381.6 116.6h1M1381.0 147.2h1M1380.9 183.1h1M1381.1 193.0h1M1380.9 131.8h1M1381.8 134.8h1M1380.6 144.1h1M1380.6 152.3h1M1380.3 140.7h1M1381.1 121.6h1M1381.6 157.1h1M1380.1 137.6h1M1380.7 164.3h1M1381.0 157.8h1M1381.3 150.8h1M1380.8 164.4h1M1381.2 170.1h1M1380.9 177.4h1M1381.4 142.8h1M1381.4 136.4h1M1380.8 167.8h1M1380.6 148.2h1M1382.0 161.2h1M1380.5 126.7h1M1380.5 191.5h1M1380.9 167.9h1M1381.5 166.3h1M1380.1 139.3h1M1380.9 155.7h1M1381.7 152.2h1M1381.1 172.0h1M1382.0 187.6h1M1381.3 168.1h1M1379.9 145.4h1M1380.8 178.4h1M1381.6 147.1h1M1380.3 142.3h1M1380.8 140.2h1M1380.6 163.6h1M1380.2 201.3h1M1380.9 192.6h1M1379.8 143.4h1M1381.3 169.4h1M1380.1 138.8h1M1381.4 154.3h1M1382.3 159.0h1M1381.6 150.8h1M1380.9 155.4h1M1381.1 162.9h1M1380.9 115.4h1M1380.0 125.2h1M1380.2 162.7h1M1380.2 164.6h1M1382.2 138.8h1M1381.4 195.6h1M1381.5 179.4h1M1382.2 156.8h1M1380.7 142.5h1M1380.2 123.9h1M1380.3 142.2h1M1381.7 149.4h1M1380.9 152.7h1M1382.2 156.0h1M1380.6 157.4h1M1380.9 147.6h1M1380.8 95.0h1M1380.6 172.8h1M1380.7 108.2h1M1381.0 126.2h1M1381.7 178.7h1M1381.8 177.8h1M1381.2 158.0h1M1381.9 141.7h1M1381.0 141.1h1M1380.1 161.4h1M1381.9 132.5h1M1380.9 171.6h1M1382.7 160.8h1M1381.3 112.7h1M1382.3 193.0h1M1381.0 150.0h1M1380.9 172.7h1M1380.9 162.8h1M1380.3 171.1h1M1382.1 143.3h1M1380.7 156.6h1M1380.0 164.3h1M1381.4 147.3h1M1381.2 161.1h1M1380.6 176.4h1M1380.9 132.4h1M1380.8 175.1h1M1381.2 196.3h1M1380.5 145.4h1M1381.1 187.4h1M1381.7 127.6h1M1382.1 161.2h1M1381.3 187.6h1M1381.7 125.5h1M1380.5 139.1h1M1381.2 195.4h1M1380.6 196.9h1M1381.3 161.2h1M1380.8 153.3h1M1380.8 131.5h1M1381.3 112.5h1M1381.4 131.4h1M1381.1 152.7h1M1381.8 158.6h1M1381.2 83.7h1M1381.4 172.0h1M1380.9 176.6h1M1381.6 132.8h1M1381.1 143.6h1M1381.7 161.2h1M1381.3 159.7h1M1380.7 154.3h1M1380.3 148.2h1M1380.5 124.3h1M1381.7 166.0h1M1380.3 142.4h1M1380.9 201.3h1M1381.3 149.5h1M1382.0 109.2h1M1380.3 151.6h1M1382.3 151.7h1M1381.6 186.5h1M1381.0 133.6h1M1380.4 148.2h1M1381.1 176.0h1M1380.4 155.9h1M1381.3 162.1h1M1380.0 153.5h1M1381.7 146.9h1M1404.5 278.4h1M1405.5 280.4h1M1405.4 270.8h1M1404.4 287.0h1M1405.1 271.4h1M1405.7 272.7h1M1405.1 262.6h1M1405.8 249.9h1M1404.9 281.7h1M1405.9 270.1h1M1404.9 295.1h1M1405.8 269.9h1M1405.5 290.7h1M1406.0 264.4h1M1404.5 287.6h1M1406.6 271.3h1M1405.4 289.3h1M1405.2 266.7h1M1405.9 267.6h1M1405.8 281.6h1M1404.8 288.4h1M1406.3 265.3h1M1404.7 278.8h1M1404.8 265.0h1M1405.2 291.8h1M1405.2 268.4h1M1404.5 260.4h1M1405.6 291.0h1M1405.7 280.2h1M1405.9 285.9h1M1405.3 285.2h1M1405.3 285.8h1M1404.8 263.7h1M1406.1 259.7h1M1405.1 275.3h1M1404.6 275.6h1M1404.5 285.3h1M1405.5 286.7h1M1405.0 284.9h1M1405.5 268.0h1M1405.4 268.5h1M1405.3 277.8h1M1405.3 283.3h1M1404.9 266.6h1M1404.9 293.5h1M1405.4 274.4h1M1404.9 286.7h1M1404.2 290.6h1M1405.2 288.6h1M1403.9 287.6h1M1405.6 282.3h1M1405.9 280.4h1M1404.9 286.3h1M1405.4 275.3h1M1406.0 282.1h1M1404.9 277.4h1M1404.8 287.8h1M1405.6 275.0h1M1405.8 279.2h1M1405.0 287.2h1M1404.6 286.5h1M1404.6 279.7h1M1405.6 259.2h1M1405.6 283.9h1M1404.9 268.9h1M1404.9 276.2h1M1405.0 274.1h1M1405.0 266.4h1M1405.0 252.1h1M1406.7 265.2h1M1406.5 278.1h1M1405.2 290.7h1M1406.8 273.0h1M1404.2 283.6h1M1405.8 279.6h1M1403.9 287.8h1M1405.6 284.6h1M1406.0 287.0h1M1405.5 288.5h1M1405.1 291.5h1M1405.8 291.5h1M1404.9 293.6h1M1405.3 292.6h1M1405.6 265.0h1M1405.5 271.9h1M1404.7 295.3h1M1405.7 264.3h1M1405.5 289.1h1M1406.4 279.8h1M1404.5 285.4h1M1406.2 285.3h1M1405.1 274.9h1M1405.5 274.6h1M1403.9 286.7h1M1405.8 273.5h1M1406.1 285.0h1M1405.7 276.9h1M1404.7 290.8h1M1404.4 241.2h1M1406.4 295.1h1M1404.5 277.1h1M1405.1 272.0h1M1404.7 259.4h1M1406.0 279.8h1M1405.6 292.2h1M1405.4 292.1h1M1405.8 275.2h1M1406.9 285.4h1M1404.6 293.6h1M1405.3 273.7h1M1405.7 286.2h1M1405.7 293.6h1M1405.5 284.4h1M1404.8 242.1h1M1405.7 268.8h1M1405.5 279.7h1M1405.8 260.2h1M1405.3 277.8h1M1406.4 267.3h1M1406.1 268.4h1M1405.9 274.8h1M1405.7 267.5h1M1405.3 282.2h1M1405.6 264.7h1M1406.7 293.9h1M1404.6 288.7h1M1403.8 291.9h1M1404.8 275.2h1M1404.3 292.3h1M1406.0 276.8h1M1404.9 279.6h1M1404.0 278.3h1M1404.4 293.9h1M1405.8 287.7h1M1406.0 284.6h1M1406.0 288.8h1M1405.5 260.4h1M1404.5 277.0h1M1404.6 271.1h1M1404.9 274.0h1M1406.3 281.5h1M1404.4 275.6h1M1405.5 287.6h1M1405.3 261.6h1M1405.1 292.6h1M1405.6 290.8h1M1405.0 272.7h1M1406.8 276.1h1M1405.3 284.3h1M1405.3 284.4h1M1417.5 264.6h1M1417.7 232.9h1M1418.0 230.1h1M1440.9 255.6h1M1441.4 266.4h1M1442.0 292.4h1M1440.4 229.1h1M1441.5 238.4h1M1441.5 291.6h1M1442.2 266.7h1M1442.8 269.6h1M1442.1 233.6h1M1441.8 275.9h1M1441.1 239.0h1M1441.9 275.3h1M1441.0 267.7h1M1442.4 294.2h1M1441.3 272.4h1M1442.2 282.8h1M1441.4 274.3h1M1441.5 237.9h1M1441.5 276.1h1M1442.6 279.1h1M1442.5 243.9h1M1442.1 264.4h1M1441.5 266.9h1M1441.0 268.8h1M1442.1 275.8h1M1442.5 254.1h1M1442.5 285.6h1M1442.5 260.0h1M1442.2 270.7h1M1442.3 276.0h1M1442.4 265.7h1M1442.0 265.3h1M1441.5 251.2h1M1441.9 276.4h1M1441.2 242.2h1M1440.6 240.7h1M1441.5 271.2h1M1441.2 260.8h1M1442.0 268.3h1M1442.1 246.4h1M1441.6 276.9h1M1441.5 282.9h1M1442.4 255.8h1M1442.1 273.5h1M1441.7 276.0h1M1441.6 293.7h1M1442.0 242.3h1M1442.3 249.2h1M1442.6 280.8h1M1441.9 260.7h1M1441.3 281.3h1M1442.6 279.6h1M1441.7 277.0h1M1441.8 267.9h1M1440.1 246.8h1M1441.1 271.6h1M1441.2 271.2h1M1442.4 245.8h1M1441.4 265.4h1M1441.6 271.8h1M1441.4 240.4h1M1441.4 289.5h1M1441.1 278.4h1M1440.9 261.8h1M1441.3 245.0h1M1442.1 269.4h1M1443.4 257.4h1M1441.5 252.0h1M1441.5 278.1h1M1441.6 271.8h1M1442.3 248.3h1M1442.6 275.5h1M1441.0 253.5h1M1441.7 264.4h1M1442.1 216.4h1M1440.2 232.5h1M1441.7 263.4h1M1441.2 261.4h1M1441.1 264.3h1M1442.0 262.4h1M1441.7 276.0h1M1442.1 251.3h1M1442.4 252.1h1M1441.5 256.3h1M1441.0 219.9h1M1441.6 269.1h1M1441.6 268.3h1M1442.2 251.7h1M1441.3 262.4h1M1441.9 240.8h1M1442.4 225.2h1M1441.8 237.1h1M1442.3 250.4h1M1441.5 286.0h1M1441.9 268.2h1M1441.9 252.3h1M1442.1 291.4h1M1442.1 227.6h1M1441.4 275.2h1M1441.6 268.6h1M1441.5 291.9h1M1441.1 277.9h1M1440.4 276.7h1M1441.7 281.9h1M1441.7 265.2h1M1442.2 266.5h1M1442.1 255.9h1M1441.6 270.4h1M1441.2 266.3h1M1442.6 270.1h1M1454.3 188.5h1M1454.7 169.2h1M1454.0 240.2h1M1453.5 249.1h1M1453.3 177.9h1M1453.5 232.9h1M1453.4 169.9h1M1453.1 194.6h1M1453.5 263.5h1M1453.7 244.9h1M1454.6 152.2h1M1453.0 267.9h1M1453.5 226.4h1M1454.9 162.5h1M1454.3 263.9h1M1453.6 204.2h1M1454.8 221.2h1M1453.7 205.7h1M1455.1 189.1h1M1453.8 143.8h1M1454.2 194.1h1M1452.3 216.5h1M1453.9 241.9h1M1454.1 203.6h1M1454.4 143.7h1M1453.7 229.3h1M1454.0 293.6h1M1453.8 183.4h1M1454.7 180.3h1M1454.5 203.6h1M1454.0 166.6h1M1453.9 229.5h1M1454.1 192.8h1M1454.6 189.9h1M1454.0 212.2h1M1454.4 220.8h1M1454.4 231.1h1M1453.2 160.1h1M1454.2 177.2h1M1454.0 180.3h1M1453.2 152.1h1M1453.8 115.3h1M1453.7 220.2h1M1454.1 92.8h1M1455.0 193.8h1M1453.9 172.9h1M1454.0 188.9h1M1454.4 216.3h1M1454.7 184.7h1M1455.1 187.1h1M1453.1 251.0h1M1453.2 209.4h1M1452.9 197.9h1M1453.9 185.2h1M1454.4 284.0h1M1454.1 195.6h1M1454.1 270.0h1M1454.1 145.7h1M1453.0 160.8h1M1453.0 198.0h1M1454.5 292.6h1M1454.0 188.2h1M1453.8 238.6h1M1453.4 275.5h1M1452.9 134.5h1M1453.8 248.8h1M1454.3 187.9h1M1452.7 165.8h1M1454.0 219.4h1M1453.9 101.4h1M1454.3 215.5h1M1454.2 161.3h1M1454.3 173.2h1M1452.4 158.3h1M1453.8 244.2h1M1454.8 174.9h1M1454.4 182.0h1M1453.9 207.2h1M1454.5 153.0h1M1453.8 267.2h1M1453.7 193.0h1M1454.2 227.1h1M1454.0 199.7h1M1453.7 285.0h1M1455.2 204.8h1M1454.6 153.5h1M1454.3 154.5h1M1454.9 216.2h1M1452.8 190.9h1M1454.8 257.1h1M1454.0 207.3h1M1453.6 102.7h1M1452.3 201.4h1M1454.0 249.7h1M1454.5 269.2h1M1454.3 260.7h1M1454.1 199.3h1M1453.0 273.2h1M1454.1 153.4h1M1453.9 173.2h1M1453.6 280.7h1M1453.3 169.9h1M1454.6 220.0h1M1454.4 265.7h1M1454.3 193.3h1M1453.6 257.0h1M1453.8 195.6h1M1453.6 177.4h1M1454.7 162.9h1M1453.3 200.3h1M1454.2 267.6h1M1454.3 205.5h1M1453.5 157.6h1M1453.6 160.2h1M1454.9 206.2h1M1455.2 102.6h1M1455.9 183.9h1M1453.3 247.6h1M1455.5 225.7h1M1454.2 241.4h1M1454.5 169.7h1M1454.7 289.4h1M1452.9 187.0h1M1453.6 222.1h1M1454.5 201.6h1M1453.4 175.0h1M1454.4 236.3h1M1454.7 177.6h1M1454.4 265.6h1M1454.4 192.7h1M1453.2 233.6h1M1454.8 247.8h1M1454.3 205.7h1M1452.8 163.1h1M1453.3 187.5h1M1455.2 228.0h1M1454.3 196.8h1M1454.1 192.3h1M1454.4 221.8h1M1452.9 207.2h1M1454.9 247.0h1M1455.4 175.8h1M1453.3 186.6h1M1453.8 197.1h1M1453.7 211.4h1M1454.2 207.8h1M1454.0 175.7h1M1454.9 228.9h1M1453.6 216.2h1M1453.7 187.4h1M1454.7 176.5h1M1454.4 160.0h1M1453.8 200.7h1M1454.2 193.0h1M1454.3 234.6h1M1453.7 199.5h1M1454.7 178.2h1M1455.8 175.8h1M1454.3 261.2h1M1453.9 224.1h1M1453.2 226.6h1M1453.8 200.5h1M1453.6 291.2h1M1454.6 203.2h1M1454.2 215.6h1M1454.1 226.2h1M1454.1 139.8h1M1453.4 293.9h1M1453.7 232.6h1M1453.6 198.0h1M1454.4 251.0h1M1453.7 231.6h1M1453.3 179.4h1M1453.6 229.4h1M1453.5 213.7h1M1454.6 225.8h1M1454.7 228.1h1M1454.4 191.4h1M1454.2 222.7h1M1453.3 151.1h1M1454.7 166.8h1M1452.9 239.5h1M1454.3 180.0h1M1454.4 188.8h1M1453.7 198.4h1M1453.3 246.0h1M1454.9 99.7h1M1454.7 235.3h1M1454.1 245.7h1M1453.6 192.5h1M1454.6 216.4h1M1455.0 262.8h1M1453.8 194.6h1M1454.3 147.4h1M1454.1 249.7h1M1454.3 231.0h1M1453.5 158.2h1M1452.8 214.9h1M1454.6 171.6h1M1454.1 246.9h1M1478.7 273.8h1M1478.3 269.0h1M1478.3 282.9h1M1479.2 286.2h1M1478.9 292.4h1M1478.3 239.4h1M1478.0 292.5h1M1478.6 286.6h1M1477.6 257.1h1M1478.2 263.8h1M1477.2 234.1h1M1476.9 280.9h1M1477.5 242.5h1M1477.0 284.1h1M1477.6 266.9h1M1479.0 262.5h1M1479.4 258.8h1M1478.2 265.6h1M1478.8 288.1h1M1478.0 274.9h1M1479.2 281.9h1M1478.4 276.7h1M1478.1 271.6h1M1478.6 288.0h1M1478.1 257.8h1M1479.7 245.2h1M1478.0 261.6h1M1479.2 285.9h1M1478.5 290.8h1M1479.3 291.9h1M1479.4 276.6h1M1478.1 281.5h1M1478.4 295.3h1M1479.1 263.3h1M1478.1 288.8h1M1477.4 284.9h1M1478.1 290.3h1M1478.6 290.7h1M1479.4 260.4h1M1477.7 275.4h1M1478.1 268.2h1M1478.0 291.5h1M1478.1 291.8h1M1477.8 290.2h1M1478.9 259.6h1M1478.7 257.7h1M1479.3 285.6h1M1478.6 253.6h1M1477.2 294.3h1M1478.7 283.8h1M1479.0 279.7h1M1478.1 278.4h1M1478.5 258.2h1M1477.9 284.8h1M1479.3 244.1h1M1478.1 292.5h1M1478.5 278.0h1M1478.2 271.2h1M1478.6 273.1h1M1478.4 287.1h1M1478.2 281.1h1M1478.4 280.1h1M1477.5 285.2h1M1479.3 288.1h1M1478.4 273.0h1M1478.1 274.2h1M1478.0 261.3h1M1478.2 281.9h1M1478.2 293.1h1M1478.1 282.9h1M1479.0 258.2h1M1479.1 278.5h1M1478.4 260.8h1M1477.7 280.7h1M1477.0 279.1h1M1478.7 294.0h1M1479.4 267.9h1M1476.9 263.9h1M1477.8 284.6h1M1479.1 294.0h1M1477.9 258.6h1M1477.5 291.8h1M1478.3 255.4h1M1478.7 292.7h1M1478.8 288.7h1M1478.6 271.7h1M1477.2 267.2h1M1477.9 265.3h1M1478.6 259.1h1M1478.6 278.9h1M1477.4 285.6h1M1478.1 286.6h1M1477.7 269.8h1M1478.7 281.6h1M1478.7 268.3h1M1479.0 269.9h1M1477.9 234.9h1M1478.9 268.5h1M1477.9 283.1h1M1477.8 255.2h1M1479.4 270.6h1M1479.5 276.6h1M1478.3 282.3h1M1478.7 278.4h1M1478.1 261.8h1M1479.1 284.9h1M1477.9 258.1h1M1477.6 272.2h1M1477.6 282.9h1M1478.6 281.6h1M1478.6 270.8h1M1479.6 253.7h1M1476.6 244.7h1M1476.8 280.0h1M1477.6 293.4h1M1477.2 284.4h1M1477.5 271.3h1M1479.1 287.6h1M1477.3 277.2h1M1478.7 269.0h1M1478.5 249.2h1M1478.8 273.4h1M1476.8 285.7h1M1478.9 243.8h1M1477.8 250.3h1M1478.6 285.4h1M1479.5 285.2h1M1480.7 247.4h1M1479.1 291.9h1M1479.0 291.6h1M1478.9 287.4h1M1479.2 258.6h1M1477.7 283.4h1M1478.6 280.5h1M1478.7 279.6h1M1478.3 293.3h1M1478.6 293.9h1M1477.4 294.3h1M1478.1 242.8h1M1478.4 281.6h1M1479.4 271.4h1M1477.5 274.8h1M1477.2 268.6h1M1477.6 282.0h1M1478.6 269.1h1M1478.6 251.9h1M1478.5 267.2h1M1478.2 283.2h1M1478.2 276.4h1M1478.2 281.4h1M1478.5 260.4h1M1478.1 270.7h1M1478.9 262.4h1M1479.2 231.3h1M1478.4 283.6h1M1478.9 276.4h1M1479.0 230.1h1M1478.4 248.5h1M1479.1 287.4h1M1478.9 265.0h1M1479.5 291.9h1M1477.9 289.0h1M1478.7 287.7h1M1479.1 261.4h1M1478.7 262.3h1M1477.6 230.2h1M1479.3 283.1h1M1477.9 280.1h1M1478.7 235.6h1M1478.5 282.2h1M1479.0 274.7h1M1478.3 271.9h1M1478.8 283.3h1M1478.3 282.2h1M1478.7 290.7h1M1478.8 279.4h1M1479.3 258.0h1M1478.7 283.0h1M1478.7 292.2h1M1478.7 266.6h1M1477.6 280.2h1M1478.2 262.9h1M1478.5 236.4h1M1477.4 292.9h1M1479.4 291.5h1M1478.3 268.5h1M1477.4 291.2h1M1478.6 291.2h1M1478.0 274.8h1M1478.1 269.0h1M1478.0 267.6h1M1478.0 287.5h1M1479.1 277.8h1M1478.2 289.8h1M1477.8 282.7h1M1478.6 287.9h1M1478.0 262.9h1M1480.0 295.2h1M1478.3 253.1h1M1478.9 282.4h1M1478.6 284.9h1M1478.2 280.8h1M1479.0 280.1h1M1477.7 285.6h1M1478.7 292.7h1M1478.2 257.4h1M1477.9 269.3h1M1478.4 285.2h1M1478.7 280.9h1M1478.0 257.5h1M1477.8 284.7h1M1478.1 286.9h1M1478.1 287.1h1M1478.2 255.8h1M1478.3 281.6h1M1479.4 290.8h1M1479.2 249.8h1M1479.0 272.7h1M1478.0 266.9h1M1479.3 290.9h1M1478.2 292.7h1M1478.0 285.8h1M1479.3 264.3h1M1479.0 260.7h1M1478.2 258.9h1M1478.2 261.5h1M1478.5 223.9h1M1478.7 245.1h1M1478.0 288.4h1M1477.5 276.7h1M1478.6 281.7h1M1477.4 256.3h1M1478.5 275.6h1M1478.2 278.6h1M1477.8 286.7h1M1478.2 235.1h1M1479.2 271.4h1M1478.7 292.2h1M1478.3 226.3h1M1478.6 261.4h1M1477.8 291.4h1M1478.6 258.7h1M1478.7 291.9h1M1477.4 286.0h1M1478.4 216.8h1M1478.1 266.2h1M1477.5 283.5h1M1477.8 275.2h1M1478.5 284.4h1M1477.5 294.8h1M1478.4 283.7h1M1478.3 279.2h1M1478.6 245.0h1M1478.4 259.8h1M1478.8 279.3h1M1478.0 261.1h1M1477.6 247.7h1M1477.7 256.4h1M1478.2 271.5h1M1478.4 281.0h1M1478.6 271.5h1M1477.1 274.0h1M1478.1 265.1h1M1478.8 290.2h1M1477.8 248.6h1M1478.8 276.7h1M1477.4 292.4h1M1478.5 267.2h1M1478.1 257.2h1M1477.7 268.1h1M1477.4 274.3h1M1479.8 283.5h1M1477.6 258.9h1M1478.1 274.0h1M1478.4 291.6h1M1478.6 262.7h1M1477.6 282.8h1M1477.7 283.9h1M1479.1 294.5h1M1478.8 278.6h1M1477.9 283.1h1M1477.3 237.3h1M1478.2 272.4h1M1479.3 212.9h1M1478.6 290.7h1M1478.6 266.5h1M1477.9 286.3h1M1478.5 286.7h1M1477.7 284.0h1M1478.3 266.1h1M1477.3 256.2h1M1478.3 264.3h1M1477.7 261.5h1M1478.6 265.4h1M1477.9 275.2h1M1478.7 293.8h1M1477.3 276.8h1M1477.8 281.6h1M1478.8 271.9h1M1478.6 263.9h1M1491.2 224.5h1M1490.1 183.3h1M1491.2 134.2h1M1489.1 208.4h1M1490.7 194.2h1M1490.2 200.3h1M1490.7 178.9h1M1489.3 259.1h1M1490.7 200.6h1M1490.5 200.2h1M1490.3 245.7h1M1490.5 219.3h1M1488.8 236.9h1M1491.1 198.7h1M1490.7 232.3h1M1490.7 124.3h1M1490.4 165.0h1M1489.9 167.7h1M1490.6 142.7h1M1490.7 158.4h1M1488.7 162.8h1M1491.5 164.5h1M1490.1 140.1h1M1490.8 193.4h1M1489.1 162.4h1M1489.6 150.3h1M1490.1 206.6h1M1489.4 222.0h1M1490.0 260.0h1M1491.2 199.7h1M1490.8 189.1h1M1489.7 205.7h1M1490.8 195.5h1M1490.5 189.5h1M1490.3 211.5h1M1491.4 243.2h1M1489.6 174.1h1M1490.0 216.7h1M1491.5 181.0h1M1490.0 171.7h1M1490.3 208.4h1M1489.8 95.3h1M1490.6 181.5h1M1490.6 157.9h1M1489.8 211.1h1M1491.0 214.0h1M1490.1 238.4h1M1490.6 292.4h1M1490.0 173.4h1M1490.1 211.2h1M1490.5 236.2h1M1491.3 178.1h1M1490.6 215.1h1M1490.7 124.2h1M1490.3 234.1h1M1490.5 183.3h1M1490.4 132.0h1M1490.5 151.2h1M1490.6 186.3h1M1489.7 180.0h1M1490.1 186.0h1M1490.7 253.1h1M1491.9 219.8h1M1489.5 195.7h1M1491.7 161.7h1M1490.4 238.8h1M1489.9 163.0h1M1491.4 77.5h1M1491.0 265.2h1M1490.1 144.6h1M1491.9 231.8h1M1490.3 202.7h1M1490.2 210.1h1M1490.6 231.9h1M1490.7 136.1h1M1490.5 242.7h1M1490.4 168.7h1M1489.5 244.1h1M1490.5 234.8h1M1491.4 211.1h1M1491.0 154.2h1M1490.4 219.2h1M1489.7 226.7h1M1489.9 181.8h1M1490.0 263.7h1M1489.8 231.6h1M1490.1 142.7h1M1491.0 272.9h1M1491.0 231.2h1M1490.4 233.1h1M1489.0 179.9h1M1490.5 235.1h1M1490.5 182.6h1M1490.3 179.1h1M1489.6 180.5h1M1491.7 243.7h1M1490.2 200.3h1M1489.6 199.9h1M1490.4 205.5h1M1490.6 174.5h1M1490.5 220.3h1M1490.9 180.0h1M1490.9 116.0h1M1491.0 124.9h1M1489.9 213.7h1M1489.6 209.1h1M1489.8 162.6h1M1491.3 141.9h1M1489.9 197.1h1M1490.9 204.0h1M1491.2 165.8h1M1490.7 255.7h1M1490.6 251.5h1M1491.0 136.4h1M1490.6 202.7h1M1490.7 233.0h1M1490.4 221.9h1M1490.7 172.5h1M1490.0 259.0h1M1491.0 269.7h1M1490.8 239.1h1M1490.5 223.7h1M1489.8 209.1h1M1490.7 213.6h1M1490.4 219.2h1M1491.0 186.4h1M1490.2 171.3h1M1490.7 195.0h1M1490.3 162.0h1M1490.3 221.1h1M1490.1 190.6h1M1490.1 228.8h1M1490.6 136.8h1M1489.9 215.4h1M1490.2 210.1h1M1488.7 212.9h1M1491.4 138.1h1M1491.2 215.0h1M1489.4 229.8h1M1491.9 190.2h1M1490.3 184.0h1M1489.8 200.5h1M1490.1 186.2h1M1491.0 240.8h1M1489.9 199.5h1M1491.1 197.8h1M1491.0 204.4h1M1490.8 188.6h1M1490.3 212.9h1M1489.7 199.1h1M1491.1 193.7h1M1490.6 179.1h1M1490.8 144.8h1M1490.2 152.3h1M1490.3 216.0h1M1490.6 176.1h1M1489.6 167.4h1M1491.3 227.2h1M1490.7 193.6h1M1489.7 164.0h1M1490.2 93.0h1M1490.6 109.3h1M1489.1 202.7h1M1490.5 186.1h1M1491.0 219.0h1M1490.4 174.9h1M1490.9 190.2h1M1490.3 186.5h1M1489.7 153.5h1M1490.5 258.7h1M1491.0 177.5h1M1490.9 219.8h1M1491.5 187.9h1M1490.5 155.7h1M1489.8 223.1h1M1491.4 225.5h1M1490.0 189.0h1M1490.1 206.2h1M1490.6 189.4h1M1490.6 277.5h1M1491.3 201.3h1M1490.5 189.9h1M1490.9 210.1h1M1490.8 90.0h1M1490.5 229.0h1M1489.9 192.0h1M1489.9 97.4h1M1490.7 85.1h1M1490.9 222.1h1M1490.7 119.0h1M1490.5 229.2h1M1491.3 239.2h1M1490.7 174.7h1M1491.1 170.1h1M1490.6 165.8h1M1490.4 166.6h1M1491.0 229.2h1M1490.0 215.7h1M1490.1 239.6h1M1490.2 253.6h1M1489.8 188.3h1M1489.3 129.0h1M1490.7 111.5h1M1490.1 193.2h1M1490.6 193.0h1M1490.5 278.7h1M1490.2 274.4h1M1490.5 156.4h1M1490.3 173.1h1M1490.6 226.7h1M1490.1 176.0h1M1489.7 206.2h1M1489.6 245.9h1M1490.4 233.2h1M1491.6 188.7h1M1490.7 225.0h1M1491.1 215.7h1M1490.4 248.6h1M1491.0 185.8h1M1490.7 172.1h1M1490.2 167.5h1M1490.3 86.7h1M1490.3 171.2h1M1490.4 119.7h1M1490.1 165.4h1M1491.1 213.5h1M1490.5 196.7h1M1490.6 194.7h1M1491.3 156.9h1M1490.6 189.8h1M1490.0 148.1h1M1490.2 216.3h1M1490.5 239.9h1M1490.7 269.8h1M1490.3 183.3h1M1491.0 207.5h1M1490.6 164.2h1M1490.5 215.3h1M1491.7 279.0h1M1490.3 231.4h1M1491.3 180.1h1M1490.8 181.7h1M1490.8 153.2h1M1489.7 194.5h1M1491.1 159.2h1M1490.5 201.4h1M1490.1 181.7h1M1490.9 151.9h1M1489.7 135.7h1M1490.2 192.6h1M1490.6 234.5h1M1490.6 194.9h1M1490.6 196.0h1M1489.6 219.1h1M1490.3 198.2h1M1490.4 190.6h1M1491.1 193.5h1M1489.8 262.8h1M1490.0 177.6h1M1490.0 217.1h1M1490.6 205.8h1M1489.6 249.0h1M1491.0 219.1h1M1489.5 229.4h1M1490.8 210.4h1M1490.6 167.0h1M1491.1 190.6h1M1490.2 227.2h1M1490.5 204.6h1M1489.4 223.9h1M1490.6 156.3h1M1490.9 272.8h1M1490.2 268.1h1M1490.1 245.1h1M1490.8 220.9h1M1490.2 212.5h1M1489.6 149.8h1M1491.1 235.4h1M1490.3 128.2h1M1490.5 184.0h1M1490.9 222.4h1M1490.8 224.5h1M1490.7 195.5h1M1489.5 170.7h1M1490.7 220.4h1M1490.1 200.8h1M1490.1 173.9h1M1489.6 204.1h1M1490.5 168.2h1M1491.2 185.2h1M1490.8 214.2h1M1489.7 224.1h1M1491.0 235.6h1M1490.1 181.0h1M1491.4 253.3h1M1491.6 175.0h1M1491.4 239.3h1M1490.9 166.7h1M1491.2 228.9h1M1490.3 265.5h1M1491.6 276.4h1M1490.7 242.5h1M1491.0 210.6h1M1490.4 240.0h1M1491.3 189.7h1M1490.4 251.5h1M1490.4 211.2h1M1489.8 177.1h1M1490.9 196.1h1M1489.4 139.6h1M1490.4 153.7h1M1490.1 273.5h1M1490.9 163.8h1M1491.4 149.2h1M1489.9 224.0h1M1490.6 180.0h1M1489.9 170.1h1M1490.5 239.5h1M1489.8 292.4h1M1490.3 210.5h1M1489.8 170.1h1M1491.3 185.6h1M1490.2 206.4h1M1489.8 154.2h1M1490.7 189.2h1M1489.9 203.9h1M1491.0 197.5h1M1489.7 214.3h1M1490.2 173.6h1M1490.5 199.4h1M1490.4 234.7h1M1490.7 207.9h1M1491.3 230.6h1M1489.2 154.9h1M1490.8 147.8h1M1490.3 221.9h1M1491.4 199.9h1M1491.0 234.5h1M1489.9 198.9h1M1490.1 221.9h1M1489.9 237.7h1M1490.9 218.5h1M1490.7 115.9h1M1490.4 177.2h1M1491.3 224.9h1M1490.7 258.0h1M1490.9 230.7h1M1491.0 172.4h1M1490.0 264.4h1M1491.4 210.0h1M1489.8 184.2h1M1489.5 190.6h1M1489.6 141.7h1M1490.4 197.5h1M1491.3 183.8h1M1489.7 103.8h1M1490.4 287.3h1M1490.1 216.8h1M1490.7 189.3h1M1489.1 231.4h1M1515.7 290.7h1M1514.9 243.5h1M1514.4 280.8h1M1513.8 283.7h1M1515.1 252.7h1M1515.0 295.0h1M1514.8 255.8h1M1515.1 246.5h1M1514.8 289.3h1M1515.2 279.9h1M1515.9 268.0h1M1514.3 261.7h1M1515.4 285.0h1M1515.4 289.3h1M1515.7 288.5h1M1514.8 273.5h1M1515.7 277.3h1M1515.4 294.4h1M1514.8 271.4h1M1515.6 284.7h1M1514.0 275.6h1M1515.7 283.4h1M1514.6 274.8h1M1514.9 275.7h1M1514.9 263.5h1M1514.3 285.0h1M1514.4 291.3h1M1514.9 275.5h1M1514.6 260.8h1M1515.2 281.7h1M1515.5 276.5h1M1515.0 247.5h1M1515.2 283.3h1M1514.3 288.6h1M1513.9 264.7h1M1515.4 279.4h1M1515.5 266.4h1M1514.0 283.7h1M1515.0 291.9h1M1515.5 268.5h1M1514.5 291.5h1M1514.7 291.2h1M1514.9 264.9h1M1514.0 291.0h1M1514.5 287.6h1M1515.0 284.8h1M1514.2 293.0h1M1515.3 292.5h1M1514.6 295.1h1M1514.1 290.1h1M1514.9 259.9h1M1515.2 288.1h1M1515.0 292.7h1M1514.6 287.3h1M1515.4 250.4h1M1515.8 285.1h1M1514.2 278.3h1M1514.6 278.3h1M1514.3 272.6h1M1515.1 292.7h1M1514.6 293.9h1M1515.5 281.2h1M1514.6 268.1h1M1515.0 274.0h1M1514.3 250.4h1M1514.5 286.5h1M1516.8 287.4h1M1514.9 283.8h1M1515.0 267.3h1M1514.3 294.4h1M1515.5 294.1h1M1514.4 277.2h1M1515.7 263.6h1M1514.8 291.9h1M1515.3 294.0h1M1515.3 280.2h1M1514.0 292.2h1M1514.1 285.0h1M1514.6 289.0h1M1515.0 276.9h1M1514.5 290.2h1M1515.0 241.1h1M1515.2 275.3h1M1515.6 277.2h1M1515.7 280.0h1M1514.6 270.1h1M1514.6 259.7h1M1515.5 243.6h1M1515.3 268.1h1M1514.7 293.3h1M1514.9 291.4h1M1514.9 288.8h1M1515.7 270.3h1M1514.5 266.7h1M1513.7 276.4h1M1514.2 262.9h1M1515.7 293.6h1M1514.3 258.4h1M1515.2 288.1h1M1514.2 288.2h1M1515.7 266.1h1M1514.5 255.2h1M1514.1 277.9h1M1516.0 287.8h1M1515.6 280.5h1M1515.7 283.1h1M1516.0 291.1h1M1514.0 242.1h1M1515.3 293.3h1M1514.6 272.5h1M1515.0 294.0h1M1514.0 267.3h1M1514.3 282.7h1M1513.6 289.5h1M1513.9 281.3h1M1515.1 292.1h1M1514.9 272.0h1M1515.5 294.3h1M1516.0 263.6h1M1516.5 243.2h1M1516.1 290.3h1M1514.4 293.7h1M1515.1 267.5h1M1515.5 273.5h1M1515.7 286.3h1M1514.2 293.5h1M1514.7 294.8h1M1515.5 286.0h1M1514.5 277.9h1M1514.0 292.2h1M1515.4 239.5h1M1514.9 274.7h1M1514.8 285.9h1M1514.6 266.7h1M1514.9 290.0h1M1515.5 293.6h1M1514.6 281.4h1M1515.0 270.0h1M1514.2 280.6h1M1514.7 276.5h1M1513.7 291.4h1M1514.9 289.4h1M1515.2 292.9h1M1514.3 285.7h1M1515.4 289.1h1M1514.7 290.1h1M1515.9 284.0h1M1514.6 265.4h1M1514.0 289.3h1M1513.1 263.5h1M1515.5 281.7h1M1515.1 289.2h1M1515.0 285.6h1M1515.1 293.7h1M1515.6 260.7h1M1514.7 286.5h1M1515.4 295.2h1M1514.7 269.6h1M1516.1 279.6h1M1514.5 275.3h1M1514.7 287.4h1M1514.7 280.2h1M1512.6 269.9h1M1514.9 295.0h1M1514.9 293.6h1M1514.5 288.1h1M1514.2 293.1h1M1515.1 276.2h1M1514.5 291.1h1M1516.1 277.7h1M1515.7 262.6h1M1515.0 291.3h1M1514.4 262.8h1M1514.7 272.5h1M1513.7 285.8h1M1515.4 294.1h1M1514.4 254.3h1M1514.5 293.5h1M1514.3 259.9h1M1515.3 274.3h1M1514.3 257.1h1M1515.8 285.5h1M1514.8 285.5h1M1515.4 278.4h1M1513.7 292.8h1M1515.3 287.0h1M1516.0 284.6h1M1514.0 291.1h1M1515.8 286.9h1M1514.8 275.0h1M1513.4 281.8h1M1514.5 266.0h1M1514.7 290.6h1M1514.0 291.2h1M1513.9 291.0h1M1514.2 274.2h1M1514.7 273.6h1M1514.3 292.9h1M1514.8 290.5h1M1514.2 294.9h1M1515.5 279.4h1M1515.8 286.6h1M1515.9 290.1h1M1514.0 255.6h1M1514.3 280.3h1M1515.3 270.6h1M1514.5 288.5h1M1513.9 258.1h1M1515.8 291.9h1M1515.3 275.5h1M1515.7 285.8h1M1515.1 242.9h1M1514.7 248.5h1M1514.0 293.8h1M1515.4 292.0h1M1513.9 277.2h1M1515.3 287.1h1M1514.4 283.9h1M1514.9 277.8h1M1515.1 265.4h1M1515.8 243.4h1M1515.1 291.0h1M1515.0 262.5h1M1515.0 272.8h1M1514.9 278.4h1M1515.6 286.3h1M1515.3 283.7h1M1514.7 266.6h1M1515.9 294.8h1M1515.9 286.4h1M1513.8 282.2h1M1514.6 258.5h1M1514.3 284.3h1M1515.1 272.1h1M1514.8 291.4h1M1514.1 253.0h1M1514.5 257.2h1M1515.8 279.7h1M1514.4 262.7h1M1515.2 262.8h1M1514.4 284.3h1M1514.2 292.2h1M1514.4 279.7h1M1514.9 275.8h1M1515.0 289.4h1M1516.1 244.3h1M1514.4 285.8h1M1514.8 288.3h1M1514.9 271.3h1M1514.6 250.4h1M1514.1 290.6h1M1515.5 293.4h1M1515.3 282.3h1M1514.5 249.5h1M1515.0 263.8h1M1516.2 293.7h1M1514.9 278.2h1M1514.4 288.4h1M1515.7 254.2h1M1515.3 248.0h1M1515.0 268.5h1M1514.7 285.0h1M1514.8 292.1h1M1515.3 286.4h1M1515.2 276.6h1M1514.1 293.8h1M1515.3 290.8h1M1514.8 287.0h1M1516.0 276.1h1M1515.0 274.4h1M1515.4 290.9h1M1514.9 278.2h1M1514.5 275.1h1M1515.6 272.3h1M1514.4 274.0h1M1514.9 289.5h1M1514.2 291.3h1M1515.5 277.5h1M1515.8 277.4h1M1515.0 292.2h1M1514.3 260.7h1M1514.6 274.8h1M1514.9 283.6h1M1515.2 283.4h1M1513.8 291.4h1M1514.4 295.3h1M1515.0 287.4h1M1515.3 290.6h1M1514.7 271.2h1M1515.2 289.8h1M1515.1 257.3h1M1515.6 285.6h1M1515.2 285.1h1M1514.7 283.8h1M1515.8 288.6h1M1514.3 270.8h1M1514.7 267.0h1M1513.3 270.9h1M1515.4 275.2h1M1513.8 290.6h1M1514.2 283.9h1M1514.8 294.5h1M1514.9 283.9h1M1515.5 290.2h1M1514.5 262.8h1M1514.6 267.5h1M1515.3 283.9h1M1514.3 286.3h1M1514.5 291.2h1M1514.9 293.9h1M1514.7 266.1h1M1515.1 284.1h1M1514.6 287.6h1M1514.6 264.2h1M1514.9 275.3h1M1514.9 284.4h1M1514.0 266.0h1M1513.8 288.8h1M1516.4 287.3h1M1515.6 278.9h1M1515.4 286.9h1M1514.7 250.0h1M1514.6 285.0h1M1514.4 280.8h1M1516.0 282.1h1M1514.7 289.8h1M1515.2 272.9h1M1514.7 281.7h1M1514.7 295.3h1M1515.8 289.3h1M1527.4 178.4h1M1527.3 198.1h1M1527.9 267.2h1M1526.9 201.3h1M1527.2 200.0h1M1526.2 220.1h1M1526.0 212.6h1M1526.7 210.8h1M1526.6 149.4h1M1527.9 165.4h1M1525.6 215.3h1M1527.2 139.1h1M1527.4 178.6h1M1526.5 234.0h1M1527.1 178.6h1M1526.8 168.9h1M1526.0 162.8h1M1526.9 186.8h1M1527.0 185.1h1M1525.9 178.6h1M1527.2 217.2h1M1526.6 190.3h1M1527.7 209.2h1M1525.6 180.0h1M1527.7 246.1h1M1526.5 200.3h1M1526.2 202.5h1M1526.8 207.8h1M1527.5 251.2h1M1527.4 222.7h1M1527.4 191.2h1M1528.3 184.2h1M1527.3 214.1h1M1527.2 219.1h1M1526.7 140.0h1M1526.7 163.5h1M1526.5 226.0h1M1525.7 251.5h1M1526.9 175.3h1M1527.0 159.9h1M1526.4 180.9h1M1527.9 240.6h1M1528.1 194.2h1M1526.5 228.6h1M1526.2 182.6h1M1526.9 203.0h1M1527.3 182.4h1M1527.4 223.8h1M1528.2 214.5h1M1526.0 184.4h1M1527.4 186.1h1M1527.5 258.2h1M1527.4 200.9h1M1526.2 236.9h1M1527.4 195.5h1M1526.8 150.5h1M1526.6 184.2h1M1526.6 207.9h1M1528.2 182.9h1M1527.0 189.3h1M1526.5 279.9h1M1526.1 170.8h1M1526.7 215.1h1M1526.3 176.7h1M1527.0 174.0h1M1526.7 170.8h1M1527.4 171.8h1M1527.1 157.6h1M1527.7 216.1h1M1527.2 166.8h1M1526.7 119.5h1M1526.3 193.1h1M1527.4 157.5h1M1526.7 228.7h1M1527.4 173.1h1M1526.4 252.4h1M1526.9 190.0h1M1527.3 222.8h1M1527.5 230.9h1M1525.9 192.6h1M1527.6 133.7h1M1525.6 262.2h1M1526.8 208.6h1M1527.2 211.0h1M1527.0 175.1h1M1526.7 195.5h1M1528.7 239.8h1M1526.2 206.7h1M1528.0 194.0h1M1526.4 225.3h1M1527.4 183.6h1M1527.2 192.6h1M1526.4 210.9h1M1527.3 207.8h1M1527.2 202.1h1M1526.4 175.8h1M1527.8 226.2h1M1526.0 176.7h1M1526.9 234.9h1M1527.2 205.2h1M1526.7 168.6h1M1527.1 253.8h1M1526.9 249.9h1M1526.7 167.7h1M1527.4 195.7h1M1527.3 176.7h1M1526.9 230.9h1M1527.7 162.9h1M1527.6 251.9h1M1527.7 200.5h1M1527.2 210.3h1M1526.5 180.1h1M1527.1 231.4h1M1527.1 128.3h1M1527.6 172.3h1M1526.5 178.7h1M1527.0 213.9h1M1526.2 197.4h1M1527.2 172.5h1M1527.5 216.9h1M1526.3 160.6h1M1526.5 219.9h1M1526.6 210.0h1M1526.7 204.1h1M1527.0 120.2h1M1527.7 234.0h1M1525.9 213.9h1M1526.7 180.2h1M1527.0 178.0h1M1526.3 201.7h1M1526.9 214.0h1M1526.1 182.9h1M1525.7 205.0h1M1527.4 172.3h1M1526.9 208.1h1M1526.8 143.5h1M1527.4 210.5h1M1528.2 209.2h1M1527.6 201.9h1M1526.6 155.0h1M1526.4 198.5h1M1525.7 166.6h1M1527.0 155.7h1M1527.4 113.2h1M1527.4 220.8h1M1526.5 195.0h1M1528.1 210.3h1M1526.2 227.0h1M1527.0 212.6h1M1528.2 202.9h1M1526.1 223.7h1M1525.7 179.7h1M1528.0 207.2h1M1526.2 205.2h1M1527.2 190.7h1M1527.7 158.8h1M1527.6 225.8h1M1526.8 210.3h1M1527.1 192.0h1M1527.8 226.8h1M1527.1 242.7h1M1527.6 249.2h1M1526.8 195.7h1M1527.0 199.0h1M1527.1 224.7h1M1528.2 187.3h1M1527.4 240.4h1M1527.0 217.9h1M1526.5 248.3h1M1527.1 197.7h1M1527.4 196.8h1M1526.3 187.3h1M1527.0 275.8h1M1527.7 176.4h1M1526.3 190.6h1M1527.3 186.5h1M1527.5 160.8h1M1527.7 238.3h1M1526.8 188.0h1M1528.5 192.8h1M1526.6 114.0h1M1527.1 200.6h1M1525.8 171.2h1M1527.2 176.6h1M1527.2 193.1h1M1527.3 210.9h1M1528.4 209.3h1M1527.6 229.3h1M1527.4 156.7h1M1527.3 221.1h1M1527.4 201.7h1M1527.9 203.4h1M1526.4 150.6h1M1526.7 162.4h1M1527.8 202.8h1M1528.0 271.8h1M1527.1 249.2h1M1527.0 259.1h1M1526.9 196.6h1M1526.6 171.2h1M1526.8 191.3h1M1528.0 164.0h1M1526.7 244.4h1M1527.2 165.8h1M1528.4 225.2h1M1526.2 185.2h1M1527.0 175.3h1M1528.1 211.4h1M1527.4 196.8h1M1526.7 253.4h1M1526.7 157.3h1M1526.6 198.5h1M1527.6 178.7h1M1526.2 240.4h1M1527.2 140.8h1M1527.5 261.7h1M1527.4 219.4h1M1526.7 201.6h1M1526.1 227.2h1M1527.9 182.4h1M1526.7 191.5h1M1526.6 172.0h1M1527.5 222.7h1M1527.6 192.0h1M1527.0 188.8h1M1526.3 194.1h1M1528.0 249.0h1M1527.8 179.9h1M1526.5 224.6h1M1527.2 231.3h1M1551.4 284.1h1M1552.0 267.9h1M1550.2 266.8h1M1551.2 277.2h1M1552.2 281.4h1M1552.0 273.8h1M1551.2 278.4h1M1551.7 280.8h1M1550.2 281.4h1M1551.5 292.4h1M1551.3 288.6h1M1551.7 291.6h1M1551.6 259.9h1M1551.2 271.2h1M1551.6 287.5h1M1550.8 286.4h1M1552.4 266.6h1M1551.6 287.2h1M1551.5 253.8h1M1551.2 264.6h1M1550.8 249.1h1M1551.1 259.1h1M1551.1 286.1h1M1551.3 293.7h1M1551.3 271.8h1M1552.7 293.4h1M1550.9 273.0h1M1551.7 259.2h1M1551.0 286.4h1M1550.8 273.8h1M1551.4 283.9h1M1550.8 234.5h1M1551.8 264.7h1M1550.8 268.7h1M1550.5 289.0h1M1551.7 268.5h1M1551.9 280.3h1M1552.0 292.4h1M1551.2 272.0h1M1550.4 281.1h1M1552.3 282.8h1M1550.0 266.3h1M1550.9 282.8h1M1550.8 260.3h1M1551.7 284.2h1M1551.9 289.0h1M1552.1 272.4h1M1551.6 277.2h1M1551.7 271.1h1M1551.2 293.7h1M1551.2 294.7h1M1552.2 268.2h1M1551.1 268.0h1M1551.6 286.9h1M1551.7 282.3h1M1551.4 283.3h1M1551.6 288.8h1M1550.4 263.1h1M1551.2 284.2h1M1551.7 249.6h1M1552.0 274.3h1M1551.7 277.2h1M1550.8 288.4h1M1550.9 271.3h1M1551.3 292.4h1M1552.5 266.8h1M1552.3 291.7h1M1551.0 245.6h1M1551.7 293.9h1M1551.7 293.9h1M1551.0 276.9h1M1550.5 266.9h1M1551.4 286.8h1M1551.3 270.3h1M1552.0 272.8h1M1551.0 281.1h1M1551.5 286.3h1M1550.6 240.9h1M1551.4 254.0h1M1551.7 284.9h1M1551.0 292.9h1M1550.6 269.5h1M1551.3 260.0h1M1551.4 290.9h1M1551.5 266.7h1M1550.1 248.6h1M1551.8 280.4h1M1550.8 280.8h1M1551.5 293.8h1M1551.8 276.0h1M1551.8 280.4h1M1551.7 279.7h1M1551.2 288.4h1M1551.4 270.2h1M1550.5 291.9h1M1551.6 287.4h1M1551.5 262.6h1M1551.3 251.0h1M1551.5 284.8h1M1550.8 238.9h1M1550.4 267.0h1M1552.4 293.2h1M1551.8 262.3h1M1551.2 275.2h1M1550.4 281.2h1M1551.0 291.7h1M1550.7 241.3h1M1550.8 282.2h1M1551.7 291.3h1M1551.2 290.8h1M1551.5 261.6h1M1550.6 290.0h1M1551.3 281.1h1M1550.5 275.8h1M1551.6 249.7h1M1551.4 271.8h1M1550.9 271.1h1M1550.8 277.6h1M1552.1 294.3h1M1551.8 273.1h1M1551.1 233.7h1M1551.8 276.8h1M1550.6 266.5h1M1551.8 260.7h1M1551.7 293.7h1M1551.8 282.7h1M1550.6 284.1h1M1551.7 238.0h1M1550.1 256.4h1M1551.4 269.7h1M1550.9 256.5h1M1551.2 274.8h1M1551.8 281.7h1M1550.8 282.6h1M1551.1 246.5h1M1551.8 292.0h1M1550.9 248.2h1M1549.0 295.0h1M1551.8 270.4h1M1551.3 293.0h1M1552.1 262.4h1M1550.9 287.3h1M1552.8 257.8h1M1551.4 258.3h1M1551.3 277.1h1M1551.3 288.5h1M1551.5 285.7h1M1550.8 269.7h1M1551.1 280.1h1M1551.5 284.1h1M1551.3 273.9h1M1552.2 291.9h1M1550.9 295.0h1M1551.7 293.8h1M1551.3 269.4h1M1550.9 278.4h1M1551.5 253.7h1M1549.9 275.1h1M1550.0 282.0h1M1551.6 283.9h1M1552.1 250.9h1M1551.3 270.6h1M1550.9 288.8h1M1551.5 278.4h1M1551.2 290.2h1M1551.6 267.4h1M1550.7 265.0h1M1550.3 294.5h1M1551.2 285.4h1M1550.7 286.4h1M1563.5 121.6h1M1562.9 218.8h1M1563.1 113.7h1M1562.8 220.2h1M1564.2 184.6h1M1564.2 210.1h1M1563.2 163.5h1M1564.8 186.9h1M1563.5 179.0h1M1564.0 216.4h1M1563.4 163.1h1M1561.6 204.8h1M1563.3 258.7h1M1563.5 254.9h1M1563.4 166.1h1M1563.2 205.0h1M1563.4 145.6h1M1563.5 224.6h1M1563.7 143.6h1M1563.1 190.3h1M1562.7 175.5h1M1564.2 181.5h1M1563.1 143.0h1M1563.5 172.5h1M1563.1 136.6h1M1564.0 165.8h1M1563.4 217.3h1M1563.9 196.9h1M1563.9 179.8h1M1563.6 183.6h1M1563.2 238.3h1M1563.4 184.4h1M1564.3 181.6h1M1564.0 165.6h1M1564.0 232.1h1M1563.7 199.6h1M1563.7 131.8h1M1563.4 207.2h1M1563.8 237.6h1M1564.3 198.6h1M1563.4 192.5h1M1564.0 229.3h1M1563.0 175.9h1M1563.5 231.1h1M1562.7 242.2h1M1563.0 221.8h1M1563.2 179.7h1M1564.1 141.4h1M1562.6 205.9h1M1563.0 185.4h1M1563.0 236.4h1M1564.2 219.4h1M1563.3 223.9h1M1563.7 193.9h1M1564.2 171.0h1M1564.2 201.5h1M1564.2 175.7h1M1563.2 179.2h1M1563.5 185.8h1M1563.5 224.4h1M1563.4 208.4h1M1563.1 180.4h1M1563.9 206.6h1M1563.1 213.4h1M1564.4 233.1h1M1562.5 185.1h1M1562.6 195.4h1M1563.5 188.0h1M1563.0 196.6h1M1564.3 176.6h1M1563.4 163.7h1M1564.1 169.9h1M1564.2 128.3h1M1564.2 194.7h1M1563.2 212.1h1M1564.6 226.9h1M1563.3 187.7h1M1563.3 232.1h1M1564.1 170.5h1M1563.0 219.1h1M1564.2 212.1h1M1562.9 174.1h1M1563.4 157.2h1M1562.5 208.9h1M1563.7 162.5h1M1563.2 184.2h1M1564.4 206.3h1M1564.3 194.5h1M1562.9 168.1h1M1563.0 153.5h1M1587.5 265.1h1M1588.5 268.4h1M1588.5 271.8h1M1587.6 195.6h1M1588.0 274.0h1M1587.1 277.4h1M1588.7 257.7h1M1588.1 287.7h1M1586.9 268.5h1M1588.1 237.6h1M1588.4 292.5h1M1588.1 274.3h1M1587.6 259.0h1M1587.1 289.8h1M1588.2 226.7h1M1587.4 254.9h1M1587.7 293.4h1M1588.2 265.7h1M1589.0 237.5h1M1587.6 229.7h1M1585.9 257.1h1M1587.4 226.2h1M1587.4 277.8h1M1587.8 255.9h1M1587.6 220.2h1M1587.2 266.6h1M1587.8 252.3h1M1587.4 251.2h1M1587.9 267.1h1M1588.4 227.3h1M1587.6 279.2h1M1587.3 247.0h1M1587.9 253.0h1M1588.1 265.8h1M1587.6 214.1h1M1589.1 269.5h1M1599.4 269.8h1M1599.5 263.0h1M1600.4 271.0h1M1599.5 266.5h1M1599.2 267.8h1M1599.5 267.3h1M1599.9 263.2h1M1599.5 272.6h1M1600.8 263.0h1M1623.9 274.6h1M1623.9 266.0h1M1625.9 238.6h1M1624.1 270.5h1M1624.2 255.6h1M1623.4 207.8h1M1625.1 257.7h1M1623.8 274.7h1M1624.4 239.5h1M1624.2 259.7h1M1623.5 264.9h1M1624.5 214.8h1M1624.5 292.7h1M1625.6 291.1h1M1623.5 292.0h1M1624.9 245.8h1M1623.9 235.9h1M1624.8 258.4h1M1624.1 267.3h1M1623.6 224.1h1M1624.2 253.4h1M1624.6 239.5h1M1624.5 226.7h1M1624.2 266.2h1M1623.6 241.9h1M1624.2 264.6h1M1624.7 262.8h1M1624.4 261.4h1M1623.7 263.8h1M1624.0 196.5h1M1624.1 254.2h1M1624.7 292.7h1M1624.3 255.4h1M1625.4 236.3h1M1625.2 251.7h1M1624.2 263.6h1M1623.5 242.5h1M1624.3 276.3h1M1623.5 293.6h1M1624.3 249.3h1M1625.3 233.8h1M1623.2 234.0h1M1623.9 232.5h1M1623.3 256.6h1M1624.8 285.3h1M1624.6 264.6h1M1624.2 265.0h1M1624.7 231.0h1M1624.7 265.8h1M1623.4 273.4h1M1624.6 275.2h1M1625.4 265.4h1M1624.6 251.8h1M1624.4 264.0h1M1624.8 277.4h1M1623.6 279.4h1M1624.2 193.8h1M1625.5 234.9h1M1624.1 272.7h1M1624.2 231.3h1M1624.9 255.8h1M1623.9 199.8h1M1623.0 248.2h1M1624.1 237.0h1M1623.4 247.6h1M1622.8 263.4h1M1625.3 243.8h1M1624.7 280.5h1M1624.0 248.3h1M1624.6 242.3h1M1623.3 217.3h1M1623.7 262.1h1M1624.5 251.3h1M1623.6 198.1h1M1624.9 264.8h1M1624.2 243.2h1M1624.8 289.4h1M1623.7 218.3h1M1624.8 249.5h1M1623.2 248.5h1M1624.7 255.0h1M1624.1 258.5h1M1623.7 244.1h1M1624.5 255.0h1M1623.5 289.9h1M1624.8 262.8h1M1623.2 263.9h1M1624.1 256.5h1M1624.6 223.4h1M1624.1 234.5h1M1623.5 244.0h1M1623.6 249.2h1M1623.5 258.5h1M1624.5 250.0h1M1624.4 249.6h1M1624.3 250.6h1M1624.4 256.9h1M1624.8 231.9h1M1624.5 243.5h1M1623.8 233.9h1M1624.1 290.6h1M1623.3 213.8h1M1623.5 263.7h1M1624.5 229.6h1M1625.3 265.3h1M1623.5 217.2h1M1624.2 242.1h1M1623.7 273.6h1M1624.3 290.9h1M1624.1 253.3h1M1623.5 233.1h1M1624.5 276.0h1M1624.9 270.0h1M1624.6 246.5h1M1624.0 277.7h1M1626.0 292.8h1M1625.1 263.9h1M1624.4 261.0h1M1624.5 284.0h1M1624.5 234.6h1M1624.6 291.9h1M1624.0 228.7h1M1625.0 229.2h1M1624.1 269.9h1M1625.1 290.7h1M1623.8 252.9h1M1624.2 273.6h1M1624.3 241.2h1M1623.6 267.2h1M1624.5 240.6h1M1624.6 245.1h1M1624.6 292.6h1M1624.5 277.5h1M1624.8 233.6h1M1624.1 259.6h1M1623.9 218.8h1M1624.0 239.5h1M1624.1 287.0h1M1623.5 208.0h1M1625.2 276.1h1M1624.6 287.1h1M1624.0 262.1h1M1623.3 247.2h1M1624.0 268.6h1M1624.2 236.4h1M1623.6 254.5h1M1624.6 262.6h1M1624.0 290.7h1M1623.7 271.4h1M1624.6 228.9h1M1636.2 254.8h1M1636.3 249.2h1M1636.1 251.1h1M1635.3 263.7h1M1635.1 227.5h1M1636.2 193.7h1M1636.8 281.5h1M1636.1 259.8h1M1636.7 222.1h1M1635.7 239.5h1M1636.8 233.0h1M1636.7 249.1h1M1637.3 240.4h1M1635.7 263.7h1M1635.2 258.0h1M1636.3 241.6h1M1637.1 240.1h1M1636.9 236.9h1M1636.2 227.5h1M1636.8 234.4h1M1636.7 246.9h1M1634.7 265.7h1M1635.4 241.9h1M1636.5 173.3h1M1636.9 252.9h1M1637.1 271.2h1M1636.5 283.8h1M1634.8 206.4h1M1636.0 217.8h1M1637.1 256.0h1M1636.9 243.9h1M1636.5 237.9h1M1637.7 263.4h1M1636.1 262.5h1M1636.5 271.7h1M1636.6 246.0h1M1636.0 236.2h1M1635.9 239.1h1M1636.8 267.4h1M1635.5 239.0h1M1636.8 238.2h1M1636.1 269.1h1M1636.4 287.2h1M1636.4 242.6h1M1636.8 212.6h1M1637.2 258.1h1M1635.3 226.1h1M1637.2 222.9h1M1637.0 252.1h1M1635.1 280.2h1M1636.3 230.0h1M1637.6 252.5h1M1637.5 267.6h1M1637.3 276.0h1M1637.3 236.7h1M1635.5 259.4h1M1637.4 230.2h1M1636.8 230.9h1M1636.5 255.0h1M1637.8 287.3h1M1635.5 226.8h1M1636.3 249.7h1M1636.2 199.0h1M1637.0 241.5h1M1636.8 245.9h1M1636.1 232.3h1M1635.9 227.1h1M1637.4 246.1h1M1636.5 183.4h1M1636.4 278.8h1M1637.8 200.6h1M1635.8 244.0h1M1637.0 191.1h1M1635.0 221.2h1M1636.5 187.9h1M1636.8 277.8h1M1636.3 269.8h1M1635.0 269.9h1M1636.9 243.2h1M1635.5 262.2h1M1636.8 242.2h1M1636.5 242.5h1M1634.9 224.9h1M1636.7 251.0h1M1637.5 233.1h1M1635.5 255.7h1M1636.4 220.1h1M1636.5 216.3h1M1636.8 255.5h1M1635.8 259.9h1M1637.2 258.4h1M1636.3 260.8h1M1637.3 229.1h1M1636.5 255.1h1M1636.6 252.4h1M1636.4 253.2h1M1635.5 245.4h1M1637.0 224.1h1M1636.2 242.0h1M1635.9 213.8h1M1635.9 242.6h1M1634.7 250.4h1M1637.3 221.2h1M1637.0 227.5h1M1636.4 239.5h1M1637.1 269.2h1M1636.6 263.5h1M1636.9 227.2h1M1636.7 259.6h1M1635.7 246.4h1M1636.3 240.7h1M1637.1 239.4h1M1636.8 189.5h1M1635.7 226.6h1M1635.9 234.3h1M1636.8 197.1h1M1635.6 268.6h1M1637.4 263.6h1M1636.2 227.4h1M1636.5 271.0h1M1635.7 231.4h1M1635.4 240.1h1M1636.9 228.2h1M1636.5 230.2h1M1636.1 250.1h1M1636.5 242.3h1M1636.1 252.9h1M1636.4 268.4h1M1636.0 226.2h1M1637.1 243.6h1M1636.5 227.3h1M1636.6 247.0h1M1636.5 240.2h1M1636.4 245.9h1M1636.6 244.0h1M1636.9 246.2h1M1638.1 232.2h1M1636.3 235.2h1M1636.6 216.5h1M1636.4 258.9h1M1636.4 271.9h1M1636.1 248.9h1M1636.3 244.5h1M1635.1 278.1h1M1637.5 165.6h1M1635.8 249.7h1M1636.9 213.6h1M1637.2 196.0h1M1636.7 274.1h1M1637.1 270.0h1M1635.9 251.5h1M1636.1 236.5h1M1636.7 261.8h1M1636.7 243.0h1M1637.1 267.4h1M1635.0 263.4h1M1636.0 220.5h1M1638.0 255.4h1M1636.1 237.6h1M1636.7 273.1h1M1637.2 281.4h1M1636.3 292.5h1M1636.4 250.5h1M1636.5 230.8h1M1635.3 231.6h1M1637.0 254.1h1M1636.1 256.9h1M1637.1 256.6h1M1636.2 219.3h1M1637.1 253.5h1M1636.4 238.0h1M1636.3 267.5h1M1636.3 272.7h1M1637.0 259.8h1M1637.5 205.0h1M1637.3 215.4h1M1637.1 274.1h1M1635.5 259.1h1M1636.8 240.2h1M1636.1 259.5h1M1635.9 291.4h1M1636.5 232.8h1M1636.6 261.9h1M1636.6 241.1h1M1636.9 230.8h1M1636.3 255.4h1M1636.3 191.8h1M1636.3 248.2h1M1637.3 257.7h1M1636.0 234.3h1M1660.5 294.9h1M1661.1 260.3h1M1661.4 264.5h1M1660.2 290.7h1M1661.9 236.6h1M1661.3 242.4h1M1660.3 277.5h1M1660.2 238.7h1M1660.0 286.7h1M1661.4 235.5h1M1660.2 257.3h1M1659.4 230.8h1M1661.5 263.6h1M1660.8 226.3h1M1661.7 287.4h1M1661.0 282.4h1M1660.8 243.6h1M1660.3 268.3h1M1660.4 277.6h1M1661.4 271.1h1M1660.8 250.3h1M1660.8 261.5h1M1661.2 264.0h1M1661.0 246.5h1M1661.1 231.7h1M1660.6 294.3h1M1661.1 250.9h1M1659.4 247.6h1M1660.3 292.3h1M1660.9 242.4h1M1660.5 251.5h1M1661.2 280.0h1M1662.4 278.6h1M1662.6 272.8h1M1661.0 293.0h1M1661.4 283.3h1M1660.4 239.8h1M1661.6 291.5h1M1660.9 284.8h1M1660.1 253.9h1M1661.5 284.7h1M1661.1 271.4h1M1660.5 273.9h1M1661.1 221.6h1M1661.1 294.3h1M1661.6 269.3h1M1660.3 264.1h1M1660.9 290.3h1M1660.5 287.1h1M1660.4 247.9h1M1659.9 256.1h1M1660.9 291.5h1M1660.9 232.7h1M1660.8 271.3h1M1661.1 271.1h1M1660.5 291.2h1M1661.4 273.3h1M1660.5 280.5h1M1661.0 289.1h1M1660.3 273.9h1M1661.4 245.4h1M1660.0 201.6h1M1659.4 295.3h1M1660.5 257.3h1M1661.6 253.5h1M1661.6 289.1h1M1660.7 243.5h1M1661.3 292.3h1M1659.3 280.4h1M1661.3 253.8h1M1660.9 207.8h1M1660.4 248.0h1M1661.5 275.5h1M1660.4 283.2h1M1661.0 277.0h1M1660.5 280.7h1M1660.9 283.6h1M1661.0 268.7h1M1661.9 267.8h1M1659.1 267.9h1M1660.5 283.5h1M1662.3 278.3h1M1660.7 271.6h1M1661.1 281.3h1M1661.3 293.6h1M1660.8 286.0h1M1661.4 285.0h1M1660.4 293.7h1M1659.9 241.9h1M1661.0 281.5h1M1660.8 238.3h1M1661.6 267.1h1M1661.4 285.9h1M1660.7 251.6h1M1661.3 276.1h1M1661.8 285.0h1M1660.7 263.7h1M1660.8 280.9h1M1660.1 271.2h1M1660.1 276.9h1M1660.4 266.7h1M1660.4 265.6h1M1660.8 289.4h1M1661.1 282.6h1M1660.6 281.1h1M1659.7 275.2h1M1660.8 271.5h1M1660.3 280.3h1M1660.3 264.6h1M1661.5 247.4h1M1660.2 273.1h1M1661.5 291.1h1M1659.6 254.8h1M1660.5 256.0h1M1660.8 283.3h1M1661.9 257.8h1M1660.1 261.6h1M1660.5 256.1h1M1661.2 276.7h1M1661.4 281.0h1M1660.7 277.5h1M1661.2 254.7h1M1660.0 269.0h1M1659.5 271.4h1M1660.5 276.6h1M1661.2 248.7h1M1661.0 265.2h1M1661.4 259.4h1M1659.5 270.5h1M1661.0 271.2h1M1661.3 294.9h1M1661.7 278.4h1M1659.5 254.5h1M1660.1 267.0h1M1661.3 249.7h1M1661.0 279.7h1M1661.4 224.5h1M1660.8 280.1h1M1660.8 263.0h1M1661.5 279.2h1M1661.2 229.0h1M1660.7 278.0h1M1661.1 282.6h1M1660.9 284.9h1M1660.0 248.3h1M1660.2 281.1h1M1661.1 254.2h1M1660.5 293.9h1M1660.8 268.8h1M1661.1 272.2h1M1671.8 261.6h1M1674.2 283.8h1M1674.3 265.6h1M1674.1 280.1h1M1672.8 259.2h1M1673.3 263.3h1M1673.5 280.5h1M1673.2 280.4h1M1673.0 279.4h1M1673.5 277.7h1M1673.0 261.9h1M1673.6 291.3h1M1673.5 278.6h1M1671.9 257.2h1M1673.2 275.9h1M1672.7 282.7h1M1671.9 278.1h1M1673.5 279.6h1M1672.9 275.8h1M1672.8 274.7h1M1672.7 243.6h1M1672.2 272.6h1M1673.6 271.3h1M1672.4 268.1h1M1672.0 267.2h1M1673.4 288.6h1M1671.6 273.0h1M1672.7 271.7h1M1672.1 279.0h1M1673.4 261.9h1M1673.4 284.6h1M1672.9 281.8h1M1672.9 278.5h1M1672.7 287.6h1M1672.7 275.7h1M1673.9 277.6h1M1673.0 248.1h1M1672.9 260.9h1M1672.8 294.3h1M1672.6 247.6h1M1672.6 278.7h1M1673.3 259.0h1M1672.1 266.5h1M1673.1 285.0h1M1673.2 273.4h1M1672.8 282.9h1M1673.2 283.4h1M1673.1 286.1h1M1671.2 258.2h1M1671.8 267.0h1M1673.9 255.0h1M1672.5 287.9h1M1672.7 261.7h1M1673.7 282.3h1M1673.4 271.8h1M1672.3 278.5h1M1672.9 281.8h1M1673.5 279.2h1M1672.7 266.8h1M1672.7 259.6h1M1673.3 273.6h1M1673.7 269.3h1M1673.0 271.8h1M1672.1 280.8h1M1672.7 281.6h1M1672.4 237.0h1M1674.0 276.4h1M1673.0 268.0h1M1673.3 275.1h1M1673.7 266.0h1M1673.1 267.0h1M1673.2 291.1h1M1673.5 279.1h1M1672.9 279.4h1M1672.0 269.5h1M1672.9 280.5h1M1673.3 273.6h1M1673.0 285.4h1M1672.8 284.5h1M1673.1 250.9h1M1672.9 281.6h1M1672.2 279.4h1M1672.2 276.2h1M1673.4 251.4h1M1673.1 261.2h1M1673.4 275.6h1M1673.0 277.4h1M1673.1 281.1h1M1672.9 277.7h1M1674.3 284.6h1M1672.0 271.0h1M1673.5 269.6h1M1671.9 276.3h1M1673.1 288.9h1M1674.0 286.5h1M1672.9 277.8h1M1671.9 262.7h1M1672.9 264.1h1M1673.3 286.3h1M1673.7 282.4h1M1672.7 288.2h1M1672.5 273.5h1M1672.3 262.7h1M1674.1 263.0h1M1672.5 274.5h1M1672.9 271.8h1M1673.7 269.2h1M1674.3 267.9h1M1671.8 274.6h1M1673.2 275.9h1M1672.5 268.5h1M1672.6 288.9h1M1674.5 281.9h1M1672.2 267.8h1M1672.8 279.1h1M1672.8 285.1h1M1672.7 272.5h1M1672.6 246.1h1M1673.2 264.3h1M1673.6 279.3h1M1672.8 267.9h1M1673.2 258.5h1M1672.5 261.8h1M1672.6 279.2h1M1673.1 250.0h1M1673.3 276.5h1M1673.1 278.0h1M1673.6 270.2h1M1674.9 260.7h1M1672.3 272.8h1M1697.5 267.3h1M1696.8 254.4h1M1697.1 236.4h1M1697.4 274.2h1M1697.4 268.3h1M1697.3 283.3h1M1697.5 281.4h1M1697.5 280.7h1M1697.6 291.2h1M1697.8 246.2h1M1696.8 245.6h1M1697.2 270.3h1M1696.8 274.9h1M1696.8 204.6h1M1696.2 267.9h1M1696.3 280.0h1M1697.5 239.1h1M1697.7 255.2h1M1697.5 256.5h1M1697.8 276.9h1M1697.3 265.6h1M1696.9 244.4h1M1698.5 282.4h1M1697.7 293.4h1M1697.2 253.1h1M1697.3 254.0h1M1697.5 269.1h1M1697.4 287.0h1M1698.0 262.0h1M1698.1 238.6h1M1696.9 239.5h1M1698.1 272.1h1M1697.6 219.1h1M1696.6 274.0h1M1696.6 275.0h1M1697.2 222.3h1M1696.9 264.1h1M1697.7 232.7h1M1696.6 252.2h1M1696.9 269.4h1M1696.7 257.2h1M1697.5 268.9h1M1697.6 248.2h1M1696.5 244.5h1M1697.9 250.8h1M1696.2 261.0h1M1698.0 275.1h1M1697.1 266.9h1M1697.5 241.3h1M1697.4 256.7h1M1697.4 262.6h1M1696.9 264.0h1M1696.7 273.9h1M1697.7 254.4h1M1698.0 241.4h1M1697.1 292.5h1M1696.8 268.4h1M1697.6 286.6h1M1696.7 260.1h1M1696.8 260.6h1M1696.4 263.5h1M1698.3 264.4h1M1697.8 256.8h1M1697.8 273.7h1M1698.2 267.5h1M1696.5 280.3h1M1695.7 266.9h1M1696.8 291.7h1M1697.5 277.7h1M1695.9 272.1h1M1697.2 290.8h1M1698.1 270.0h1M1697.4 234.1h1M1697.5 269.0h1M1696.4 273.5h1M1697.3 291.2h1M1697.2 259.5h1M1696.4 269.7h1M1696.8 228.5h1M1696.7 285.6h1M1697.0 281.2h1M1697.3 271.5h1M1696.4 233.4h1M1697.7 253.8h1M1697.3 263.2h1M1698.2 228.2h1M1696.6 274.1h1M1697.6 252.7h1M1696.1 271.2h1M1697.8 267.0h1M1697.3 245.7h1M1697.0 247.9h1M1697.3 267.4h1M1696.8 264.3h1M1698.0 250.3h1M1696.2 235.6h1M1697.0 270.5h1M1698.7 278.3h1M1698.2 242.8h1M1696.5 272.5h1M1696.7 289.0h1M1697.0 264.3h1M1697.2 235.4h1M1697.4 269.2h1M1697.3 244.0h1M1695.9 274.8h1M1696.8 226.1h1M1696.9 279.8h1M1697.0 280.4h1M1696.8 275.6h1M1696.0 285.1h1M1697.1 246.5h1M1698.4 211.3h1M1697.4 254.8h1M1697.5 264.1h1M1697.2 268.4h1M1697.0 291.4h1M1695.6 293.6h1M1697.4 246.6h1M1697.8 288.1h1M1697.5 277.6h1M1697.4 288.3h1M1697.1 290.8h1M1696.5 272.4h1M1696.2 261.5h1M1697.0 245.8h1M1696.9 265.4h1M1697.6 237.3h1M1696.5 268.7h1M1698.0 259.4h1M1698.7 273.2h1M1697.3 268.6h1M1696.5 268.3h1M1696.9 290.8h1M1697.3 294.1h1M1697.2 256.5h1M1697.9 229.0h1M1697.5 248.3h1M1697.7 262.7h1M1697.8 283.1h1M1697.5 207.4h1M1695.8 242.9h1M1697.5 260.7h1M1698.2 259.0h1M1697.3 246.9h1M1697.1 214.7h1M1697.0 256.5h1M1696.7 230.0h1M1697.0 264.0h1M1697.6 230.9h1M1697.9 291.4h1M1696.5 261.7h1M1697.5 250.3h1M1697.3 267.7h1M1698.1 251.6h1M1698.3 217.1h1M1697.5 292.8h1M1697.1 292.6h1M1696.3 269.9h1M1696.4 289.7h1M1697.3 263.7h1M1697.2 253.6h1M1697.6 251.7h1M1696.9 271.4h1M1698.3 248.6h1M1696.6 285.5h1M1697.2 251.8h1M1697.0 251.8h1M1697.7 231.1h1M1697.5 249.7h1M1697.0 278.7h1M1697.3 252.6h1M1697.2 252.7h1M1697.1 269.9h1M1696.3 254.4h1M1697.7 238.6h1M1697.2 265.8h1M1697.6 254.7h1M1696.8 271.3h1M1696.7 266.0h1M1697.6 251.6h1M1697.4 241.3h1M1696.9 273.5h1M1696.1 291.3h1M1697.6 263.8h1M1697.7 254.8h1M1697.7 264.9h1M1698.0 294.9h1M1697.8 251.1h1M1696.6 248.5h1M1696.2 262.4h1M1697.0 293.7h1M1697.1 287.8h1M1697.2 260.1h1M1697.5 258.4h1M1696.6 239.1h1M1697.9 239.6h1M1697.0 278.5h1M1698.0 278.3h1M1696.7 276.9h1M1697.5 227.0h1M1697.0 272.9h1M1697.0 236.5h1M1697.2 259.2h1M1698.4 292.4h1M1696.7 256.7h1M1697.7 262.4h1M1696.8 264.0h1M1697.6 229.5h1M1696.5 259.5h1M1697.8 240.9h1M1697.1 261.7h1M1698.1 267.4h1M1697.8 281.6h1M1697.3 268.9h1M1696.0 237.2h1M1697.2 271.1h1M1697.5 228.4h1M1698.0 285.7h1M1697.1 246.5h1M1696.8 274.1h1M1696.2 287.6h1M1697.1 287.0h1M1697.3 263.4h1M1697.2 260.7h1M1696.0 269.5h1M1696.6 254.4h1M1697.8 294.0h1M1696.8 271.9h1M1697.0 264.4h1M1697.3 263.5h1M1696.1 261.6h1M1697.3 240.5h1M1696.3 294.2h1M1696.7 251.5h1M1697.4 268.1h1M1697.5 224.8h1M1697.7 239.1h1M1697.2 281.3h1M1698.0 291.2h1M1697.1 281.6h1M1696.7 261.1h1M1698.1 242.6h1M1697.7 269.6h1M1697.8 230.2h1M1696.0 249.4h1M1697.6 252.6h1M1696.3 234.6h1M1697.4 283.4h1M1698.6 255.7h1M1696.4 225.1h1M1695.6 263.7h1M1696.4 215.6h1M1697.2 273.2h1M1697.5 259.0h1M1697.4 248.5h1M1697.0 267.8h1M1696.7 252.9h1M1697.3 268.5h1M1696.9 279.1h1M1696.7 287.9h1M1697.3 284.9h1M1697.5 255.2h1M1696.4 260.9h1M1697.1 256.9h1M1698.2 281.6h1M1697.3 232.8h1M1696.3 270.8h1M1697.0 234.1h1M1696.8 282.2h1M1696.3 283.3h1M1697.5 246.7h1M1697.3 248.6h1M1697.4 260.6h1M1698.4 240.8h1M1696.4 276.7h1M1697.4 255.2h1M1697.2 251.0h1M1697.8 295.2h1M1697.0 254.2h1M1697.1 231.3h1M1698.3 245.7h1M1697.8 267.1h1M1696.8 294.6h1M1697.3 291.4h1M1697.9 253.3h1M1697.9 228.4h1M1697.0 234.2h1M1696.9 283.3h1M1697.6 293.1h1M1697.2 236.2h1M1697.3 244.6h1M1697.4 270.1h1M1698.1 290.0h1M1696.5 266.6h1M1696.1 255.1h1M1697.5 266.2h1M1697.5 249.7h1M1697.7 281.2h1M1696.6 259.5h1M1698.2 247.3h1M1697.6 286.1h1M1697.6 287.4h1M1696.8 236.0h1M1697.4 276.9h1M1696.5 283.3h1M1697.3 243.5h1M1698.2 279.5h1M1697.6 250.5h1M1696.8 226.2h1M1698.2 246.9h1M1697.5 245.4h1M1697.6 260.7h1M1697.3 247.3h1M1698.0 268.2h1M1697.4 283.9h1M1697.1 257.7h1M1696.5 228.5h1M1697.0 251.0h1M1698.4 272.9h1M1697.7 255.1h1M1696.6 252.1h1M1698.4 278.8h1M1697.0 277.9h1M1697.9 273.3h1M1697.4 277.0h1M1698.3 261.0h1M1696.6 270.7h1M1696.5 294.3h1M1697.6 269.8h1M1709.4 251.1h1M1710.0 228.0h1M1710.4 222.0h1M1709.3 292.3h1M1708.9 165.6h1M1709.2 199.7h1M1709.2 278.4h1M1709.9 251.1h1M1709.0 268.6h1M1710.2 262.2h1M1709.9 236.3h1M1709.9 261.7h1M1709.0 270.2h1M1709.0 249.4h1M1709.6 263.7h1M1709.9 292.6h1M1709.6 226.3h1M1710.1 261.5h1M1709.3 283.8h1M1709.0 294.2h1M1709.5 264.2h1M1710.4 277.1h1M1709.1 248.6h1M1709.4 224.5h1M1709.5 214.8h1M1708.5 251.4h1M1709.5 254.8h1M1708.6 291.6h1M1708.8 245.5h1M1708.6 262.6h1M1709.0 225.5h1M1709.8 273.7h1M1709.5 277.8h1M1708.2 290.4h1M1709.6 293.3h1M1709.3 268.0h1M1709.1 244.0h1M1710.7 291.8h1M1710.0 194.5h1M1710.0 272.5h1M1710.1 260.5h1M1708.8 276.3h1M1708.9 249.6h1M1710.0 277.5h1M1733.3 258.6h1M1733.9 275.7h1M1733.2 288.5h1M1733.8 288.5h1M1735.3 293.9h1M1733.4 295.0h1M1733.8 259.5h1M1733.0 290.4h1M1733.7 294.0h1M1734.4 289.5h1M1733.6 293.1h1M1731.7 295.0h1M1732.8 292.0h1M1734.0 289.0h1M1733.4 280.6h1M1733.4 232.5h1M1733.2 291.1h1M1732.9 289.1h1M1733.5 279.6h1M1734.5 262.3h1M1733.7 288.1h1M1732.7 290.6h1M1734.1 294.2h1M1733.5 290.9h1M1733.1 277.7h1M1733.6 280.9h1M1733.4 280.0h1M1733.0 262.1h1M1734.0 294.2h1M1734.4 248.0h1M1733.6 251.8h1M1733.9 278.0h1M1733.6 286.9h1M1733.9 242.7h1M1734.1 250.3h1M1734.0 293.7h1M1734.5 293.3h1M1734.4 272.4h1M1733.1 277.4h1M1733.7 269.8h1M1734.3 283.3h1M1733.2 293.5h1M1734.4 265.8h1M1733.5 276.5h1M1734.9 261.3h1M1733.3 253.5h1M1732.9 287.8h1M1734.6 277.5h1M1734.3 269.5h1M1733.4 277.7h1M1734.2 294.8h1M1734.7 282.7h1M1733.8 223.6h1M1733.5 275.6h1M1732.8 273.1h1M1734.2 245.3h1M1733.5 288.2h1M1734.1 265.3h1M1733.4 275.4h1M1734.2 260.4h1M1733.6 292.2h1M1734.8 256.2h1M1733.0 293.0h1M1733.7 282.1h1M1732.7 290.0h1M1734.8 264.8h1M1733.7 294.0h1M1733.7 276.0h1M1733.8 292.7h1M1733.4 263.1h1M1733.3 268.5h1M1734.0 237.4h1M1733.0 278.5h1M1733.0 290.4h1M1735.1 283.5h1M1733.6 291.9h1M1734.0 280.8h1M1734.4 265.6h1M1734.7 272.2h1M1733.6 293.1h1M1733.7 287.2h1M1733.8 285.8h1M1733.4 295.0h1M1733.6 290.0h1M1735.1 294.4h1M1733.9 235.4h1M1734.6 294.1h1M1733.8 295.0h1M1733.7 291.8h1M1732.8 246.1h1M1733.2 290.1h1M1733.7 294.9h1M1733.8 288.5h1M1733.4 292.8h1M1733.1 288.0h1M1733.9 282.4h1M1734.8 289.7h1M1734.2 224.1h1M1734.4 269.2h1M1734.8 286.2h1M1733.1 249.5h1M1733.9 283.3h1M1733.5 286.5h1M1733.1 289.1h1M1734.0 279.2h1M1733.7 295.2h1M1732.8 289.1h1M1734.5 292.7h1M1733.5 270.4h1M1732.8 288.6h1M1733.9 271.1h1M1734.3 289.8h1M1734.1 278.1h1M1734.5 257.5h1M1733.5 273.6h1M1733.9 292.3h1M1733.7 278.7h1M1735.1 293.1h1M1735.0 288.0h1M1733.7 263.0h1M1733.4 263.1h1M1734.7 290.1h1M1733.4 294.2h1M1733.8 269.2h1M1733.5 279.6h1M1734.7 276.9h1M1734.6 290.8h1M1733.6 279.6h1M1734.2 287.5h1M1733.4 284.2h1M1734.2 282.3h1M1733.3 246.9h1M1735.1 290.7h1M1734.9 260.1h1M1733.7 285.5h1M1735.1 287.6h1M1733.9 266.8h1M1733.3 259.5h1M1734.9 293.2h1M1735.2 288.5h1M1734.2 294.3h1M1733.0 268.8h1M1732.8 276.3h1M1734.6 251.2h1M1734.6 281.0h1M1734.1 289.0h1M1734.0 287.6h1M1734.9 294.5h1M1734.2 237.3h1M1734.9 289.7h1M1734.3 294.0h1M1733.8 233.9h1M1733.1 295.2h1M1733.3 290.1h1M1733.5 285.6h1M1735.6 273.8h1M1733.4 290.7h1M1735.9 282.0h1M1733.8 287.9h1M1734.0 285.5h1M1733.7 280.0h1M1733.2 273.1h1M1733.7 279.4h1M1733.4 288.1h1M1733.6 289.6h1M1732.4 241.8h1M1733.3 278.8h1M1734.3 292.4h1M1733.4 287.5h1M1734.0 289.0h1M1733.1 293.8h1M1732.3 263.8h1M1733.0 293.1h1M1733.8 246.1h1M1732.5 287.8h1M1733.1 286.8h1M1733.6 294.2h1M1733.8 294.3h1M1734.0 287.7h1M1734.3 292.2h1M1734.3 237.3h1M1732.6 260.5h1M1732.6 259.0h1M1735.0 290.8h1M1734.1 290.8h1M1732.7 287.6h1M1733.7 239.4h1M1734.4 291.6h1M1734.1 293.5h1M1733.6 284.3h1M1734.2 291.6h1M1733.2 291.7h1M1732.9 248.4h1M1734.2 286.6h1M1733.5 290.7h1M1733.8 288.4h1M1733.4 291.3h1M1734.3 258.2h1M1733.4 285.1h1M1734.9 272.2h1M1733.2 289.6h1M1734.3 289.5h1M1733.9 255.5h1M1733.9 261.1h1M1733.1 293.6h1M1733.1 294.0h1M1734.2 288.0h1M1733.7 292.8h1M1733.5 274.7h1M1734.6 291.0h1M1734.0 287.5h1M1733.5 291.2h1M1734.4 293.3h1M1733.1 274.4h1M1734.9 295.2h1M1732.7 239.4h1M1734.5 294.3h1M1734.3 276.7h1M1733.8 293.3h1M1733.3 276.6h1M1733.2 272.4h1M1733.6 288.5h1M1734.2 292.3h1M1733.6 269.0h1M1732.3 282.9h1M1734.4 272.0h1M1734.2 290.7h1M1733.1 293.4h1M1734.5 291.0h1M1732.4 280.4h1M1734.1 288.0h1M1733.2 289.6h1M1734.3 289.0h1M1733.2 290.7h1M1733.0 283.9h1M1734.4 271.8h1M1733.1 287.1h1M1734.4 285.6h1M1733.6 291.7h1M1733.5 289.9h1M1734.5 288.7h1M1734.4 254.0h1M1733.3 295.0h1M1734.6 281.6h1M1734.0 243.6h1M1734.3 247.4h1M1733.3 248.3h1M1733.2 265.6h1M1733.3 263.1h1M1732.9 291.6h1M1735.0 294.1h1M1732.9 269.5h1M1733.9 292.0h1M1732.9 288.4h1M1734.4 270.0h1M1735.2 287.6h1M1734.3 291.7h1M1734.4 268.7h1M1734.9 292.3h1M1734.2 282.8h1M1746.5 279.0h1M1746.3 274.6h1M1746.4 256.6h1M1745.9 294.5h1M1746.3 289.1h1M1746.5 281.6h1M1745.2 287.9h1M1746.6 266.7h1M1746.0 259.4h1M1746.5 276.1h1M1746.8 255.8h1M1744.7 272.0h1M1745.7 264.8h1M1746.8 263.7h1M1745.4 252.4h1M1745.8 262.4h1M1745.4 290.7h1M1745.9 274.7h1M1745.7 276.6h1M1747.0 292.2h1M1746.3 231.3h1M1746.8 262.4h1M1745.5 264.2h1M1745.2 288.0h1M1746.5 256.4h1M1745.2 250.2h1M1745.2 286.8h1M1744.7 291.0h1M1746.2 240.1h1M1747.0 289.3h1M1745.6 272.5h1M1746.4 271.6h1M1746.2 293.9h1M1746.2 276.8h1M1746.9 288.9h1M1747.2 274.8h1M1745.8 273.8h1M1747.6 260.3h1M1745.7 274.1h1M1746.5 258.5h1M1746.7 259.3h1M1745.4 250.7h1M1746.7 267.8h1M1746.0 269.7h1M1746.8 273.8h1M1746.0 273.3h1M1746.6 276.3h1M1746.5 273.2h1M1745.5 253.3h1M1745.9 268.7h1M1744.7 267.4h1M1746.7 258.7h1M1746.5 287.3h1M1746.1 278.8h1M1745.9 280.7h1M1745.6 276.3h1M1745.1 274.4h1M1745.5 276.9h1M1745.9 248.2h1M1746.2 260.9h1M1745.6 255.7h1M1744.5 294.2h1M1745.9 261.9h1M1745.5 290.6h1M1745.1 267.8h1M1746.5 265.4h1M1746.8 264.1h1M1745.7 289.8h1M1746.6 283.4h1M1745.1 275.2h1M1745.5 251.1h1M1746.2 285.6h1M1746.0 253.8h1M1745.3 262.0h1M1745.6 281.5h1M1745.8 293.3h1M1746.1 257.6h1M1745.4 273.5h1M1746.1 263.5h1M1745.4 292.5h1M1745.2 229.4h1M1745.5 276.1h1M1746.8 273.9h1M1745.1 263.9h1M1745.5 273.3h1M1745.4 257.0h1M1745.5 260.5h1M1746.5 275.7h1M1745.6 266.6h1M1746.2 266.3h1M1746.3 279.0h1M1746.6 270.8h1M1746.0 270.6h1M1744.5 281.9h1M1746.6 271.4h1M1745.9 252.5h1M1745.4 251.1h1M1746.0 246.0h1M1746.8 260.4h1M1746.5 272.0h1M1745.9 290.0h1M1746.4 260.5h1M1746.1 277.0h1M1746.4 293.2h1M1747.3 278.2h1M1745.3 230.1h1M1745.3 263.8h1M1746.6 225.7h1M1746.1 258.5h1M1746.5 271.3h1M1770.5 278.2h1M1770.8 276.0h1M1771.3 260.8h1M1770.0 248.3h1M1770.0 262.6h1M1770.9 210.7h1M1771.6 280.5h1M1770.5 270.1h1M1771.4 286.9h1M1770.8 283.7h1M1769.0 255.2h1M1770.6 281.4h1M1769.6 282.9h1M1770.1 256.1h1M1770.3 253.2h1M1770.6 257.7h1M1770.3 277.8h1M1771.4 269.6h1M1770.6 223.7h1M1770.7 255.6h1M1769.8 293.6h1M1769.9 282.4h1M1770.2 261.0h1M1769.8 285.8h1M1769.9 252.8h1M1770.8 261.5h1M1769.7 269.0h1M1770.6 271.7h1M1771.5 247.7h1M1770.7 264.6h1M1770.2 279.3h1M1769.6 260.0h1M1770.0 282.8h1M1770.2 275.2h1M1770.8 273.1h1M1770.6 266.8h1M1770.0 290.8h1M1770.5 238.0h1M1771.3 282.6h1M1770.0 253.6h1M1770.4 283.9h1M1771.4 246.1h1M1768.7 285.1h1M1770.8 255.8h1M1770.2 293.7h1M1769.7 288.3h1M1770.1 293.8h1M1771.0 286.5h1M1770.3 258.7h1M1770.0 283.8h1M1770.3 268.8h1M1770.4 291.7h1M1769.8 249.6h1M1770.9 266.4h1M1770.6 268.3h1M1770.8 292.3h1M1770.7 290.3h1M1770.9 268.3h1M1770.4 278.3h1M1769.4 214.2h1M1770.4 234.1h1M1770.0 289.0h1M1770.5 261.4h1M1771.9 289.0h1M1769.4 270.1h1M1769.8 268.3h1M1768.3 261.9h1M1770.1 245.0h1M1771.1 232.7h1M1770.5 281.6h1M1770.7 247.7h1M1770.3 248.3h1M1769.5 258.8h1M1769.9 276.7h1M1771.0 282.8h1M1771.1 257.5h1M1770.6 277.2h1M1770.6 267.0h1M1771.1 292.2h1M1770.3 250.0h1M1770.6 267.0h1M1770.7 273.1h1M1770.1 254.8h1M1770.4 252.3h1M1770.3 244.0h1M1769.3 260.7h1M1770.1 251.2h1M1769.1 280.8h1M1770.6 266.4h1M1771.7 294.2h1M1770.7 269.2h1M1770.4 258.8h1M1771.0 242.9h1M1770.7 231.2h1M1769.3 275.9h1M1770.4 246.0h1M1770.7 285.0h1M1769.2 267.5h1M1769.6 250.2h1M1771.4 265.6h1M1770.8 283.0h1M1770.4 292.8h1M1770.4 267.9h1M1770.1 285.9h1M1769.1 209.6h1M1770.5 267.5h1M1769.9 291.8h1M1770.6 288.9h1M1770.7 281.7h1M1770.6 272.2h1M1770.6 276.4h1M1770.3 250.9h1M1771.1 254.7h1M1769.5 259.2h1M1770.6 290.6h1M1771.3 247.2h1M1769.7 290.9h1M1769.3 264.3h1M1771.6 215.2h1M1770.9 286.0h1M1770.6 262.3h1M1769.0 245.9h1M1770.0 291.1h1M1770.2 281.4h1M1769.4 227.2h1M1770.6 245.8h1M1770.1 269.9h1M1770.5 281.5h1M1769.7 252.5h1M1769.6 265.2h1M1770.8 237.6h1M1771.0 276.5h1M1769.5 286.9h1M1771.2 286.7h1M1770.6 265.4h1M1770.4 280.2h1M1771.0 249.4h1M1769.8 267.2h1M1770.8 281.3h1M1769.7 267.4h1M1770.7 274.2h1M1768.5 234.4h1M1771.2 253.9h1M1770.8 250.5h1M1770.2 278.8h1M1770.2 289.8h1M1771.1 275.6h1M1769.4 285.0h1M1769.6 274.9h1M1771.4 294.0h1M1769.8 250.4h1M1771.7 247.2h1M1770.8 263.6h1M1770.5 257.0h1M1768.6 260.1h1M1770.1 244.4h1M1770.6 276.7h1M1768.7 270.8h1M1770.8 277.6h1M1770.3 286.7h1M1770.2 271.6h1M1770.8 270.2h1M1770.1 274.8h1M1770.8 267.9h1M1769.6 269.6h1M1770.4 291.5h1M1770.5 261.8h1M1771.4 287.4h1M1770.0 260.7h1M1770.4 269.9h1M1770.4 276.9h1M1771.0 253.2h1M1769.6 276.7h1M1769.8 222.0h1M1770.0 282.5h1M1771.3 291.5h1M1769.9 264.2h1M1769.6 254.5h1M1770.4 280.2h1M1771.5 293.4h1M1770.0 276.3h1M1770.0 261.9h1M1771.3 260.4h1M1769.6 281.1h1M1770.9 269.9h1M1770.8 294.0h1M1770.7 264.2h1M1770.2 259.7h1M1770.0 282.4h1M1770.6 282.1h1M1770.8 279.1h1M1771.0 247.4h1M1770.0 262.9h1M1770.7 267.0h1M1770.0 293.1h1M1769.9 253.0h1M1770.2 272.3h1M1769.8 261.0h1M1770.2 276.3h1M1770.8 258.8h1M1770.3 274.4h1M1770.4 234.8h1M1770.6 283.4h1M1770.8 286.0h1M1771.5 270.6h1M1769.3 293.0h1M1770.1 266.3h1M1768.9 274.6h1M1769.8 284.6h1M1770.3 290.0h1M1769.5 278.0h1M1770.4 272.0h1M1770.3 248.9h1M1770.2 274.2h1M1770.5 263.2h1M1769.8 291.3h1M1770.7 250.1h1M1770.5 270.5h1M1769.7 273.2h1M1770.1 227.2h1M1770.9 295.1h1M1771.7 294.2h1M1772.0 275.5h1M1770.2 228.1h1M1769.9 268.8h1M1770.8 272.7h1M1770.5 233.7h1M1770.3 280.2h1M1769.9 227.8h1M1771.3 280.3h1M1769.8 256.9h1M1770.3 235.2h1M1770.6 279.1h1M1770.4 282.1h1M1770.4 270.5h1M1771.2 261.3h1M1770.6 262.5h1M1771.0 280.9h1M1770.1 253.7h1M1771.7 264.8h1M1769.1 284.7h1M1771.1 244.7h1M1770.1 231.1h1M1770.4 257.2h1M1770.5 279.6h1M1770.5 262.6h1M1770.1 271.1h1M1770.1 258.3h1M1770.3 276.8h1M1770.4 272.9h1M1770.7 268.7h1M1770.9 270.6h1M1768.8 266.8h1M1770.7 288.4h1M1771.0 280.0h1M1771.0 272.8h1M1769.3 295.2h1M1770.4 240.7h1M1769.7 259.1h1M1770.2 278.1h1M1771.0 259.0h1M1770.3 264.8h1M1770.9 290.8h1M1769.8 243.1h1M1770.8 252.4h1M1770.5 293.8h1M1770.0 261.8h1M1770.5 280.2h1M1770.1 293.8h1M1769.6 294.9h1M1771.5 256.2h1M1770.5 293.1h1M1770.2 281.4h1M1770.9 259.0h1M1769.4 280.0h1M1769.6 245.8h1M1770.6 293.8h1M1770.3 248.7h1M1770.4 261.6h1M1770.9 269.1h1M1769.9 284.0h1M1770.4 285.4h1M1770.9 291.7h1M1770.6 290.5h1M1770.4 293.7h1M1769.9 277.2h1M1769.9 247.4h1M1771.1 278.2h1M1771.2 267.4h1M1770.5 246.7h1M1771.0 283.6h1M1770.0 276.6h1M1769.9 293.7h1M1770.6 259.3h1M1770.5 285.1h1M1770.0 251.2h1M1769.5 264.7h1M1771.1 272.7h1M1770.9 255.6h1M1769.9 292.8h1M1769.8 233.0h1M1771.1 257.2h1M1770.2 288.2h1M1770.7 283.0h1M1769.5 263.7h1M1770.2 294.9h1M1770.1 292.6h1M1770.8 294.1h1M1770.8 281.6h1M1770.9 252.9h1M1770.1 241.2h1M1769.9 254.1h1M1769.7 205.1h1M1770.1 277.9h1M1770.4 292.0h1M1770.5 290.7h1M1770.0 247.3h1M1770.2 270.8h1M1769.5 292.9h1M1769.0 283.1h1M1782.4 293.2h1M1782.6 277.4h1M1782.2 208.0h1M1782.0 273.5h1M1782.4 253.9h1M1782.9 250.9h1M1783.1 253.8h1M1783.0 269.8h1M1783.1 283.2h1M1781.4 253.7h1M1782.5 280.3h1M1782.6 259.9h1M1783.3 291.6h1M1781.2 280.8h1M1782.3 279.6h1M1782.3 259.3h1M1782.6 259.3h1M1782.5 270.7h1M1782.6 237.1h1M1782.1 221.9h1M1782.5 264.7h1M1782.7 277.0h1M1781.3 258.8h1M1781.8 246.3h1M1782.7 258.9h1M1783.5 251.9h1M1782.0 275.8h1M1781.9 248.8h1M1782.7 250.9h1M1782.5 256.8h1M1782.9 281.1h1M1781.3 270.7h1M1782.3 242.2h1M1782.9 230.8h1M1781.7 278.1h1M1782.4 274.1h1M1781.1 276.7h1M1782.6 255.7h1M1782.5 273.4h1M1782.7 261.7h1M1781.1 240.6h1M1783.6 275.1h1M1782.0 279.9h1M1782.6 275.1h1M1782.4 262.0h1M1781.6 282.1h1M1782.3 243.1h1M1783.0 276.7h1M1782.1 273.0h1M1782.6 277.5h1M1783.1 251.0h1M1782.0 265.2h1M1782.9 284.8h1M1782.8 289.5h1M1782.6 260.6h1M1781.5 265.1h1M1783.1 276.6h1M1781.8 239.4h1M1783.1 269.0h1M1781.6 286.0h1M1782.5 263.3h1M1783.1 248.3h1M1783.0 273.1h1M1783.2 277.4h1M1781.6 260.7h1M1782.4 274.5h1M1782.8 231.6h1M1783.2 233.3h1M1781.7 254.6h1M1782.7 280.2h1M1782.2 267.0h1M1782.3 274.9h1M1783.1 277.1h1M1781.8 280.3h1M1783.1 265.0h1M1782.6 271.0h1M1783.8 294.3h1M1782.0 283.8h1M1781.9 271.8h1M1783.0 285.8h1M1782.5 261.1h1M1783.4 286.7h1M1782.3 274.2h1M1782.3 239.5h1M1781.9 278.3h1M1781.3 251.9h1M1783.5 260.0h1M1781.6 204.0h1M1783.6 261.4h1M1782.2 272.7h1M1783.0 240.6h1M1782.9 227.3h1M1781.6 270.7h1M1782.1 238.5h1M1783.4 272.7h1M1782.7 268.0h1M1783.4 238.8h1M1782.0 197.8h1M1782.2 289.2h1M1782.6 273.4h1M1782.1 280.5h1M1782.7 241.6h1M1781.9 283.7h1M1782.2 260.5h1M1781.9 265.7h1M1782.6 231.8h1M1782.7 269.4h1M1782.7 252.0h1M1781.5 249.5h1M1783.8 256.0h1M1807.2 294.3h1M1807.4 142.8h1M1806.0 293.1h1M1806.1 227.9h1M1806.1 272.7h1M1807.2 223.4h1M1805.4 153.1h1M1806.0 192.6h1M1807.6 255.5h1M1807.7 243.7h1M1807.2 217.7h1M1806.1 178.4h1M1806.8 189.5h1M1807.3 194.4h1M1807.0 215.0h1M1806.9 269.2h1M1807.1 293.6h1M1807.2 230.7h1M1806.9 268.0h1M1806.0 268.1h1M1806.9 287.9h1M1806.8 263.9h1M1807.5 242.6h1M1806.6 263.3h1M1804.5 248.7h1M1806.3 162.1h1M1807.3 276.5h1M1807.6 198.6h1M1807.2 172.2h1M1806.8 264.1h1M1807.7 258.3h1M1807.1 200.6h1M1806.9 209.7h1M1808.0 242.4h1M1806.5 274.9h1M1807.9 292.7h1M1806.0 213.0h1M1807.0 112.3h1M1805.7 256.3h1M1807.2 206.6h1M1806.3 180.7h1M1806.1 271.9h1M1806.3 270.9h1M1807.8 291.2h1M1807.0 204.4h1M1806.6 253.2h1M1807.1 237.3h1M1806.9 248.6h1M1807.7 189.4h1M1806.6 221.1h1M1806.6 147.0h1M1807.2 271.6h1M1806.9 204.6h1M1807.4 237.9h1M1806.8 129.1h1M1806.3 115.9h1M1805.7 206.7h1M1805.8 135.9h1M1806.2 280.7h1M1806.3 209.4h1M1806.8 130.1h1M1808.1 232.8h1M1806.9 205.2h1M1807.3 173.6h1M1805.6 176.9h1M1806.4 253.3h1M1807.1 243.4h1M1806.7 221.1h1M1805.9 109.2h1M1806.6 225.1h1M1806.9 137.0h1M1807.0 183.6h1M1806.2 238.3h1M1806.5 233.2h1M1807.0 135.2h1M1806.7 211.7h1M1807.5 236.0h1M1807.0 238.2h1M1806.9 237.3h1M1806.1 243.9h1M1807.4 159.9h1M1806.6 176.6h1M1806.5 233.9h1M1806.0 218.7h1M1807.6 201.4h1M1806.2 292.4h1M1806.7 239.4h1M1806.7 239.6h1M1806.6 275.1h1M1806.4 209.4h1M1806.4 259.5h1M1806.1 146.5h1M1806.8 278.9h1M1806.7 225.4h1M1807.4 154.5h1M1806.9 186.6h1M1807.0 102.6h1M1806.4 198.8h1M1806.2 125.4h1M1806.3 123.2h1M1806.5 240.3h1M1805.3 278.9h1M1806.3 265.0h1M1807.6 276.9h1M1806.6 195.2h1M1806.5 190.3h1M1806.6 219.1h1M1807.6 212.1h1M1806.5 241.6h1M1806.9 291.4h1M1806.1 268.3h1M1806.4 207.1h1M1808.0 222.5h1M1807.1 274.6h1M1806.3 102.7h1M1806.8 223.7h1M1806.5 192.0h1M1807.4 286.0h1M1807.8 134.9h1M1806.8 246.6h1M1805.4 252.7h1M1805.9 159.5h1M1807.3 266.3h1M1806.3 220.5h1M1807.0 231.7h1M1806.3 281.9h1M1807.8 283.6h1M1807.1 142.6h1M1807.6 224.7h1M1806.2 250.9h1M1806.5 282.9h1M1807.5 286.1h1M1806.8 256.0h1M1805.5 256.5h1M1807.5 265.8h1M1806.7 234.1h1M1806.7 229.1h1M1805.5 225.4h1M1806.2 246.1h1M1806.0 177.5h1M1806.8 281.3h1M1807.5 111.6h1M1807.0 160.8h1M1806.8 293.4h1M1806.8 146.8h1M1807.1 202.3h1M1807.6 116.9h1M1806.6 136.4h1M1807.9 101.7h1M1807.6 254.7h1M1806.9 199.9h1M1807.9 267.8h1M1807.2 182.4h1M1805.7 235.3h1M1807.1 78.6h1M1807.8 235.6h1M1808.2 284.9h1M1806.3 190.1h1M1805.9 275.9h1M1808.0 179.2h1M1805.6 286.3h1M1807.6 248.7h1M1806.9 207.2h1M1806.6 259.4h1M1806.8 147.1h1M1806.5 275.0h1M1806.5 261.6h1M1807.2 236.8h1M1805.7 153.7h1M1806.2 279.1h1M1807.0 197.0h1M1806.7 285.2h1M1807.1 198.5h1M1806.6 180.9h1M1806.9 226.3h1M1806.5 174.8h1M1806.9 262.7h1M1806.2 243.9h1M1806.1 183.1h1M1806.8 216.3h1M1806.5 158.8h1M1806.4 287.5h1M1805.9 237.2h1M1807.1 232.6h1M1807.4 255.3h1M1805.8 274.9h1M1807.0 261.8h1M1807.2 211.8h1M1806.1 211.6h1M1807.3 119.8h1M1806.2 142.5h1M1806.2 171.2h1M1806.3 266.3h1M1806.6 231.3h1M1806.2 268.4h1M1805.6 253.0h1M1807.4 235.9h1M1807.1 140.3h1M1808.1 216.3h1M1807.7 230.0h1M1819.5 228.8h1M1818.3 231.9h1M1843.5 259.3h1M1842.8 254.2h1M1844.2 222.9h1M1843.5 205.5h1M1843.1 289.2h1M1844.3 178.2h1M1843.5 264.0h1M1842.9 293.6h1M1844.0 249.5h1M1844.1 209.4h1M1842.2 246.7h1M1843.4 286.9h1M1843.1 286.5h1M1844.0 207.2h1M1843.9 281.2h1M1843.0 143.1h1M1843.5 251.8h1M1843.1 264.0h1M1842.7 256.4h1M1843.8 244.4h1M1844.2 243.7h1M1842.5 269.5h1M1843.7 179.4h1M1843.5 275.7h1M1842.1 205.7h1M1843.4 270.2h1M1843.1 258.7h1M1842.9 231.5h1M1843.4 247.5h1M1843.0 194.6h1M1844.2 290.0h1M1844.2 282.7h1M1842.8 264.6h1M1843.6 282.5h1M1843.0 254.5h1M1843.6 266.2h1M1842.8 210.7h1M1843.7 268.2h1M1842.5 242.8h1M1843.3 188.9h1M1843.2 294.3h1M1842.9 167.3h1M1844.5 283.2h1M1842.8 254.1h1M1843.3 285.5h1M1844.0 257.8h1M1843.3 243.0h1M1843.4 203.8h1M1843.4 260.0h1M1844.9 202.9h1M1842.9 236.4h1M1842.9 280.1h1M1843.5 291.1h1M1843.4 243.1h1M1843.6 210.6h1M1842.3 272.5h1M1843.6 295.1h1M1842.9 265.1h1M1841.6 242.9h1M1843.9 286.5h1M1842.9 222.2h1M1843.7 255.7h1M1842.9 180.7h1M1843.3 247.8h1M1844.6 169.7h1M1842.6 232.9h1M1843.5 218.2h1M1842.4 234.3h1M1844.7 198.7h1M1842.6 193.0h1M1843.1 246.4h1M1844.4 254.9h1M1843.2 284.5h1M1843.1 285.2h1M1843.2 250.9h1M1842.8 227.4h1M1843.1 290.7h1M1842.3 288.7h1M1842.0 295.0h1M1842.5 255.5h1M1843.2 210.6h1M1844.0 227.4h1M1843.6 248.0h1M1844.2 258.5h1M1842.4 241.7h1M1843.2 269.9h1M1842.7 276.3h1M1843.5 265.1h1M1843.7 287.9h1M1843.1 225.8h1M1843.8 266.9h1M1843.5 271.4h1M1844.6 142.5h1M1843.5 293.4h1M1843.1 257.2h1M1842.3 217.4h1M1842.7 285.9h1M1842.8 215.6h1M1843.3 272.1h1M1843.4 209.9h1M1843.9 267.0h1M1843.2 237.8h1M1843.6 294.1h1M1843.8 286.2h1M1842.9 237.9h1M1843.3 257.4h1M1843.9 240.6h1M1842.6 157.7h1M1843.8 226.4h1M1844.2 271.1h1M1843.9 244.6h1M1843.9 236.1h1M1844.2 143.2h1M1843.4 166.8h1M1843.3 289.5h1M1842.8 218.9h1M1843.1 274.9h1M1843.0 290.9h1M1844.4 240.4h1M1842.9 195.8h1M1841.9 230.0h1M1843.4 274.6h1M1843.2 280.6h1M1842.9 263.3h1M1843.1 248.8h1M1844.4 267.6h1M1842.9 275.5h1M1843.1 252.5h1M1843.5 198.8h1M1842.8 201.5h1M1843.5 288.3h1M1843.4 168.4h1M1843.5 290.7h1M1843.9 261.3h1M1843.3 291.6h1M1842.8 288.8h1M1842.9 277.3h1M1844.0 282.1h1M1843.1 255.9h1M1843.3 293.3h1M1842.6 213.0h1M1843.1 293.8h1M1843.2 276.5h1M1843.2 230.7h1M1841.8 267.6h1M1843.5 223.4h1M1843.2 274.9h1M1843.4 283.3h1M1843.6 255.6h1M1842.9 277.8h1M1843.5 224.4h1M1843.3 202.4h1M1843.3 293.7h1M1842.6 191.7h1M1843.2 243.7h1M1844.2 216.4h1M1842.9 249.2h1M1844.3 263.0h1M1843.4 263.0h1M1844.9 274.9h1M1842.1 267.5h1M1842.7 285.7h1M1844.1 226.7h1M1843.0 236.8h1M1843.0 242.7h1M1842.7 266.2h1M1843.0 255.8h1M1843.1 272.5h1M1843.6 255.7h1M1843.7 253.4h1M1842.6 210.6h1M1843.7 258.8h1M1843.6 261.1h1M1843.2 259.3h1M1843.3 274.9h1M1843.3 277.0h1M1843.2 261.0h1M1843.2 269.6h1M1843.2 239.9h1M1843.1 277.7h1M1843.9 212.2h1M1842.9 182.1h1M1843.5 242.2h1M1842.7 218.9h1M1842.9 214.7h1M1843.0 189.2h1M1843.7 259.4h1M1843.0 277.3h1M1843.0 287.9h1M1842.6 205.4h1M1843.4 247.0h1M1843.3 142.7h1M1844.6 281.4h1M1842.2 226.8h1M1842.7 277.7h1M1843.2 236.1h1M1843.3 251.9h1M1843.8 244.1h1M1843.2 277.8h1M1842.6 216.9h1M1842.8 182.8h1M1843.8 173.3h1M1843.0 268.4h1M1842.7 271.6h1M1843.8 276.2h1M1844.2 163.3h1M1843.4 157.0h1M1843.1 277.6h1M1843.6 266.7h1M1842.6 293.7h1M1842.6 237.9h1M1843.3 202.5h1M1843.5 294.3h1M1842.6 244.2h1M1842.7 273.7h1M1843.2 234.3h1M1843.5 259.0h1M1843.8 288.1h1M1843.7 265.7h1M1844.3 207.3h1M1843.6 225.6h1M1844.1 234.4h1M1843.7 159.5h1M1843.6 204.0h1M1842.8 274.2h1M1843.5 247.2h1M1844.1 294.3h1M1844.4 267.5h1M1843.0 215.8h1M1842.9 237.7h1M1841.3 221.7h1M1842.7 207.0h1M1843.4 201.1h1M1843.4 197.4h1M1843.7 250.1h1M1844.0 280.3h1M1843.1 249.4h1M1843.1 245.1h1M1842.7 291.6h1M1843.5 256.4h1M1842.8 264.2h1M1842.6 191.0h1M1843.6 277.0h1M1843.3 277.2h1M1843.7 226.9h1M1843.8 257.4h1M1844.3 292.0h1M1842.8 271.3h1M1842.9 271.1h1M1842.9 243.0h1M1843.0 269.3h1M1842.8 241.7h1M1843.2 286.4h1M1843.7 218.7h1M1843.2 287.9h1M1842.6 213.7h1M1843.5 255.4h1M1842.7 277.5h1M1842.9 259.2h1M1842.0 255.0h1M1842.5 238.7h1M1841.7 283.5h1M1843.0 214.6h1M1842.6 251.6h1M1843.6 275.7h1M1843.9 223.6h1M1844.1 241.3h1M1843.6 243.4h1M1842.5 281.0h1M1843.0 277.1h1M1855.8 250.9h1M1855.9 168.6h1M1854.9 124.6h1M1855.4 277.6h1M1854.9 256.2h1M1856.2 278.4h1M1855.3 261.5h1M1854.2 178.5h1M1855.2 252.0h1M1855.4 218.6h1M1855.6 263.4h1M1856.0 123.9h1M1855.7 163.2h1M1856.2 249.1h1M1855.2 105.4h1M1855.2 227.5h1M1854.9 139.6h1M1855.6 130.7h1M1856.0 163.4h1M1855.7 117.7h1M1855.1 194.5h1M1855.1 158.5h1M1855.9 146.4h1M1856.3 260.6h1M1854.8 252.3h1M1856.2 220.2h1M1855.4 252.0h1M1856.0 125.6h1M1855.6 253.2h1M1855.3 200.2h1M1855.0 248.3h1M1855.3 293.8h1M1855.5 282.3h1M1855.8 283.7h1M1855.6 202.6h1M1855.2 202.0h1M1855.6 246.8h1M1855.9 147.3h1M1855.2 256.1h1M1855.5 275.4h1M1857.2 197.3h1M1854.7 217.3h1M1855.8 238.8h1M1855.4 258.0h1M1856.4 276.7h1M1855.7 117.3h1M1855.5 186.7h1M1856.1 246.7h1M1854.8 198.9h1M1855.3 260.4h1M1854.8 292.8h1M1855.3 282.0h1M1855.7 237.6h1M1856.0 216.3h1M1855.8 166.4h1M1854.8 231.2h1M1856.6 275.4h1M1856.0 107.4h1M1855.6 187.7h1M1854.6 249.1h1M1854.1 216.4h1M1855.4 272.9h1M1856.2 200.8h1M1855.7 254.9h1M1855.0 259.1h1M1854.4 185.6h1M1854.8 163.3h1M1856.4 248.5h1M1856.2 185.8h1M1855.3 209.4h1M1855.4 259.3h1M1854.5 258.3h1M1854.8 252.6h1M1854.7 187.0h1M1855.9 149.5h1M1856.6 189.2h1M1856.2 260.0h1M1854.5 167.3h1M1855.1 294.5h1M1856.3 128.4h1M1856.9 213.8h1M1856.2 246.7h1M1855.4 244.1h1M1856.0 107.4h1M1856.0 294.5h1M1855.8 270.3h1M1854.6 153.4h1M1855.9 267.7h1M1855.1 278.7h1M1855.7 274.7h1M1855.1 177.8h1M1855.4 269.1h1M1856.1 177.8h1M1856.8 258.6h1M1855.0 223.2h1M1855.9 247.7h1M1856.5 247.9h1M1856.0 180.5h1M1856.0 250.7h1M1854.6 252.6h1M1854.4 193.8h1M1855.2 283.9h1M1855.8 161.7h1M1857.1 259.3h1M1854.8 119.0h1M1854.7 191.5h1M1854.5 251.2h1M1855.5 166.3h1M1856.0 247.2h1M1855.0 213.6h1M1854.9 235.5h1M1855.5 218.2h1M1854.9 206.2h1M1855.1 201.8h1M1855.0 257.7h1M1855.2 162.6h1M1855.7 256.8h1M1855.4 205.5h1M1855.3 202.7h1M1854.8 251.9h1M1855.9 260.6h1M1855.1 201.9h1M1855.5 280.7h1M1855.6 224.1h1M1854.7 262.5h1M1855.8 230.6h1M1854.8 200.6h1M1855.2 254.9h1M1855.3 152.3h1M1855.6 255.8h1M1855.7 257.6h1M1855.5 247.8h1M1855.7 274.8h1M1856.9 264.2h1M1855.2 276.6h1M1855.4 240.2h1M1854.9 257.5h1M1856.2 269.6h1M1855.2 138.7h1M1856.2 279.2h1M1856.7 268.3h1M1856.5 172.2h1M1856.0 220.6h1M1856.0 229.9h1M1855.5 195.3h1M1855.3 236.4h1M1855.0 268.9h1M1856.0 247.7h1M1856.4 191.6h1M1855.8 260.6h1M1880.2 220.2h1M1880.1 175.4h1M1879.2 193.7h1M1879.6 109.5h1M1879.2 252.1h1M1880.8 188.2h1M1879.3 207.0h1M1879.5 232.2h1M1880.1 281.3h1M1880.0 190.3h1M1880.3 188.0h1M1879.4 213.5h1M1880.2 245.4h1M1879.9 247.2h1M1878.8 211.2h1M1880.7 148.9h1M1880.1 203.5h1M1879.9 261.7h1M1879.9 291.7h1M1878.7 179.9h1M1879.8 231.1h1M1879.5 179.0h1M1880.1 108.8h1M1878.4 220.7h1M1879.8 265.4h1M1879.5 203.9h1M1878.8 167.5h1M1879.6 169.4h1M1879.1 251.7h1M1880.9 230.0h1M1880.5 213.5h1M1879.3 275.5h1M1879.4 234.3h1M1879.5 208.1h1M1880.8 213.4h1M1880.5 218.3h1M1880.3 293.9h1M1879.3 287.1h1M1880.8 152.2h1M1880.3 211.1h1M1881.1 201.6h1M1879.2 178.0h1M1879.7 212.8h1M1879.8 196.9h1M1879.5 292.0h1M1879.4 213.5h1M1880.4 272.4h1M1880.3 225.9h1M1881.3 168.5h1M1880.0 214.1h1M1879.0 275.5h1M1880.3 226.8h1M1879.8 236.2h1M1879.2 218.6h1M1879.3 164.0h1M1878.8 238.8h1M1879.8 260.3h1M1879.1 200.6h1M1879.3 234.0h1M1879.8 277.5h1M1892.3 250.2h1M1891.9 244.4h1M1891.0 206.7h1M1891.8 173.9h1M1890.1 231.1h1M1891.6 248.4h1M1892.6 198.0h1M1892.1 166.3h1M1891.6 245.0h1M1891.9 244.4h1M1892.4 291.8h1M1891.2 291.8h1M1892.4 204.5h1M1892.7 181.1h1M1892.9 202.5h1M1890.8 253.5h1M1892.3 191.2h1M1891.8 148.7h1M1892.7 219.2h1M1891.8 181.7h1M1892.6 263.4h1M1891.3 247.0h1M1892.4 231.6h1M1891.3 265.8h1M1893.0 194.6h1M1893.1 294.1h1M1891.7 180.1h1M1891.8 251.5h1M1891.8 293.8h1M1891.7 165.5h1M1891.2 262.0h1M1891.0 274.0h1M1892.3 223.4h1M1891.6 220.6h1M1891.4 248.1h1M1891.8 224.7h1M1891.9 224.9h1M1891.2 198.5h1M1891.7 256.1h1M1891.4 229.7h1M1892.7 277.7h1M1891.0 259.3h1M1891.5 232.7h1M1891.6 229.0h1M1891.9 215.1h1M1893.0 245.0h1M1892.5 243.0h1M1892.2 277.8h1M1892.0 281.5h1M1892.3 254.2h1M1917.2 253.1h1M1915.6 288.1h1M1916.5 231.9h1M1916.4 200.9h1M1917.5 166.3h1M1916.8 197.6h1M1915.9 206.1h1M1916.2 246.8h1M1916.0 251.5h1M1915.8 228.3h1M1916.8 233.4h1M1916.4 229.6h1M1916.5 226.4h1M1915.7 215.2h1M1916.2 231.4h1M1915.6 261.4h1M1917.7 236.4h1M1916.6 234.9h1M1916.6 217.6h1M1915.9 277.6h1M1917.8 280.3h1M1916.7 250.5h1M1917.2 229.6h1M1916.4 178.6h1M1916.7 230.4h1M1916.0 268.3h1M1915.8 238.7h1M1916.6 201.0h1M1916.0 260.2h1M1916.0 190.9h1M1916.3 281.8h1M1916.6 166.7h1M1915.7 254.7h1M1915.5 178.0h1M1915.6 281.0h1M1915.5 237.5h1M1915.8 235.1h1M1915.7 246.3h1M1916.5 286.9h1M1916.3 249.7h1M1917.0 219.8h1M1915.2 183.1h1M1917.0 208.7h1M1916.6 268.1h1M1916.2 267.7h1M1917.4 251.1h1M1916.1 184.9h1M1917.0 203.3h1M1916.0 243.3h1M1915.7 233.7h1M1916.7 273.9h1M1916.6 212.5h1M1916.2 194.4h1M1917.1 219.5h1M1916.9 197.1h1M1915.9 195.3h1M1917.3 248.2h1M1916.4 252.0h1M1917.2 201.1h1M1916.1 182.6h1M1916.3 201.5h1M1916.1 207.2h1M1916.2 235.7h1M1916.3 224.2h1M1916.6 289.8h1M1917.3 244.0h1M1915.8 236.1h1M1915.1 263.7h1M1915.5 265.6h1M1916.3 196.5h1M1916.7 181.3h1M1915.2 194.3h1M1916.6 239.3h1M1916.3 244.2h1M1916.7 235.5h1M1917.4 250.7h1M1915.7 209.3h1M1915.9 257.0h1M1915.6 214.1h1M1916.2 140.5h1M1915.5 233.0h1M1917.4 212.1h1M1915.3 172.3h1M1915.6 236.8h1M1916.4 215.7h1M1916.0 256.7h1M1916.7 239.6h1M1915.7 232.4h1M1916.0 274.4h1M1917.2 286.8h1M1916.4 250.2h1M1916.2 255.7h1M1916.2 249.2h1M1915.0 267.6h1M1916.7 147.8h1M1916.3 270.8h1M1914.7 278.0h1M1915.7 226.5h1M1916.2 293.1h1M1916.6 177.0h1M1916.1 203.4h1M1916.5 209.8h1M1916.9 246.3h1M1916.4 262.3h1M1916.2 228.4h1M1916.2 292.2h1M1916.2 290.1h1M1916.1 192.1h1M1915.7 221.8h1M1917.0 196.5h1M1916.0 208.0h1M1916.6 273.0h1M1915.4 225.5h1M1916.0 226.1h1M1915.3 259.0h1M1917.1 263.9h1M1916.0 170.4h1M1916.6 259.2h1M1917.3 246.3h1M1916.4 263.1h1M1916.7 245.2h1M1915.2 217.4h1M1916.1 193.4h1M1916.5 270.2h1M1915.1 227.9h1M1915.7 245.2h1M1917.0 241.6h1M1915.9 245.9h1M1915.9 216.6h1M1917.5 196.2h1M1916.2 198.7h1M1915.7 260.5h1M1915.5 196.9h1M1916.0 242.9h1M1916.0 228.4h1M1916.5 234.8h1M1915.9 173.2h1M1915.3 209.0h1M1916.7 270.4h1M1916.8 245.2h1M1916.8 277.0h1M1916.8 217.2h1M1916.1 236.7h1M1916.3 226.7h1M1917.1 216.2h1M1915.9 229.3h1M1917.4 251.0h1M1914.6 212.7h1M1916.7 237.2h1M1916.6 203.8h1M1927.8 239.7h1M1929.4 261.3h1M1927.9 242.5h1M1928.7 258.4h1M1928.6 240.4h1M1929.7 276.3h1M1929.6 268.8h1M1928.0 244.7h1M1927.6 262.5h1M1928.8 233.7h1M1929.1 262.1h1M1927.8 248.4h1M1928.8 248.2h1M1929.6 232.2h1M1927.8 255.2h1M1929.2 244.6h1M1929.1 260.4h1M1928.1 273.6h1M1927.3 242.3h1M1928.7 266.6h1M1928.4 244.2h1M1928.8 258.7h1M1928.3 223.5h1M1928.4 267.8h1M1928.0 254.0h1M1928.6 248.7h1M1928.1 254.9h1M1928.6 259.8h1M1927.1 245.3h1M1928.1 266.3h1M1929.2 259.9h1M1928.9 250.6h1M1928.0 267.7h1M1928.0 262.5h1M1928.8 256.1h1M1929.6 262.3h1M1928.3 230.5h1M1928.3 254.7h1M1927.6 215.9h1M1928.7 238.7h1M1929.2 269.8h1M1928.8 252.0h1M1929.0 251.2h1M1927.8 258.2h1M1928.4 246.9h1M1930.0 223.5h1M1928.3 241.7h1M1927.6 250.0h1M1927.7 216.6h1M1928.7 223.5h1M1929.2 254.5h1M1928.8 280.8h1M1929.3 230.9h1M1928.7 246.4h1M1927.5 255.1h1M1927.5 249.6h1M1929.0 247.4h1M1930.3 246.6h1M1928.2 224.6h1M1927.9 252.2h1M1928.8 257.6h1M1929.2 240.4h1M1929.6 210.8h1M1928.8 252.2h1M1929.5 218.7h1M1927.7 219.0h1M1928.4 255.5h1M1928.6 246.3h1M1929.5 240.8h1M1928.3 259.7h1M1928.1 258.5h1M1928.5 257.5h1M1928.2 236.5h1M1927.9 238.4h1M1929.4 287.4h1M1929.5 219.6h1M1929.4 244.1h1M1928.7 217.0h1M1927.8 220.1h1M1929.4 252.7h1M1928.6 237.0h1M1928.9 252.8h1M1928.7 267.3h1M1927.7 257.1h1M1928.6 252.8h1M1929.3 229.5h1M1927.6 241.8h1M1929.4 285.8h1M1928.4 263.7h1M1927.5 250.6h1M1928.6 224.0h1M1928.7 233.5h1M1929.8 241.9h1M1927.9 251.1h1M1928.6 261.7h1M1928.0 263.3h1M1928.2 258.9h1M1929.3 232.2h1M1927.7 277.8h1M1928.1 271.5h1M1928.2 204.3h1M1927.8 264.6h1M1928.8 258.7h1M1928.0 242.0h1M1928.9 229.5h1M1927.5 271.4h1M1927.3 282.0h1M1927.9 227.9h1M1928.1 248.6h1M1929.0 285.4h1M1928.5 290.9h1M1928.2 262.0h1M1927.9 247.8h1M1928.9 195.6h1M1928.2 243.1h1M1928.1 257.9h1M1928.8 278.9h1M1927.6 262.9h1M1927.8 227.1h1M1928.1 253.1h1M1952.4 291.7h1M1952.4 261.3h1M1952.6 245.3h1M1952.4 270.9h1M1953.4 221.7h1M1952.1 290.7h1M1952.2 276.4h1M1954.0 294.8h1M1953.4 285.6h1M1952.7 291.6h1M1952.0 288.6h1M1952.0 250.3h1M1953.2 274.2h1M1952.1 278.8h1M1952.6 268.2h1M1953.0 294.1h1M1951.7 288.4h1M1953.1 262.4h1M1953.2 247.4h1M1952.2 283.6h1M1952.9 294.8h1M1952.7 264.5h1M1953.2 258.9h1M1951.8 290.6h1M1953.0 288.8h1M1953.4 295.3h1M1953.8 282.5h1M1953.1 293.0h1M1954.1 263.3h1M1951.6 272.5h1M1952.9 263.6h1M1953.2 249.7h1M1952.1 292.3h1M1951.7 280.9h1M1953.0 246.6h1M1951.8 262.1h1M1952.9 267.4h1M1952.7 228.6h1M1952.0 286.1h1M1953.2 293.5h1M1953.6 281.0h1M1953.1 283.4h1M1953.6 268.9h1M1952.9 262.4h1M1953.3 292.1h1M1952.4 294.8h1M1954.2 274.8h1M1951.7 250.6h1M1953.8 274.3h1M1952.5 282.2h1M1952.6 279.8h1M1953.0 233.4h1M1952.9 281.7h1M1952.4 292.2h1M1952.9 290.6h1M1953.2 283.8h1M1952.7 280.3h1M1953.5 242.7h1M1953.4 287.5h1M1953.1 287.1h1M1952.5 268.9h1M1951.5 268.7h1M1953.4 285.3h1M1953.2 238.4h1M1951.5 281.4h1M1954.2 282.5h1M1952.6 271.3h1M1952.3 276.3h1M1952.9 282.7h1M1952.5 290.4h1M1953.3 280.8h1M1952.1 237.7h1M1951.7 253.4h1M1951.7 248.6h1M1951.9 281.7h1M1952.3 287.1h1M1952.9 282.4h1M1953.0 272.3h1M1953.8 246.6h1M1952.8 279.2h1M1952.2 272.1h1M1952.7 294.9h1M1952.7 290.2h1M1952.2 295.1h1M1952.5 295.3h1M1952.4 234.8h1M1953.0 253.8h1M1953.6 271.6h1M1953.4 231.0h1M1953.2 294.2h1M1952.3 271.0h1M1952.0 257.6h1M1952.6 283.8h1M1953.2 275.2h1M1953.4 291.3h1M1952.9 288.5h1M1952.6 294.3h1M1952.8 292.7h1M1953.9 287.9h1M1953.0 272.8h1M1953.3 283.6h1M1953.2 261.0h1M1953.4 294.3h1M1952.3 281.1h1M1953.5 273.3h1M1952.2 269.6h1M1952.6 284.5h1M1952.5 278.4h1M1952.5 288.4h1M1953.2 222.3h1" stroke="#000" stroke-opacity="0.75" stroke-width="1" fill="none"/>
<text x="1024.8" y="444.4" font-size="52">D</text>
<text x="1184.3" y="424.2" font-size="22.3" textLength="64.3" lengthAdjust="spacingAndGlyphs">TCGA</text>
<text x="1216.5" y="450.8" font-size="22.3" text-anchor="middle" textLength="38" lengthAdjust="spacingAndGlyphs">n=9</text>
<line x1="1183.5" y1="451.6" x2="1183.5" y2="676.2" stroke="#111" stroke-width="1.8"/>
<line x1="1182.6" y1="675.3" x2="1478" y2="675.3" stroke="#111" stroke-width="1.8"/>
<line x1="1176.5" y1="452.49999999999994" x2="1183.5" y2="452.49999999999994" stroke="#111" stroke-width="1.8"/>
<text x="1170.6" y="463.09999999999997" font-size="23.3" text-anchor="end">18</text>
<line x1="1176.5" y1="508.19999999999993" x2="1183.5" y2="508.19999999999993" stroke="#111" stroke-width="1.8"/>
<text x="1170.6" y="518.8" font-size="23.3" text-anchor="end">16</text>
<line x1="1176.5" y1="563.9" x2="1183.5" y2="563.9" stroke="#111" stroke-width="1.8"/>
<text x="1170.6" y="574.5" font-size="23.3" text-anchor="end">14</text>
<line x1="1176.5" y1="619.5999999999999" x2="1183.5" y2="619.5999999999999" stroke="#111" stroke-width="1.8"/>
<text x="1170.6" y="630.1999999999999" font-size="23.3" text-anchor="end">12</text>
<line x1="1176.5" y1="675.3" x2="1183.5" y2="675.3" stroke="#111" stroke-width="1.8"/>
<text x="1170.6" y="683.9" font-size="23.3" text-anchor="end">10</text>
<line x1="1266.6" y1="675.3" x2="1266.6" y2="681.5" stroke="#111" stroke-width="1.8"/>
<line x1="1433.9" y1="675.3" x2="1433.9" y2="681.5" stroke="#111" stroke-width="1.8"/>
<text x="1268.3" y="703.9" font-size="23.3" text-anchor="middle" textLength="121.5" lengthAdjust="spacingAndGlyphs">Para-tumor</text>
<text x="1431" y="703.9" font-size="23.3" text-anchor="middle" textLength="69.6" lengthAdjust="spacingAndGlyphs">Tumor</text>
<text x="0" y="0" font-size="22.5" text-anchor="middle" textLength="200" lengthAdjust="spacingAndGlyphs" transform="translate(1129,566) rotate(-90)">SVEP1 expression</text>
<line x1="1266.6" y1="461.1" x2="1433.9" y2="461.1" stroke="#111" stroke-width="4.4"/>
<text x="1351.9" y="448.5" font-size="30" text-anchor="middle">*</text>
<line x1="1266.6" y1="485.6" x2="1433.9" y2="518.8" stroke="#111" stroke-width="2.2"/>
<line x1="1266.6" y1="494.3" x2="1433.9" y2="539.4" stroke="#111" stroke-width="2.2"/>
<line x1="1266.6" y1="523.5" x2="1433.9" y2="638.0" stroke="#111" stroke-width="2.2"/>
<line x1="1266.6" y1="531.9" x2="1433.9" y2="629.3" stroke="#111" stroke-width="2.2"/>
<line x1="1266.6" y1="534.1" x2="1433.9" y2="557.5" stroke="#111" stroke-width="2.2"/>
<line x1="1266.6" y1="536.0" x2="1433.9" y2="561.7" stroke="#111" stroke-width="2.2"/>
<line x1="1266.6" y1="537.4" x2="1433.9" y2="586.5" stroke="#111" stroke-width="2.2"/>
<line x1="1266.6" y1="548.9" x2="1433.9" y2="539.4" stroke="#111" stroke-width="2.2"/>
<line x1="1266.6" y1="555.8" x2="1433.9" y2="569.2" stroke="#111" stroke-width="2.2"/>
<circle cx="1266.6" cy="485.6" r="4.6" fill="#2a22e0"/>
<circle cx="1433.9" cy="518.8" r="4.6" fill="#ee2b24"/>
<circle cx="1266.6" cy="494.3" r="4.6" fill="#2a22e0"/>
<circle cx="1433.9" cy="539.4" r="4.6" fill="#ee2b24"/>
<circle cx="1266.6" cy="523.5" r="4.6" fill="#2a22e0"/>
<circle cx="1433.9" cy="638.0" r="4.6" fill="#ee2b24"/>
<circle cx="1266.6" cy="531.9" r="4.6" fill="#2a22e0"/>
<circle cx="1433.9" cy="629.3" r="4.6" fill="#ee2b24"/>
<circle cx="1266.6" cy="534.1" r="4.6" fill="#2a22e0"/>
<circle cx="1433.9" cy="557.5" r="4.6" fill="#ee2b24"/>
<circle cx="1266.6" cy="536.0" r="4.6" fill="#2a22e0"/>
<circle cx="1433.9" cy="561.7" r="4.6" fill="#ee2b24"/>
<circle cx="1266.6" cy="537.4" r="4.6" fill="#2a22e0"/>
<circle cx="1433.9" cy="586.5" r="4.6" fill="#ee2b24"/>
<circle cx="1266.6" cy="548.9" r="4.6" fill="#2a22e0"/>
<circle cx="1433.9" cy="539.4" r="4.6" fill="#ee2b24"/>
<circle cx="1266.6" cy="555.8" r="4.6" fill="#2a22e0"/>
<circle cx="1433.9" cy="569.2" r="4.6" fill="#ee2b24"/>
<text x="1513" y="443.9" font-size="52">E</text>
<text x="1601.6" y="422.9" font-size="22.3" textLength="124" lengthAdjust="spacingAndGlyphs">GSE119336</text>
<text x="1669.7" y="450.8" font-size="22.3" text-anchor="middle" textLength="51.2" lengthAdjust="spacingAndGlyphs">n=15</text>
<line x1="1621.3" y1="442.3" x2="1621.3" y2="671.9" stroke="#111" stroke-width="1.8"/>
<line x1="1620.4" y1="671" x2="1916.8" y2="671" stroke="#111" stroke-width="1.8"/>
<line x1="1613" y1="671.0" x2="1621.3" y2="671.0" stroke="#111" stroke-width="1.8"/>
<text x="1606.8" y="681.2" font-size="23.3" text-anchor="end">0</text>
<line x1="1613" y1="625.43" x2="1621.3" y2="625.43" stroke="#111" stroke-width="1.8"/>
<text x="1606.8" y="635.63" font-size="23.3" text-anchor="end">1</text>
<line x1="1613" y1="579.86" x2="1621.3" y2="579.86" stroke="#111" stroke-width="1.8"/>
<text x="1606.8" y="590.0600000000001" font-size="23.3" text-anchor="end">2</text>
<line x1="1613" y1="534.29" x2="1621.3" y2="534.29" stroke="#111" stroke-width="1.8"/>
<text x="1606.8" y="544.49" font-size="23.3" text-anchor="end">3</text>
<line x1="1613" y1="488.72" x2="1621.3" y2="488.72" stroke="#111" stroke-width="1.8"/>
<text x="1606.8" y="498.92" font-size="23.3" text-anchor="end">4</text>
<line x1="1613" y1="443.15" x2="1621.3" y2="443.15" stroke="#111" stroke-width="1.8"/>
<text x="1606.8" y="453.34999999999997" font-size="23.3" text-anchor="end">5</text>
<line x1="1718.8" y1="671" x2="1718.8" y2="678" stroke="#111" stroke-width="1.8"/>
<line x1="1865.1" y1="671" x2="1865.1" y2="678" stroke="#111" stroke-width="1.8"/>
<text x="1721.9" y="703.9" font-size="23.3" text-anchor="middle" textLength="121.5" lengthAdjust="spacingAndGlyphs">Para-tumor</text>
<text x="1862.4" y="703.9" font-size="23.3" text-anchor="middle" textLength="69.9" lengthAdjust="spacingAndGlyphs">Tumor</text>
<text x="0" y="0" font-size="22.5" text-anchor="middle" textLength="200" lengthAdjust="spacingAndGlyphs" transform="translate(1570.7,557.1) rotate(-90)">SVEP1 expression</text>
<line x1="1718.8" y1="462.2" x2="1862.3" y2="462.2" stroke="#111" stroke-width="3.8"/>
<text x="1796.5" y="448" font-size="30" text-anchor="middle">*</text>
<line x1="1718.8" y1="475.5" x2="1865.1" y2="614.0" stroke="#111" stroke-width="2.2"/>
<line x1="1718.8" y1="559.8" x2="1865.1" y2="597.6" stroke="#111" stroke-width="2.2"/>
<line x1="1718.8" y1="579.9" x2="1865.1" y2="628.6" stroke="#111" stroke-width="2.2"/>
<line x1="1718.8" y1="629.1" x2="1865.1" y2="600.8" stroke="#111" stroke-width="2.2"/>
<line x1="1718.8" y1="641.8" x2="1865.1" y2="641.4" stroke="#111" stroke-width="2.2"/>
<line x1="1718.8" y1="653.2" x2="1865.1" y2="642.7" stroke="#111" stroke-width="2.2"/>
<line x1="1718.8" y1="663.3" x2="1865.1" y2="669.6" stroke="#111" stroke-width="2.2"/>
<line x1="1718.8" y1="615.9" x2="1865.1" y2="661.9" stroke="#111" stroke-width="2.2"/>
<line x1="1718.8" y1="618.6" x2="1865.1" y2="665.5" stroke="#111" stroke-width="2.2"/>
<line x1="1718.8" y1="624.1" x2="1865.1" y2="659.2" stroke="#111" stroke-width="2.2"/>
<line x1="1718.8" y1="626.8" x2="1865.1" y2="667.4" stroke="#111" stroke-width="2.2"/>
<line x1="1718.8" y1="630.9" x2="1865.1" y2="670.1" stroke="#111" stroke-width="2.2"/>
<line x1="1718.8" y1="634.1" x2="1865.1" y2="663.3" stroke="#111" stroke-width="2.2"/>
<line x1="1718.8" y1="636.4" x2="1865.1" y2="671.0" stroke="#111" stroke-width="2.2"/>
<line x1="1718.8" y1="639.1" x2="1865.1" y2="666.4" stroke="#111" stroke-width="2.2"/>
<circle cx="1718.8" cy="475.5" r="4.6" fill="#2a22e0"/>
<circle cx="1865.1" cy="614.0" r="4.6" fill="#ee2b24"/>
<circle cx="1718.8" cy="559.8" r="4.6" fill="#2a22e0"/>
<circle cx="1865.1" cy="597.6" r="4.6" fill="#ee2b24"/>
<circle cx="1718.8" cy="579.9" r="4.6" fill="#2a22e0"/>
<circle cx="1865.1" cy="628.6" r="4.6" fill="#ee2b24"/>
<circle cx="1718.8" cy="629.1" r="4.6" fill="#2a22e0"/>
<circle cx="1865.1" cy="600.8" r="4.6" fill="#ee2b24"/>
<circle cx="1718.8" cy="641.8" r="4.6" fill="#2a22e0"/>
<circle cx="1865.1" cy="641.4" r="4.6" fill="#ee2b24"/>
<circle cx="1718.8" cy="653.2" r="4.6" fill="#2a22e0"/>
<circle cx="1865.1" cy="642.7" r="4.6" fill="#ee2b24"/>
<circle cx="1718.8" cy="663.3" r="4.6" fill="#2a22e0"/>
<circle cx="1865.1" cy="669.6" r="4.6" fill="#ee2b24"/>
<circle cx="1718.8" cy="615.9" r="4.6" fill="#2a22e0"/>
<circle cx="1865.1" cy="661.9" r="4.6" fill="#ee2b24"/>
<circle cx="1718.8" cy="618.6" r="4.6" fill="#2a22e0"/>
<circle cx="1865.1" cy="665.5" r="4.6" fill="#ee2b24"/>
<circle cx="1718.8" cy="624.1" r="4.6" fill="#2a22e0"/>
<circle cx="1865.1" cy="659.2" r="4.6" fill="#ee2b24"/>
<circle cx="1718.8" cy="626.8" r="4.6" fill="#2a22e0"/>
<circle cx="1865.1" cy="667.4" r="4.6" fill="#ee2b24"/>
<circle cx="1718.8" cy="630.9" r="4.6" fill="#2a22e0"/>
<circle cx="1865.1" cy="670.1" r="4.6" fill="#ee2b24"/>
<circle cx="1718.8" cy="634.1" r="4.6" fill="#2a22e0"/>
<circle cx="1865.1" cy="663.3" r="4.6" fill="#ee2b24"/>
<circle cx="1718.8" cy="636.4" r="4.6" fill="#2a22e0"/>
<circle cx="1865.1" cy="671.0" r="4.6" fill="#ee2b24"/>
<circle cx="1718.8" cy="639.1" r="4.6" fill="#2a22e0"/>
<circle cx="1865.1" cy="666.4" r="4.6" fill="#ee2b24"/>
<text x="1029" y="771.5" font-size="52">F</text>
<path d="M1181.2 770.2H1185.2V786.2H1189.2V819.5H1211.3V838.4H1216.2V892.8H1225.0V928.3H1238.3V971.7H1246.7V993.3H1264.0" fill="none" stroke="#4a8fdd" stroke-width="2.6"/>
<path d="M1207.3 815.3v8.4M1203.7 819.5h7.2M1260.0 989.1v8.4M1256.4 993.3h7.2" fill="none" stroke="#4a8fdd" stroke-width="1.3"/>
<path d="M1181.2 770.2H1198.5V789.9H1216.2V811.3H1220.6V831.0H1265.3V854.2H1476.9" fill="none" stroke="#d9362b" stroke-width="2.4"/>
<path d="M1185.2 766.0v8.4M1181.6 770.2h7.2M1189.6 766.0v8.4M1186.0 770.2h7.2M1242.7 826.8v8.4M1239.1 831.0h7.2M1273.7 850.0v8.4M1270.1 854.2h7.2M1277.3 850.0v8.4M1273.7 854.2h7.2M1340.6 850.0v8.4M1337.0 854.2h7.2M1353.4 850.0v8.4M1349.8 854.2h7.2M1397.2 850.0v8.4M1393.6 854.2h7.2M1410.5 850.0v8.4M1406.9 854.2h7.2M1419.8 850.0v8.4M1416.2 854.2h7.2M1472.9 850.0v8.4M1469.3 854.2h7.2" fill="none" stroke="#d9362b" stroke-width="1.3"/>
<line x1="1181.2" y1="759.4" x2="1181.2" y2="1049" stroke="#222" stroke-width="1.5"/>
<line x1="1180.5" y1="1047.4" x2="1482.8" y2="1047.4" stroke="#222" stroke-width="1.6"/>
<line x1="1173" y1="770.1999999999999" x2="1181" y2="770.1999999999999" stroke="#222" stroke-width="1.6"/>
<text x="1170.3" y="778.1999999999999" font-size="23.3" text-anchor="end">1.0</text>
<line x1="1173" y1="823.52" x2="1181" y2="823.52" stroke="#222" stroke-width="1.6"/>
<text x="1170.3" y="831.52" font-size="23.3" text-anchor="end">0.8</text>
<line x1="1173" y1="876.8399999999999" x2="1181" y2="876.8399999999999" stroke="#222" stroke-width="1.6"/>
<text x="1170.3" y="884.8399999999999" font-size="23.3" text-anchor="end">0.6</text>
<line x1="1173" y1="930.16" x2="1181" y2="930.16" stroke="#222" stroke-width="1.6"/>
<text x="1170.3" y="938.16" font-size="23.3" text-anchor="end">0.4</text>
<line x1="1173" y1="983.4799999999999" x2="1181" y2="983.4799999999999" stroke="#222" stroke-width="1.6"/>
<text x="1170.3" y="991.4799999999999" font-size="23.3" text-anchor="end">0.2</text>
<line x1="1173" y1="1036.8" x2="1181" y2="1036.8" stroke="#222" stroke-width="1.6"/>
<text x="1170.3" y="1044.8" font-size="23.3" text-anchor="end">0.0</text>
<line x1="1181.2" y1="1047.4" x2="1181.2" y2="1055" stroke="#222" stroke-width="1.6"/>
<text x="1181.2" y="1080.3" font-size="23.3" text-anchor="middle">0</text>
<line x1="1225.47" y1="1047.4" x2="1225.47" y2="1055" stroke="#222" stroke-width="1.6"/>
<text x="1225.47" y="1080.3" font-size="23.3" text-anchor="middle">10</text>
<line x1="1269.74" y1="1047.4" x2="1269.74" y2="1055" stroke="#222" stroke-width="1.6"/>
<text x="1269.74" y="1080.3" font-size="23.3" text-anchor="middle">20</text>
<line x1="1314.01" y1="1047.4" x2="1314.01" y2="1055" stroke="#222" stroke-width="1.6"/>
<text x="1314.01" y="1080.3" font-size="23.3" text-anchor="middle">30</text>
<line x1="1358.28" y1="1047.4" x2="1358.28" y2="1055" stroke="#222" stroke-width="1.6"/>
<text x="1358.28" y="1080.3" font-size="23.3" text-anchor="middle">40</text>
<line x1="1402.55" y1="1047.4" x2="1402.55" y2="1055" stroke="#222" stroke-width="1.6"/>
<text x="1402.55" y="1080.3" font-size="23.3" text-anchor="middle">50</text>
<line x1="1446.8200000000002" y1="1047.4" x2="1446.8200000000002" y2="1055" stroke="#222" stroke-width="1.6"/>
<text x="1446.8200000000002" y="1080.3" font-size="23.3" text-anchor="middle">60</text>
<text x="1335.7" y="1106" font-size="23.3" text-anchor="middle" textLength="158" lengthAdjust="spacingAndGlyphs">Time (months)</text>
<text x="0" y="0" font-size="22" text-anchor="middle" textLength="229" lengthAdjust="spacingAndGlyphs" transform="translate(1124.7,902.5) rotate(-90)">Disease-free survival</text>
<text x="1287.3" y="751.5" font-size="23.3" textLength="201.4" lengthAdjust="spacingAndGlyphs">SVEP1 expression</text>
<line x1="1278.7" y1="765.3" x2="1303.3" y2="765.3" stroke="#4a8fdd" stroke-width="2.3"/>
<text x="1308.5" y="772.7" font-size="23.3" textLength="173" lengthAdjust="spacingAndGlyphs">Low expression</text>
<line x1="1278.7" y1="785.5" x2="1303.3" y2="785.5" stroke="#d9362b" stroke-width="2.3"/>
<text x="1308.5" y="795.4" font-size="23.3" textLength="178" lengthAdjust="spacingAndGlyphs">High expression</text>
<line x1="1278.7" y1="811.7" x2="1303.3" y2="811.7" stroke="#4a8fdd" stroke-width="2.3"/>
<line x1="1292.0" y1="805.2" x2="1292.0" y2="818.2" stroke="#4a8fdd" stroke-width="1.5"/>
<text x="1308.5" y="817.6" font-size="23.3" textLength="154.6" lengthAdjust="spacingAndGlyphs">Low-censored</text>
<line x1="1278.7" y1="830.5" x2="1303.3" y2="830.5" stroke="#d9362b" stroke-width="2.3"/>
<line x1="1292.0" y1="824.0" x2="1292.0" y2="837.0" stroke="#d9362b" stroke-width="1.5"/>
<text x="1308.5" y="837.4" font-size="23.3" textLength="159.5" lengthAdjust="spacingAndGlyphs">High-censored</text>
<text x="1399.9" y="877.9" font-size="23.3" textLength="68" lengthAdjust="spacingAndGlyphs">(n=16)</text>
<text x="1258.7" y="972.6" font-size="23.3" textLength="68" lengthAdjust="spacingAndGlyphs">(n=16)</text>
<text x="1213.8" y="1030.6" font-size="23.3" textLength="84.4" lengthAdjust="spacingAndGlyphs"><tspan font-style="italic">p</tspan>=0.004</text>
<text x="1511" y="771.5" font-size="52">G</text>
<path d="M1619.1 766.8H1623.1V783.1H1645.8V816.6H1663.5V833.4H1703.5V853.5H1716.0V873.3H1725.7V893.9H1729.7V913.1H1756.8V934.0H1800.8V959.1H1827.9V983.7H1908.3V1034.3H1908.3" fill="none" stroke="#4a8fdd" stroke-width="2.6"/>
<path d="M1685.3 829.2v8.4M1681.7 833.4h7.2M1699.1 829.2v8.4M1695.5 833.4h7.2M1796.8 929.8v8.4M1793.2 934.0h7.2M1840.8 979.5v8.4M1837.2 983.7h7.2" fill="none" stroke="#4a8fdd" stroke-width="1.3"/>
<path d="M1619.1 766.8H1623.1V783.1H1672.4V802.4H1685.3V823.5H1712.4V844.4H1916.8" fill="none" stroke="#d9362b" stroke-width="2.4"/>
<path d="M1628.0 778.9v8.4M1624.4 783.1h7.2M1681.3 798.2v8.4M1677.7 802.4h7.2M1716.8 840.2v8.4M1713.2 844.4h7.2M1739.1 840.2v8.4M1735.5 844.4h7.2M1779.0 840.2v8.4M1775.4 844.4h7.2M1792.4 840.2v8.4M1788.8 844.4h7.2M1836.8 840.2v8.4M1833.2 844.4h7.2M1850.1 840.2v8.4M1846.5 844.4h7.2M1859.0 840.2v8.4M1855.4 844.4h7.2M1912.3 840.2v8.4M1908.7 844.4h7.2" fill="none" stroke="#d9362b" stroke-width="1.3"/>
<line x1="1619.1" y1="756.9" x2="1619.1" y2="1046.5" stroke="#222" stroke-width="1.5"/>
<line x1="1618.4" y1="1045.7" x2="1922.2" y2="1045.7" stroke="#222" stroke-width="1.5"/>
<line x1="1611" y1="766.8" x2="1619" y2="766.8" stroke="#222" stroke-width="1.6"/>
<text x="1607.2" y="774.8" font-size="23.3" text-anchor="end">1.0</text>
<line x1="1611" y1="820.3" x2="1619" y2="820.3" stroke="#222" stroke-width="1.6"/>
<text x="1607.2" y="828.3" font-size="23.3" text-anchor="end">0.8</text>
<line x1="1611" y1="873.8" x2="1619" y2="873.8" stroke="#222" stroke-width="1.6"/>
<text x="1607.2" y="881.8" font-size="23.3" text-anchor="end">0.6</text>
<line x1="1611" y1="927.3" x2="1619" y2="927.3" stroke="#222" stroke-width="1.6"/>
<text x="1607.2" y="935.3" font-size="23.3" text-anchor="end">0.4</text>
<line x1="1611" y1="980.8" x2="1619" y2="980.8" stroke="#222" stroke-width="1.6"/>
<text x="1607.2" y="988.8" font-size="23.3" text-anchor="end">0.2</text>
<line x1="1611" y1="1034.3" x2="1619" y2="1034.3" stroke="#222" stroke-width="1.6"/>
<text x="1607.2" y="1042.3" font-size="23.3" text-anchor="end">0.0</text>
<line x1="1619.1" y1="1045.7" x2="1619.1" y2="1052.5" stroke="#222" stroke-width="1.5"/>
<text x="1619.1" y="1081.3" font-size="23.3" text-anchor="middle">0</text>
<line x1="1663.53" y1="1045.7" x2="1663.53" y2="1052.5" stroke="#222" stroke-width="1.5"/>
<text x="1663.53" y="1081.3" font-size="23.3" text-anchor="middle">10</text>
<line x1="1707.9599999999998" y1="1045.7" x2="1707.9599999999998" y2="1052.5" stroke="#222" stroke-width="1.5"/>
<text x="1707.9599999999998" y="1081.3" font-size="23.3" text-anchor="middle">20</text>
<line x1="1752.3899999999999" y1="1045.7" x2="1752.3899999999999" y2="1052.5" stroke="#222" stroke-width="1.5"/>
<text x="1752.3899999999999" y="1081.3" font-size="23.3" text-anchor="middle">30</text>
<line x1="1796.82" y1="1045.7" x2="1796.82" y2="1052.5" stroke="#222" stroke-width="1.5"/>
<text x="1796.82" y="1081.3" font-size="23.3" text-anchor="middle">40</text>
<line x1="1841.25" y1="1045.7" x2="1841.25" y2="1052.5" stroke="#222" stroke-width="1.5"/>
<text x="1841.25" y="1081.3" font-size="23.3" text-anchor="middle">50</text>
<line x1="1885.6799999999998" y1="1045.7" x2="1885.6799999999998" y2="1052.5" stroke="#222" stroke-width="1.5"/>
<text x="1885.6799999999998" y="1081.3" font-size="23.3" text-anchor="middle">60</text>
<text x="1772.6" y="1106" font-size="23.3" text-anchor="middle" textLength="158" lengthAdjust="spacingAndGlyphs">Time (months)</text>
<text x="0" y="0" font-size="22" text-anchor="middle" textLength="169" lengthAdjust="spacingAndGlyphs" transform="translate(1558.8,904.3) rotate(-90)">Overall survival</text>
<text x="1747.9" y="748.2" font-size="23.3" textLength="201.4" lengthAdjust="spacingAndGlyphs">SVEP1 expression</text>
<line x1="1742.5" y1="761.8" x2="1767" y2="761.8" stroke="#4a8fdd" stroke-width="2.3"/>
<text x="1769.2" y="769.4" font-size="23.3" textLength="173" lengthAdjust="spacingAndGlyphs">Low expression</text>
<line x1="1742.5" y1="782.6" x2="1767" y2="782.6" stroke="#d9362b" stroke-width="2.3"/>
<text x="1769.2" y="792" font-size="23.3" textLength="178" lengthAdjust="spacingAndGlyphs">High expression</text>
<line x1="1742.5" y1="805.8" x2="1767" y2="805.8" stroke="#4a8fdd" stroke-width="2.3"/>
<line x1="1755.75" y1="799.3" x2="1755.75" y2="812.3" stroke="#4a8fdd" stroke-width="1.5"/>
<text x="1769.2" y="813.8" font-size="23.3" textLength="155" lengthAdjust="spacingAndGlyphs">Low-censored</text>
<line x1="1742.5" y1="826.5" x2="1767" y2="826.5" stroke="#d9362b" stroke-width="2.3"/>
<line x1="1755.75" y1="820.0" x2="1755.75" y2="833.0" stroke="#d9362b" stroke-width="1.5"/>
<text x="1769.2" y="834" font-size="23.3" textLength="160" lengthAdjust="spacingAndGlyphs">High-censored</text>
<text x="1839.3" y="875.4" font-size="23.3" textLength="68" lengthAdjust="spacingAndGlyphs">(n=16)</text>
<text x="1842.2" y="973.6" font-size="23.3" textLength="68" lengthAdjust="spacingAndGlyphs">(n=16)</text>
<text x="1647.7" y="1029.6" font-size="23.3" textLength="84.4" lengthAdjust="spacingAndGlyphs"><tspan font-style="italic">p</tspan>=0.046</text>
<text x="1026" y="1128" font-size="52">H</text>
<text x="1117.5" y="1147.4" font-size="22" textLength="712" lengthAdjust="spacingAndGlyphs">Enrichment plot:ANDERSEN_CHOLANGIOCARCINOMA_CLASS2</text>
<text x="1685.2" y="1176.8" font-size="23.3" text-anchor="middle">n</text>
<text x="1819" y="1176.8" font-size="23.3" text-anchor="middle" textLength="80" lengthAdjust="spacingAndGlyphs"><tspan font-style="italic">p</tspan>-value</text>
<text x="1142.2" y="1208.4" font-size="23.3" textLength="124.4" lengthAdjust="spacingAndGlyphs">GSE132305</text>
<text x="1685.2" y="1208.4" font-size="23.3" text-anchor="middle">220</text>
<text x="1818.5" y="1208.4" font-size="23.3" text-anchor="middle">0.017</text>
<text x="1142.2" y="1245.9" font-size="23.3" textLength="111.1" lengthAdjust="spacingAndGlyphs">GSE89749</text>
<text x="1685.2" y="1245.9" font-size="23.3" text-anchor="middle">120</text>
<text x="1818.5" y="1245.9" font-size="23.3" text-anchor="middle">0.039</text>
<text x="1142.2" y="1282.9" font-size="23.3" textLength="110.1" lengthAdjust="spacingAndGlyphs">GSE45001</text>
<text x="1685.2" y="1282.9" font-size="23.3" text-anchor="middle">20</text>
<text x="1818.5" y="1282.9" font-size="23.3" text-anchor="middle">0.033</text>
<ellipse cx="1333.2" cy="1199" rx="6.4" ry="3.1" fill="#000"/>
<rect x="1340.6" y="1233.5" width="13.4" height="6" fill="#000"/>
<path d="M1351 1270h12.4l-6.2 6.2z" fill="#000"/>
<line x1="1470.5" y1="1174" x2="1470.5" y2="1307" stroke="#111" stroke-width="2.1" stroke-dasharray="2 2.1"/>
<line x1="1309" y1="1306.6" x2="1631.4" y2="1306.6" stroke="#111" stroke-width="2.1"/>
<line x1="1310.0" y1="1306" x2="1310.0" y2="1312.5" stroke="#111" stroke-width="2.1"/>
<text x="1309.0" y="1342.6" font-size="23.3" text-anchor="middle">-2.0</text>
<line x1="1390.1" y1="1306" x2="1390.1" y2="1312.5" stroke="#111" stroke-width="2.1"/>
<text x="1389.1" y="1342.6" font-size="23.3" text-anchor="middle">-1.5</text>
<line x1="1470.2" y1="1306" x2="1470.2" y2="1312.5" stroke="#111" stroke-width="2.1"/>
<text x="1469.2" y="1342.6" font-size="23.3" text-anchor="middle">-1.0</text>
<line x1="1550.3" y1="1306" x2="1550.3" y2="1312.5" stroke="#111" stroke-width="2.1"/>
<text x="1549.3" y="1342.6" font-size="23.3" text-anchor="middle">-0.5</text>
<line x1="1630.4" y1="1306" x2="1630.4" y2="1312.5" stroke="#111" stroke-width="2.1"/>
<text x="1630.4" y="1342.6" font-size="23.3" text-anchor="middle">0.0</text>
<text x="1473" y="1375.2" font-size="23.3" text-anchor="middle">NES</text>
</svg>
</body></html>
